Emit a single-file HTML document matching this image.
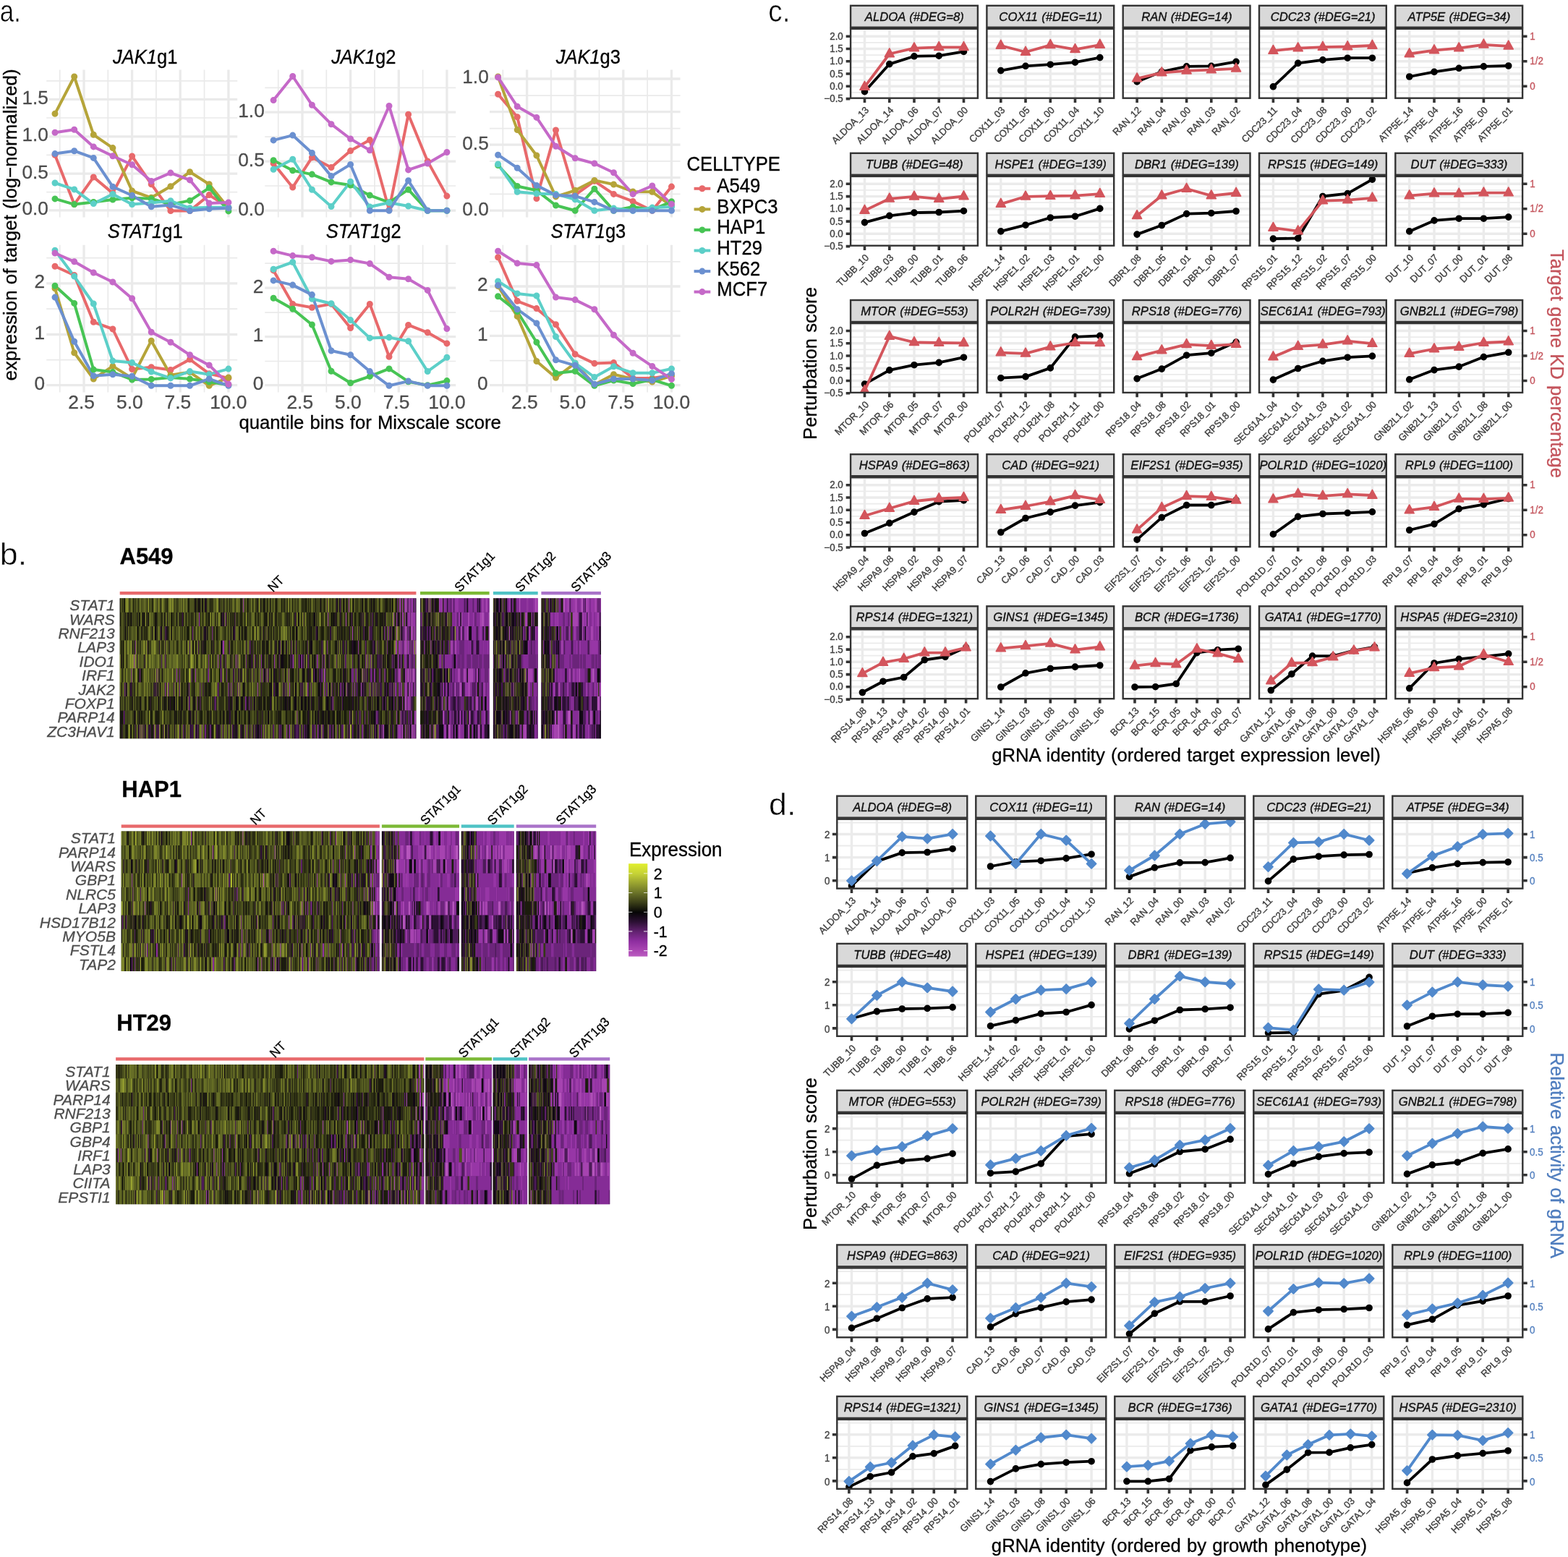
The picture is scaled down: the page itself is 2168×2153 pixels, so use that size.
<!DOCTYPE html>
<html lang="en"><head><meta charset="utf-8"><title>Figure</title>
<style>html,body{margin:0;padding:0;background:#fff}svg{display:block}text{font-family:'Liberation Sans', 'DejaVu Sans', sans-serif;stroke-width:0.3px}.al{fill:none;stroke-width:4;stroke-linejoin:round;stroke-linecap:round}.ap{fill:none;stroke-width:9;stroke-linecap:round}.cl{fill:none;stroke-width:3.8;stroke-linejoin:round;stroke-linecap:round}.cp{fill:none;stroke-width:9.6;stroke-linecap:round}.bd{fill:none;stroke:#333;stroke-width:2.4}.st{fill:#D9D9D9;stroke:#333;stroke-width:2.4}.stt{font-style:italic;stroke-width:0.35px;word-spacing:0.8px}.tk{stroke:#333;stroke-width:3.6;fill:none}.ws{word-spacing:1px}.g{stroke-width:0.35px}</style></head><body>
<svg xmlns="http://www.w3.org/2000/svg" width="2168" height="2153" viewBox="0 0 2168 2153">
<rect width="2168" height="2153" fill="#fff"/>
<g id="panel-a">
<path d="M64.2 111.8H328.2M64.2 163H328.2M64.2 214.3H328.2M64.2 265.6H328.2M82.7 96.6V300.5M149.3 96.6V300.5M215.9 96.6V300.5M282.5 96.6V300.5" stroke="#EAEAEA" stroke-width="1.7" fill="none"/>
<path d="M68 137.3H328.2M68 188.8H328.2M68 240.2H328.2M68 290.9H328.2M116 96.6V300.5M182.6 96.6V300.5M249.2 96.6V300.5M315.9 96.6V300.5" stroke="#EAEAEA" stroke-width="3.3" fill="none"/>
<text transform="translate(66.8,143.7)" font-size="26.2" fill="#4D4D4D" stroke="#4D4D4D" text-anchor="end">1.5</text>
<text transform="translate(66.8,195.2)" font-size="26.2" fill="#4D4D4D" stroke="#4D4D4D" text-anchor="end">1.0</text>
<text transform="translate(66.8,246.6)" font-size="26.2" fill="#4D4D4D" stroke="#4D4D4D" text-anchor="end">0.5</text>
<text transform="translate(66.8,297.3)" font-size="26.2" fill="#4D4D4D" stroke="#4D4D4D" text-anchor="end">0.0</text>
<text transform="translate(200.7,87.6) scale(1.0,1.05)" font-size="25.5" stroke="#000" text-anchor="middle"><tspan font-style="italic">JAK1</tspan>g1</text>
<polyline points="76,214.3 102.7,282.6 129.3,244.9 155.9,267.1 182.6,215.9 209.2,254.7 235.9,291.5 262.5,291.5 289.2,269.6 315.9,286.7" stroke="#E8696B" class="al"/>
<polyline points="76,157.3 102.7,106 129.3,186.3 155.9,204.6 182.6,264 209.2,273.3 235.9,257.8 262.5,237.7 289.2,254.7 315.9,287.8" stroke="#B5A439" class="al"/>
<polyline points="76,274.9 102.7,282.6 129.3,279.5 155.9,276 182.6,273.7 209.2,274.7 235.9,282.6 262.5,277.4 289.2,259.8 315.9,291.9" stroke="#47C454" class="al"/>
<polyline points="76,253 102.7,261.9 129.3,281.6 155.9,268.5 182.6,282.6 209.2,280.5 235.9,277.8 262.5,287.8 289.2,286.7 315.9,286.7" stroke="#5CCFC8" class="al"/>
<polyline points="76,212.6 102.7,208.7 129.3,218.4 155.9,258.2 182.6,270.2 209.2,285.7 235.9,283.6 262.5,291.5 289.2,288.8 315.9,287.8" stroke="#6B90D0" class="al"/>
<polyline points="76,183.2 102.7,179.3 129.3,202.9 155.9,215.7 182.6,227.7 209.2,250.5 235.9,239.1 262.5,248.9 289.2,281 315.9,279.9" stroke="#C569C8" class="al"/>
<path d="M76 214.3h0M102.7 282.6h0M129.3 244.9h0M155.9 267.1h0M182.6 215.9h0M209.2 254.7h0M235.9 291.5h0M262.5 291.5h0M289.2 269.6h0M315.9 286.7h0" stroke="#E8696B" class="ap"/>
<path d="M76 157.3h0M102.7 106h0M129.3 186.3h0M155.9 204.6h0M182.6 264h0M209.2 273.3h0M235.9 257.8h0M262.5 237.7h0M289.2 254.7h0M315.9 287.8h0" stroke="#B5A439" class="ap"/>
<path d="M76 274.9h0M102.7 282.6h0M129.3 279.5h0M155.9 276h0M182.6 273.7h0M209.2 274.7h0M235.9 282.6h0M262.5 277.4h0M289.2 259.8h0M315.9 291.9h0" stroke="#47C454" class="ap"/>
<path d="M76 253h0M102.7 261.9h0M129.3 281.6h0M155.9 268.5h0M182.6 282.6h0M209.2 280.5h0M235.9 277.8h0M262.5 287.8h0M289.2 286.7h0M315.9 286.7h0" stroke="#5CCFC8" class="ap"/>
<path d="M76 212.6h0M102.7 208.7h0M129.3 218.4h0M155.9 258.2h0M182.6 270.2h0M209.2 285.7h0M235.9 283.6h0M262.5 291.5h0M289.2 288.8h0M315.9 287.8h0" stroke="#6B90D0" class="ap"/>
<path d="M76 183.2h0M102.7 179.3h0M129.3 202.9h0M155.9 215.7h0M182.6 227.7h0M209.2 250.5h0M235.9 239.1h0M262.5 248.9h0M289.2 281h0M315.9 279.9h0" stroke="#C569C8" class="ap"/>
<path d="M366.3 121.4H630.2M366.3 189.1H630.2M366.3 257H630.2M384.7 96.6V300.5M451.3 96.6V300.5M518 96.6V300.5M584.6 96.6V300.5" stroke="#EAEAEA" stroke-width="1.7" fill="none"/>
<path d="M366.3 155.2H630.2M366.3 223.1H630.2M366.3 291.2H630.2M418 96.6V300.5M484.6 96.6V300.5M551.3 96.6V300.5M617.9 96.6V300.5" stroke="#EAEAEA" stroke-width="3.3" fill="none"/>
<text transform="translate(365.7,161.6)" font-size="26.2" fill="#4D4D4D" stroke="#4D4D4D" text-anchor="end">1.0</text>
<text transform="translate(365.7,229.5)" font-size="26.2" fill="#4D4D4D" stroke="#4D4D4D" text-anchor="end">0.5</text>
<text transform="translate(365.7,297.6)" font-size="26.2" fill="#4D4D4D" stroke="#4D4D4D" text-anchor="end">0.0</text>
<text transform="translate(502.75,87.6) scale(1.0,1.05)" font-size="25.5" stroke="#000" text-anchor="middle"><tspan font-style="italic">JAK1</tspan>g2</text>
<polyline points="378.1,226 404.7,259.1 431.4,217.7 458,231.6 484.6,208.6 511.3,193.5 538,290.2 564.6,158.3 591.2,222.9 617.9,271.1" stroke="#E8696B" class="al"/>
<polyline points="378.1,221.8 404.7,235.7 431.4,241.1 458,251.9 484.6,256 511.3,270.1 538,279.8 564.6,262.2 591.2,291.2 617.9,291.2" stroke="#47C454" class="al"/>
<polyline points="378.1,234.3 404.7,220.2 431.4,262.2 458,285.6 484.6,251.2 511.3,286 538,280.2 564.6,285 591.2,291.2 617.9,291.2" stroke="#5CCFC8" class="al"/>
<polyline points="378.1,193.9 404.7,187.1 431.4,211.5 458,243.6 484.6,227.4 511.3,291.2 538,291.2 564.6,249.8 591.2,291.2 617.9,291.2" stroke="#6B90D0" class="al"/>
<polyline points="378.1,138.6 404.7,105.5 431.4,145.2 458,171.7 484.6,192 511.3,207.8 538,146.5 564.6,234.9 591.2,226 617.9,210.5" stroke="#C569C8" class="al"/>
<path d="M378.1 226h0M404.7 259.1h0M431.4 217.7h0M458 231.6h0M484.6 208.6h0M511.3 193.5h0M538 290.2h0M564.6 158.3h0M591.2 222.9h0M617.9 271.1h0" stroke="#E8696B" class="ap"/>
<path d="M378.1 221.8h0M404.7 235.7h0M431.4 241.1h0M458 251.9h0M484.6 256h0M511.3 270.1h0M538 279.8h0M564.6 262.2h0M591.2 291.2h0M617.9 291.2h0" stroke="#47C454" class="ap"/>
<path d="M378.1 234.3h0M404.7 220.2h0M431.4 262.2h0M458 285.6h0M484.6 251.2h0M511.3 286h0M538 280.2h0M564.6 285h0M591.2 291.2h0M617.9 291.2h0" stroke="#5CCFC8" class="ap"/>
<path d="M378.1 193.9h0M404.7 187.1h0M431.4 211.5h0M458 243.6h0M484.6 227.4h0M511.3 291.2h0M538 291.2h0M564.6 249.8h0M591.2 291.2h0M617.9 291.2h0" stroke="#6B90D0" class="ap"/>
<path d="M378.1 138.6h0M404.7 105.5h0M431.4 145.2h0M458 171.7h0M484.6 192h0M511.3 207.8h0M538 146.5h0M564.6 234.9h0M591.2 226h0M617.9 210.5h0" stroke="#C569C8" class="ap"/>
<path d="M677 132.2H940.6M677 177.7H940.6M677 222.9H940.6M677 268.4H940.6M695.3 96.6V300.5M761.9 96.6V300.5M828.5 96.6V300.5M895.1 96.6V300.5" stroke="#EAEAEA" stroke-width="1.7" fill="none"/>
<path d="M677 109H940.6M677 154.6H940.6M677 200.1H940.6M677 245.7H940.6M677 291.2H940.6M728.6 96.6V300.5M795.2 96.6V300.5M861.8 96.6V300.5M928.5 96.6V300.5" stroke="#EAEAEA" stroke-width="3.3" fill="none"/>
<text transform="translate(675.7,115.4)" font-size="26.2" fill="#4D4D4D" stroke="#4D4D4D" text-anchor="end">1.0</text>
<text transform="translate(675.7,206.5)" font-size="26.2" fill="#4D4D4D" stroke="#4D4D4D" text-anchor="end">0.5</text>
<text transform="translate(675.7,297.6)" font-size="26.2" fill="#4D4D4D" stroke="#4D4D4D" text-anchor="end">0.0</text>
<text transform="translate(813.3,87.6) scale(1.0,1.05)" font-size="25.5" stroke="#000" text-anchor="middle"><tspan font-style="italic">JAK1</tspan>g3</text>
<polyline points="688.6,130.3 715.2,161.8 741.9,274.6 768.5,180 795.2,269.5 821.9,250.4 848.5,268.4 875.1,278.4 901.8,291.2 928.5,258.1" stroke="#E8696B" class="al"/>
<polyline points="688.6,105.9 715.2,179.6 741.9,215 768.5,271.9 795.2,263.3 821.9,249.4 848.5,255 875.1,264.9 901.8,265.3 928.5,285" stroke="#B5A439" class="al"/>
<polyline points="688.6,228.5 715.2,257.5 741.9,263.3 768.5,284 795.2,291.2 821.9,261.2 848.5,291.2 875.1,286 901.8,290.2 928.5,278.8" stroke="#47C454" class="al"/>
<polyline points="688.6,227 715.2,265.3 741.9,267.8 768.5,268.4 795.2,275.7 821.9,291.2 848.5,288.1 875.1,291.2 901.8,287.1 928.5,286" stroke="#5CCFC8" class="al"/>
<polyline points="688.6,214.2 715.2,232.2 741.9,256.4 768.5,269.9 795.2,271.1 821.9,279.4 848.5,291.2 875.1,291.2 901.8,291.2 928.5,291.2" stroke="#6B90D0" class="al"/>
<polyline points="688.6,106.9 715.2,147.3 741.9,162.4 768.5,202.2 795.2,218.7 821.9,226 848.5,238.8 875.1,268.4 901.8,257 928.5,282.3" stroke="#C569C8" class="al"/>
<path d="M688.6 130.3h0M715.2 161.8h0M741.9 274.6h0M768.5 180h0M795.2 269.5h0M821.9 250.4h0M848.5 268.4h0M875.1 278.4h0M901.8 291.2h0M928.5 258.1h0" stroke="#E8696B" class="ap"/>
<path d="M688.6 105.9h0M715.2 179.6h0M741.9 215h0M768.5 271.9h0M795.2 263.3h0M821.9 249.4h0M848.5 255h0M875.1 264.9h0M901.8 265.3h0M928.5 285h0" stroke="#B5A439" class="ap"/>
<path d="M688.6 228.5h0M715.2 257.5h0M741.9 263.3h0M768.5 284h0M795.2 291.2h0M821.9 261.2h0M848.5 291.2h0M875.1 286h0M901.8 290.2h0M928.5 278.8h0" stroke="#47C454" class="ap"/>
<path d="M688.6 227h0M715.2 265.3h0M741.9 267.8h0M768.5 268.4h0M795.2 275.7h0M821.9 291.2h0M848.5 288.1h0M875.1 291.2h0M901.8 287.1h0M928.5 286h0" stroke="#5CCFC8" class="ap"/>
<path d="M688.6 214.2h0M715.2 232.2h0M741.9 256.4h0M768.5 269.9h0M795.2 271.1h0M821.9 279.4h0M848.5 291.2h0M875.1 291.2h0M901.8 291.2h0M928.5 291.2h0" stroke="#6B90D0" class="ap"/>
<path d="M688.6 106.9h0M715.2 147.3h0M741.9 162.4h0M768.5 202.2h0M795.2 218.7h0M821.9 226h0M848.5 238.8h0M875.1 268.4h0M901.8 257h0M928.5 282.3h0" stroke="#C569C8" class="ap"/>
<path d="M64.2 356.7H328.2M64.2 427.1H328.2M64.2 497.7H328.2M82.7 338.7V542.6M149.3 338.7V542.6M215.9 338.7V542.6M282.5 338.7V542.6" stroke="#EAEAEA" stroke-width="1.7" fill="none"/>
<path d="M64.2 391.9H328.2M64.2 462.5H328.2M64.2 532.7H328.2M116 338.7V542.6M182.6 338.7V542.6M249.2 338.7V542.6M315.9 338.7V542.6" stroke="#EAEAEA" stroke-width="3.3" fill="none"/>
<text transform="translate(62.1,398.3)" font-size="26.2" fill="#4D4D4D" stroke="#4D4D4D" text-anchor="end">2</text>
<text transform="translate(62.1,468.9)" font-size="26.2" fill="#4D4D4D" stroke="#4D4D4D" text-anchor="end">1</text>
<text transform="translate(62.1,539.1)" font-size="26.2" fill="#4D4D4D" stroke="#4D4D4D" text-anchor="end">0</text>
<text transform="translate(112.67,565.4)" font-size="26.4" fill="#4D4D4D" stroke="#4D4D4D" text-anchor="middle">2.5</text>
<text transform="translate(179.3,565.4)" font-size="26.4" fill="#4D4D4D" stroke="#4D4D4D" text-anchor="middle">5.0</text>
<text transform="translate(245.92,565.4)" font-size="26.4" fill="#4D4D4D" stroke="#4D4D4D" text-anchor="middle">7.5</text>
<text transform="translate(315.85,565.4)" font-size="26.4" fill="#4D4D4D" stroke="#4D4D4D" text-anchor="middle">10.0</text>
<text transform="translate(200.7,329) scale(1.0,1.05)" font-size="25.5" stroke="#000" text-anchor="middle"><tspan font-style="italic">STAT1</tspan>g1</text>
<polyline points="76,368.3 102.7,380.5 129.3,445.3 155.9,455 182.6,510.5 209.2,507.8 235.9,511.5 262.5,497 289.2,516.7 315.9,522.9" stroke="#E8696B" class="al"/>
<polyline points="76,398.7 102.7,487.7 129.3,524 155.9,506.4 182.6,522.9 209.2,471.2 235.9,518.8 262.5,514.6 289.2,533.3 315.9,521.9" stroke="#B5A439" class="al"/>
<polyline points="76,395.2 102.7,419.4 129.3,511.1 155.9,514.6 182.6,525 209.2,524.4 235.9,521.9 262.5,524 289.2,528.1 315.9,532.2" stroke="#47C454" class="al"/>
<polyline points="76,346.3 102.7,382.1 129.3,420 155.9,499.1 182.6,501.6 209.2,514 235.9,522.9 262.5,513.6 289.2,517.7 315.9,510.1" stroke="#5CCFC8" class="al"/>
<polyline points="76,411.1 102.7,472.2 129.3,519.8 155.9,517.7 182.6,520.2 209.2,533.3 235.9,533.3 262.5,533.3 289.2,524 315.9,533.3" stroke="#6B90D0" class="al"/>
<polyline points="76,350 102.7,361.8 129.3,377 155.9,390 182.6,412.8 209.2,459.2 235.9,473.2 262.5,490.8 289.2,504.9 315.9,531.2" stroke="#C569C8" class="al"/>
<path d="M76 368.3h0M102.7 380.5h0M129.3 445.3h0M155.9 455h0M182.6 510.5h0M209.2 507.8h0M235.9 511.5h0M262.5 497h0M289.2 516.7h0M315.9 522.9h0" stroke="#E8696B" class="ap"/>
<path d="M76 398.7h0M102.7 487.7h0M129.3 524h0M155.9 506.4h0M182.6 522.9h0M209.2 471.2h0M235.9 518.8h0M262.5 514.6h0M289.2 533.3h0M315.9 521.9h0" stroke="#B5A439" class="ap"/>
<path d="M76 395.2h0M102.7 419.4h0M129.3 511.1h0M155.9 514.6h0M182.6 525h0M209.2 524.4h0M235.9 521.9h0M262.5 524h0M289.2 528.1h0M315.9 532.2h0" stroke="#47C454" class="ap"/>
<path d="M76 346.3h0M102.7 382.1h0M129.3 420h0M155.9 499.1h0M182.6 501.6h0M209.2 514h0M235.9 522.9h0M262.5 513.6h0M289.2 517.7h0M315.9 510.1h0" stroke="#5CCFC8" class="ap"/>
<path d="M76 411.1h0M102.7 472.2h0M129.3 519.8h0M155.9 517.7h0M182.6 520.2h0M209.2 533.3h0M235.9 533.3h0M262.5 533.3h0M289.2 524h0M315.9 533.3h0" stroke="#6B90D0" class="ap"/>
<path d="M76 350h0M102.7 361.8h0M129.3 377h0M155.9 390h0M182.6 412.8h0M209.2 459.2h0M235.9 473.2h0M262.5 490.8h0M289.2 504.9h0M315.9 531.2h0" stroke="#C569C8" class="ap"/>
<path d="M366.3 364.1H630.2M366.3 432.2H630.2M366.3 499.5H630.2M384.7 338.7V542.6M451.3 338.7V542.6M518 338.7V542.6M584.6 338.7V542.6" stroke="#EAEAEA" stroke-width="1.7" fill="none"/>
<path d="M366.3 398.1H630.2M366.3 465.6H630.2M366.3 532.7H630.2M418 338.7V542.6M484.6 338.7V542.6M551.3 338.7V542.6M617.9 338.7V542.6" stroke="#EAEAEA" stroke-width="3.3" fill="none"/>
<text transform="translate(364.3,404.5)" font-size="26.2" fill="#4D4D4D" stroke="#4D4D4D" text-anchor="end">2</text>
<text transform="translate(364.3,472)" font-size="26.2" fill="#4D4D4D" stroke="#4D4D4D" text-anchor="end">1</text>
<text transform="translate(364.3,539.1)" font-size="26.2" fill="#4D4D4D" stroke="#4D4D4D" text-anchor="end">0</text>
<text transform="translate(414.72,565.4)" font-size="26.4" fill="#4D4D4D" stroke="#4D4D4D" text-anchor="middle">2.5</text>
<text transform="translate(481.35,565.4)" font-size="26.4" fill="#4D4D4D" stroke="#4D4D4D" text-anchor="middle">5.0</text>
<text transform="translate(547.98,565.4)" font-size="26.4" fill="#4D4D4D" stroke="#4D4D4D" text-anchor="middle">7.5</text>
<text transform="translate(617.9,565.4)" font-size="26.4" fill="#4D4D4D" stroke="#4D4D4D" text-anchor="middle">10.0</text>
<text transform="translate(502.75,329) scale(1.0,1.05)" font-size="25.5" stroke="#000" text-anchor="middle"><tspan font-style="italic">STAT1</tspan>g2</text>
<polyline points="378.1,373.9 404.7,420.4 431.4,425.2 458,420.4 484.6,453.6 511.3,420.4 538,493.3 564.6,449.4 591.2,459.8 617.9,474.9" stroke="#E8696B" class="al"/>
<polyline points="378.1,412.2 404.7,427.3 431.4,449 458,513.2 484.6,529.5 511.3,520.4 538,509.9 564.6,527.7 591.2,532.7 617.9,526.6" stroke="#47C454" class="al"/>
<polyline points="378.1,372.2 404.7,362.5 431.4,413.2 458,419.8 484.6,442.6 511.3,467.4 538,466.6 564.6,471.8 591.2,513.6 617.9,494.3" stroke="#5CCFC8" class="al"/>
<polyline points="378.1,387.9 404.7,394.1 431.4,407.6 458,485 484.6,490.8 511.3,513.6 538,533.3 564.6,527.1 591.2,533.3 617.9,533.3" stroke="#6B90D0" class="al"/>
<polyline points="378.1,347.3 404.7,353.6 431.4,355.8 458,361.4 484.6,359.4 511.3,364.5 538,383.2 564.6,385.7 591.2,401.4 617.9,454.6" stroke="#C569C8" class="al"/>
<path d="M378.1 373.9h0M404.7 420.4h0M431.4 425.2h0M458 420.4h0M484.6 453.6h0M511.3 420.4h0M538 493.3h0M564.6 449.4h0M591.2 459.8h0M617.9 474.9h0" stroke="#E8696B" class="ap"/>
<path d="M378.1 412.2h0M404.7 427.3h0M431.4 449h0M458 513.2h0M484.6 529.5h0M511.3 520.4h0M538 509.9h0M564.6 527.7h0M591.2 532.7h0M617.9 526.6h0" stroke="#47C454" class="ap"/>
<path d="M378.1 372.2h0M404.7 362.5h0M431.4 413.2h0M458 419.8h0M484.6 442.6h0M511.3 467.4h0M538 466.6h0M564.6 471.8h0M591.2 513.6h0M617.9 494.3h0" stroke="#5CCFC8" class="ap"/>
<path d="M378.1 387.9h0M404.7 394.1h0M431.4 407.6h0M458 485h0M484.6 490.8h0M511.3 513.6h0M538 533.3h0M564.6 527.1h0M591.2 533.3h0M617.9 533.3h0" stroke="#6B90D0" class="ap"/>
<path d="M378.1 347.3h0M404.7 353.6h0M431.4 355.8h0M458 361.4h0M484.6 359.4h0M511.3 364.5h0M538 383.2h0M564.6 385.7h0M591.2 401.4h0M617.9 454.6h0" stroke="#C569C8" class="ap"/>
<path d="M677 361.8H940.6M677 430.4H940.6M677 498.7H940.6M695.3 338.7V542.6M761.9 338.7V542.6M828.5 338.7V542.6M895.1 338.7V542.6" stroke="#EAEAEA" stroke-width="1.7" fill="none"/>
<path d="M677 396H940.6M677 464.3H940.6M677 532.7H940.6M728.6 338.7V542.6M795.2 338.7V542.6M861.8 338.7V542.6M928.5 338.7V542.6" stroke="#EAEAEA" stroke-width="3.3" fill="none"/>
<text transform="translate(674.7,402.4)" font-size="26.2" fill="#4D4D4D" stroke="#4D4D4D" text-anchor="end">2</text>
<text transform="translate(674.7,470.7)" font-size="26.2" fill="#4D4D4D" stroke="#4D4D4D" text-anchor="end">1</text>
<text transform="translate(674.7,539.1)" font-size="26.2" fill="#4D4D4D" stroke="#4D4D4D" text-anchor="end">0</text>
<text transform="translate(725.28,565.4)" font-size="26.4" fill="#4D4D4D" stroke="#4D4D4D" text-anchor="middle">2.5</text>
<text transform="translate(791.9,565.4)" font-size="26.4" fill="#4D4D4D" stroke="#4D4D4D" text-anchor="middle">5.0</text>
<text transform="translate(858.53,565.4)" font-size="26.4" fill="#4D4D4D" stroke="#4D4D4D" text-anchor="middle">7.5</text>
<text transform="translate(928.45,565.4)" font-size="26.4" fill="#4D4D4D" stroke="#4D4D4D" text-anchor="middle">10.0</text>
<text transform="translate(813.3,329) scale(1.0,1.05)" font-size="25.5" stroke="#000" text-anchor="middle"><tspan font-style="italic">STAT1</tspan>g3</text>
<polyline points="688.6,355.8 715.2,416.3 741.9,426.6 768.5,448.8 795.2,489.8 821.9,502.6 848.5,501.6 875.1,522.9 901.8,522.9 928.5,518.8" stroke="#E8696B" class="al"/>
<polyline points="688.6,395.6 715.2,437.4 741.9,499.5 768.5,522.3 795.2,502.2 821.9,531.8 848.5,517.7 875.1,524 901.8,528.1 928.5,519.8" stroke="#B5A439" class="al"/>
<polyline points="688.6,409.7 715.2,430.8 741.9,473.2 768.5,516.1 795.2,513.2 821.9,533.3 848.5,526 875.1,530.6 901.8,525 928.5,533.3" stroke="#47C454" class="al"/>
<polyline points="688.6,389 715.2,405.9 741.9,409 768.5,465.6 795.2,502.2 821.9,521.5 848.5,506.8 875.1,515.7 901.8,515.7 928.5,509.9" stroke="#5CCFC8" class="al"/>
<polyline points="688.6,394.6 715.2,427.7 741.9,446.9 768.5,497.7 795.2,505.3 821.9,531.2 848.5,524 875.1,524 901.8,526 928.5,516.7" stroke="#6B90D0" class="al"/>
<polyline points="688.6,347.3 715.2,364.1 741.9,366.6 768.5,411.1 795.2,414.6 821.9,427.7 848.5,463.3 875.1,488.3 901.8,506.4 928.5,524.4" stroke="#C569C8" class="al"/>
<path d="M688.6 355.8h0M715.2 416.3h0M741.9 426.6h0M768.5 448.8h0M795.2 489.8h0M821.9 502.6h0M848.5 501.6h0M875.1 522.9h0M901.8 522.9h0M928.5 518.8h0" stroke="#E8696B" class="ap"/>
<path d="M688.6 395.6h0M715.2 437.4h0M741.9 499.5h0M768.5 522.3h0M795.2 502.2h0M821.9 531.8h0M848.5 517.7h0M875.1 524h0M901.8 528.1h0M928.5 519.8h0" stroke="#B5A439" class="ap"/>
<path d="M688.6 409.7h0M715.2 430.8h0M741.9 473.2h0M768.5 516.1h0M795.2 513.2h0M821.9 533.3h0M848.5 526h0M875.1 530.6h0M901.8 525h0M928.5 533.3h0" stroke="#47C454" class="ap"/>
<path d="M688.6 389h0M715.2 405.9h0M741.9 409h0M768.5 465.6h0M795.2 502.2h0M821.9 521.5h0M848.5 506.8h0M875.1 515.7h0M901.8 515.7h0M928.5 509.9h0" stroke="#5CCFC8" class="ap"/>
<path d="M688.6 394.6h0M715.2 427.7h0M741.9 446.9h0M768.5 497.7h0M795.2 505.3h0M821.9 531.2h0M848.5 524h0M875.1 524h0M901.8 526h0M928.5 516.7h0" stroke="#6B90D0" class="ap"/>
<path d="M688.6 347.3h0M715.2 364.1h0M741.9 366.6h0M768.5 411.1h0M795.2 414.6h0M821.9 427.7h0M848.5 463.3h0M875.1 488.3h0M901.8 506.4h0M928.5 524.4h0" stroke="#C569C8" class="ap"/>
<text transform="translate(23,311) rotate(-90) scale(1,1.03)" font-size="25.9" stroke="#000" text-anchor="middle" class="ws">expression of target (log−normalized)</text>
<text transform="translate(511.6,592.9) scale(1,1.03)" font-size="25.7" stroke="#000" text-anchor="middle" class="ws">quantile bins for Mixscale score</text>
<text transform="translate(949.5,235.8) scale(1,1.04)" font-size="25.7" stroke="#000">CELLTYPE</text>
<path d="M959.6 260.8H982.3" stroke="#E8696B" stroke-width="4" fill="none"/>
<circle cx="970.9" cy="260.8" r="4.5" fill="#E8696B"/>
<text transform="translate(991.3,266.3) scale(1,1.04)" font-size="25.7" stroke="#000">A549</text>
<path d="M959.6 289.4H982.3" stroke="#B5A439" stroke-width="4" fill="none"/>
<circle cx="970.9" cy="289.4" r="4.5" fill="#B5A439"/>
<text transform="translate(991.3,294.87) scale(1,1.04)" font-size="25.7" stroke="#000">BXPC3</text>
<path d="M959.6 317.9H982.3" stroke="#47C454" stroke-width="4" fill="none"/>
<circle cx="970.9" cy="317.9" r="4.5" fill="#47C454"/>
<text transform="translate(991.3,323.44) scale(1,1.04)" font-size="25.7" stroke="#000">HAP1</text>
<path d="M959.6 346.5H982.3" stroke="#5CCFC8" stroke-width="4" fill="none"/>
<circle cx="970.9" cy="346.5" r="4.5" fill="#5CCFC8"/>
<text transform="translate(991.3,352.01) scale(1,1.04)" font-size="25.7" stroke="#000">HT29</text>
<path d="M959.6 375.1H982.3" stroke="#6B90D0" stroke-width="4" fill="none"/>
<circle cx="970.9" cy="375.1" r="4.5" fill="#6B90D0"/>
<text transform="translate(991.3,380.58) scale(1,1.04)" font-size="25.7" stroke="#000">K562</text>
<path d="M959.6 403.6H982.3" stroke="#C569C8" stroke-width="4" fill="none"/>
<circle cx="970.9" cy="403.6" r="4.5" fill="#C569C8"/>
<text transform="translate(991.3,409.15) scale(1,1.04)" font-size="25.7" stroke="#000">MCF7</text>
</g>
<g id="panel-b">
<g id="hm-a549">
<text transform="translate(165.5,780.3) scale(1,1.03)" font-size="31" stroke="#000" font-weight="bold">A549</text>
<text transform="translate(158.6,844.29)" font-size="21.0" fill="#4D4D4D" stroke="#4D4D4D" text-anchor="end" font-style="italic">STAT1</text>
<text transform="translate(158.6,863.68)" font-size="21.0" fill="#4D4D4D" stroke="#4D4D4D" text-anchor="end" font-style="italic">WARS</text>
<text transform="translate(158.6,883.07)" font-size="21.0" fill="#4D4D4D" stroke="#4D4D4D" text-anchor="end" font-style="italic">RNF213</text>
<text transform="translate(158.6,902.46)" font-size="21.0" fill="#4D4D4D" stroke="#4D4D4D" text-anchor="end" font-style="italic">LAP3</text>
<text transform="translate(158.6,921.85)" font-size="21.0" fill="#4D4D4D" stroke="#4D4D4D" text-anchor="end" font-style="italic">IDO1</text>
<text transform="translate(158.6,941.24)" font-size="21.0" fill="#4D4D4D" stroke="#4D4D4D" text-anchor="end" font-style="italic">IRF1</text>
<text transform="translate(158.6,960.63)" font-size="21.0" fill="#4D4D4D" stroke="#4D4D4D" text-anchor="end" font-style="italic">JAK2</text>
<text transform="translate(158.6,980.02)" font-size="21.0" fill="#4D4D4D" stroke="#4D4D4D" text-anchor="end" font-style="italic">FOXP1</text>
<text transform="translate(158.6,999.41)" font-size="21.0" fill="#4D4D4D" stroke="#4D4D4D" text-anchor="end" font-style="italic">PARP14</text>
<text transform="translate(158.6,1018.8)" font-size="21.0" fill="#4D4D4D" stroke="#4D4D4D" text-anchor="end" font-style="italic">ZC3HAV1</text>
<rect x="165.7" y="818" width="409.7" height="4.4" fill="#E8696B"/>
<text transform="translate(377.55,819.5) rotate(-45) scale(1,1.04)" font-size="17.2" stroke="#000">NT</text>
<rect x="165.7" y="827.3" width="409.7" height="193.9" fill="#3A3A22"/>
<g transform="translate(165.7,827.3) scale(1.3006,19.3900)" fill="none" stroke-width="1.004">
<path d="M304 0.5h1M291 1.5h1m18 0h1M294 2.5h1m9 0h1m4 0h1m1 0h1M305 3.5h1m3 0h1M217 5.5h1m80 0h1m7 0h1m1 0h1m2 0h1h1M256 6.5h1m42 0h1m7 0h1M303 7.5h1M280 9.5h1m19 0h1m9 0h1m1 0h1" stroke="#B555BC"/>
<path d="M131 0.5h1m163 0h1m4 0h1m2 0h1m3 0h1M221 1.5h1m76 0h1m1 0h1m2 0h1M247 2.5h1m55 0h1m6 0h1m2 0h1M294 3.5h1m3 0h1m3 0h1h1h1m2 0h1m4 0h1m1 0h1M15 4.5h1m168 0h1m24 0h1M258 5.5h1m37 0h1h1m7 0h1m3 0h1M48 6.5h1m97 0h1m102 0h1m38 0h1m14 0h1m9 0h1M304 7.5h1m3 0h1M298 8.5h1m14 0h1M207 9.5h1m87 0h1m7 0h1m1 0h1" stroke="#A643B0"/>
<path d="M297 0.5h1h1m6 0h1m2 0h1m1 0h1h1M84 1.5h1m27 0h1m127 0h1m53 0h1m6 0h1m4 0h1h1h1m2 0h1h1h1M265 2.5h1m15 0h1m16 0h1m6 0h1M109 3.5h1h1m182 0h1m3 0h1m1 0h1m11 0h1M164 4.5h1m25 0h1m2 0h1m21 0h1m45 0h1m27 0h1m5 0h1m12 0h1M60 5.5h1m19 0h1m68 0h1m120 0h1m10 0h1m13 0h1m7 0h1h1m8 0h1M5 6.5h1m109 0h1m64 0h1m60 0h1m51 0h1m10 0h1h1m2 0h1m1 0h1M226 7.5h1m73 0h1m5 0h1h1M255 8.5h1m38 0h1m19 0h1M180 9.5h1m45 0h1m31 0h1m19 0h1m17 0h1h1h1m8 0h1m3 0h1" stroke="#9736A6"/>
<path d="M243 0.5h1m58 0h1m6 0h1m3 0h1M309 1.5h1M98 2.5h1m185 0h1m17 0h1m4 0h1m4 0h1M16 3.5h1m121 0h1m114 0h1m7 0h1m34 0h1m9 0h1M104 4.5h1m18 0h1m26 0h1m44 0h1m95 0h1m4 0h1m1 0h1m3 0h1h1h1m2 0h1m1 0h1m2 0h1M12 5.5h1m26 0h1m54 0h1m12 0h1m44 0h1m4 0h1m21 0h1m32 0h1m33 0h1m1 0h1m2 0h1m10 0h1m4 0h1m8 0h1m30 0h1M51 6.5h1m52 0h1m13 0h1m6 0h1m66 0h1m6 0h1m17 0h1m7 0h1m9 0h1m29 0h1m6 0h1m19 0h1m4 0h1m11 0h1m1 0h1M73 7.5h1m27 0h1m31 0h1m157 0h1m13 0h1M4 8.5h1m183 0h1m55 0h1m27 0h1m29 0h1m6 0h1M36 9.5h1m2 0h1m56 0h1m72 0h1m7 0h1m27 0h1m4 0h1m4 0h1m83 0h1m13 0h1" stroke="#852C96"/>
<path d="M268 1.5h1m36 0h1m8 0h1M77 2.5h1m181 0h1m26 0h1m1 0h1m12 0h1m12 0h1M116 3.5h1m65 0h1m37 0h1m63 0h1m15 0h1h1M48 4.5h1m45 0h1m12 0h1m4 0h1m12 0h1m8 0h1m8 0h1m25 0h1m30 0h1m9 0h1m6 0h1m21 0h1m23 0h1m2 0h1m7 0h1m3 0h1m20 0h1m5 0h1m5 0h1m1 0h1M21 5.5h1m41 0h1m12 0h1m36 0h1m41 0h1m50 0h1m7 0h1h1m2 0h1m28 0h1m2 0h1m9 0h1m5 0h1m4 0h1m20 0h1h1m16 0h1M38 6.5h1m24 0h1m9 0h1m11 0h1m89 0h1m43 0h1m14 0h1m2 0h1m9 0h1m20 0h1m17 0h1m3 0h1m5 0h1m1 0h1m3 0h1M82 7.5h1m2 0h1m51 0h1m141 0h1m2 0h1m11 0h1m14 0h1M251 8.5h1m8 0h1m12 0h1m25 0h1m7 0h1m2 0h1M22 9.5h1m18 0h1m25 0h1m14 0h1m4 0h1m2 0h1h1m17 0h1m9 0h1m13 0h1m8 0h1m7 0h1m12 0h1m7 0h1m21 0h1m2 0h1m34 0h1m5 0h1m4 0h1m1 0h1m2 0h1m9 0h1m7 0h1m5 0h1m3 0h1h1m2 0h1m10 0h1m23 0h1" stroke="#6B247A"/>
<path d="M234 0.5h1m71 0h1m5 0h1m1 0h1M66 1.5h1m42 0h1m12 0h1m63 0h1m59 0h1m11 0h1M48 2.5h1m218 0h1m32 0h1m5 0h1M74 3.5h1m8 0h1m86 0h1m16 0h1m11 0h1m15 0h1m21 0h1m2 0h1m28 0h1m3 0h1m34 0h1M44 4.5h1m95 0h1m40 0h1m1 0h1m8 0h1m29 0h1m7 0h1m9 0h1m6 0h1m20 0h1m7 0h1m33 0h1M93 5.5h1m27 0h1m4 0h1m15 0h1m125 0h1m6 0h1m6 0h1m11 0h1m19 0h1M36 6.5h1m20 0h1m30 0h1m38 0h1m36 0h1m8 0h1m3 0h1m16 0h1m5 0h1m2 0h1m9 0h1m6 0h1m7 0h1m22 0h1h1m6 0h1m10 0h1m3 0h1m1 0h1m1 0h1m4 0h1m10 0h1m17 0h1m1 0h1M134 7.5h1m4 0h1m96 0h1m26 0h1m38 0h1m8 0h1M264 8.5h1m9 0h1m26 0h1m2 0h1m1 0h1M16 9.5h1m3 0h1m3 0h1m7 0h1m13 0h1m4 0h1m11 0h1m5 0h1m5 0h1m1 0h1m2 0h1m14 0h1m10 0h1m29 0h1m2 0h1m8 0h1m4 0h1m33 0h1h1h1m8 0h1m12 0h1m1 0h1m2 0h1m5 0h1h1h1m10 0h1h1m15 0h1m1 0h1m13 0h1" stroke="#4C1B58"/>
<path d="M91 0.5h1m128 0h1m9 0h1M195 1.5h1m33 0h1m4 0h1m21 0h1m5 0h1m3 0h1m5 0h1m9 0h1m12 0h1M43 2.5h1m5 0h1m39 0h1m1 0h1m29 0h1h1m29 0h1m2 0h1m52 0h1h1m13 0h1h1m19 0h1m8 0h1m12 0h1m1 0h1M29 3.5h1m12 0h1m5 0h1m39 0h1m10 0h1m34 0h1m6 0h1m23 0h1m11 0h1m36 0h1m17 0h1m14 0h1m20 0h1m1 0h1m4 0h1m6 0h1m27 0h1M18 4.5h1m7 0h1m92 0h1m27 0h1m5 0h1m4 0h1m23 0h1m16 0h1m54 0h1m20 0h1M41 5.5h1m66 0h1m11 0h1m8 0h1m5 0h1m3 0h1m24 0h1m4 0h1m3 0h1m15 0h1m10 0h1m1 0h1m6 0h1m27 0h1m2 0h1m13 0h1m23 0h1m8 0h1m13 0h1M7 6.5h1m3 0h1h1m27 0h1m75 0h1m3 0h1m29 0h1m12 0h1m4 0h1m62 0h1m11 0h1m1 0h1m11 0h1h1m2 0h1m5 0h1m9 0h1m3 0h1m5 0h1M32 7.5h1m20 0h1m20 0h1m25 0h1m1 0h1m12 0h1h1m2 0h1m22 0h1m17 0h1m17 0h1m24 0h1m7 0h1m12 0h1h1m21 0h1m5 0h1m5 0h1m8 0h1m18 0h1m9 0h1m12 0h1M75 8.5h1m5 0h1m34 0h1h1m28 0h1m4 0h1m48 0h1m10 0h1m34 0h1m7 0h1m20 0h1m9 0h1m3 0h1m10 0h1m2 0h1m4 0h1m3 0h1M2 9.5h1m23 0h1h1m2 0h1h1m26 0h1m15 0h1m1 0h1m6 0h1m18 0h1h1h1m9 0h1m5 0h1m1 0h1m1 0h1m3 0h1h1m14 0h1h1m16 0h1m7 0h1m8 0h1m3 0h1m1 0h1h1m3 0h1m4 0h1m8 0h1m15 0h1m27 0h1m12 0h1m10 0h1m12 0h1m1 0h1m6 0h1m6 0h1m6 0h1h1" stroke="#2C1034"/>
<path d="M80 0.5h1m2 0h1m1 0h1m1 0h1m2 0h1m15 0h1m3 0h1m18 0h1m16 0h1m2 0h1m3 0h1m5 0h1m15 0h1m37 0h1m17 0h1m1 0h1m4 0h1m2 0h1m6 0h1m8 0h1m3 0h1m5 0h1m2 0h1m11 0h1m4 0h1m6 0h1M5 1.5h1m2 0h1m3 0h1m5 0h1m5 0h1m1 0h1m1 0h1m1 0h1m7 0h1m8 0h1m2 0h1m9 0h1m2 0h1m3 0h1m12 0h1m20 0h1m6 0h1m1 0h1m45 0h1m2 0h1m1 0h1m3 0h1m12 0h1m10 0h1m16 0h1h1m1 0h1m17 0h1m16 0h1m24 0h1m3 0h1m5 0h1m1 0h1m6 0h1m7 0h1m7 0h1M5 2.5h1m2 0h1m14 0h1m10 0h1m2 0h1h1m5 0h1m5 0h1m3 0h1m35 0h1m2 0h1m24 0h1m1 0h1m8 0h1m2 0h1m1 0h1m10 0h1m3 0h1m7 0h1m5 0h1m17 0h1m5 0h1h1m10 0h1m3 0h1m6 0h1m10 0h1m9 0h1m3 0h1m3 0h1m18 0h1m2 0h1m14 0h1m3 0h1m6 0h1m2 0h1h1m7 0h1m8 0h1M13 3.5h1m38 0h1m18 0h1m5 0h1m2 0h1m5 0h1m3 0h1m6 0h1m9 0h1h1m30 0h1m6 0h1m4 0h1m1 0h1m2 0h1m3 0h1m5 0h1m2 0h1m2 0h1h1m10 0h1m10 0h1m6 0h1h1h1m7 0h1m9 0h1m7 0h1m3 0h1m3 0h1m7 0h1m1 0h1h1h1m4 0h1m15 0h1m15 0h1M1 4.5h1m71 0h1m24 0h1m7 0h1m3 0h1m26 0h1m1 0h1m15 0h1m15 0h1h1h1m5 0h1m11 0h1m2 0h1m2 0h1m6 0h1m2 0h1m27 0h1m1 0h1m15 0h1m15 0h1m3 0h1m6 0h1m1 0h1m1 0h1h1m4 0h1m2 0h1m6 0h1m5 0h1M19 5.5h1m16 0h1m8 0h1m11 0h1m31 0h1m33 0h1m4 0h1m3 0h1m13 0h1m6 0h1m9 0h1m12 0h1m4 0h1m2 0h1m9 0h1h1m3 0h1m5 0h1m1 0h1h1m2 0h1m1 0h1m13 0h1m10 0h1m5 0h1m8 0h1m2 0h1m6 0h1m8 0h1m15 0h1m2 0h1m10 0h1M15 6.5h1m44 0h1m10 0h1m7 0h1m11 0h1m13 0h1m3 0h1m21 0h1h1m23 0h1m3 0h1h1m4 0h1h1m16 0h1m1 0h1h1m23 0h1h1m9 0h1h1m9 0h1m4 0h1h1m2 0h1m12 0h1m26 0h1m1 0h1m4 0h1m16 0h1M5 7.5h1m7 0h1m8 0h1m18 0h1m3 0h1m1 0h1m1 0h1m1 0h1m5 0h1h1m1 0h1m4 0h1h1m4 0h1m6 0h1h1m16 0h1m1 0h1m6 0h1m12 0h1m4 0h1h1h1m3 0h1h1m4 0h1m7 0h1m1 0h1m2 0h1m1 0h1m3 0h1m4 0h1m7 0h1m3 0h1m3 0h1h1m3 0h1m4 0h1h1h1m4 0h1h1m2 0h1h1m2 0h1h1m3 0h1m6 0h1m1 0h1m4 0h1h1h1m10 0h1m1 0h1m2 0h1m5 0h1m1 0h1m2 0h1m2 0h1m14 0h1m4 0h1m1 0h1h1h1m4 0h1h1m4 0h1m2 0h1h1m5 0h1m1 0h1M1 8.5h1m3 0h1m9 0h1h1m3 0h1m17 0h1m19 0h1m3 0h1m2 0h1m2 0h1m5 0h1m3 0h1m13 0h1m3 0h1m5 0h1m7 0h1m2 0h1m8 0h1h1m13 0h1m19 0h1h1m9 0h1m30 0h1m5 0h1m2 0h1m1 0h1m4 0h1h1m1 0h1m2 0h1h1m4 0h1m3 0h1m2 0h1m17 0h1m14 0h1m2 0h1h1m10 0h1m5 0h1M6 9.5h1m4 0h1m7 0h1m20 0h1m7 0h1h1m22 0h1m8 0h1m12 0h1m2 0h1m7 0h1m11 0h1m5 0h1m7 0h1m14 0h1h1m8 0h1m3 0h1m36 0h1m1 0h1h1m5 0h1m5 0h1m15 0h1m24 0h1m6 0h1m1 0h1m7 0h1m2 0h1m3 0h1m3 0h1h1h1h1m4 0h1m3 0h1" stroke="#110914"/>
<path d="M0 0.5h1m1 0h1m1 0h1h1m8 0h1m4 0h1m14 0h1m15 0h1m21 0h1h1m5 0h1m4 0h1m3 0h1m3 0h1m3 0h1m1 0h1m9 0h1m7 0h1m11 0h1m6 0h1h1m4 0h1m10 0h1m4 0h1m7 0h1h1m4 0h1m8 0h1m2 0h1m5 0h1m3 0h1m1 0h1m1 0h1h1m1 0h1m1 0h1m5 0h1m8 0h1m5 0h1m13 0h1m9 0h1m7 0h1m2 0h1m3 0h1m2 0h1m3 0h1m6 0h1m6 0h1h1m4 0h1h1M0 1.5h1m8 0h1m1 0h1m8 0h1h1m3 0h1m11 0h1m1 0h1m4 0h1m9 0h1h1m9 0h1m4 0h1m2 0h1m2 0h1m8 0h1m5 0h1m2 0h1h1m1 0h1m9 0h1m5 0h1m1 0h1m1 0h1m1 0h1m1 0h1m2 0h1m3 0h1h1m2 0h1m2 0h1m2 0h1m5 0h1m2 0h1m5 0h1h1h1m10 0h1m9 0h1m3 0h1m4 0h1m1 0h1m2 0h1m2 0h1m5 0h1m1 0h1h1m2 0h1m5 0h1m2 0h1m4 0h1m4 0h1h1h1m1 0h1m1 0h1m4 0h1m6 0h1m2 0h1m1 0h1m1 0h1h1m3 0h1h1m5 0h1m1 0h1m7 0h1m4 0h1h1h1m13 0h1m6 0h1M6 2.5h1m3 0h1m7 0h1h1m6 0h1m1 0h1m23 0h1m6 0h1m6 0h1m4 0h1h1h1m2 0h1m2 0h1m6 0h1m13 0h1m1 0h1h1m8 0h1m2 0h1m10 0h1h1m2 0h1m2 0h1m4 0h1m2 0h1m11 0h1m7 0h1m5 0h1m2 0h1m7 0h1m4 0h1h1h1m7 0h1m7 0h1h1m3 0h1m7 0h1h1h1m16 0h1m2 0h1m1 0h1m2 0h1m1 0h1m4 0h1m2 0h1m3 0h1h1m3 0h1m1 0h1h1m5 0h1m1 0h1m5 0h1m5 0h1M1 3.5h1m1 0h1m11 0h1m3 0h1m1 0h1m8 0h1m1 0h1m11 0h1m1 0h1m10 0h1m3 0h1m3 0h1m12 0h1m2 0h1m7 0h1m1 0h1m11 0h1m11 0h1m2 0h1h1m2 0h1m7 0h1m12 0h1m4 0h1m3 0h1m2 0h1m1 0h1m10 0h1m7 0h1m2 0h1m1 0h1m6 0h1m1 0h1m6 0h1h1m2 0h1m7 0h1m9 0h1m6 0h1m1 0h1h1m6 0h1m4 0h1m2 0h1h1m5 0h1h1m3 0h1m3 0h1m1 0h1m3 0h1h1m9 0h1m3 0h1m3 0h1h1m2 0h1h1M3 4.5h1m62 0h1m1 0h1m10 0h1m1 0h1h1m13 0h1m20 0h1m3 0h1m7 0h1m1 0h1h1m5 0h1m2 0h1m2 0h1m6 0h1h1m6 0h1h1m2 0h1m3 0h1h1m5 0h1h1h1h1m2 0h1m6 0h1m1 0h1m11 0h1m4 0h1m6 0h1m2 0h1m2 0h1h1h1m4 0h1m22 0h1m7 0h1h1m1 0h1m16 0h1m8 0h1m1 0h1m3 0h1m1 0h1m2 0h1M3 5.5h1m1 0h1m8 0h1m5 0h1m1 0h1h1m44 0h1m1 0h1m1 0h1m4 0h1h1m17 0h1h1m3 0h1m3 0h1h1m4 0h1m3 0h1h1m8 0h1m10 0h1m17 0h1m3 0h1m1 0h1h1m3 0h1h1m4 0h1m3 0h1m6 0h1h1m3 0h1m8 0h1m4 0h1m19 0h1m6 0h1h1m4 0h1h1m3 0h1m2 0h1m2 0h1m9 0h1m9 0h1m3 0h1m7 0h1m5 0h1m1 0h1h1m3 0h1M2 6.5h1m3 0h1m16 0h1m9 0h1m3 0h1m5 0h1m5 0h1m15 0h1h1m5 0h1m3 0h1m1 0h1m13 0h1m1 0h1h1h1m11 0h1m3 0h1m22 0h1m3 0h1m12 0h1m1 0h1m3 0h1h1m5 0h1m8 0h1m16 0h1m1 0h1m7 0h1m8 0h1m3 0h1h1m10 0h1m3 0h1m5 0h1m7 0h1m8 0h1h1m5 0h1m24 0h1M0 7.5h1m9 0h1m1 0h1m2 0h1m2 0h1m2 0h1m4 0h1h1m2 0h1h1m1 0h1m4 0h1m9 0h1m3 0h1m1 0h1h1h1m5 0h1h1m6 0h1m12 0h1h1m1 0h1m5 0h1m14 0h1m1 0h1m3 0h1m3 0h1m10 0h1m7 0h1m10 0h1m1 0h1m2 0h1h1m2 0h1h1h1m2 0h1m2 0h1m8 0h1h1m2 0h1m1 0h1m1 0h1m8 0h1m3 0h1m3 0h1m5 0h1m1 0h1m6 0h1m8 0h1m6 0h1m1 0h1m6 0h1h1h1h1h1m1 0h1m1 0h1m3 0h1m3 0h1m3 0h1m5 0h1h1m12 0h1m4 0h1m4 0h1m3 0h1m6 0h1m1 0h1m10 0h1M0 8.5h1m1 0h1h1m3 0h1m14 0h1h1m2 0h1m3 0h1m1 0h1h1h1m4 0h1h1h1m5 0h1m5 0h1m5 0h1h1m3 0h1m5 0h1m2 0h1m3 0h1m7 0h1h1h1m2 0h1m2 0h1h1m4 0h1m6 0h1h1m1 0h1m4 0h1h1m3 0h1m4 0h1m1 0h1h1m1 0h1m2 0h1h1m2 0h1m1 0h1m6 0h1m3 0h1m5 0h1m4 0h1m5 0h1m2 0h1h1h1m4 0h1h1m3 0h1m1 0h1h1h1m4 0h1h1m2 0h1h1h1h1m3 0h1m5 0h1m5 0h1h1m4 0h1m3 0h1m1 0h1h1m1 0h1m1 0h1m1 0h1h1m2 0h1m1 0h1h1h1m4 0h1m2 0h1m1 0h1m5 0h1m2 0h1m2 0h1m2 0h1m2 0h1h1m7 0h1h1m4 0h1m6 0h1m4 0h1h1m14 0h1M0 9.5h1h1m5 0h1h1m3 0h1m1 0h1m18 0h1h1h1m2 0h1m4 0h1h1m7 0h1m2 0h1m8 0h1m3 0h1m23 0h1m5 0h1h1m21 0h1m8 0h1m6 0h1m3 0h1m7 0h1m1 0h1m16 0h1m3 0h1h1m18 0h1m8 0h1m6 0h1m8 0h1h1h1m5 0h1m1 0h1m4 0h1m1 0h1m5 0h1m2 0h1m2 0h1m2 0h1h1m13 0h1m37 0h1m3 0h1" stroke="#1B1C0D"/>
<path d="M10 0.5h1m5 0h1m6 0h1m5 0h1m1 0h1m3 0h1m4 0h1m1 0h1h1m4 0h1h1m7 0h1m2 0h1h1m4 0h1m14 0h1h1m12 0h1m1 0h1m7 0h1m7 0h1h1m3 0h1m4 0h1m9 0h1m4 0h1m5 0h1h1m4 0h1m3 0h1m1 0h1m3 0h1m1 0h1m4 0h1m4 0h1h1h1m2 0h1h1m7 0h1m7 0h1m1 0h1m8 0h1m1 0h1m2 0h1m1 0h1m1 0h1m1 0h1m1 0h1m6 0h1h1m2 0h1m5 0h1m4 0h1m4 0h1m4 0h1h1h1h1m6 0h1m5 0h1m1 0h1m2 0h1h1m2 0h1m4 0h1h1m3 0h1h1m5 0h1h1m2 0h1m2 0h1m1 0h1M1 1.5h1m1 0h1m2 0h1m3 0h1m3 0h1m1 0h1m6 0h1m5 0h1m6 0h1m6 0h1m1 0h1m2 0h1m3 0h1m3 0h1h1m6 0h1m10 0h1m1 0h1h1m8 0h1h1m3 0h1h1m9 0h1m14 0h1m1 0h1m4 0h1m1 0h1m2 0h1m2 0h1m2 0h1m6 0h1m2 0h1m2 0h1m8 0h1m3 0h1m5 0h1h1h1h1m5 0h1m1 0h1m2 0h1m15 0h1m1 0h1m2 0h1h1m10 0h1h1m1 0h1m3 0h1m10 0h1m2 0h1m1 0h1h1m1 0h1m9 0h1m1 0h1m3 0h1m1 0h1m4 0h1m2 0h1m6 0h1h1m4 0h1m5 0h1m6 0h1m3 0h1M0 2.5h1h1m1 0h1m16 0h1m1 0h1m2 0h1m1 0h1m1 0h1m9 0h1m7 0h1m3 0h1m3 0h1m1 0h1m3 0h1m2 0h1m3 0h1h1m13 0h1m1 0h1m6 0h1m3 0h1h1m1 0h1m4 0h1m5 0h1h1m5 0h1m24 0h1m15 0h1h1h1m4 0h1h1m2 0h1m24 0h1m1 0h1m3 0h1m3 0h1h1m6 0h1h1m5 0h1h1m1 0h1m3 0h1m5 0h1m1 0h1m2 0h1m4 0h1m3 0h1m2 0h1m23 0h1h1h1m3 0h1m2 0h1m6 0h1m2 0h1m3 0h1M2 3.5h1m1 0h1m1 0h1m11 0h1m8 0h1m11 0h1m1 0h1m3 0h1m14 0h1m9 0h1m13 0h1m2 0h1m6 0h1m3 0h1m1 0h1m4 0h1m14 0h1m4 0h1m1 0h1h1m2 0h1m5 0h1m2 0h1m3 0h1m4 0h1m8 0h1m2 0h1m2 0h1m9 0h1m10 0h1m7 0h1h1m13 0h1m1 0h1h1m1 0h1m9 0h1h1m18 0h1m10 0h1m9 0h1h1m10 0h1m1 0h1m9 0h1M2 4.5h1m1 0h1m1 0h1h1m13 0h1m3 0h1m3 0h1m12 0h1m6 0h1m36 0h1h1m11 0h1m1 0h1h1m8 0h1m6 0h1m16 0h1h1m8 0h1h1m10 0h1m3 0h1m8 0h1m14 0h1m19 0h1m2 0h1m3 0h1m1 0h1m9 0h1h1m7 0h1m10 0h1m3 0h1m3 0h1m6 0h1m11 0h1h1m6 0h1m1 0h1m5 0h1M2 5.5h1m12 0h1m16 0h1m1 0h1m7 0h1m1 0h1m9 0h1m7 0h1m2 0h1h1h1m3 0h1m11 0h1m7 0h1m20 0h1m24 0h1h1m28 0h1h1m1 0h1m19 0h1m7 0h1m20 0h1m6 0h1m4 0h1h1m26 0h1m1 0h1m11 0h1h1m5 0h1m8 0h1m9 0h1h1M1 6.5h1m2 0h1m5 0h1m2 0h1m4 0h1h1m5 0h1m1 0h1m2 0h1m4 0h1m3 0h1m2 0h1m2 0h1m1 0h1m20 0h1h1m7 0h1m11 0h1h1m2 0h1m9 0h1m3 0h1m2 0h1m2 0h1m7 0h1h1m1 0h1m5 0h1m5 0h1h1m4 0h1m1 0h1m2 0h1m1 0h1m1 0h1m1 0h1m17 0h1m9 0h1h1h1m6 0h1m5 0h1m11 0h1m18 0h1m1 0h1m18 0h1m1 0h1m22 0h1m1 0h1m24 0h1M2 7.5h1m5 0h1m2 0h1m5 0h1m1 0h1h1m7 0h1m5 0h1h1h1m3 0h1m1 0h1h1m2 0h1m17 0h1m3 0h1m8 0h1m2 0h1m8 0h1h1h1m1 0h1h1m4 0h1m6 0h1m1 0h1m1 0h1m1 0h1m1 0h1m6 0h1m4 0h1m4 0h1h1m5 0h1m1 0h1m5 0h1m21 0h1h1h1m1 0h1m11 0h1m4 0h1m5 0h1m3 0h1m8 0h1h1h1m4 0h1m7 0h1m3 0h1m2 0h1m2 0h1m1 0h1m13 0h1m2 0h1m4 0h1m4 0h1m7 0h1m6 0h1m7 0h1m7 0h1M9 8.5h1m3 0h1h1m3 0h1h1m1 0h1m2 0h1h1m11 0h1m4 0h1m1 0h1m5 0h1m1 0h1m1 0h1h1m1 0h1m5 0h1m3 0h1m1 0h1m2 0h1m11 0h1m10 0h1m1 0h1m2 0h1h1m1 0h1m1 0h1m5 0h1m6 0h1m21 0h1m1 0h1h1m3 0h1h1m1 0h1m1 0h1m1 0h1m6 0h1h1m1 0h1h1m1 0h1m10 0h1h1h1m17 0h1m3 0h1m1 0h1m4 0h1m2 0h1m4 0h1m2 0h1m3 0h1m16 0h1h1h1m5 0h1m8 0h1m2 0h1m4 0h1m9 0h1m3 0h1m3 0h1m6 0h1h1m12 0h1M3 9.5h1m1 0h1m9 0h1m1 0h1m27 0h1m7 0h1m3 0h1m2 0h1m17 0h1m10 0h1m3 0h1m16 0h1m14 0h1m39 0h1m12 0h1m72 0h1m4 0h1m2 0h1m3 0h1m2 0h1m21 0h1m2 0h1h1m11 0h1" stroke="#353816"/>
<path d="M3 0.5h1m5 0h1m1 0h1m1 0h1m1 0h1m1 0h1m2 0h1m4 0h1m1 0h1h1m3 0h1h1m4 0h1m5 0h1m2 0h1m3 0h1m6 0h1h1m2 0h1m1 0h1m4 0h1m4 0h1h1h1h1h1m15 0h1m4 0h1m1 0h1m9 0h1m5 0h1m1 0h1m1 0h1h1m2 0h1m1 0h1m2 0h1m1 0h1m4 0h1m9 0h1m3 0h1m3 0h1m7 0h1m5 0h1m14 0h1h1m1 0h1h1m10 0h1m1 0h1m1 0h1m2 0h1m2 0h1m1 0h1m3 0h1m11 0h1m14 0h1m13 0h1m6 0h1m9 0h1m5 0h1m8 0h1M4 1.5h1m2 0h1m5 0h1m1 0h1m1 0h1m1 0h1m13 0h1m1 0h1m4 0h1h1h1m15 0h1h1m1 0h1m7 0h1m1 0h1h1m1 0h1m6 0h1m1 0h1m5 0h1m14 0h1m18 0h1m2 0h1m10 0h1m1 0h1m5 0h1m2 0h1m3 0h1m7 0h1m3 0h1m2 0h1m4 0h1m1 0h1h1m5 0h1m2 0h1m7 0h1m3 0h1m11 0h1m11 0h1m10 0h1m20 0h1m12 0h1m4 0h1m13 0h1h1m16 0h1M4 2.5h1m2 0h1m3 0h1h1m1 0h1h1h1m7 0h1m7 0h1h1m6 0h1m1 0h1m3 0h1m11 0h1m6 0h1m4 0h1m7 0h1m1 0h1m1 0h1m4 0h1h1m6 0h1m9 0h1h1m1 0h1h1m4 0h1m9 0h1m6 0h1m3 0h1h1m3 0h1m7 0h1m1 0h1m3 0h1m9 0h1m14 0h1h1m10 0h1h1m5 0h1m8 0h1m9 0h1h1m6 0h1m3 0h1h1m9 0h1m4 0h1m4 0h1m3 0h1m2 0h1m6 0h1m5 0h1m26 0h1M0 3.5h1m6 0h1m2 0h1m3 0h1m7 0h1m1 0h1m6 0h1m8 0h1m9 0h1h1m1 0h1m1 0h1m3 0h1m2 0h1m1 0h1m1 0h1m1 0h1m23 0h1h1m2 0h1m5 0h1m1 0h1m6 0h1m2 0h1m2 0h1m8 0h1m8 0h1m6 0h1m4 0h1m6 0h1m36 0h1h1m3 0h1m9 0h1h1m8 0h1m4 0h1m9 0h1m7 0h1m18 0h1m15 0h1m5 0h1m2 0h1m7 0h1m3 0h1M8 4.5h1m14 0h1m6 0h1m2 0h1m3 0h1h1m4 0h1m3 0h1m3 0h1m3 0h1m6 0h1h1h1h1m5 0h1h1m16 0h1m2 0h1h1m1 0h1m12 0h1m4 0h1m8 0h1m1 0h1m3 0h1m1 0h1m18 0h1m6 0h1m5 0h1m2 0h1h1m11 0h1m17 0h1m5 0h1m20 0h1m3 0h1m3 0h1m4 0h1m1 0h1m3 0h1m7 0h1h1m3 0h1m8 0h1m5 0h1m30 0h1m12 0h1M1 5.5h1m6 0h1h1h1m13 0h1h1m1 0h1m1 0h1m1 0h1m15 0h1m1 0h1m2 0h1m6 0h1m1 0h1m2 0h1m10 0h1m3 0h1m1 0h1m2 0h1h1m6 0h1m6 0h1h1m2 0h1m10 0h1m2 0h1h1m8 0h1m6 0h1m6 0h1m1 0h1h1h1m1 0h1m2 0h1m34 0h1h1m6 0h1m9 0h1m6 0h1m5 0h1m5 0h1h1m1 0h1m7 0h1m2 0h1m4 0h1m7 0h1m14 0h1m14 0h1M14 6.5h1m1 0h1m4 0h1m10 0h1m8 0h1m10 0h1m1 0h1h1h1m2 0h1m2 0h1m4 0h1m2 0h1m3 0h1m6 0h1m2 0h1m1 0h1h1m9 0h1m2 0h1m10 0h1m2 0h1m2 0h1m5 0h1m9 0h1m11 0h1m9 0h1m20 0h1m28 0h1h1m2 0h1m8 0h1m27 0h1m15 0h1h1h1m6 0h1m7 0h1h1m10 0h1m3 0h1m5 0h1M1 7.5h1m1 0h1h1m1 0h1h1m8 0h1m7 0h1m42 0h1m1 0h1m17 0h1h1m14 0h1m18 0h1m18 0h1m9 0h1m3 0h1m9 0h1h1m16 0h1m4 0h1m13 0h1m4 0h1m10 0h1m9 0h1m26 0h1h1m4 0h1m5 0h1m1 0h1m2 0h1m3 0h1m18 0h1m17 0h1h1M8 8.5h1m1 0h1h1m15 0h1m1 0h1m13 0h1m2 0h1m1 0h1h1m1 0h1m4 0h1m4 0h1m4 0h1m9 0h1m2 0h1m3 0h1m4 0h1h1m14 0h1m3 0h1m11 0h1h1m6 0h1m1 0h1h1m2 0h1h1m3 0h1m4 0h1m8 0h1m2 0h1m16 0h1h1h1m6 0h1m6 0h1m2 0h1m42 0h1m1 0h1m15 0h1m9 0h1m17 0h1m4 0h1h1m5 0h1m3 0h1M4 9.5h1m20 0h1m24 0h1m14 0h1m4 0h1m13 0h1m22 0h1m4 0h1m25 0h1m4 0h1m20 0h1m9 0h1m9 0h1m9 0h1m7 0h1m6 0h1m20 0h1m8 0h1m1 0h1" stroke="#4D531E"/>
<path d="M1 0.5h1m16 0h1m2 0h1h1m1 0h1m14 0h1m6 0h1m7 0h1m8 0h1m4 0h1m1 0h1h1m14 0h1m2 0h1m3 0h1m6 0h1m1 0h1m1 0h1m2 0h1m1 0h1m2 0h1m2 0h1m18 0h1m4 0h1h1m1 0h1h1m17 0h1m2 0h1m3 0h1m7 0h1m4 0h1h1m7 0h1h1h1m29 0h1m1 0h1m3 0h1m3 0h1m3 0h1m2 0h1m4 0h1m4 0h1m4 0h1m4 0h1m4 0h1m9 0h1m3 0h1M2 1.5h1m28 0h1m2 0h1m11 0h1m4 0h1m10 0h1m5 0h1m10 0h1m2 0h1m3 0h1m12 0h1h1m1 0h1m3 0h1m4 0h1m2 0h1m1 0h1m14 0h1m8 0h1h1m8 0h1h1m58 0h1m2 0h1m9 0h1m8 0h1m4 0h1m10 0h1m34 0h1m3 0h1m1 0h1M2 2.5h1m10 0h1m7 0h1m8 0h1m4 0h1m9 0h1m14 0h1m1 0h1h1m3 0h1m6 0h1h1m18 0h1m6 0h1m11 0h1m2 0h1m2 0h1m8 0h1m8 0h1m6 0h1m2 0h1m3 0h1m10 0h1m5 0h1m3 0h1h1m2 0h1m5 0h1m3 0h1m2 0h1h1m4 0h1m1 0h1m13 0h1m15 0h1h1m43 0h1m5 0h1m6 0h1m7 0h1M20 3.5h1m2 0h1m9 0h1m1 0h1m2 0h1m15 0h1m1 0h1m6 0h1m5 0h1m3 0h1m11 0h1m9 0h1m5 0h1m10 0h1h1m7 0h1m1 0h1h1m4 0h1m3 0h1m11 0h1m4 0h1m11 0h1m4 0h1m7 0h1m2 0h1m4 0h1m2 0h1m2 0h1m10 0h1m4 0h1m21 0h1m7 0h1m6 0h1m14 0h1m1 0h1m3 0h1M10 4.5h1m6 0h1m1 0h1h1m1 0h1m1 0h1m2 0h1m7 0h1h1m2 0h1h1m4 0h1m4 0h1m1 0h1h1h1m1 0h1h1h1h1m10 0h1m3 0h1m2 0h1m5 0h1m1 0h1m4 0h1m9 0h1m2 0h1m1 0h1m3 0h1m5 0h1h1m16 0h1m54 0h1m22 0h1m16 0h1m12 0h1m1 0h1m1 0h1h1m9 0h1m8 0h1m17 0h1M6 5.5h1m4 0h1m4 0h1m1 0h1m14 0h1m4 0h1m4 0h1m2 0h1m3 0h1m2 0h1m4 0h1m23 0h1m4 0h1h1m6 0h1m14 0h1m8 0h1m2 0h1m7 0h1m17 0h1m2 0h1m4 0h1m15 0h1m4 0h1h1m1 0h1m7 0h1m2 0h1h1m4 0h1m22 0h1m3 0h1m5 0h1m21 0h1m31 0h1M0 6.5h1m8 0h1m14 0h1m3 0h1m2 0h1m2 0h1m18 0h1m21 0h1m4 0h1m2 0h1m14 0h1m7 0h1m12 0h1m9 0h1m4 0h1m5 0h1m2 0h1m4 0h1m8 0h1m14 0h1m6 0h1m8 0h1h1m5 0h1m1 0h1m4 0h1m1 0h1m19 0h1m7 0h1m7 0h1m25 0h1m2 0h1M9 7.5h1m4 0h1m8 0h1m1 0h1m11 0h1m1 0h1m10 0h1m8 0h1m12 0h1m3 0h1m4 0h1m22 0h1m6 0h1m8 0h1m23 0h1m18 0h1m27 0h1m24 0h1m43 0h1m23 0h1M6 8.5h1m5 0h1m15 0h1m6 0h1h1m43 0h1m1 0h1m8 0h1m20 0h1m12 0h1m15 0h1m17 0h1m3 0h1m8 0h1m13 0h1h1m18 0h1m50 0h1m21 0h1M21 9.5h1m7 0h1m26 0h1m2 0h1m6 0h1m34 0h1m6 0h1m4 0h1m1 0h1m2 0h1m13 0h1m1 0h1h1m18 0h1m3 0h1m7 0h1h1m7 0h1h1m4 0h1m73 0h1m11 0h1" stroke="#656D26"/>
<path d="M7 0.5h1m4 0h1m13 0h1m9 0h1h1m14 0h1m2 0h1m9 0h1m1 0h1m52 0h1m5 0h1m31 0h1m11 0h1m33 0h1m14 0h1m57 0h1M22 1.5h1m9 0h1m16 0h1m3 0h1m36 0h1m7 0h1m43 0h1m14 0h1m5 0h1m9 0h1m9 0h1m7 0h1m5 0h1m19 0h1m25 0h1m16 0h1m29 0h1M9 2.5h1m7 0h1m13 0h1m4 0h1m4 0h1m14 0h1m24 0h1m2 0h1m22 0h1m15 0h1m1 0h1m13 0h1m16 0h1m14 0h1m2 0h1h1m1 0h1m74 0h1M8 3.5h1h1m1 0h1h1m4 0h1m8 0h1m7 0h1m2 0h1m5 0h1m3 0h1m1 0h1m8 0h1m8 0h1m8 0h1m5 0h1m49 0h1m3 0h1m22 0h1m3 0h1m7 0h1m8 0h1m37 0h1m6 0h1m7 0h1m38 0h1m6 0h1m33 0h1M0 4.5h1m8 0h1m2 0h1m1 0h1m16 0h1h1m1 0h1m6 0h1m4 0h1m13 0h1h1m5 0h1m1 0h1m5 0h1m2 0h1m1 0h1m3 0h1m3 0h1m25 0h1m5 0h1m5 0h1h1m14 0h1m5 0h1m5 0h1m48 0h1m14 0h1m10 0h1m2 0h1m1 0h1m27 0h1m4 0h1M0 5.5h1m6 0h1m5 0h1m14 0h1m1 0h1m4 0h1m1 0h1m2 0h1m7 0h1m2 0h1m3 0h1m17 0h1m12 0h1m11 0h1m3 0h1m1 0h1m19 0h1m8 0h1m6 0h1m18 0h1m2 0h1m11 0h1m68 0h1m13 0h1M3 6.5h1m4 0h1m8 0h1m2 0h1m1 0h1m6 0h1m14 0h1m1 0h1m11 0h1m5 0h1m17 0h1m16 0h1m1 0h1m26 0h1m9 0h1m2 0h1m27 0h1h1m7 0h1m6 0h1m21 0h1m8 0h1m4 0h1M29 7.5h1m14 0h1m30 0h1m19 0h1m1 0h1m29 0h1m54 0h1m34 0h1M17 8.5h1m53 0h1m26 0h1m94 0h1m9 0h1m25 0h1M10 9.5h1m2 0h1m4 0h1m4 0h1m4 0h1m25 0h1m6 0h1m9 0h1m13 0h1h1m1 0h1m22 0h1m4 0h1m9 0h1h1m12 0h1m11 0h1m2 0h1m1 0h1m1 0h1m1 0h1m20 0h1m8 0h1m22 0h1m6 0h1m7 0h1m3 0h1m35 0h1m4 0h1m11 0h1" stroke="#7C852B"/>
<path d="M6 0.5h1m1 0h1m21 0h1m10 0h1m3 0h1m7 0h1m2 0h1m46 0h1m20 0h1m23 0h1m30 0h1m41 0h1m24 0h1m44 0h1M27 1.5h1m68 0h1m8 0h1m28 0h1m53 0h1m5 0h1m17 0h1M53 2.5h1m89 0h1m2 0h1m148 0h1M5 3.5h1m19 0h1m2 0h1m7 0h1m35 0h1m2 0h1m3 0h1m26 0h1m110 0h1m74 0h1M5 4.5h1m5 0h1m1 0h1m2 0h1m11 0h1m62 0h1m5 0h1m88 0h1m11 0h1M4 5.5h1m12 0h1m8 0h1m29 0h1m12 0h1m20 0h1m18 0h1m21 0h1M26 6.5h1m23 0h1m10 0h1m40 0h1m23 0h1m35 0h1m35 0h1M61 7.5h1m100 0h1M31 8.5h1m13 0h1m201 0h1M9 9.5h1m27 0h1m4 0h1m4 0h1m14 0h1m10 0h1m5 0h1m20 0h1m102 0h1m34 0h1" stroke="#98A230"/>
<path d="M76 4.5h1M74 5.5h1m129 0h1" stroke="#BDC835"/>
<path d="M245 9.5h1" stroke="#D6E331"/>
</g>
<rect x="581" y="818" width="95.6" height="4.4" fill="#7CB936"/>
<text transform="translate(635.8,819.5) rotate(-45) scale(1,1.04)" font-size="17.2" stroke="#000">STAT1g1</text>
<rect x="581" y="827.3" width="95.6" height="193.9" fill="#6A2A78"/>
<g transform="translate(581,827.3) scale(1.2919,19.3900)" fill="none" stroke-width="1.004">
<path d="M44 1.5h1m21 0h2m5 0h1M50 2.5h1M37 6.5h1m4 0h2M23 7.5h1m3 0h1M30 9.5h2m30 0h2" stroke="#B555BC"/>
<path d="M20 0.5h1m2 0h1m10 0h1m31 0h2m2 0h2M38 1.5h1m12 0h2m11 0h2M39 2.5h1m3 0h2m4 0h1M33 3.5h2m2 0h2M40 5.5h3m3 0h1h2m2 0h3h3m3 0h1h1m11 0h1M51 6.5h3m15 0h1M59 7.5h3M24 8.5h2m13 0h1m12 0h2M32 9.5h1m8 0h2m3 0h1m4 0h2" stroke="#A643B0"/>
<path d="M21 0.5h2m2 0h1m4 0h1m6 0h2h2m11 0h1m5 0h1m10 0h1M1 1.5h1m39 0h1h1m13 0h2m5 0h1m4 0h1M47 2.5h2m2 0h1m11 0h2h1m7 0h1M4 3.5h1m27 0h1m19 0h1m5 0h1m8 0h1m4 0h1M49 5.5h1M22 6.5h1m1 0h1m2 0h1m3 0h1m16 0h3m4 0h1m7 0h1m3 0h2m4 0h1M30 7.5h2m23 0h1m15 0h1M35 8.5h1m6 0h2m15 0h1m8 0h2M0 9.5h1m9 0h1m14 0h3m6 0h1m2 0h1m5 0h1m22 0h2" stroke="#9736A6"/>
<path d="M10 0.5h1m15 0h2m13 0h2h2h2m6 0h1h2m3 0h2m4 0h1m2 0h1m3 0h2M34 1.5h1h3m7 0h2h3h1m2 0h3m4 0h3m6 0h2h2M10 2.5h1m29 0h1m14 0h2h3m2 0h1m3 0h1m1 0h2M11 3.5h1m13 0h1m13 0h3m5 0h2h2h1m1 0h2m4 0h1m3 0h1h1h2m1 0h2h2m1 0h1M20 4.5h3m1 0h1m1 0h1h2h3h2m4 0h2m3 0h1m3 0h1h1h1m4 0h2m6 0h1m3 0h2M13 5.5h1m20 0h2m1 0h3m17 0h2m6 0h2h2M25 6.5h1m2 0h1m4 0h1m2 0h1m7 0h1m12 0h1m1 0h2m10 0h2M64 7.5h1m2 0h2m3 0h2M31 8.5h1h1m12 0h2m13 0h1m5 0h2M14 9.5h1m29 0h1h1m9 0h2" stroke="#852C96"/>
<path d="M6 0.5h1m1 0h1m19 0h1m2 0h3m1 0h2m11 0h2m1 0h1m4 0h1h1m4 0h1m1 0h1M39 1.5h2m17 0h2M7 2.5h1m7 0h1m18 0h1m3 0h1M30 3.5h1m4 0h2m5 0h3h2m9 0h2M34 4.5h2m4 0h1h1h1m1 0h3m3 0h2h2m2 0h1h1h2h1h1m1 0h3m2 0h1h3h2M27 5.5h1m4 0h1m3 0h1m6 0h3m17 0h2m4 0h1h1h2M32 6.5h1m1 0h1m3 0h1h3m12 0h1m9 0h2m4 0h1M32 7.5h1m5 0h2m3 0h3h1m9 0h2M33 8.5h1m23 0h2m6 0h1m6 0h2M33 9.5h1m6 0h1m18 0h1m1 0h1m6 0h1" stroke="#6B247A"/>
<path d="M47 0.5h1M1 2.5h1m31 0h1m7 0h2m2 0h2m13 0h2M22 3.5h1M9 5.5h1m49 0h1M4 6.5h1m7 0h1m22 0h1m10 0h2M6 7.5h1m8 0h1m17 0h2m6 0h2m8 0h2h1m8 0h2M26 8.5h3m5 0h1m13 0h2m13 0h1M17 9.5h1h1h1" stroke="#4C1B58"/>
<path d="M15 0.5h1m13 0h1m31 0h1M0 1.5h1m26 0h1h1M3 2.5h1h1m3 0h1m12 0h1m10 0h1m2 0h2m30 0h1M15 3.5h1m2 0h1m1 0h1m8 0h1m30 0h3M25 4.5h1M3 5.5h1h1m18 0h1m9 0h1M0 6.5h1m10 0h1m9 0h1m7 0h2m25 0h1m1 0h1m7 0h1M7 7.5h1m1 0h1h1m7 0h1m2 0h1h1m1 0h1m3 0h1m6 0h3m2 0h1m8 0h1M7 8.5h1m28 0h3m1 0h2m12 0h2h1m4 0h2m7 0h2M4 9.5h1m23 0h2m5 0h2m12 0h2m13 0h2m3 0h3" stroke="#2C1034"/>
<path d="M0 0.5h1m4 0h1m1 0h1m5 0h1m2 0h1m33 0h1m12 0h1M4 1.5h1h1m2 0h1m1 0h1m32 0h1M0 2.5h1m4 0h1m3 0h1m8 0h1m6 0h1m26 0h3M1 3.5h1m4 0h1m6 0h1h1m4 0h1m8 0h1m26 0h1M14 4.5h1m2 0h1h1m17 0h2M0 5.5h1m11 0h1m1 0h1h1m5 0h1h1m2 0h1h1m1 0h1h1m20 0h1m11 0h1M1 6.5h1m8 0h1m7 0h1h1h1m5 0h1m18 0h1M8 7.5h1m8 0h1m2 0h1m33 0h1m14 0h1h1M4 8.5h1m1 0h1m1 0h1m5 0h1m4 0h1m1 0h1m1 0h1m6 0h1m13 0h1m2 0h1m3 0h1M3 9.5h1m2 0h1m5 0h1m7 0h1h1h1h1h1m13 0h2m7 0h2m8 0h2m1 0h1m11 0h2" stroke="#110914"/>
<path d="M3 0.5h1h1m7 0h1m4 0h1h1h1m4 0h1M6 1.5h1m2 0h1m3 0h1m7 0h1m2 0h1m1 0h1M6 2.5h1m4 0h1h1m1 0h1m2 0h1m5 0h1h1m1 0h1m1 0h1h1m40 0h3M2 3.5h1h1m1 0h1m2 0h1h1m6 0h1m6 0h1h1m1 0h1M0 4.5h1h1m3 0h1h1h1h1m1 0h1h1m3 0h1h1M1 5.5h1m6 0h1m2 0h1m4 0h1m1 0h1h1h1M2 6.5h1m2 0h1h1m7 0h1h1h1h1m5 0h1m37 0h2M1 7.5h1m1 0h1h1m6 0h1h1m3 0h1m12 0h1m20 0h1m7 0h1m6 0h2M0 8.5h1h1h1h1m1 0h1m3 0h1h1h1m3 0h1h1m3 0h1m1 0h1M1 9.5h1m5 0h1h1h1m43 0h2" stroke="#1B1C0D"/>
<path d="M14 0.5h1M3 1.5h1m8 0h1m1 0h1h1m4 0h1m1 0h1h1m6 0h1m1 0h1h1M2 2.5h1m17 0h1m6 0h1m2 0h1M0 3.5h1m6 0h1m4 0h1m4 0h1m9 0h1M3 4.5h1h1m4 0h1M2 5.5h1m3 0h1m10 0h1m13 0h1M3 6.5h1m3 0h1M19 7.5h1m6 0h1m20 0h2M12 8.5h1h1m15 0h1m34 0h1M2 9.5h1m2 0h1m5 0h1m1 0h1" stroke="#353816"/>
<path d="M11 0.5h1M2 1.5h1m4 0h1m3 0h1m4 0h1m1 0h1m6 0h1M13 2.5h1m2 0h1m2 0h1m2 0h1m8 0h1M10 3.5h1m10 0h1m9 0h1M12 4.5h1h1m5 0h1m3 0h1M7 5.5h1m2 0h1M9 6.5h1m3 0h1M0 7.5h1m1 0h1m2 0h1m7 0h1h1M17 8.5h1m32 0h1" stroke="#4D531E"/>
<path d="M1 0.5h1h1m6 0h1M17 1.5h1m13 0h1M2 4.5h1M5 5.5h1m18 0h1M25 7.5h1M18 8.5h1" stroke="#656D26"/>
<path d="M19 1.5h1m9 0h1M8 6.5h1M16 9.5h1" stroke="#7C852B"/>
<path d="M37 2.5h1M30 5.5h1M15 9.5h1" stroke="#98A230"/>
</g>
<rect x="681.9" y="818" width="61.8" height="4.4" fill="#4FC3C5"/>
<text transform="translate(719.8,819.5) rotate(-45) scale(1,1.04)" font-size="17.2" stroke="#000">STAT1g2</text>
<rect x="681.9" y="827.3" width="61.8" height="193.9" fill="#6A2A78"/>
<g transform="translate(681.9,827.3) scale(1.2875,19.3900)" fill="none" stroke-width="1.004">
<path d="M28 0.5h1m16 0h1M17 2.5h1M18 8.5h1" stroke="#B555BC"/>
<path d="M36 0.5h1m9 0h2M29 1.5h1m4 0h1h2m4 0h1M45 2.5h1M37 5.5h1h2h2M37 6.5h1M37 7.5h1M24 8.5h1M29 9.5h1m2 0h2h2" stroke="#A643B0"/>
<path d="M17 0.5h1h1m10 0h1m7 0h1m5 0h2M32 2.5h1m5 0h2M7 4.5h1m4 0h1M27 5.5h1m7 0h1m6 0h1m4 0h1M38 6.5h2M45 8.5h1" stroke="#9736A6"/>
<path d="M15 0.5h2m8 0h3m2 0h2h2h1h1m2 0h2h3M43 1.5h1M46 2.5h2M37 3.5h2m3 0h1m2 0h2h1M9 4.5h1m22 0h3h3m8 0h1M12 5.5h1m30 0h1M21 6.5h1m19 0h1m1 0h3h1M36 7.5h1m7 0h2M26 8.5h1m11 0h1m4 0h1m3 0h1M44 9.5h1h2" stroke="#852C96"/>
<path d="M6 0.5h1m3 0h1m9 0h2M34 2.5h1M39 3.5h2m2 0h2M30 4.5h2m6 0h2h2h2h2m1 0h1M11 5.5h1M9 6.5h1m9 0h1m20 0h1m6 0h1M41 7.5h3m2 0h2M33 8.5h1h2M11 9.5h1m2 0h1m15 0h1m16 0h1" stroke="#6B247A"/>
<path d="M24 0.5h1M10 1.5h1h1M33 2.5h1m6 0h1M18 3.5h1m22 0h1M0 4.5h1M16 5.5h1m8 0h1M1 7.5h1m37 0h2M25 8.5h1M10 9.5h1m17 0h1" stroke="#4C1B58"/>
<path d="M13 0.5h1M2 1.5h1m6 0h1m13 0h1m2 0h1M14 2.5h1m5 0h1m21 0h1h2M21 3.5h1m7 0h1m2 0h1M4 4.5h1m11 0h1m2 0h1m6 0h3M14 5.5h1M3 6.5h1m1 0h1m17 0h1M31 7.5h1M0 8.5h1m7 0h1m4 0h1m2 0h1h1m18 0h2m4 0h1m3 0h1M1 9.5h1m6 0h1m3 0h1h1m11 0h1m10 0h3m2 0h1h1" stroke="#2C1034"/>
<path d="M1 0.5h1m1 0h1h1h1m1 0h1h1m5 0h1m4 0h1M0 1.5h1m4 0h1h1m6 0h1h1h1m4 0h1h1h1m1 0h1m3 0h1m3 0h1m9 0h1m2 0h1M3 2.5h1h1m2 0h1m4 0h1h1m1 0h1m2 0h1m2 0h1m6 0h1m2 0h1m4 0h2M0 3.5h1m7 0h1m1 0h1h1m2 0h1m1 0h1m6 0h1m3 0h1m5 0h2h2M10 4.5h1h1m9 0h1M1 5.5h1m2 0h1m1 0h1h1h1m6 0h1m2 0h1h1m3 0h1m4 0h1h1m1 0h1m4 0h1m8 0h2M0 6.5h1m1 0h1m5 0h1m1 0h1m1 0h1m7 0h1m10 0h1h1m2 0h1M2 7.5h1m7 0h1m1 0h1m1 0h1m1 0h1m1 0h1m3 0h1m1 0h1m2 0h1m2 0h1m1 0h1h1M1 8.5h1m1 0h1h1h1h1h1m3 0h1h1m1 0h1m4 0h1m3 0h1m16 0h1h1M0 9.5h1m2 0h1m2 0h1m9 0h1m1 0h1h1h1m3 0h1m2 0h1m11 0h2m2 0h1" stroke="#110914"/>
<path d="M22 0.5h2M1 1.5h1m1 0h1m3 0h1m9 0h1m1 0h1m10 0h1h1m5 0h3h1m5 0h2M1 2.5h1h1m2 0h1h1m3 0h1h1m7 0h1m3 0h1m2 0h1m14 0h1M2 3.5h1m2 0h1m1 0h1m9 0h1m8 0h1M1 4.5h1h1m10 0h1m6 0h1m2 0h1m5 0h1M0 5.5h1m4 0h1m3 0h1m16 0h1m5 0h1m11 0h1M6 6.5h1h1m9 0h1m7 0h1m3 0h1h1m3 0h1M0 7.5h1m3 0h1h1h1h1h1m2 0h1m1 0h1m1 0h1m7 0h1m2 0h1m2 0h1m5 0h1M10 8.5h1m4 0h1m12 0h1h1h1h1h1m11 0h1M17 9.5h1m3 0h1m1 0h1m2 0h1m4 0h1" stroke="#1B1C0D"/>
<path d="M2 0.5h1m8 0h1h1M4 1.5h1m7 0h1m5 0h1m6 0h1m1 0h1m16 0h1M0 2.5h1m15 0h1m5 0h1m1 0h1h1m4 0h1M4 3.5h1m1 0h1m5 0h1m2 0h1m3 0h1m5 0h1m4 0h1h1M8 4.5h1m5 0h1m9 0h1M2 5.5h1h1m9 0h1m6 0h1m1 0h1m1 0h1m5 0h1M1 6.5h1m2 0h1m6 0h1m2 0h1m11 0h1h1h1m4 0h1m2 0h1m5 0h1M9 7.5h1m7 0h1m2 0h1h1m3 0h1m8 0h1m3 0h1M20 8.5h1h1m17 0h1M2 9.5h1m6 0h1m5 0h1" stroke="#353816"/>
<path d="M0 0.5h1m8 0h1M8 1.5h1m7 0h1m16 0h1M27 2.5h1m1 0h1m5 0h1M1 3.5h1m7 0h1m12 0h1M3 4.5h1m18 0h1m2 0h1M10 5.5h1m6 0h1m3 0h1m11 0h1M16 6.5h1m1 0h1m3 0h1M19 7.5h1m8 0h1M22 8.5h1M5 9.5h1m1 0h1m14 0h1" stroke="#4D531E"/>
<path d="M9 2.5h1M20 3.5h1M5 4.5h1h1m8 0h1m1 0h1M13 6.5h1m1 0h1m8 0h1M3 7.5h1M2 8.5h1m6 0h1m17 0h1M4 9.5h1" stroke="#656D26"/>
<path d="M8 2.5h1M3 3.5h1m20 0h1M18 4.5h1M34 5.5h1" stroke="#7C852B"/>
<path d="M13 3.5h1m14 0h1" stroke="#98A230"/>
</g>
<rect x="748.4" y="818" width="82.5" height="4.4" fill="#A973C9"/>
<text transform="translate(796.65,819.5) rotate(-45) scale(1,1.04)" font-size="17.2" stroke="#000">STAT1g3</text>
<rect x="748.4" y="827.3" width="82.5" height="193.9" fill="#6A2A78"/>
<g transform="translate(748.4,827.3) scale(1.3095,19.3900)" fill="none" stroke-width="1.004">
<path d="M23 0.5h2m3 0h1m13 0h2M49 1.5h1M29 2.5h1m13 0h1M40 5.5h1m13 0h2M12 7.5h1m39 0h1m6 0h3M28 8.5h3m8 0h1m11 0h1M17 9.5h2" stroke="#B555BC"/>
<path d="M32 0.5h1m2 0h3m9 0h3m6 0h1h2M17 1.5h1m12 0h1m2 0h3h1h2m4 0h2m14 0h2M22 2.5h1m25 0h1m3 0h3m5 0h1M21 3.5h2m28 0h1M29 5.5h2m2 0h1M18 6.5h2m31 0h1m4 0h1m2 0h1m2 0h1M14 8.5h2m1 0h3m32 0h2M13 9.5h2h2m2 0h1m4 0h1m8 0h3" stroke="#A643B0"/>
<path d="M25 0.5h1h1h1m1 0h1m3 0h2m6 0h1m8 0h1m1 0h1h3M10 1.5h2m2 0h1h2m8 0h1m19 0h3m2 0h1m2 0h3m1 0h2M18 2.5h1m15 0h3m12 0h1m5 0h1m1 0h1M9 3.5h1m27 0h1m2 0h1h1m10 0h3h2h3M9 4.5h1M20 5.5h1m13 0h2m1 0h2h1m12 0h2M12 6.5h3m12 0h2m18 0h2m12 0h1M21 7.5h1m11 0h1M20 8.5h1h2M11 9.5h2m7 0h1m28 0h2m6 0h1" stroke="#9736A6"/>
<path d="M8 0.5h1m10 0h1m11 0h1m6 0h3m4 0h1m5 0h1m10 0h1M12 1.5h2m4 0h1h2h2m3 0h2m11 0h1m11 0h1h1m3 0h1M21 2.5h1m2 0h2m4 0h1m14 0h1m1 0h1m2 0h2m4 0h1m1 0h2M2 3.5h1m20 0h1m1 0h2h1h1h2m3 0h3m1 0h1m3 0h1h2h2h2M24 4.5h3h1h2m1 0h2m7 0h1m2 0h1m3 0h1h1h3h1m3 0h1m2 0h1M14 5.5h2m1 0h3m1 0h2h2m2 0h2m7 0h1m4 0h2h2h1m10 0h3M9 6.5h1m28 0h1m13 0h2m3 0h1h1M31 7.5h2M26 8.5h2m5 0h3h1h2m8 0h3m10 0h2M21 9.5h2m4 0h2h2m5 0h1m1 0h1h1m6 0h3" stroke="#852C96"/>
<path d="M16 0.5h1m1 0h1m25 0h1m14 0h1h2M9 1.5h1m13 0h2m3 0h2m31 0h1M15 2.5h1m7 0h1m9 0h1m3 0h2h1m4 0h1M12 3.5h1m1 0h1m4 0h2m10 0h1m1 0h1m5 0h1m20 0h2M15 4.5h1h1h1m1 0h2h3m6 0h1m2 0h3h1h1h2m1 0h1h1m1 0h3m6 0h1h2m1 0h2m1 0h2h1M16 5.5h1m14 0h2m13 0h3m13 0h1M20 6.5h3m1 0h3m2 0h3m3 0h1m8 0h1h2m2 0h2m3 0h2M29 7.5h2m3 0h1m15 0h2M54 8.5h1m2 0h3M9 9.5h1m33 0h1m7 0h2" stroke="#6B247A"/>
<path d="M4 0.5h1m15 0h1m9 0h1m15 0h1M48 1.5h1m13 0h1M8 2.5h1m17 0h2h1M24 3.5h1m24 0h2M10 4.5h1M16 6.5h2M8 7.5h1m1 0h1m15 0h2m8 0h1h2m6 0h3m14 0h1M44 8.5h3M2 9.5h1m20 0h1m29 0h1h2" stroke="#4C1B58"/>
<path d="M10 0.5h1M40 1.5h3M3 2.5h1m5 0h1h1m8 0h1m20 0h3m18 0h2M8 3.5h1m6 0h3m14 0h1M25 5.5h2M0 6.5h1m9 0h2m3 0h1m7 0h1m8 0h3m7 0h2M13 7.5h1m3 0h1m4 0h3h1m9 0h1m8 0h1m3 0h2m3 0h2h3h1M1 8.5h1m1 0h1m9 0h1m9 0h3M6 9.5h1m3 0h1m20 0h2m7 0h3m1 0h2m10 0h1m2 0h2" stroke="#2C1034"/>
<path d="M3 0.5h1m5 0h1m3 0h1M1 1.5h1m2 0h1m1 0h1M1 2.5h1m4 0h1m9 0h1h1m28 0h1M3 3.5h1h1m1 0h1h1m5 0h1m4 0h1m43 0h1M2 4.5h1m3 0h1m1 0h1M3 5.5h1m9 0h1m45 0h3M3 6.5h1m2 0h1m1 0h1m27 0h2M0 7.5h1m6 0h1m3 0h1m2 0h3m11 0h1m10 0h3M2 8.5h1m2 0h1m5 0h1h1m27 0h3h1m6 0h1m4 0h2m5 0h1M0 9.5h1h1m6 0h1m28 0h1m20 0h1m2 0h2" stroke="#110914"/>
<path d="M1 0.5h1m5 0h1m6 0h1m6 0h2M0 1.5h1m4 0h1m2 0h1M0 2.5h1m3 0h1h1m1 0h1m4 0h1M0 3.5h1m4 0h1M0 4.5h1m4 0h1m1 0h1m5 0h1m4 0h1M6 5.5h1m1 0h1h1h1m1 0h1m36 0h3M39 6.5h3M1 7.5h1h1m1 0h1m1 0h1m2 0h1m8 0h3M0 8.5h1m3 0h1m1 0h1m1 0h1h1m6 0h1m14 0h1h1M5 9.5h1m19 0h2" stroke="#1B1C0D"/>
<path d="M0 0.5h1m1 0h1m8 0h1h1M31 1.5h2M11 2.5h1m1 0h1m17 0h2M1 3.5h1m9 0h1M1 4.5h1m2 0h1m6 0h1M1 5.5h1m2 0h1M1 6.5h1h1m57 0h1M3 7.5h1m1 0h1m36 0h1h1M7 8.5h1m2 0h1" stroke="#353816"/>
<path d="M5 0.5h1h1m10 0h1M3 1.5h1m3 0h1M2 2.5h1m11 0h1m5 0h1M10 3.5h1M0 5.5h1m1 0h1M4 6.5h1m2 0h1M3 9.5h1m3 0h1" stroke="#4D531E"/>
<path d="M15 0.5h1M2 1.5h1M3 4.5h1m10 0h1M5 5.5h1m1 0h1m3 0h1M5 6.5h1" stroke="#656D26"/>
<path d="M12 4.5h1" stroke="#7C852B"/>
<path d="M4 9.5h1" stroke="#98A230"/>
</g>
</g>
<g id="hm-hap1">
<text transform="translate(168.3,1102.3) scale(1,1.03)" font-size="31" stroke="#000" font-weight="bold">HAP1</text>
<text transform="translate(159.9,1166.47)" font-size="21.0" fill="#4D4D4D" stroke="#4D4D4D" text-anchor="end" font-style="italic">STAT1</text>
<text transform="translate(159.9,1185.81)" font-size="21.0" fill="#4D4D4D" stroke="#4D4D4D" text-anchor="end" font-style="italic">PARP14</text>
<text transform="translate(159.9,1205.15)" font-size="21.0" fill="#4D4D4D" stroke="#4D4D4D" text-anchor="end" font-style="italic">WARS</text>
<text transform="translate(159.9,1224.49)" font-size="21.0" fill="#4D4D4D" stroke="#4D4D4D" text-anchor="end" font-style="italic">GBP1</text>
<text transform="translate(159.9,1243.83)" font-size="21.0" fill="#4D4D4D" stroke="#4D4D4D" text-anchor="end" font-style="italic">NLRC5</text>
<text transform="translate(159.9,1263.17)" font-size="21.0" fill="#4D4D4D" stroke="#4D4D4D" text-anchor="end" font-style="italic">LAP3</text>
<text transform="translate(159.9,1282.51)" font-size="21.0" fill="#4D4D4D" stroke="#4D4D4D" text-anchor="end" font-style="italic">HSD17B12</text>
<text transform="translate(159.9,1301.85)" font-size="21.0" fill="#4D4D4D" stroke="#4D4D4D" text-anchor="end" font-style="italic">MYO5B</text>
<text transform="translate(159.9,1321.19)" font-size="21.0" fill="#4D4D4D" stroke="#4D4D4D" text-anchor="end" font-style="italic">FSTL4</text>
<text transform="translate(159.9,1340.53)" font-size="21.0" fill="#4D4D4D" stroke="#4D4D4D" text-anchor="end" font-style="italic">TAP2</text>
<rect x="167.7" y="1140.3" width="357.2" height="4.4" fill="#E8696B"/>
<text transform="translate(353.3,1141.8) rotate(-45) scale(1,1.04)" font-size="17.2" stroke="#000">NT</text>
<rect x="167.7" y="1149.5" width="357.2" height="193.4" fill="#3A3A22"/>
<g transform="translate(167.7,1149.5) scale(1.2989,19.3400)" fill="none" stroke-width="1.004">
<path d="M273 0.5h1M249 3.5h1M274 4.5h1M266 5.5h1m1 0h1h1M271 6.5h1M27 8.5h1m141 0h1" stroke="#B555BC"/>
<path d="M264 0.5h1M163 1.5h1m102 0h1m7 0h1M270 2.5h1m1 0h1h1h1M151 3.5h1m27 0h1m85 0h1m4 0h1M272 4.5h1h1M25 5.5h1m245 0h1M271 7.5h1m2 0h1" stroke="#A643B0"/>
<path d="M74 0.5h1m54 0h1m136 0h1m3 0h1m1 0h1m1 0h1M265 1.5h1m6 0h1M232 2.5h1m36 0h1M266 3.5h1m1 0h1m5 0h1M263 4.5h1m2 0h1M170 5.5h1m25 0h1m5 0h1m71 0h1M109 6.5h1m162 0h1M93 7.5h1m34 0h1m28 0h1m1 0h1m113 0h1M37 8.5h1m177 0h1m19 0h1m38 0h1M145 9.5h1m16 0h1m36 0h1m70 0h1" stroke="#9736A6"/>
<path d="M228 0.5h1m42 0h1M97 1.5h1m150 0h1m22 0h1m1 0h1M64 3.5h1m143 0h1m29 0h1M71 4.5h1m51 0h1m144 0h1m1 0h1h1M71 5.5h1m100 0h1m19 0h1m5 0h1m47 0h1m23 0h1m1 0h1h1M178 6.5h1m87 0h1M209 7.5h1m23 0h1m14 0h1m18 0h1m1 0h1h1M38 8.5h1m153 0h1m21 0h1m53 0h1m1 0h1h1h1M97 9.5h1h1m10 0h1m10 0h1m28 0h1m99 0h1m14 0h1m3 0h1" stroke="#852C96"/>
<path d="M213 0.5h1m8 0h1M238 1.5h1M191 2.5h1m33 0h1m38 0h1m2 0h1M11 3.5h1m154 0h1m66 0h1m11 0h1m23 0h1m1 0h1h1h1M12 4.5h1m87 0h1m157 0h1M83 5.5h1m124 0h1m15 0h1m10 0h1M1 6.5h1m3 0h1m104 0h1m16 0h1m16 0h1m16 0h1m20 0h1m41 0h1m13 0h1m25 0h1M187 7.5h1m80 0h1m3 0h1M125 8.5h1m2 0h1m7 0h1m23 0h1m40 0h1m18 0h1m11 0h1m13 0h1m7 0h1m10 0h1m7 0h1M11 9.5h1m2 0h1m38 0h1m105 0h1m7 0h1m24 0h1h1m13 0h1m18 0h1m13 0h1m25 0h1h1m4 0h1h1h1" stroke="#6B247A"/>
<path d="M183 0.5h1m57 0h1m1 0h1m17 0h1M120 1.5h1m134 0h1M28 2.5h1m139 0h1m23 0h1m68 0h1M114 3.5h1h1m48 0h1m56 0h1m30 0h1m10 0h1M20 4.5h1m99 0h1m1 0h1m6 0h1m59 0h1m4 0h1m28 0h1m4 0h1m1 0h1m8 0h1m13 0h1m6 0h1M12 5.5h1m80 0h1m2 0h1m22 0h1m40 0h1m14 0h1m25 0h1m8 0h1M186 6.5h1m3 0h1m1 0h1m1 0h1m9 0h1m69 0h1M14 7.5h1m17 0h1m1 0h1m98 0h1m15 0h1m48 0h1m47 0h1M12 8.5h1m12 0h1m34 0h1m5 0h1m5 0h1m60 0h1m48 0h1m27 0h1m30 0h1m16 0h1M57 9.5h1m107 0h1m14 0h1m28 0h1m22 0h1m2 0h1m9 0h1m12 0h1m2 0h1" stroke="#4C1B58"/>
<path d="M42 0.5h1m46 0h1m43 0h1m30 0h1M148 1.5h1h1m4 0h1M2 2.5h1m13 0h1m27 0h1m13 0h1m10 0h1m46 0h1m29 0h1m63 0h1m25 0h1m13 0h1m4 0h1M76 3.5h1m122 0h1m17 0h1m9 0h1m18 0h1m1 0h1m4 0h1m1 0h1m2 0h1M68 4.5h1m20 0h1m12 0h1m59 0h1m6 0h1m28 0h1m52 0h1M9 5.5h1m21 0h1m23 0h1m11 0h1m12 0h1m61 0h1m109 0h1m7 0h1M12 6.5h1m9 0h1m75 0h1m2 0h1m4 0h1h1m58 0h1m16 0h1m31 0h1m29 0h1m5 0h1m18 0h1M21 7.5h1m1 0h1m27 0h1m17 0h1m14 0h1m25 0h1m43 0h1m14 0h1m4 0h1m4 0h1m12 0h1m26 0h1m2 0h1m1 0h1h1m19 0h1m16 0h1m3 0h1M20 8.5h1m46 0h1m13 0h1m8 0h1m88 0h1m9 0h1m15 0h1m39 0h1m1 0h1m4 0h1M19 9.5h1m27 0h1m21 0h1m49 0h1m57 0h1m20 0h1m21 0h1m29 0h1m12 0h1m5 0h1" stroke="#2C1034"/>
<path d="M6 0.5h1m16 0h1m16 0h1m2 0h1m19 0h1m48 0h1m11 0h1m2 0h1m8 0h1m29 0h1m9 0h1h1h1m7 0h1m16 0h1m10 0h1m21 0h1h1m7 0h1m4 0h1m1 0h1m2 0h1m2 0h1M58 1.5h1m77 0h1m16 0h1m11 0h1m1 0h1m4 0h1m5 0h1m20 0h1m7 0h1m18 0h1m6 0h1m7 0h1m3 0h1m7 0h1m2 0h1m7 0h1M10 2.5h1h1m14 0h1m12 0h1m9 0h1m7 0h1m23 0h1m2 0h1m1 0h1m10 0h1m1 0h1m5 0h1m2 0h1m41 0h1m2 0h1m1 0h1m8 0h1m1 0h1m5 0h1m16 0h1m10 0h1m2 0h1m39 0h1m7 0h1m10 0h1m2 0h1M24 3.5h1m20 0h1m24 0h1m24 0h1m22 0h1m4 0h1m25 0h1m9 0h1m17 0h1m2 0h1m4 0h1m2 0h1m31 0h1m4 0h1h1m1 0h1h1m11 0h1m1 0h1m6 0h1m6 0h1m1 0h1m2 0h1M45 4.5h1m42 0h1m58 0h1m11 0h1m3 0h1m56 0h1m1 0h1m4 0h1m36 0h1M27 5.5h1m21 0h1m7 0h1m31 0h1m8 0h1h1m1 0h1m8 0h1m12 0h1m6 0h1m24 0h1m7 0h1m9 0h1m3 0h1m25 0h1m11 0h1m11 0h1m4 0h1m11 0h1m9 0h1m3 0h1h1m2 0h1m1 0h1M4 6.5h1m5 0h1m3 0h1h1m3 0h1m3 0h1m21 0h1m3 0h1m7 0h1m4 0h1h1m5 0h1m13 0h1h1h1m11 0h1m22 0h1m1 0h1h1m6 0h1m7 0h1m1 0h1m5 0h1m20 0h1m16 0h1m3 0h1m14 0h1m8 0h1h1m2 0h1m12 0h1m3 0h1h1m2 0h1m6 0h1m2 0h1m4 0h1m20 0h1M31 7.5h1m1 0h1m4 0h1m29 0h1m1 0h1m3 0h1m19 0h1m17 0h1h1h1m3 0h1m1 0h1m1 0h1m1 0h1m14 0h1m1 0h1m13 0h1m6 0h1m2 0h1m5 0h1m19 0h1m3 0h1m6 0h1m9 0h1m1 0h1m6 0h1m30 0h1m4 0h1M2 8.5h1m13 0h1m11 0h1m1 0h1m5 0h1m8 0h1m12 0h1m10 0h1m5 0h1m10 0h1m1 0h1m11 0h1m2 0h1m6 0h1m9 0h1m1 0h1m16 0h1m2 0h1m5 0h1m15 0h1m12 0h1m3 0h1m5 0h1m2 0h1m6 0h1m5 0h1m2 0h1m22 0h1m6 0h1m13 0h1m6 0h1m1 0h1m6 0h1h1M9 9.5h1h1m22 0h1m39 0h1m15 0h1h1m52 0h1m16 0h1m5 0h1m3 0h1m3 0h1m14 0h1m23 0h1m4 0h1m2 0h1m6 0h1m8 0h1m13 0h1m3 0h1" stroke="#110914"/>
<path d="M7 0.5h1m14 0h1m3 0h1m4 0h1m5 0h1m7 0h1m1 0h1h1m2 0h1m23 0h1m6 0h1m3 0h1m5 0h1m6 0h1m2 0h1m6 0h1m11 0h1m10 0h1m7 0h1m1 0h1m30 0h1m5 0h1m8 0h1m13 0h1m4 0h1m11 0h1m3 0h1M8 1.5h1h1m16 0h1m6 0h1m8 0h1m3 0h1m8 0h1m5 0h1m8 0h1m2 0h1m10 0h1m7 0h1h1m9 0h1m19 0h1m2 0h1m15 0h1m8 0h1m18 0h1m3 0h1h1m1 0h1m3 0h1m11 0h1m1 0h1m6 0h1m8 0h1m1 0h1m6 0h1m4 0h1m9 0h1m7 0h1m6 0h1m3 0h1m2 0h1m10 0h1h1M5 2.5h1m13 0h1m5 0h1m10 0h1m11 0h1m7 0h1m2 0h1m3 0h1m7 0h1m1 0h1m6 0h1m11 0h1m7 0h1m8 0h1m17 0h1m4 0h1m2 0h1h1m7 0h1m4 0h1m6 0h1m1 0h1m2 0h1m14 0h1m3 0h1m4 0h1m9 0h1m3 0h1m4 0h1m12 0h1h1m3 0h1m6 0h1m1 0h1m2 0h1m3 0h1m3 0h1m5 0h1h1m3 0h1m9 0h1m2 0h1m1 0h1m2 0h1M3 3.5h1m13 0h1m1 0h1m1 0h1m6 0h1m1 0h1m2 0h1m3 0h1m13 0h1m2 0h1m13 0h1m3 0h1m23 0h1m5 0h1m4 0h1m12 0h1m7 0h1m3 0h1m7 0h1m6 0h1m13 0h1h1m7 0h1m5 0h1m1 0h1m7 0h1m4 0h1m11 0h1m1 0h1m6 0h1m38 0h1m4 0h1M5 4.5h1m3 0h1m4 0h1m12 0h1h1m12 0h1m13 0h1m21 0h1h1m3 0h1m1 0h1h1h1m10 0h1m6 0h1m6 0h1m2 0h1m3 0h1m9 0h1m13 0h1h1m4 0h1m5 0h1m11 0h1m1 0h1m5 0h1m4 0h1m17 0h1m2 0h1m6 0h1m5 0h1m17 0h1h1m1 0h1m7 0h1h1m4 0h1m1 0h1m5 0h1m10 0h1m1 0h1M2 5.5h1m4 0h1h1m10 0h1m3 0h1m5 0h1h1m1 0h1m8 0h1h1m16 0h1h1m5 0h1m14 0h1m10 0h1m18 0h1m2 0h1h1m5 0h1m10 0h1h1m1 0h1m4 0h1m4 0h1m3 0h1m3 0h1h1m3 0h1h1m18 0h1m5 0h1m2 0h1m6 0h1m2 0h1m8 0h1m2 0h1m6 0h1m1 0h1h1m10 0h1m3 0h1m2 0h1h1m2 0h1m6 0h1m8 0h1m3 0h1M0 6.5h1m17 0h1m6 0h1m2 0h1m6 0h1m4 0h1m7 0h1m2 0h1m6 0h1m5 0h1m8 0h1m1 0h1h1m5 0h1m10 0h1m2 0h1m7 0h1m6 0h1h1h1m29 0h1m3 0h1m2 0h1m2 0h1m1 0h1m7 0h1h1m3 0h1m24 0h1m1 0h1m6 0h1m5 0h1m9 0h1h1m3 0h1m1 0h1m1 0h1m8 0h1m3 0h1m20 0h1h1m5 0h1h1M0 7.5h1m5 0h1m5 0h1m2 0h1h1m25 0h1m2 0h1h1m1 0h1m1 0h1m9 0h1m2 0h1m11 0h1h1m2 0h1m1 0h1m10 0h1m2 0h1m2 0h1m1 0h1m2 0h1m1 0h1m17 0h1m7 0h1m3 0h1h1m19 0h1m15 0h1m7 0h1m3 0h1m14 0h1m3 0h1m1 0h1m1 0h1m7 0h1m7 0h1m10 0h1m1 0h1m7 0h1m4 0h1m5 0h1h1m6 0h1M18 8.5h1m21 0h1m6 0h1m4 0h1m1 0h1m15 0h1m6 0h1m1 0h1m2 0h1m2 0h1m6 0h1m4 0h1h1m6 0h1m5 0h1m2 0h1m6 0h1m12 0h1m9 0h1m4 0h1m6 0h1m1 0h1m35 0h1m1 0h1m29 0h1m4 0h1m21 0h1m2 0h1m4 0h1M4 9.5h1m7 0h1m3 0h1m4 0h1h1h1m16 0h1m1 0h1m9 0h1m2 0h1m26 0h1m11 0h1m15 0h1m4 0h1m2 0h1m9 0h1m2 0h1h1m11 0h1m9 0h1h1m12 0h1m2 0h1h1h1m9 0h1m1 0h1m16 0h1m1 0h1h1m9 0h1m7 0h1h1m27 0h1h1m3 0h1m4 0h1" stroke="#1B1C0D"/>
<path d="M13 0.5h1m7 0h1m2 0h1m53 0h1h1m18 0h1m8 0h1m14 0h1h1m7 0h1m2 0h1h1m1 0h1m1 0h1m1 0h1m2 0h1h1m1 0h1m1 0h1m6 0h1m3 0h1h1m3 0h1m2 0h1m3 0h1m2 0h1m4 0h1h1m5 0h1m4 0h1m5 0h1m2 0h1m7 0h1m7 0h1m6 0h1m2 0h1m10 0h1m3 0h1m1 0h1m2 0h1m3 0h1m5 0h1m2 0h1m1 0h1m2 0h1M3 1.5h1m6 0h1m9 0h1m1 0h1m4 0h1m1 0h1m11 0h1m10 0h1m7 0h1m1 0h1h1m2 0h1m9 0h1m2 0h1m15 0h1m2 0h1m14 0h1m15 0h1m4 0h1m2 0h1h1m7 0h1h1m2 0h1m4 0h1h1m2 0h1m13 0h1m2 0h1m2 0h1h1m4 0h1m8 0h1m2 0h1m2 0h1m11 0h1m2 0h1m12 0h1m5 0h1m1 0h1h1m14 0h1M6 2.5h1m5 0h1m1 0h1h1m2 0h1m3 0h1m1 0h1m2 0h1m1 0h1m3 0h1h1m2 0h1m5 0h1m2 0h1h1m2 0h1m13 0h1m3 0h1m1 0h1m25 0h1m5 0h1h1m8 0h1m5 0h1h1h1m3 0h1m1 0h1m4 0h1m9 0h1m3 0h1m2 0h1m2 0h1m10 0h1h1m5 0h1h1m8 0h1m2 0h1m1 0h1m8 0h1h1m1 0h1h1m3 0h1m5 0h1h1h1m10 0h1m20 0h1m3 0h1m1 0h1m6 0h1m2 0h1m2 0h1M1 3.5h1m7 0h1m3 0h1h1m3 0h1m6 0h1m14 0h1m14 0h1h1m5 0h1m8 0h1m2 0h1m2 0h1m7 0h1m2 0h1m2 0h1m5 0h1m1 0h1m3 0h1m23 0h1m1 0h1m6 0h1m9 0h1m6 0h1m4 0h1m6 0h1m2 0h1h1m4 0h1m7 0h1m1 0h1m8 0h1h1m2 0h1m3 0h1m4 0h1m6 0h1m2 0h1m2 0h1m14 0h1m7 0h1m1 0h1m19 0h1M0 4.5h1m5 0h1h1m27 0h1m7 0h1m5 0h1m7 0h1m1 0h1m6 0h1m2 0h1h1m1 0h1m3 0h1m3 0h1h1m1 0h1m6 0h1h1h1m5 0h1m16 0h1m1 0h1m3 0h1m3 0h1m10 0h1h1m8 0h1m11 0h1m5 0h1m7 0h1m2 0h1m1 0h1m2 0h1h1m1 0h1m4 0h1m2 0h1m3 0h1m7 0h1h1m1 0h1m4 0h1m17 0h1m10 0h1h1m7 0h1m15 0h1M4 5.5h1h1m4 0h1m5 0h1m11 0h1m4 0h1h1m4 0h1m6 0h1h1m20 0h1h1m20 0h1m13 0h1m11 0h1m3 0h1m4 0h1m1 0h1m1 0h1m6 0h1m4 0h1m15 0h1m4 0h1m2 0h1m1 0h1m3 0h1m4 0h1m5 0h1m2 0h1m2 0h1h1m5 0h1m9 0h1m6 0h1m4 0h1m3 0h1h1h1m18 0h1m8 0h1m3 0h1m7 0h1M2 6.5h1m4 0h1h1h1m3 0h1m2 0h1m3 0h1m3 0h1m1 0h1m2 0h1m6 0h1m4 0h1m5 0h1m2 0h1m3 0h1m5 0h1h1m3 0h1m2 0h1m21 0h1m1 0h1m1 0h1h1m6 0h1m2 0h1m9 0h1m1 0h1m6 0h1h1m7 0h1m7 0h1h1m5 0h1m3 0h1m9 0h1m7 0h1h1m2 0h1h1h1m12 0h1m1 0h1m4 0h1m1 0h1m1 0h1m4 0h1m4 0h1m3 0h1m2 0h1m2 0h1m9 0h1m1 0h1m8 0h1h1m6 0h1h1m3 0h1h1m9 0h1M7 7.5h1h1h1m3 0h1m3 0h1m6 0h1m11 0h1m4 0h1m11 0h1h1h1m2 0h1h1m6 0h1m6 0h1m4 0h1m1 0h1m1 0h1h1m5 0h1h1m5 0h1h1m4 0h1m13 0h1h1m3 0h1m4 0h1m11 0h1m3 0h1h1m20 0h1m1 0h1m1 0h1m1 0h1m2 0h1m1 0h1h1m1 0h1m3 0h1h1m1 0h1h1m1 0h1m1 0h1m2 0h1m12 0h1m4 0h1m4 0h1m1 0h1m8 0h1m1 0h1m1 0h1m3 0h1m1 0h1h1m2 0h1m11 0h1m4 0h1h1h1M5 8.5h1m1 0h1m15 0h1m9 0h1h1m4 0h1m8 0h1m7 0h1m6 0h1m4 0h1m9 0h1m4 0h1h1m6 0h1m1 0h1m2 0h1m2 0h1m1 0h1h1m9 0h1m2 0h1h1m2 0h1m15 0h1m9 0h1m4 0h1m23 0h1m5 0h1m3 0h1m13 0h1m10 0h1m1 0h1m11 0h1m4 0h1m1 0h1m6 0h1m1 0h1h1m1 0h1m26 0h1M3 9.5h1m3 0h1m5 0h1m3 0h1h1m5 0h1m4 0h1m11 0h1m9 0h1m11 0h1m1 0h1m4 0h1m14 0h1h1m8 0h1m12 0h1m5 0h1m2 0h1m3 0h1m3 0h1m8 0h1m4 0h1m7 0h1m2 0h1h1h1m5 0h1m2 0h1m13 0h1h1m9 0h1h1m7 0h1m10 0h1m4 0h1m2 0h1m4 0h1m5 0h1m1 0h1m1 0h1m4 0h1m6 0h1h1h1m3 0h1m17 0h1" stroke="#353816"/>
<path d="M1 0.5h1m3 0h1m2 0h1h1h1m3 0h1m1 0h1h1m7 0h1m3 0h1m4 0h1m9 0h1m4 0h1h1m2 0h1h1m4 0h1m2 0h1m1 0h1m6 0h1h1m7 0h1m3 0h1h1m1 0h1m2 0h1m12 0h1m2 0h1m6 0h1m1 0h1h1m8 0h1h1m11 0h1m7 0h1m1 0h1m1 0h1m1 0h1h1m3 0h1h1m4 0h1m5 0h1m15 0h1m3 0h1m4 0h1m1 0h1h1m1 0h1m11 0h1m3 0h1h1m1 0h1m6 0h1m8 0h1m5 0h1m8 0h1m3 0h1h1m8 0h1m4 0h1h1M0 1.5h1h1m2 0h1m9 0h1m2 0h1h1h1m8 0h1m1 0h1h1m8 0h1m2 0h1m12 0h1m7 0h1m6 0h1m2 0h1m2 0h1h1m1 0h1m8 0h1m17 0h1m4 0h1m2 0h1m2 0h1m5 0h1m3 0h1m2 0h1m7 0h1h1h1m1 0h1h1m13 0h1m1 0h1h1h1m8 0h1m10 0h1h1h1m4 0h1m6 0h1m8 0h1h1m9 0h1h1m1 0h1m2 0h1m7 0h1m13 0h1m6 0h1m6 0h1m1 0h1m1 0h1m4 0h1M1 2.5h1m1 0h1h1m3 0h1m12 0h1m9 0h1h1m8 0h1h1m10 0h1h1m6 0h1m5 0h1m6 0h1h1m6 0h1m2 0h1m7 0h1h1m12 0h1m3 0h1m2 0h1m2 0h1m3 0h1m3 0h1m2 0h1m1 0h1m7 0h1h1h1m1 0h1m4 0h1m4 0h1m1 0h1m12 0h1m3 0h1m2 0h1h1m5 0h1m1 0h1m6 0h1m7 0h1m13 0h1h1h1m1 0h1m2 0h1m3 0h1m2 0h1h1m2 0h1m2 0h1m1 0h1m3 0h1h1m15 0h1m1 0h1M27 3.5h1m4 0h1m15 0h1m1 0h1m1 0h1h1m7 0h1m1 0h1m5 0h1m5 0h1m8 0h1m9 0h1m5 0h1m4 0h1m3 0h1m1 0h1m14 0h1m3 0h1m4 0h1m1 0h1m5 0h1m13 0h1m2 0h1m6 0h1m3 0h1m1 0h1m1 0h1m13 0h1h1m1 0h1m2 0h1h1m1 0h1m1 0h1m6 0h1m2 0h1m3 0h1m9 0h1m5 0h1h1m3 0h1h1m3 0h1m13 0h1m5 0h1M2 4.5h1m8 0h1m4 0h1m1 0h1m6 0h1m5 0h1h1m3 0h1h1h1h1h1m3 0h1m3 0h1m2 0h1m1 0h1h1m1 0h1m1 0h1m1 0h1h1m2 0h1m2 0h1m5 0h1m13 0h1m5 0h1m13 0h1m1 0h1m3 0h1m2 0h1m2 0h1m4 0h1m5 0h1m1 0h1m18 0h1m1 0h1m2 0h1m4 0h1m5 0h1m3 0h1m4 0h1m1 0h1m6 0h1h1m3 0h1m8 0h1m10 0h1m7 0h1m2 0h1m3 0h1m12 0h1m6 0h1h1h1m4 0h1m1 0h1h1m1 0h1M11 5.5h1m2 0h1m11 0h1m16 0h1m4 0h1m2 0h1h1m5 0h1m2 0h1m1 0h1h1m5 0h1m1 0h1m1 0h1m1 0h1m1 0h1m3 0h1m8 0h1m5 0h1m2 0h1m8 0h1m3 0h1m4 0h1m5 0h1m1 0h1m4 0h1m2 0h1m2 0h1h1h1m10 0h1h1m4 0h1m11 0h1m14 0h1m15 0h1h1m3 0h1m2 0h1m3 0h1m1 0h1m6 0h1m5 0h1m6 0h1m2 0h1m2 0h1m3 0h1m1 0h1m1 0h1m1 0h1h1m2 0h1m2 0h1M6 6.5h1m4 0h1m5 0h1m12 0h1m2 0h1m4 0h1m16 0h1m3 0h1m6 0h1m5 0h1m6 0h1m1 0h1m17 0h1m3 0h1m4 0h1m7 0h1m1 0h1m10 0h1m5 0h1m3 0h1m9 0h1m1 0h1m2 0h1m5 0h1m4 0h1m11 0h1m19 0h1m3 0h1m4 0h1h1m3 0h1m19 0h1m21 0h1m3 0h1m5 0h1m3 0h1M3 7.5h1m7 0h1m6 0h1h1m8 0h1m1 0h1m4 0h1m7 0h1h1m11 0h1m10 0h1m4 0h1m4 0h1m13 0h1m7 0h1m4 0h1m2 0h1h1m2 0h1m7 0h1m7 0h1m1 0h1m7 0h1m2 0h1m5 0h1m3 0h1h1h1h1m4 0h1m1 0h1h1m5 0h1m13 0h1m7 0h1m4 0h1m6 0h1m6 0h1m8 0h1m2 0h1m5 0h1m3 0h1m8 0h1h1m2 0h1m3 0h1m2 0h1h1m9 0h1m2 0h1M4 8.5h1m1 0h1m6 0h1m21 0h1m6 0h1m14 0h1m6 0h1m24 0h1m4 0h1m12 0h1m1 0h1m14 0h1m1 0h1m2 0h1m7 0h1m2 0h1m5 0h1m8 0h1m1 0h1m1 0h1m16 0h1m1 0h1m6 0h1h1m12 0h1m4 0h1m7 0h1m3 0h1m1 0h1m5 0h1m8 0h1m26 0h1m2 0h1h1M15 9.5h1m15 0h1m4 0h1m8 0h1h1m11 0h1m1 0h1h1h1m12 0h1h1m3 0h1m2 0h1m3 0h1m5 0h1m7 0h1m1 0h1h1h1m7 0h1m13 0h1m7 0h1m1 0h1m3 0h1h1m3 0h1m9 0h1m12 0h1m11 0h1m2 0h1m5 0h1m6 0h1m3 0h1m6 0h1m8 0h1m20 0h1m5 0h1m11 0h1m3 0h1m10 0h1" stroke="#4D531E"/>
<path d="M2 0.5h1h1m14 0h1h1m15 0h1h1m2 0h1m1 0h1m4 0h1m9 0h1m1 0h1m2 0h1m7 0h1m11 0h1m1 0h1m4 0h1m5 0h1h1h1m4 0h1m2 0h1m3 0h1m2 0h1m2 0h1m3 0h1m1 0h1m7 0h1m22 0h1m10 0h1m4 0h1m14 0h1m1 0h1m5 0h1h1m1 0h1m1 0h1m4 0h1m3 0h1h1h1m3 0h1m1 0h1m7 0h1h1m4 0h1m3 0h1h1h1h1m5 0h1m8 0h1m10 0h1m7 0h1M2 1.5h1m3 0h1m8 0h1h1m6 0h1m8 0h1m1 0h1m3 0h1m5 0h1m4 0h1h1h1m1 0h1m5 0h1m7 0h1h1m6 0h1m9 0h1m2 0h1m1 0h1h1m10 0h1m1 0h1h1m5 0h1m2 0h1m4 0h1m1 0h1h1m4 0h1m2 0h1m1 0h1h1m23 0h1m6 0h1m1 0h1m1 0h1h1m16 0h1m3 0h1h1m6 0h1m2 0h1m6 0h1h1m11 0h1m1 0h1h1m4 0h1m1 0h1m8 0h1m1 0h1m3 0h1m2 0h1m9 0h1M0 2.5h1m6 0h1m1 0h1m7 0h1m2 0h1m9 0h1m4 0h1m19 0h1m9 0h1m6 0h1m10 0h1m4 0h1h1m1 0h1m3 0h1m2 0h1m2 0h1m4 0h1m3 0h1m2 0h1m23 0h1m21 0h1h1m4 0h1m7 0h1m4 0h1m8 0h1h1m17 0h1m4 0h1m12 0h1m3 0h1m8 0h1m6 0h1m1 0h1m5 0h1m6 0h1M0 3.5h1m3 0h1h1h1h1h1m1 0h1m1 0h1m2 0h1m10 0h1m11 0h1h1m2 0h1h1h1m2 0h1m9 0h1h1m7 0h1m11 0h1h1h1h1h1m4 0h1m1 0h1h1m1 0h1h1m12 0h1m5 0h1m9 0h1m1 0h1h1m5 0h1m1 0h1m4 0h1h1m1 0h1m2 0h1h1m17 0h1m19 0h1m3 0h1m14 0h1m6 0h1m5 0h1m2 0h1m48 0h1M1 4.5h1m1 0h1m4 0h1m1 0h1m2 0h1m1 0h1m3 0h1m1 0h1h1m29 0h1m9 0h1m11 0h1m19 0h1h1h1m9 0h1m3 0h1m1 0h1m14 0h1m12 0h1m3 0h1h1m3 0h1m5 0h1m4 0h1m4 0h1m21 0h1m4 0h1h1m7 0h1m3 0h1m3 0h1m4 0h1h1m1 0h1m1 0h1m4 0h1m1 0h1m6 0h1m2 0h1m7 0h1m14 0h1m1 0h1M20 5.5h1h1h1m1 0h1m12 0h1m2 0h1m3 0h1h1m7 0h1h1m18 0h1m3 0h1m6 0h1h1m2 0h1m5 0h1h1m9 0h1h1h1m4 0h1m4 0h1m4 0h1m5 0h1m14 0h1h1m1 0h1m1 0h1m3 0h1m13 0h1m12 0h1m6 0h1m3 0h1m23 0h1m10 0h1m2 0h1h1m1 0h1m8 0h1m26 0h1M3 6.5h1m17 0h1m5 0h1m3 0h1h1m1 0h1m7 0h1h1m2 0h1m30 0h1h1m7 0h1h1m12 0h1m18 0h1m8 0h1m2 0h1h1m3 0h1h1m18 0h1m1 0h1m10 0h1m2 0h1h1m5 0h1m5 0h1m1 0h1m34 0h1m3 0h1m8 0h1m7 0h1m15 0h1h1M1 7.5h1h1m1 0h1h1m14 0h1m1 0h1m2 0h1m1 0h1m11 0h1h1m6 0h1m4 0h1m8 0h1h1m8 0h1m13 0h1m1 0h1h1m12 0h1m4 0h1m2 0h1m5 0h1m9 0h1m4 0h1m1 0h1m1 0h1m10 0h1m17 0h1m13 0h1m19 0h1m6 0h1m5 0h1m17 0h1m36 0h1M1 8.5h1m6 0h1m1 0h1m4 0h1m3 0h1m2 0h1m8 0h1m18 0h1h1m1 0h1m1 0h1m5 0h1h1m11 0h1m5 0h1m6 0h1m7 0h1m22 0h1m13 0h1m18 0h1m10 0h1m2 0h1m1 0h1h1m1 0h1m20 0h1m1 0h1m6 0h1m6 0h1m5 0h1m5 0h1m1 0h1h1m2 0h1m1 0h1m15 0h1m4 0h1M28 9.5h1m3 0h1m1 0h1h1m1 0h1m1 0h1m3 0h1h1m9 0h1m4 0h1m4 0h1m6 0h1m2 0h1m6 0h1m6 0h1m2 0h1m10 0h1m3 0h1m4 0h1m12 0h1m1 0h1m2 0h1m8 0h1m1 0h1m12 0h1m9 0h1m14 0h1m3 0h1m20 0h1m6 0h1m1 0h1m9 0h1m8 0h1m1 0h1m20 0h1m4 0h1" stroke="#656D26"/>
<path d="M0 0.5h1m3 0h1m6 0h1h1m7 0h1m6 0h1h1m3 0h1h1m4 0h1m13 0h1m2 0h1m1 0h1m2 0h1m4 0h1h1h1h1m7 0h1h1m13 0h1m1 0h1m3 0h1m7 0h1m11 0h1m1 0h1m10 0h1m23 0h1h1m3 0h1m10 0h1m3 0h1m33 0h1m47 0h1M5 1.5h1m1 0h1m3 0h1h1h1m7 0h1m2 0h1m10 0h1h1h1m1 0h1m5 0h1m1 0h1m6 0h1m2 0h1m11 0h1m2 0h1m8 0h1h1h1m2 0h1m9 0h1m2 0h1m6 0h1m1 0h1h1h1m6 0h1m17 0h1m9 0h1m6 0h1m34 0h1h1m3 0h1m10 0h1h1m5 0h1m3 0h1m3 0h1m8 0h1m4 0h1m6 0h1m21 0h1m1 0h1m6 0h1M13 2.5h1m26 0h1m4 0h1m5 0h1h1m9 0h1m3 0h1m9 0h1h1m9 0h1m2 0h1m13 0h1m10 0h1m6 0h1m6 0h1m3 0h1h1m8 0h1m13 0h1m19 0h1m8 0h1m15 0h1m2 0h1m9 0h1M16 3.5h1m3 0h1m1 0h1h1m5 0h1m1 0h1m2 0h1h1h1m22 0h1h1m6 0h1m5 0h1m9 0h1m2 0h1m11 0h1m2 0h1m2 0h1m5 0h1m5 0h1m2 0h1m1 0h1m12 0h1m7 0h1m9 0h1m1 0h1h1h1m15 0h1m8 0h1m22 0h1m6 0h1m10 0h1h1m8 0h1m4 0h1m1 0h1m7 0h1M4 4.5h1m18 0h1h1m1 0h1m3 0h1m2 0h1h1m7 0h1m4 0h1m15 0h1m1 0h1m9 0h1m3 0h1m25 0h1m20 0h1m4 0h1m1 0h1h1m3 0h1h1m1 0h1m8 0h1m1 0h1m4 0h1m15 0h1m8 0h1m1 0h1m23 0h1m3 0h1m22 0h1m1 0h1m24 0h1M1 5.5h1m1 0h1m2 0h1m8 0h1m1 0h1h1m16 0h1h1m1 0h1m17 0h1m5 0h1m12 0h1m10 0h1h1m14 0h1h1m43 0h1m13 0h1m2 0h1m4 0h1m4 0h1m5 0h1h1m11 0h1m71 0h1M37 6.5h1m1 0h1m4 0h1m7 0h1h1m2 0h1m10 0h1m20 0h1h1m1 0h1m22 0h1m6 0h1m12 0h1m22 0h1m1 0h1m20 0h1h1m27 0h1m11 0h1m6 0h1m10 0h1m6 0h1m1 0h1m7 0h1m1 0h1M10 7.5h1m15 0h1m30 0h1m6 0h1h1m20 0h1m57 0h1m2 0h1h1m47 0h1m3 0h1m12 0h1m18 0h1m9 0h1m11 0h1M0 8.5h1m2 0h1m7 0h1m5 0h1m6 0h1m1 0h1m5 0h1m8 0h1m1 0h1h1m1 0h1m2 0h1m9 0h1m5 0h1m5 0h1m36 0h1m18 0h1m2 0h1h1m6 0h1m2 0h1m1 0h1m10 0h1m6 0h1m4 0h1m4 0h1m1 0h1m9 0h1m4 0h1m28 0h1m16 0h1m3 0h1m5 0h1m6 0h1m3 0h1M0 9.5h1h1m3 0h1h1m18 0h1h1h1m2 0h1m7 0h1m10 0h1h1m5 0h1m9 0h1h1h1m8 0h1h1h1m12 0h1m6 0h1m7 0h1m4 0h1m3 0h1m5 0h1m7 0h1m2 0h1m2 0h1m11 0h1m8 0h1m6 0h1m23 0h1m5 0h1m21 0h1m13 0h1m5 0h1m2 0h1m6 0h1m1 0h1" stroke="#7C852B"/>
<path d="M30 0.5h1m39 0h1m2 0h1m36 0h1m32 0h1m27 0h1m57 0h1m5 0h1m10 0h1M25 1.5h1m22 0h1m16 0h1m21 0h1m6 0h1m5 0h1h1m14 0h1m8 0h1m121 0h1M23 2.5h1m14 0h1m21 0h1m17 0h1h1m43 0h1m97 0h1M2 3.5h1m38 0h1m4 0h1m2 0h1m15 0h1m42 0h1m4 0h1m34 0h1m1 0h1m110 0h1M17 4.5h1m11 0h1m16 0h1m3 0h1m48 0h1m1 0h1m1 0h1m4 0h1m26 0h1m34 0h1m25 0h1m5 0h1m13 0h1M0 5.5h1m49 0h1m14 0h1m13 0h1m28 0h1m82 0h1M70 6.5h1h1m2 0h1m5 0h1m45 0h1m18 0h1m53 0h1M29 7.5h1m7 0h1m11 0h1M9 8.5h1m4 0h1m6 0h1m7 0h1m43 0h1m2 0h1m27 0h1m1 0h1m6 0h1m3 0h1m5 0h1m23 0h1m4 0h1h1m9 0h1m8 0h1m2 0h1m19 0h1m6 0h1m5 0h1m40 0h1m12 0h1M2 9.5h1m5 0h1m11 0h1m27 0h1m23 0h1m11 0h1m11 0h1m3 0h1m22 0h1m55 0h1m11 0h1m4 0h1m3 0h1" stroke="#98A230"/>
<path d="M15 0.5h1m84 0h1M13 5.5h1" stroke="#BDC835"/>
<path d="M117 3.5h1" stroke="#D6E331"/>
</g>
<rect x="527.9" y="1140.3" width="107.1" height="4.4" fill="#7CB936"/>
<text transform="translate(588.45,1141.8) rotate(-45) scale(1,1.04)" font-size="17.2" stroke="#000">STAT1g1</text>
<rect x="527.9" y="1149.5" width="107.1" height="193.4" fill="#6A2A78"/>
<g transform="translate(527.9,1149.5) scale(1.3061,19.3400)" fill="none" stroke-width="1.004">
<path d="M26 1.5h1h2h1m20 0h2m5 0h1m20 0h1h2M15 2.5h3m6 0h1M13 5.5h2m13 0h2m17 0h2m18 0h3m5 0h2M22 6.5h3m25 0h2M35 7.5h1" stroke="#B555BC"/>
<path d="M20 1.5h3m20 0h2m2 0h3m6 0h1m4 0h2h1h1h2m2 0h1m3 0h1m2 0h2M32 2.5h2m5 0h2m13 0h3h1m4 0h1m1 0h1m2 0h2m10 0h2h1M25 3.5h1M8 4.5h1M22 5.5h2m9 0h1m15 0h2m3 0h1m5 0h2m12 0h1M30 7.5h2h2" stroke="#A643B0"/>
<path d="M14 0.5h1m19 0h1h3h2m5 0h1m9 0h1h2m4 0h2h2m3 0h1h3m1 0h3h1m3 0h1M16 1.5h1m2 0h1m10 0h1m7 0h2h3m9 0h3m3 0h2h1m6 0h1m2 0h2m2 0h2M18 2.5h2h2h2m2 0h3m12 0h1m1 0h2h3m15 0h1M16 3.5h1h1m4 0h3m1 0h2h1m4 0h1m5 0h2m4 0h3m9 0h1m2 0h2m7 0h1h2m8 0h1M15 4.5h1m22 0h1h2m10 0h1m2 0h1m22 0h1h3h1M20 5.5h2m13 0h1m23 0h1M32 6.5h2m6 0h3m31 0h2M25 7.5h2m7 0h1m2 0h3h1m8 0h1M17 9.5h1m7 0h3m25 0h2m13 0h1" stroke="#9736A6"/>
<path d="M18 0.5h3h1h1h2m3 0h2m2 0h2m7 0h2h2m1 0h1h1h3m3 0h1m3 0h2m6 0h2h1m4 0h1M23 1.5h3m7 0h1h1h3m17 0h1m12 0h1M36 2.5h3m9 0h1m2 0h2m16 0h2h3m2 0h2M19 3.5h1m9 0h1h1h1h1m8 0h1m9 0h1h3h2m1 0h2m4 0h1h1h3m3 0h1m3 0h1m2 0h1m1 0h1M10 4.5h1m6 0h3h1m2 0h3h1h3m1 0h2m2 0h3m3 0h2m1 0h2m3 0h2m1 0h2m1 0h1h2h1m2 0h3h1h2h2h2h2h1h2h1M24 5.5h1h3m2 0h1h1m12 0h3m4 0h2h1m1 0h3m8 0h1m5 0h1h1m3 0h2M9 6.5h1m20 0h2m14 0h1m23 0h1m10 0h1M36 7.5h1m27 0h1m6 0h1M16 8.5h3m1 0h1h1m12 0h2m3 0h1m2 0h3m6 0h2h3m5 0h2h3m3 0h2h3m4 0h2m1 0h1M23 9.5h1m7 0h1h1m1 0h2m2 0h3m6 0h3m12 0h1m10 0h3h2" stroke="#852C96"/>
<path d="M12 0.5h1m2 0h2m8 0h3m12 0h1m37 0h3M72 1.5h1m8 0h1M2 2.5h1m10 0h1m11 0h1m23 0h2m2 0h1m24 0h1M6 3.5h1m13 0h2m12 0h2h3m4 0h2m3 0h3m11 0h1h1m9 0h3m2 0h1M16 4.5h1m4 0h2m7 0h1m12 0h1m2 0h3M17 5.5h3m21 0h3m14 0h1m3 0h2h1h1M19 6.5h2m6 0h1m9 0h2h1m4 0h2m30 0h1m2 0h1h1M15 7.5h1m8 0h1m2 0h2m14 0h1h2h1m3 0h1h3m6 0h2m4 0h1M22 8.5h2h1h1h2h1h2h1h2m2 0h2m2 0h2m3 0h3h3m5 0h1h1h3m5 0h3m5 0h2h2m2 0h1M20 9.5h3m1 0h1m19 0h2h1m3 0h1h2m2 0h2h2m2 0h1m5 0h1m1 0h2m7 0h2" stroke="#6B247A"/>
<path d="M3 1.5h1m27 0h2m12 0h1M42 2.5h1m15 0h2h2M1 3.5h1m40 0h1M33 4.5h2M0 5.5h1m10 0h1m20 0h1m37 0h2M14 6.5h1m2 0h1m7 0h1m3 0h1m6 0h1m15 0h1m7 0h2m4 0h2h2m7 0h2M0 7.5h1m28 0h1m11 0h2m11 0h1m14 0h2m4 0h3h3M14 8.5h1m23 0h1M36 9.5h1m34 0h2" stroke="#4C1B58"/>
<path d="M2 0.5h1m27 0h2m19 0h3M2 1.5h1m7 0h1h1m34 0h1M4 2.5h1M2 3.5h1m74 0h1M0 4.5h1m1 0h1h1m55 0h2M36 5.5h3M5 6.5h1m5 0h1m23 0h1m11 0h3m4 0h3h1h2m5 0h1m5 0h3M12 7.5h1m3 0h3m2 0h2m32 0h3h2m2 0h2m1 0h1M5 8.5h1M28 9.5h2m7 0h1m3 0h3m15 0h2m2 0h3h1" stroke="#2C1034"/>
<path d="M0 0.5h1h1m3 0h1m1 0h1m2 0h1m49 0h2M8 1.5h1m4 0h1M3 2.5h1m7 0h1m2 0h1m14 0h3m2 0h2m29 0h2M8 3.5h1h1h1h1h1M6 4.5h1m5 0h1h1h1M1 5.5h1m6 0h1h1h1m5 0h1m17 0h1m44 0h3M1 6.5h1h1h1m3 0h1h1m4 0h1m2 0h1m1 0h1m2 0h1m4 0h1m1 0h1m5 0h1m18 0h1m8 0h1h2M1 7.5h1m3 0h1m4 0h1m3 0h1m4 0h2m26 0h2m19 0h1m3 0h3M0 8.5h1m18 0h1M5 9.5h1m3 0h1m3 0h1h1m4 0h1m10 0h1m2 0h1m46 0h2" stroke="#110914"/>
<path d="M8 0.5h1m2 0h1M1 1.5h1m12 0h1m2 0h1M6 2.5h1m2 0h1m64 0h2M4 3.5h1m2 0h1m6 0h1h1m2 0h1M5 4.5h1m3 0h1M2 5.5h1m3 0h1m5 0h1m26 0h2M0 6.5h1m3 0h1m1 0h1m3 0h1m32 0h1M3 7.5h1h1m1 0h1h1m5 0h1m9 0h1m43 0h1m13 0h1M1 8.5h1m5 0h1m2 0h1m1 0h1m2 0h1M1 9.5h1m2 0h1m1 0h1h1m4 0h1m5 0h1" stroke="#1B1C0D"/>
<path d="M13 0.5h1M4 1.5h1m1 0h1h1m7 0h1M0 2.5h1m4 0h1M1 4.5h1M7 5.5h1M12 6.5h1m2 0h1M9 7.5h1M2 8.5h1m8 0h1m1 0h1M0 9.5h1m9 0h1" stroke="#353816"/>
<path d="M3 0.5h1h1m1 0h1m2 0h1m7 0h1M5 1.5h1m3 0h1m2 0h1M7 2.5h1h1M5 3.5h1M4 4.5h1m2 0h1m3 0h1M3 5.5h1h1M11 7.5h1M3 8.5h1M8 9.5h1m2 0h1" stroke="#4D531E"/>
<path d="M0 1.5h1m17 0h1M10 2.5h1m1 0h1M3 3.5h1m9 0h1M5 5.5h1m9 0h1M2 7.5h1m5 0h1M4 8.5h1m1 0h1m1 0h1M2 9.5h1m12 0h1h1" stroke="#656D26"/>
<path d="M1 2.5h1M9 8.5h1M3 9.5h1" stroke="#7C852B"/>
<path d="M0 3.5h1" stroke="#98A230"/>
</g>
<rect x="637.8" y="1140.3" width="72.9" height="4.4" fill="#4FC3C5"/>
<text transform="translate(681.25,1141.8) rotate(-45) scale(1,1.04)" font-size="17.2" stroke="#000">STAT1g2</text>
<rect x="637.8" y="1149.5" width="72.9" height="193.4" fill="#6A2A78"/>
<g transform="translate(637.8,1149.5) scale(1.3018,19.3400)" fill="none" stroke-width="1.004">
<path d="M15 1.5h1m11 0h1h1m13 0h2M27 2.5h1M23 5.5h1m15 0h3m13 0h1M48 6.5h1M54 7.5h1" stroke="#B555BC"/>
<path d="M20 1.5h1h1m4 0h1m9 0h2m1 0h2m5 0h3h3h1h2M37 2.5h1m7 0h1h3m1 0h1M19 5.5h1h1m4 0h1h2M32 6.5h2M25 7.5h3m17 0h2m1 0h2" stroke="#A643B0"/>
<path d="M23 0.5h1h1m2 0h1h2h1m9 0h2h3h3m3 0h1m2 0h1M17 1.5h1m11 0h3m1 0h2h1m5 0h1m13 0h1M14 2.5h1m4 0h1m13 0h1h1m3 0h2m3 0h2m4 0h1M15 3.5h2m17 0h1h1h1m7 0h2m6 0h1m1 0h2M20 4.5h1m4 0h3h2m7 0h1m10 0h1m1 0h1m4 0h1M17 5.5h1m4 0h1m1 0h1m20 0h1m5 0h2M18 7.5h3h2m10 0h3h1M32 9.5h3m2 0h1" stroke="#9736A6"/>
<path d="M16 0.5h2h3h1h1m2 0h2m4 0h3m2 0h1h2h1m8 0h3m1 0h1h1m1 0h1M8 1.5h1m5 0h1m7 0h2h1m13 0h1m5 0h2M16 2.5h3m1 0h2h1m3 0h1m24 0h2h1M18 3.5h1h1h1h3h1h3h3h3m3 0h1h2m3 0h1m4 0h1h3m1 0h1M16 4.5h1h1h1h1m1 0h1h1h2m5 0h1h3h3m1 0h3h1h3h2h1m1 0h1m1 0h1M4 5.5h1m29 0h3h2m10 0h1M29 6.5h2h1m11 0h1m10 0h1M24 7.5h1M15 8.5h1m5 0h2m5 0h2m11 0h3m7 0h1M18 9.5h1m2 0h1h1m1 0h1m13 0h1m2 0h3m1 0h3m3 0h2h2" stroke="#852C96"/>
<path d="M9 0.5h1m24 0h2M18 1.5h2m5 0h1M31 2.5h1M7 3.5h1m38 0h2M3 4.5h1m4 0h1m43 0h3M21 5.5h1m6 0h2h3m9 0h3m5 0h1m2 0h2M18 6.5h1m33 0h1m2 0h1M4 7.5h1m24 0h1m7 0h1M16 8.5h2h1h2m2 0h1h1h1h1h1m2 0h1h2h2h1m1 0h2h2m3 0h1h1h2h3m3 0h2M23 9.5h1m2 0h3h3m3 0h2m2 0h1h1m3 0h1m3 0h2m5 0h1" stroke="#6B247A"/>
<path d="M6 2.5h1m8 0h1m7 0h3m6 0h1m2 0h2m3 0h3M9 4.5h1m2 0h1M33 5.5h1m12 0h3M22 6.5h3m9 0h3m1 0h1m5 0h3M16 7.5h1m6 0h1m4 0h1m9 0h1M36 8.5h1M3 9.5h1m21 0h1" stroke="#4C1B58"/>
<path d="M1 0.5h1m10 0h1M4 1.5h1M1 2.5h1m6 0h1h1h1m1 0h1m15 0h3m23 0h2M1 3.5h1m38 0h3M6 4.5h1m3 0h1M2 5.5h1m11 0h1M0 6.5h1m6 0h1m11 0h3m6 0h1m8 0h1m1 0h1h1m1 0h1m6 0h3M0 7.5h1m8 0h1m3 0h1m16 0h3m17 0h2m3 0h1M1 8.5h1h1h1m1 0h1m6 0h1" stroke="#2C1034"/>
<path d="M6 0.5h1h1h1m1 0h1h1m3 0h1M2 1.5h1m3 0h1h1m1 0h1m2 0h1M0 2.5h1m1 0h1m2 0h1m5 0h1M5 3.5h1m8 0h1M1 4.5h1h1M0 5.5h1h1m1 0h1m1 0h1m5 0h1h1h1M1 6.5h1h1m2 0h1h1m2 0h1h1h1m1 0h1m3 0h1m7 0h3m13 0h1m11 0h1M1 7.5h1m1 0h1m2 0h1m1 0h1m1 0h1h1m2 0h1h1m23 0h3h3m2 0h1M9 8.5h1m1 0h1m40 0h2M8 9.5h1m7 0h1h1m32 0h1" stroke="#110914"/>
<path d="M0 0.5h1m4 0h1m7 0h1M32 1.5h1M4 2.5h1m2 0h1M2 3.5h1m3 0h1m4 0h1m5 0h1M0 4.5h1m6 0h1m6 0h1M7 5.5h1m7 0h1h1m1 0h1M3 6.5h1m8 0h1M2 7.5h1m2 0h1m6 0h1m4 0h1m34 0h2M0 8.5h1m6 0h1m5 0h1h1M2 9.5h1m2 0h1m1 0h1m4 0h1h1m1 0h1" stroke="#1B1C0D"/>
<path d="M5 1.5h1M3 2.5h1m9 0h1M0 3.5h1m2 0h1m6 0h1M13 4.5h1M8 5.5h1h1M4 6.5h1m9 0h1h1h1m30 0h1M6 8.5h1m3 0h1M0 9.5h1h1m12 0h1m4 0h2" stroke="#353816"/>
<path d="M2 0.5h1m1 0h1M0 1.5h1m2 0h1m7 0h1m4 0h1M4 3.5h1m3 0h1m3 0h1h1M4 4.5h1m6 0h1m3 0h1M7 7.5h1M4 8.5h1" stroke="#4D531E"/>
<path d="M3 0.5h1m10 0h1M1 1.5h1m11 0h1M9 3.5h1M6 5.5h1m3 0h1M8 6.5h1M4 9.5h1m6 0h1" stroke="#656D26"/>
<path d="M10 1.5h1M5 4.5h1M6 9.5h1m2 0h1" stroke="#7C852B"/>
<path d="M8 8.5h1M10 9.5h1" stroke="#98A230"/>
</g>
<rect x="713.8" y="1140.3" width="110.4" height="4.4" fill="#A973C9"/>
<text transform="translate(776,1141.8) rotate(-45) scale(1,1.04)" font-size="17.2" stroke="#000">STAT1g3</text>
<rect x="713.8" y="1149.5" width="110.4" height="193.4" fill="#6A2A78"/>
<g transform="translate(713.8,1149.5) scale(1.2988,19.3400)" fill="none" stroke-width="1.004">
<path d="M17 0.5h1M20 1.5h1m15 0h2m4 0h1m9 0h1M39 2.5h2m10 0h1m14 0h1m1 0h1M30 5.5h2m2 0h1m13 0h1m20 0h2M58 7.5h2" stroke="#B555BC"/>
<path d="M13 0.5h1M18 1.5h2m1 0h2m4 0h3m10 0h2m4 0h3m5 0h1h3m10 0h3m13 0h1M32 2.5h1m21 0h2m3 0h1M74 3.5h3M5 5.5h1m16 0h1m20 0h1m12 0h2m13 0h2M81 7.5h3M62 9.5h1" stroke="#A643B0"/>
<path d="M21 0.5h1m1 0h1m9 0h2h1m6 0h1m4 0h3h3m2 0h2m14 0h2m3 0h2m6 0h1M25 1.5h2m4 0h1m11 0h3m12 0h3h2m8 0h1m2 0h1m3 0h2m1 0h2M26 2.5h2h2m3 0h2h3m14 0h2m3 0h2m1 0h2m20 0h3M15 3.5h1m10 0h1m3 0h1m2 0h1m16 0h2h1m1 0h2m16 0h1m4 0h2m1 0h1m3 0h1M28 4.5h1h2m6 0h1m4 0h2m5 0h3h2h1m20 0h1M24 5.5h2m7 0h1m2 0h1h1m27 0h2m12 0h3M24 6.5h1m23 0h1m9 0h1M39 7.5h2m32 0h3M17 8.5h1M75 9.5h1" stroke="#9736A6"/>
<path d="M25 0.5h1h1h1h3h2m3 0h2h2h2m1 0h1h2h1m10 0h1h3m1 0h3h1h1h3h1m2 0h3m3 0h3M32 1.5h2h2m13 0h3m1 0h1m18 0h2m1 0h2m3 0h1M22 2.5h1m21 0h1m3 0h1m7 0h1m10 0h1m8 0h2h1h3M19 3.5h1m1 0h1h2m7 0h2m12 0h2m6 0h1m3 0h1h1h1m5 0h1h2m2 0h1m2 0h1m5 0h1m1 0h3M19 4.5h1m5 0h1m7 0h1h2h1m7 0h1m3 0h1m6 0h2h1m3 0h2h1h1h3h3m2 0h1m4 0h2h3h2M35 5.5h1m2 0h2m4 0h3m4 0h1h3h1m7 0h2m2 0h2m4 0h1M23 6.5h1m2 0h1m12 0h2m13 0h3h1m16 0h2M29 7.5h2m3 0h2m5 0h2m9 0h2M15 8.5h1m10 0h1h2m8 0h3m10 0h1m1 0h1h1m5 0h3m17 0h1M24 9.5h2m3 0h1m1 0h1m12 0h1m4 0h2h1m2 0h3m4 0h1m5 0h2m7 0h1h2m3 0h2" stroke="#852C96"/>
<path d="M1 0.5h1m51 0h2m6 0h1m20 0h2M38 1.5h2M24 2.5h2m37 0h3m6 0h2m1 0h1M6 3.5h1m20 0h3m7 0h1h1h3h3m2 0h2h1m10 0h2m6 0h2m1 0h1M20 4.5h2h3m2 0h1m3 0h2m8 0h1m3 0h2h1m10 0h2h1m10 0h2m1 0h1M26 5.5h2m4 0h1m16 0h2m23 0h2M17 6.5h3m7 0h1m4 0h1h2m1 0h3m24 0h1m12 0h3M0 7.5h1m9 0h1m9 0h1h1m14 0h2m6 0h2m1 0h3h2m11 0h2M19 8.5h1m2 0h2m7 0h2h1h3m3 0h3h2h1h1h1h2m1 0h1m2 0h2h3m3 0h2h2h3h1h3h2h2h1h1m1 0h2h2h1M12 9.5h1m8 0h3m10 0h2h2h3m1 0h2m3 0h1h1m8 0h2h2m2 0h1m8 0h1m6 0h3m2 0h1" stroke="#6B247A"/>
<path d="M0 0.5h1m10 0h1M23 1.5h2M45 2.5h3M0 3.5h1m23 0h1M4 5.5h1m23 0h2m31 0h1h1M15 6.5h1m33 0h3m8 0h2h1m2 0h2m16 0h2M2 7.5h1m15 0h1m3 0h2h2h1h2m17 0h1m7 0h2m9 0h3M25 8.5h1M26 9.5h3m1 0h1m1 0h1h1m7 0h1m22 0h3m2 0h3m1 0h2" stroke="#4C1B58"/>
<path d="M2 0.5h1m15 0h3m57 0h1M2 1.5h1m12 0h1m47 0h3m11 0h1m5 0h1M23 2.5h1m14 0h1m2 0h3m18 0h1m6 0h3M56 3.5h1m5 0h3M26 4.5h1m11 0h3M16 5.5h1m1 0h1m39 0h2m16 0h2h1m3 0h3M1 6.5h1m7 0h1m18 0h1m16 0h3m11 0h1m21 0h1M1 7.5h1m54 0h2m10 0h1h1h3m6 0h2M8 9.5h1m11 0h1m24 0h2" stroke="#2C1034"/>
<path d="M3 0.5h1m5 0h1h1m3 0h1h1M6 1.5h1m4 0h1m1 0h1m16 0h1M0 2.5h1m1 0h1m6 0h1m39 0h2m23 0h1M4 3.5h1m5 0h1m2 0h1h1m10 0h1m8 0h3M3 4.5h1m1 0h1h1m1 0h1m67 0h2M1 5.5h1m1 0h1m2 0h1m1 0h1m14 0h1m23 0h1M2 6.5h1m2 0h1m1 0h1m3 0h1m1 0h1m6 0h1h1h1m2 0h1m3 0h3m3 0h1m5 0h3m8 0h2m10 0h1m2 0h1m2 0h1h3m5 0h2m1 0h1M6 7.5h1h1m7 0h1m1 0h1m14 0h2m4 0h1m22 0h2m13 0h3M3 8.5h1m1 0h1h1m1 0h1m2 0h1m9 0h1M3 9.5h1m1 0h1m3 0h1m6 0h1" stroke="#110914"/>
<path d="M6 0.5h1h1m4 0h1m3 0h1m5 0h1m1 0h1M0 1.5h1h1m6 0h1h1m2 0h1m1 0h1m2 0h1m48 0h2M4 2.5h1m7 0h1m6 0h3m8 0h2M1 3.5h1m3 0h1m5 0h1M4 4.5h1m2 0h1m2 0h1h1m1 0h1m3 0h1M0 5.5h1m1 0h1m4 0h1m1 0h1h1h1h1h1h1h1m3 0h1h1h1m18 0h3m17 0h1M0 6.5h1m3 0h1m1 0h1m5 0h1m3 0h1m27 0h1m23 0h2M4 7.5h1h1m5 0h1m2 0h1m4 0h1m11 0h1m11 0h1m16 0h1m23 0h1M0 8.5h1h1h1m7 0h1m1 0h1m5 0h1M2 9.5h1m12 0h1m1 0h1h1h1m32 0h2" stroke="#1B1C0D"/>
<path d="M5 0.5h1m2 0h1M3 1.5h1m3 0h1M1 2.5h1m1 0h1m2 0h1h1h1m1 0h1m5 0h1h1h1M2 3.5h1m17 0h1M0 4.5h1m1 0h1m11 0h1m1 0h1M8 6.5h1m1 0h1m3 0h1M3 7.5h1m4 0h1m4 0h1M13 8.5h1m15 0h2M1 9.5h1m2 0h1m1 0h1m4 0h1" stroke="#353816"/>
<path d="M4 0.5h1M4 1.5h1m11 0h1M11 2.5h1m3 0h1M3 3.5h1m5 0h1m2 0h1m4 0h1h1M9 4.5h1m2 0h1M9 7.5h1m2 0h1M4 8.5h1m2 0h1m1 0h1M7 9.5h1m5 0h1h1" stroke="#4D531E"/>
<path d="M5 1.5h1m4 0h1M5 2.5h1m7 0h1h1M7 3.5h1h1M15 4.5h1m2 0h1M17 5.5h1M3 6.5h1M14 8.5h1m1 0h1m3 0h1m3 0h1M0 9.5h1" stroke="#656D26"/>
<path d="M16 3.5h1M1 4.5h1M16 7.5h1" stroke="#7C852B"/>
<path d="M10 9.5h1" stroke="#98A230"/>
</g>
</g>
<g id="hm-ht29">
<text transform="translate(161.3,1424.5) scale(1,1.03)" font-size="31" stroke="#000" font-weight="bold">HT29</text>
<text transform="translate(152.6,1488.95)" font-size="21.0" fill="#4D4D4D" stroke="#4D4D4D" text-anchor="end" font-style="italic">STAT1</text>
<text transform="translate(152.6,1508.26)" font-size="21.0" fill="#4D4D4D" stroke="#4D4D4D" text-anchor="end" font-style="italic">WARS</text>
<text transform="translate(152.6,1527.58)" font-size="21.0" fill="#4D4D4D" stroke="#4D4D4D" text-anchor="end" font-style="italic">PARP14</text>
<text transform="translate(152.6,1546.88)" font-size="21.0" fill="#4D4D4D" stroke="#4D4D4D" text-anchor="end" font-style="italic">RNF213</text>
<text transform="translate(152.6,1566.19)" font-size="21.0" fill="#4D4D4D" stroke="#4D4D4D" text-anchor="end" font-style="italic">GBP1</text>
<text transform="translate(152.6,1585.5)" font-size="21.0" fill="#4D4D4D" stroke="#4D4D4D" text-anchor="end" font-style="italic">GBP4</text>
<text transform="translate(152.6,1604.81)" font-size="21.0" fill="#4D4D4D" stroke="#4D4D4D" text-anchor="end" font-style="italic">IRF1</text>
<text transform="translate(152.6,1624.12)" font-size="21.0" fill="#4D4D4D" stroke="#4D4D4D" text-anchor="end" font-style="italic">LAP3</text>
<text transform="translate(152.6,1643.43)" font-size="21.0" fill="#4D4D4D" stroke="#4D4D4D" text-anchor="end" font-style="italic">CIITA</text>
<text transform="translate(152.6,1662.74)" font-size="21.0" fill="#4D4D4D" stroke="#4D4D4D" text-anchor="end" font-style="italic">EPSTI1</text>
<rect x="160.1" y="1462.2" width="426.2" height="4.4" fill="#E8696B"/>
<text transform="translate(380.2,1463.7) rotate(-45) scale(1,1.04)" font-size="17.2" stroke="#000">NT</text>
<rect x="160.1" y="1472" width="426.2" height="193.1" fill="#3A3A22"/>
<g transform="translate(160.1,1472) scale(1.2994,19.3100)" fill="none" stroke-width="1.004">
<path d="M323 0.5h1M309 2.5h1m16 0h1h1M319 3.5h1M246 4.5h1m32 0h1m41 0h1M269 5.5h1M324 6.5h1M316 7.5h1m9 0h1M231 9.5h1" stroke="#B555BC"/>
<path d="M327 0.5h1M320 1.5h1M323 2.5h1h1M70 4.5h1M181 5.5h1M44 6.5h1m33 0h1m164 0h1m71 0h1M220 7.5h1m14 0h1m19 0h1M296 8.5h1m18 0h1m9 0h1M51 9.5h1m44 0h1m101 0h1m69 0h1m31 0h1m3 0h1" stroke="#A643B0"/>
<path d="M323 1.5h1M284 3.5h1m38 0h1M261 4.5h1m60 0h1m4 0h1M34 5.5h1m150 0h1m9 0h1m49 0h1m8 0h1m69 0h1M104 6.5h1m8 0h1m209 0h1M174 7.5h1m52 0h1m30 0h1m63 0h1M60 8.5h1m215 0h1m26 0h1m7 0h1m14 0h1M307 9.5h1m16 0h1" stroke="#9736A6"/>
<path d="M322 0.5h1M80 1.5h1M242 2.5h1M167 3.5h1M28 4.5h1m29 0h1m42 0h1m59 0h1m5 0h1m52 0h1m35 0h1m35 0h1M121 5.5h1m5 0h1m63 0h1m19 0h1m17 0h1m3 0h1m17 0h1m66 0h1m3 0h1M2 6.5h1m2 0h1m145 0h1m52 0h1m111 0h1m8 0h1M86 7.5h1m20 0h1m7 0h1m98 0h1m54 0h1m13 0h1h1m3 0h1m6 0h1m4 0h1M45 8.5h1m7 0h1m122 0h1m20 0h1m1 0h1m10 0h1m70 0h1m25 0h1m13 0h1m5 0h1M98 9.5h1m72 0h1m25 0h1m44 0h1m13 0h1m16 0h1m1 0h1m2 0h1m11 0h1m1 0h1m19 0h1m3 0h1m8 0h1h1h1" stroke="#852C96"/>
<path d="M193 0.5h1m41 0h1M228 1.5h1m92 0h1m2 0h1M307 2.5h1M29 3.5h1m206 0h1m4 0h1m85 0h1M65 4.5h1m130 0h1m48 0h1m18 0h1m20 0h1m32 0h1M52 5.5h1m11 0h1m25 0h1m108 0h1m2 0h1m41 0h1m52 0h1m16 0h1M31 6.5h1m34 0h1m142 0h1m5 0h1m3 0h1m47 0h1m18 0h1m27 0h1m11 0h1M113 7.5h1m13 0h1m4 0h1m134 0h1h1m33 0h1m9 0h1M37 8.5h1m3 0h1m154 0h1m43 0h1m2 0h1m30 0h1m10 0h1m6 0h1M151 9.5h1m42 0h1h1m10 0h1m11 0h1m3 0h1m16 0h1m3 0h1m1 0h1m24 0h1m5 0h1m7 0h1m13 0h1" stroke="#6B247A"/>
<path d="M275 0.5h1M270 1.5h1M256 2.5h1m5 0h1m5 0h1M62 3.5h1m194 0h1m24 0h1M6 4.5h1m42 0h1m45 0h1m31 0h1m12 0h1m42 0h1m100 0h1m11 0h1M115 5.5h1m27 0h1m22 0h1m34 0h1m30 0h1m22 0h1m57 0h1m3 0h1M35 6.5h1m19 0h1m12 0h1m169 0h1m7 0h1m46 0h1m2 0h1m8 0h1M198 7.5h1m11 0h1m46 0h1m1 0h1m34 0h1m18 0h1m7 0h1m5 0h1M34 8.5h1m27 0h1m28 0h1h1h1m9 0h1m6 0h1m31 0h1m15 0h1m2 0h1m19 0h1h1m23 0h1h1m15 0h1m8 0h1h1m19 0h1m10 0h1h1m5 0h1m12 0h1m23 0h1m7 0h1m2 0h1m2 0h1M43 9.5h1m60 0h1m38 0h1m64 0h1m18 0h1m4 0h1m2 0h1m1 0h1m51 0h1m18 0h1m12 0h1" stroke="#4C1B58"/>
<path d="M214 0.5h1m71 0h1M316 1.5h1M17 2.5h1m185 0h1M195 3.5h1m26 0h1m28 0h1m41 0h1m5 0h1m14 0h1M295 4.5h1M19 5.5h1m31 0h1m90 0h1m12 0h1m11 0h1m14 0h1m6 0h1m15 0h1m24 0h1m18 0h1m51 0h1m4 0h1m14 0h1M63 6.5h1m8 0h1m6 0h1m79 0h1m10 0h1m10 0h1m24 0h1m9 0h1m3 0h1m18 0h1m35 0h1m5 0h1m3 0h1m18 0h1M50 7.5h1m44 0h1m6 0h1m62 0h1m9 0h1m6 0h1m6 0h1m22 0h1m19 0h1m31 0h1m14 0h1m45 0h1M26 8.5h1m8 0h1m16 0h1m61 0h1m25 0h1m14 0h1m14 0h1m1 0h1m1 0h1m41 0h1m5 0h1m27 0h1m12 0h1m3 0h1m2 0h1m9 0h1m19 0h1m1 0h1m1 0h1h1M20 9.5h1m38 0h1m81 0h1m20 0h1m11 0h1h1m14 0h1m24 0h1m22 0h1m1 0h1m6 0h1m5 0h1m1 0h1m9 0h1h1m27 0h1m1 0h1m21 0h1" stroke="#2C1034"/>
<path d="M115 0.5h1m100 0h1m19 0h1m7 0h1m15 0h1m24 0h1m1 0h1m6 0h1m21 0h1M34 1.5h1m18 0h1m94 0h1m32 0h1m3 0h1m34 0h1m13 0h1m13 0h1m22 0h1m5 0h1m6 0h1m28 0h1M51 2.5h1m33 0h1m4 0h1m2 0h1m2 0h1m7 0h1m53 0h1m4 0h1m8 0h1m12 0h1m26 0h1m3 0h1m1 0h1m2 0h1m12 0h1m1 0h1h1m15 0h1m3 0h1m1 0h1m1 0h1m4 0h1m11 0h1h1m5 0h1m2 0h1m5 0h1h1m2 0h1m5 0h1m11 0h1h1h1m1 0h1M10 3.5h1m23 0h1m17 0h1m12 0h1m11 0h1m12 0h1m16 0h1m11 0h1m10 0h1m10 0h1m6 0h1m3 0h1m12 0h1m2 0h1m5 0h1m1 0h1m2 0h1m2 0h1m17 0h1m6 0h1m15 0h1m2 0h1m4 0h1m5 0h1m2 0h1m5 0h1m8 0h1h1m7 0h1m2 0h1m11 0h1m9 0h1m1 0h1m9 0h1h1m2 0h1m11 0h1m4 0h1m2 0h1h1M54 4.5h1m13 0h1m4 0h1m13 0h1m55 0h1m4 0h1m7 0h1m12 0h1m14 0h1m2 0h1m6 0h1m20 0h1m6 0h1m4 0h1m5 0h1m20 0h1h1m11 0h1m1 0h1m5 0h1h1h1m8 0h1m6 0h1m7 0h1m21 0h1h1m1 0h1M15 5.5h1m8 0h1m1 0h1m17 0h1m25 0h1m43 0h1m23 0h1m32 0h1m16 0h1m24 0h1m11 0h1m2 0h1m2 0h1m2 0h1m1 0h1h1m3 0h1m5 0h1m11 0h1m11 0h1m3 0h1m6 0h1m5 0h1m4 0h1m6 0h1m14 0h1m3 0h1h1m2 0h1m2 0h1M36 6.5h1m13 0h1m9 0h1m27 0h1m4 0h1m26 0h1m5 0h1m3 0h1m1 0h1m19 0h1m21 0h1m1 0h1m3 0h1m10 0h1m6 0h1m1 0h1m10 0h1m5 0h1m6 0h1m1 0h1m9 0h1m5 0h1m1 0h1m3 0h1h1m3 0h1m1 0h1m8 0h1m17 0h1m7 0h1m3 0h1m12 0h1m9 0h1h1h1m1 0h1M26 7.5h1m11 0h1m6 0h1m10 0h1h1m26 0h1m2 0h1m12 0h1m2 0h1m7 0h1m2 0h1m4 0h1m23 0h1m7 0h1m8 0h1h1m6 0h1h1h1m9 0h1m4 0h1m4 0h1m10 0h1m3 0h1m12 0h1m2 0h1m2 0h1m8 0h1m11 0h1m3 0h1h1m3 0h1m7 0h1m8 0h1m1 0h1m2 0h1m9 0h1m3 0h1m7 0h1h1m5 0h1m2 0h1m8 0h1m2 0h1M72 8.5h1m26 0h1m7 0h1m8 0h1m14 0h1m15 0h1h1m2 0h1m14 0h1m2 0h1m3 0h1m3 0h1m11 0h1m11 0h1m2 0h1m13 0h1h1m1 0h1m17 0h1m5 0h1h1m8 0h1m4 0h1h1m4 0h1m16 0h1m14 0h1m15 0h1m5 0h1M57 9.5h1m16 0h1m1 0h1m9 0h1m10 0h1m18 0h1m1 0h1m8 0h1m9 0h1m1 0h1m5 0h1m3 0h1m18 0h1m3 0h1m14 0h1m3 0h1m10 0h1m2 0h1m5 0h1m7 0h1m5 0h1h1m23 0h1m16 0h1m3 0h1m5 0h1m5 0h1m11 0h1m5 0h1m7 0h1m1 0h1" stroke="#110914"/>
<path d="M3 0.5h1m19 0h1m19 0h1h1m3 0h1m1 0h1m2 0h1m8 0h1m6 0h1m10 0h1m14 0h1m17 0h1m4 0h1m15 0h1h1m20 0h1m13 0h1m1 0h1m1 0h1h1h1h1m3 0h1m8 0h1m6 0h1m1 0h1m28 0h1m3 0h1m7 0h1m2 0h1m1 0h1m5 0h1h1h1m1 0h1h1m8 0h1h1m5 0h1m5 0h1h1m8 0h1m8 0h1m1 0h1m3 0h1m1 0h1m11 0h1h1m2 0h1M3 1.5h1m15 0h1m9 0h1m17 0h1h1m6 0h1m7 0h1h1m13 0h1m2 0h1m2 0h1m37 0h1m3 0h1m2 0h1m9 0h1m14 0h1m6 0h1m6 0h1m2 0h1m18 0h1m1 0h1m2 0h1m1 0h1m1 0h1m26 0h1m4 0h1h1m5 0h1m1 0h1m1 0h1m31 0h1h1m3 0h1h1h1h1h1m8 0h1m5 0h1m8 0h1m4 0h1m1 0h1m3 0h1M7 2.5h1m6 0h1m1 0h1m6 0h1m3 0h1m4 0h1m2 0h1h1h1m2 0h1h1m4 0h1m8 0h1h1m1 0h1m3 0h1m1 0h1m3 0h1m25 0h1h1m3 0h1m3 0h1m8 0h1m4 0h1m2 0h1m2 0h1h1m7 0h1m1 0h1m3 0h1h1m1 0h1m1 0h1m2 0h1m1 0h1m12 0h1m7 0h1h1m6 0h1m2 0h1m2 0h1m6 0h1m1 0h1m9 0h1m1 0h1m5 0h1m2 0h1m10 0h1h1m3 0h1h1m1 0h1h1m1 0h1m2 0h1m1 0h1m3 0h1m5 0h1m1 0h1m2 0h1m2 0h1m5 0h1h1m1 0h1m4 0h1m1 0h1h1m4 0h1m3 0h1m11 0h1m2 0h1m2 0h1m3 0h1m1 0h1m1 0h1h1h1h1h1h1m6 0h1m2 0h1M1 3.5h1m6 0h1m13 0h1h1m17 0h1h1m3 0h1h1m13 0h1m6 0h1m9 0h1h1m3 0h1m2 0h1m5 0h1m3 0h1m1 0h1m7 0h1m1 0h1m11 0h1m2 0h1m3 0h1h1h1m2 0h1m5 0h1m1 0h1m1 0h1m4 0h1m2 0h1m11 0h1h1m11 0h1m8 0h1m1 0h1h1h1m2 0h1m1 0h1m2 0h1h1m1 0h1m1 0h1m1 0h1m8 0h1m1 0h1h1h1m1 0h1m1 0h1h1m3 0h1m2 0h1h1h1m3 0h1m7 0h1h1m3 0h1m2 0h1m1 0h1h1h1m5 0h1h1m1 0h1m1 0h1m3 0h1m1 0h1m1 0h1m3 0h1m3 0h1m3 0h1h1h1h1m1 0h1m1 0h1m3 0h1h1m2 0h1m2 0h1m5 0h1m5 0h1m5 0h1M5 4.5h1m9 0h1h1m5 0h1m8 0h1m3 0h1m1 0h1m9 0h1h1m7 0h1h1m9 0h1m3 0h1m5 0h1m1 0h1h1m7 0h1m2 0h1m8 0h1m32 0h1m13 0h1m4 0h1m2 0h1m1 0h1m4 0h1h1h1h1m2 0h1m2 0h1m1 0h1m5 0h1h1m11 0h1m2 0h1m2 0h1m1 0h1h1h1m4 0h1m2 0h1m3 0h1m3 0h1m13 0h1m2 0h1m4 0h1m1 0h1m4 0h1m9 0h1m4 0h1m2 0h1m2 0h1m3 0h1m5 0h1m2 0h1h1m5 0h1h1m8 0h1m3 0h1m6 0h1m4 0h1h1M5 5.5h1m2 0h1m4 0h1m4 0h1m2 0h1m14 0h1m5 0h1m7 0h1m3 0h1m1 0h1h1m18 0h1m5 0h1m12 0h1m5 0h1m4 0h1h1h1m7 0h1m2 0h1m2 0h1m1 0h1m5 0h1h1m2 0h1m1 0h1m2 0h1m1 0h1m2 0h1m9 0h1m9 0h1m3 0h1h1m3 0h1m9 0h1m12 0h1m1 0h1m1 0h1m5 0h1m7 0h1h1m2 0h1m3 0h1m1 0h1m2 0h1m11 0h1h1m11 0h1m3 0h1m4 0h1h1h1h1m2 0h1m2 0h1m3 0h1m16 0h1m2 0h1h1m2 0h1m4 0h1m6 0h1m5 0h1m10 0h1M1 6.5h1m9 0h1m4 0h1m17 0h1m2 0h1h1m6 0h1m2 0h1m3 0h1m1 0h1m7 0h1m1 0h1m16 0h1m1 0h1m6 0h1m6 0h1m4 0h1m8 0h1m2 0h1h1m5 0h1h1m2 0h1m8 0h1h1m12 0h1h1m10 0h1m3 0h1m2 0h1h1m16 0h1m7 0h1h1m6 0h1m6 0h1m13 0h1m2 0h1m9 0h1m5 0h1m5 0h1m17 0h1m11 0h1m1 0h1m4 0h1m2 0h1h1m2 0h1h1m10 0h1m5 0h1m1 0h1h1h1m6 0h1M3 7.5h1m3 0h1h1m4 0h1h1m4 0h1m8 0h1m4 0h1h1m5 0h1m3 0h1m9 0h1m6 0h1m1 0h1m3 0h1m14 0h1m2 0h1m2 0h1m3 0h1m1 0h1m3 0h1m22 0h1m4 0h1m1 0h1m1 0h1m2 0h1h1m5 0h1h1m3 0h1m2 0h1m3 0h1m1 0h1m3 0h1h1m11 0h1m12 0h1m3 0h1m8 0h1m1 0h1h1m16 0h1m4 0h1m2 0h1m15 0h1h1m1 0h1m7 0h1m3 0h1m3 0h1m5 0h1m8 0h1m4 0h1m1 0h1m2 0h1m15 0h1m4 0h1h1m1 0h1m1 0h1m7 0h1m3 0h1h1M6 8.5h1h1m14 0h1m5 0h1h1m8 0h1m9 0h1m5 0h1m9 0h1m17 0h1m5 0h1m26 0h1m2 0h1m4 0h1m3 0h1m4 0h1m8 0h1m1 0h1m2 0h1m20 0h1m11 0h1m3 0h1m7 0h1h1m2 0h1m6 0h1h1m1 0h1m5 0h1h1m17 0h1m4 0h1m16 0h1m38 0h1m2 0h1m11 0h1m5 0h1M2 9.5h1m13 0h1m1 0h1m16 0h1m1 0h1m8 0h1m18 0h1h1m13 0h1h1h1h1m27 0h1m2 0h1m2 0h1m1 0h1m1 0h1m1 0h1m2 0h1m2 0h1m5 0h1m2 0h1m19 0h1m1 0h1h1m15 0h1m8 0h1m1 0h1h1m10 0h1m8 0h1m3 0h1m2 0h1m4 0h1m6 0h1h1m18 0h1m10 0h1h1m2 0h1m18 0h1m2 0h1h1h1h1m2 0h1m7 0h1m2 0h1m2 0h1m17 0h1" stroke="#1B1C0D"/>
<path d="M0 0.5h1h1h1m1 0h1h1h1m3 0h1h1m1 0h1m14 0h1m5 0h1m2 0h1m2 0h1m8 0h1m4 0h1h1m16 0h1h1h1m3 0h1m5 0h1m1 0h1m5 0h1m11 0h1m3 0h1m2 0h1m4 0h1m3 0h1m3 0h1m2 0h1m4 0h1m3 0h1m3 0h1m1 0h1m3 0h1h1h1m2 0h1h1m1 0h1h1m1 0h1m1 0h1h1h1m2 0h1h1m3 0h1m1 0h1m1 0h1m5 0h1m2 0h1m8 0h1h1m7 0h1h1m5 0h1m2 0h1m2 0h1m3 0h1m1 0h1m1 0h1h1m1 0h1m4 0h1h1m2 0h1m14 0h1m12 0h1m9 0h1m24 0h1m5 0h1m6 0h1m10 0h1m4 0h1M11 1.5h1m10 0h1m2 0h1m6 0h1m4 0h1m2 0h1h1m4 0h1m7 0h1m5 0h1m7 0h1m4 0h1h1m2 0h1m7 0h1m5 0h1h1m12 0h1m1 0h1h1m3 0h1m3 0h1m8 0h1m2 0h1m7 0h1h1m5 0h1m3 0h1m7 0h1m8 0h1m1 0h1m3 0h1m1 0h1h1h1m2 0h1m2 0h1m3 0h1m2 0h1h1m11 0h1m4 0h1m2 0h1h1m3 0h1m1 0h1m5 0h1m1 0h1m1 0h1m1 0h1m1 0h1m6 0h1h1m1 0h1m4 0h1m11 0h1h1h1h1m3 0h1m5 0h1m2 0h1m5 0h1m8 0h1h1m2 0h1m1 0h1m1 0h1h1m2 0h1m1 0h1m2 0h1m1 0h1m1 0h1m6 0h1m11 0h1M0 2.5h1m1 0h1m1 0h1m1 0h1m2 0h1h1h1m7 0h1m8 0h1m1 0h1m11 0h1m1 0h1m4 0h1h1m1 0h1m1 0h1m5 0h1h1m5 0h1m1 0h1m4 0h1m2 0h1m1 0h1m9 0h1m1 0h1h1m8 0h1h1m2 0h1h1m4 0h1m1 0h1h1h1m2 0h1h1m1 0h1h1m5 0h1m4 0h1m2 0h1h1m4 0h1m8 0h1m1 0h1h1m1 0h1m2 0h1h1m3 0h1m8 0h1m1 0h1m2 0h1m2 0h1m4 0h1h1h1h1m1 0h1m1 0h1m1 0h1h1m2 0h1h1h1m3 0h1m1 0h1m1 0h1m4 0h1m4 0h1h1m1 0h1m3 0h1h1m3 0h1m7 0h1m1 0h1m1 0h1m3 0h1h1m2 0h1m8 0h1m8 0h1h1h1m1 0h1m2 0h1m5 0h1h1m2 0h1m2 0h1m7 0h1m2 0h1h1m17 0h1M0 3.5h1m15 0h1m2 0h1m11 0h1m1 0h1m1 0h1h1m2 0h1h1m3 0h1m6 0h1m4 0h1h1h1m4 0h1m3 0h1m1 0h1m3 0h1m6 0h1h1m6 0h1h1m4 0h1h1m1 0h1m1 0h1h1m2 0h1m1 0h1m5 0h1m19 0h1m4 0h1m7 0h1h1m3 0h1m1 0h1m4 0h1m1 0h1m5 0h1m1 0h1m3 0h1m14 0h1m8 0h1m7 0h1m2 0h1m2 0h1h1h1h1m1 0h1m5 0h1m4 0h1m7 0h1h1m5 0h1m4 0h1h1m2 0h1h1m8 0h1h1m2 0h1m3 0h1m3 0h1m1 0h1m1 0h1m1 0h1m3 0h1m2 0h1m10 0h1m3 0h1m5 0h1m2 0h1m3 0h1m1 0h1m2 0h1m1 0h1m5 0h1M14 4.5h1m3 0h1h1m6 0h1m5 0h1m1 0h1m1 0h1m3 0h1m10 0h1m1 0h1m6 0h1m2 0h1m8 0h1m5 0h1m10 0h1m3 0h1m10 0h1h1h1m1 0h1m1 0h1m9 0h1m17 0h1m2 0h1m11 0h1h1m17 0h1m3 0h1h1h1m7 0h1m2 0h1m7 0h1m1 0h1m4 0h1m7 0h1m3 0h1h1m10 0h1m7 0h1h1m1 0h1m4 0h1m5 0h1h1m7 0h1m11 0h1m1 0h1h1m5 0h1m6 0h1m3 0h1m14 0h1m5 0h1h1m5 0h1h1M12 5.5h1m3 0h1m11 0h1m6 0h1m4 0h1m6 0h1m1 0h1m12 0h1m2 0h1m1 0h1m13 0h1m2 0h1h1m5 0h1m2 0h1m3 0h1m19 0h1m4 0h1m1 0h1m6 0h1m4 0h1m9 0h1h1m2 0h1m1 0h1m3 0h1m14 0h1m4 0h1m12 0h1m2 0h1m14 0h1m1 0h1m6 0h1m3 0h1m4 0h1m19 0h1m1 0h1m1 0h1m14 0h1m2 0h1m3 0h1m5 0h1m2 0h1m3 0h1m10 0h1m12 0h1M7 6.5h1m9 0h1m4 0h1m5 0h1m1 0h1m11 0h1m3 0h1m6 0h1m2 0h1m1 0h1m2 0h1m11 0h1m2 0h1h1m4 0h1m1 0h1h1m3 0h1m2 0h1m5 0h1m8 0h1m1 0h1m2 0h1m3 0h1m6 0h1h1m14 0h1h1h1h1h1m2 0h1h1m7 0h1m5 0h1h1m2 0h1h1m10 0h1h1m3 0h1m1 0h1m3 0h1m1 0h1m12 0h1m1 0h1m6 0h1m1 0h1m12 0h1m1 0h1m10 0h1m13 0h1m2 0h1h1h1h1m5 0h1m1 0h1h1m8 0h1m1 0h1m8 0h1m5 0h1m2 0h1h1m10 0h1m11 0h1M4 7.5h1m5 0h1m5 0h1m1 0h1m8 0h1m3 0h1m4 0h1m5 0h1m5 0h1m2 0h1m1 0h1m5 0h1h1m18 0h1m10 0h1m18 0h1m2 0h1m4 0h1m13 0h1m3 0h1m11 0h1m5 0h1m1 0h1h1m5 0h1m15 0h1m4 0h1m2 0h1m7 0h1h1h1m5 0h1h1h1m2 0h1h1h1m1 0h1m7 0h1m3 0h1m6 0h1h1m5 0h1m5 0h1m3 0h1m15 0h1m1 0h1m12 0h1m2 0h1m5 0h1m1 0h1m2 0h1m4 0h1M2 8.5h1m6 0h1m10 0h1m4 0h1m1 0h1m2 0h1h1m8 0h1m3 0h1m1 0h1m8 0h1m12 0h1h1m4 0h1h1m2 0h1m2 0h1m1 0h1m10 0h1m2 0h1m6 0h1m6 0h1h1h1m11 0h1m7 0h1m5 0h1m4 0h1h1m4 0h1m3 0h1m5 0h1m4 0h1m2 0h1m6 0h1m11 0h1m2 0h1m9 0h1m25 0h1m2 0h1m1 0h1m2 0h1m1 0h1h1m3 0h1h1m1 0h1m4 0h1m1 0h1m10 0h1m5 0h1m3 0h1m4 0h1h1m3 0h1m4 0h1m2 0h1m19 0h1m6 0h1m5 0h1M6 9.5h1h1m2 0h1h1m2 0h1m6 0h1m2 0h1m3 0h1m4 0h1m4 0h1h1m4 0h1m13 0h1m4 0h1m3 0h1h1h1m8 0h1h1m12 0h1m8 0h1m3 0h1m4 0h1m1 0h1m2 0h1m4 0h1m1 0h1m7 0h1h1m2 0h1m5 0h1m1 0h1m1 0h1m8 0h1m5 0h1m3 0h1h1m11 0h1m3 0h1m1 0h1h1m9 0h1m2 0h1m6 0h1m16 0h1m12 0h1h1m1 0h1m4 0h1m2 0h1m4 0h1m4 0h1m2 0h1m3 0h1m10 0h1m6 0h1m1 0h1m11 0h1m28 0h1" stroke="#353816"/>
<path d="M7 0.5h1h1m10 0h1m2 0h1m6 0h1h1m1 0h1h1m1 0h1h1m2 0h1m12 0h1m3 0h1m4 0h1m2 0h1h1h1m1 0h1m1 0h1h1m7 0h1m9 0h1m4 0h1m1 0h1h1m2 0h1m1 0h1m2 0h1m4 0h1m8 0h1m1 0h1h1m3 0h1m1 0h1m1 0h1h1m1 0h1m4 0h1h1m1 0h1m1 0h1h1h1m3 0h1h1m11 0h1m4 0h1m10 0h1m5 0h1m1 0h1h1h1m6 0h1m6 0h1h1h1m1 0h1m1 0h1m3 0h1m12 0h1h1m4 0h1m2 0h1m3 0h1h1m6 0h1h1m6 0h1m2 0h1m1 0h1m2 0h1h1h1m4 0h1m6 0h1h1m3 0h1h1h1h1m7 0h1h1m4 0h1m2 0h1m2 0h1m1 0h1h1h1m1 0h1m2 0h1m1 0h1m8 0h1M1 1.5h1m10 0h1m5 0h1m1 0h1h1m1 0h1m2 0h1h1m2 0h1m5 0h1m1 0h1m3 0h1h1m5 0h1m1 0h1m7 0h1m5 0h1m1 0h1m1 0h1m1 0h1h1m2 0h1m11 0h1h1h1m3 0h1m3 0h1m1 0h1m1 0h1m1 0h1m6 0h1m2 0h1m13 0h1m3 0h1m1 0h1m6 0h1m8 0h1h1h1h1m3 0h1m2 0h1h1m6 0h1m1 0h1m5 0h1m3 0h1m3 0h1m7 0h1m9 0h1h1m4 0h1m6 0h1m2 0h1m1 0h1m4 0h1m5 0h1m4 0h1m5 0h1m3 0h1m3 0h1m1 0h1m1 0h1m6 0h1h1m3 0h1h1h1m18 0h1m2 0h1h1m6 0h1m2 0h1m1 0h1h1m6 0h1h1m5 0h1m7 0h1M1 2.5h1m3 0h1m2 0h1m3 0h1h1m1 0h1m2 0h1m1 0h1h1h1m1 0h1m1 0h1m4 0h1m1 0h1m4 0h1m4 0h1m1 0h1m1 0h1m11 0h1m5 0h1h1m5 0h1h1m2 0h1m4 0h1h1h1h1m1 0h1m1 0h1m27 0h1m8 0h1h1h1m1 0h1h1m4 0h1m4 0h1m4 0h1m6 0h1m2 0h1m1 0h1m4 0h1m2 0h1h1m4 0h1m2 0h1m1 0h1m5 0h1m11 0h1m2 0h1h1m9 0h1m2 0h1m11 0h1m4 0h1m17 0h1m2 0h1m4 0h1m8 0h1m13 0h1m3 0h1m5 0h1m2 0h1h1h1m10 0h1m1 0h1M2 3.5h1m2 0h1m1 0h1m4 0h1h1m1 0h1m2 0h1m5 0h1m1 0h1m16 0h1m4 0h1m1 0h1m2 0h1h1m4 0h1m10 0h1m1 0h1m1 0h1h1h1m5 0h1m1 0h1m2 0h1m5 0h1m7 0h1h1m1 0h1m4 0h1h1m1 0h1h1h1m1 0h1m4 0h1h1m2 0h1h1m6 0h1h1h1m1 0h1m1 0h1m3 0h1m9 0h1m1 0h1m1 0h1m3 0h1m10 0h1h1m4 0h1m1 0h1h1m7 0h1h1m1 0h1m24 0h1m17 0h1m39 0h1m2 0h1m16 0h1m10 0h1m13 0h1M0 4.5h1m3 0h1m5 0h1h1m1 0h1m7 0h1m2 0h1m2 0h1m5 0h1m4 0h1h1m2 0h1m9 0h1m2 0h1m6 0h1m3 0h1m7 0h1h1m7 0h1h1h1m6 0h1m1 0h1m1 0h1h1m1 0h1m13 0h1m3 0h1h1m4 0h1h1m4 0h1m5 0h1h1m2 0h1m5 0h1h1m2 0h1h1m7 0h1m11 0h1m4 0h1m5 0h1h1m2 0h1m19 0h1h1m2 0h1m3 0h1m5 0h1m1 0h1m1 0h1m1 0h1m3 0h1h1m7 0h1m2 0h1m7 0h1m2 0h1h1m4 0h1m7 0h1m3 0h1m12 0h1m6 0h1m3 0h1m2 0h1m7 0h1m1 0h1h1m2 0h1m5 0h1M3 5.5h1m6 0h1h1m5 0h1m5 0h1m3 0h1m2 0h1m6 0h1h1m4 0h1m1 0h1h1m11 0h1m1 0h1m2 0h1m5 0h1m2 0h1h1h1m4 0h1h1m5 0h1m1 0h1h1m7 0h1m1 0h1h1m2 0h1h1h1m7 0h1m6 0h1m5 0h1m2 0h1m3 0h1m27 0h1h1m2 0h1m4 0h1m3 0h1h1h1m1 0h1m1 0h1m23 0h1m4 0h1m2 0h1m3 0h1m3 0h1m2 0h1m14 0h1m4 0h1m16 0h1m16 0h1m1 0h1h1m3 0h1m4 0h1m2 0h1m6 0h1m4 0h1m3 0h1m2 0h1m13 0h1M0 6.5h1m5 0h1m2 0h1h1m9 0h1m2 0h1m3 0h1m21 0h1m9 0h1m7 0h1m3 0h1m3 0h1m4 0h1m5 0h1m7 0h1h1h1m3 0h1h1m1 0h1m2 0h1m10 0h1m11 0h1m1 0h1m1 0h1m2 0h1h1m6 0h1m5 0h1m5 0h1h1h1m4 0h1m5 0h1m1 0h1h1h1m15 0h1m2 0h1m6 0h1m7 0h1m2 0h1m2 0h1m14 0h1m8 0h1m7 0h1m4 0h1h1h1m3 0h1m4 0h1m1 0h1m6 0h1h1m1 0h1h1m1 0h1m6 0h1m13 0h1m3 0h1m4 0h1m1 0h1m18 0h1M0 7.5h1h1m3 0h1h1m13 0h1m2 0h1m1 0h1m3 0h1m5 0h1m1 0h1m1 0h1m1 0h1m4 0h1m18 0h1h1m1 0h1m3 0h1m7 0h1m2 0h1m9 0h1m7 0h1m3 0h1m10 0h1m5 0h1h1m1 0h1m10 0h1h1m1 0h1m4 0h1m5 0h1m15 0h1h1m5 0h1m2 0h1m4 0h1m9 0h1m14 0h1m9 0h1m9 0h1m1 0h1m5 0h1m1 0h1m2 0h1m6 0h1m6 0h1m7 0h1m10 0h1m20 0h1m2 0h1m17 0h1m3 0h1M8 8.5h1m15 0h1m7 0h1m6 0h1m9 0h1h1h1m7 0h1m10 0h1h1m5 0h1m6 0h1m4 0h1m12 0h1m2 0h1h1m10 0h1m2 0h1m3 0h1m4 0h1m7 0h1h1m10 0h1m2 0h1m27 0h1m3 0h1h1m22 0h1h1m14 0h1h1m28 0h1m1 0h1m1 0h1m10 0h1m3 0h1m1 0h1m19 0h1m1 0h1m1 0h1m9 0h1M0 9.5h1m2 0h1h1m8 0h1m26 0h1m1 0h1m2 0h1m4 0h1m2 0h1m1 0h1h1m7 0h1m5 0h1m18 0h1h1m2 0h1m1 0h1m4 0h1m7 0h1h1m3 0h1m14 0h1m27 0h1m8 0h1h1m6 0h1m5 0h1m4 0h1h1m13 0h1m4 0h1m9 0h1m15 0h1m15 0h1m4 0h1m6 0h1m5 0h1m9 0h1m22 0h1m8 0h1m6 0h1h1h1" stroke="#4D531E"/>
<path d="M9 0.5h1m4 0h1m1 0h1h1m2 0h1h1m2 0h1h1h1h1m3 0h1m6 0h1m2 0h1m4 0h1m4 0h1m6 0h1m8 0h1m7 0h1h1h1m3 0h1h1h1m3 0h1h1m9 0h1m7 0h1h1m1 0h1m7 0h1m5 0h1m13 0h1m15 0h1m12 0h1m1 0h1m25 0h1m1 0h1m1 0h1m10 0h1m1 0h1m3 0h1m2 0h1m1 0h1m2 0h1m3 0h1m9 0h1m4 0h1m7 0h1m7 0h1m8 0h1h1m1 0h1m2 0h1m15 0h1h1m4 0h1m4 0h1M0 1.5h1m1 0h1m1 0h1m4 0h1m3 0h1h1h1m1 0h1m17 0h1m9 0h1m4 0h1m10 0h1h1m3 0h1m9 0h1m2 0h1m2 0h1h1m2 0h1m3 0h1m4 0h1h1m3 0h1m5 0h1m2 0h1m4 0h1m2 0h1h1h1m1 0h1m8 0h1m1 0h1m2 0h1m6 0h1m1 0h1h1h1m6 0h1m8 0h1h1m1 0h1m20 0h1m2 0h1m3 0h1h1m1 0h1m6 0h1h1m5 0h1h1m4 0h1m1 0h1m14 0h1m9 0h1m2 0h1h1m4 0h1m1 0h1m7 0h1m1 0h1m3 0h1m7 0h1m8 0h1m19 0h1m3 0h1m12 0h1m3 0h1M34 2.5h1m4 0h1m8 0h1m4 0h1m3 0h1m5 0h1m6 0h1h1m3 0h1m2 0h1m8 0h1m9 0h1h1m1 0h1m6 0h1h1h1h1m20 0h1m12 0h1m2 0h1m1 0h1h1m17 0h1m15 0h1m21 0h1m8 0h1m1 0h1m27 0h1m47 0h1m27 0h1M3 3.5h1h1m4 0h1m1 0h1m5 0h1m2 0h1h1m6 0h1m1 0h1m7 0h1m10 0h1m10 0h1m3 0h1m1 0h1m18 0h1m5 0h1m23 0h1m1 0h1h1m27 0h1m12 0h1m9 0h1m1 0h1m5 0h1m5 0h1m14 0h1m5 0h1m1 0h1m20 0h1m10 0h1m29 0h1m39 0h1m1 0h1m1 0h1M1 4.5h1m1 0h1m4 0h1m8 0h1m5 0h1m1 0h1m3 0h1m11 0h1m19 0h1m7 0h1m20 0h1m11 0h1m4 0h1m1 0h1m1 0h1h1m1 0h1h1m3 0h1m1 0h1h1m3 0h1m1 0h1m2 0h1m2 0h1m2 0h1m4 0h1m1 0h1m14 0h1h1m13 0h1m13 0h1m1 0h1h1m1 0h1m9 0h1m4 0h1m2 0h1m12 0h1m6 0h1m11 0h1m55 0h1m3 0h1h1m5 0h1m5 0h1M1 5.5h1h1m1 0h1m1 0h1m13 0h1m1 0h1m6 0h1m1 0h1m1 0h1m5 0h1m8 0h1m6 0h1m5 0h1m4 0h1m1 0h1m2 0h1m5 0h1h1m4 0h1m3 0h1m4 0h1m3 0h1m14 0h1h1m4 0h1m31 0h1m29 0h1m6 0h1m5 0h1m4 0h1m5 0h1m3 0h1m11 0h1m22 0h1m15 0h1m14 0h1m2 0h1m6 0h1m3 0h1m2 0h1m11 0h1m4 0h1m4 0h1M3 6.5h1h1m10 0h1m3 0h1m1 0h1m3 0h1h1m2 0h1m10 0h1h1m23 0h1m8 0h1m16 0h1m7 0h1m5 0h1m12 0h1h1m7 0h1m10 0h1m6 0h1m7 0h1h1m20 0h1m3 0h1m6 0h1h1m7 0h1h1h1m4 0h1m15 0h1m2 0h1m1 0h1m6 0h1m2 0h1h1m27 0h1m37 0h1M2 7.5h1m8 0h1m3 0h1m5 0h1h1m20 0h1m5 0h1m8 0h1m10 0h1m4 0h1h1h1m12 0h1m7 0h1m8 0h1m1 0h1m9 0h1m1 0h1m3 0h1m4 0h1m12 0h1m14 0h1m5 0h1m8 0h1m4 0h1m9 0h1m25 0h1m1 0h1m13 0h1m8 0h1m1 0h1m7 0h1m21 0h1m3 0h1m2 0h1m25 0h1h1m5 0h1m4 0h1M0 8.5h1h1m2 0h1m6 0h1m1 0h1h1m3 0h1m23 0h1h1m12 0h1h1m3 0h1m1 0h1m2 0h1m12 0h1h1m9 0h1m7 0h1m1 0h1m18 0h1m2 0h1m3 0h1m1 0h1m6 0h1h1m20 0h1m4 0h1m8 0h1m6 0h1m7 0h1m1 0h1m5 0h1m3 0h1m16 0h1m4 0h1m6 0h1m29 0h1m21 0h1m6 0h1m1 0h1m4 0h1m30 0h1M1 9.5h1m7 0h1m2 0h1m14 0h1m1 0h1h1h1m2 0h1m13 0h1m3 0h1m7 0h1m1 0h1m8 0h1m19 0h1m2 0h1m4 0h1m6 0h1h1m17 0h1m6 0h1m3 0h1m10 0h1h1m3 0h1m2 0h1m11 0h1m13 0h1m19 0h1m8 0h1m69 0h1m22 0h1m13 0h1" stroke="#656D26"/>
<path d="M12 0.5h1m2 0h1m2 0h1m26 0h1m1 0h1m9 0h1m1 0h1h1m2 0h1m21 0h1m5 0h1m1 0h1m7 0h1m1 0h1m8 0h1m12 0h1m3 0h1m28 0h1m4 0h1m16 0h1m2 0h1m1 0h1m3 0h1m84 0h1m5 0h1m10 0h1m19 0h1h1m1 0h1m4 0h1m6 0h1M5 1.5h1h1m3 0h1m13 0h1m6 0h1m1 0h1m5 0h1m12 0h1m3 0h1h1h1m11 0h1m23 0h1m3 0h1m3 0h1m1 0h1m6 0h1m3 0h1m4 0h1m3 0h1m33 0h1m17 0h1m1 0h1m3 0h1m15 0h1m7 0h1m5 0h1m9 0h1m32 0h1m17 0h1m20 0h1m24 0h1M3 2.5h1m21 0h1m3 0h1m50 0h1m86 0h1m11 0h1M6 3.5h1m7 0h1m10 0h1m1 0h1m4 0h1m12 0h1m9 0h1m15 0h1m52 0h1m29 0h1m5 0h1M2 4.5h1m6 0h1m2 0h1m7 0h1m9 0h1m12 0h1m1 0h1h1m3 0h1m13 0h1m16 0h1h1m15 0h1m26 0h1m4 0h1m20 0h1m14 0h1m59 0h1m33 0h1m2 0h1m36 0h1m24 0h1M0 5.5h1m6 0h1m6 0h1m10 0h1m6 0h1m20 0h1m21 0h1m17 0h1m15 0h1h1m24 0h1m4 0h1m4 0h1h1m3 0h1m1 0h1m3 0h1m1 0h1h1m3 0h1m20 0h1m9 0h1m40 0h1m17 0h1m3 0h1m8 0h1m19 0h1M8 6.5h1m3 0h1m1 0h1m3 0h1m5 0h1m7 0h1h1m9 0h1m3 0h1m3 0h1m5 0h1m11 0h1h1m16 0h1m20 0h1m1 0h1m17 0h1m54 0h1m47 0h1h1m39 0h1m29 0h1M9 7.5h1m2 0h1m4 0h1m12 0h1m1 0h1m14 0h1m4 0h1m2 0h1m6 0h1m8 0h1m1 0h1m3 0h1h1m2 0h1m9 0h1m4 0h1m2 0h1m4 0h1m5 0h1m27 0h1m10 0h1m14 0h1m14 0h1m13 0h1m57 0h1m39 0h1M5 8.5h1m4 0h1m1 0h1m2 0h1m3 0h1m1 0h1m14 0h1m10 0h1m10 0h1m8 0h1m5 0h1m2 0h1m8 0h1h1h1m7 0h1h1m4 0h1m6 0h1h1m11 0h1m12 0h1m18 0h1m2 0h1m2 0h1m3 0h1m29 0h1m19 0h1h1m2 0h1m20 0h1m8 0h1h1m10 0h1m29 0h1M5 9.5h1m2 0h1m6 0h1m1 0h1m1 0h1m3 0h1m2 0h1m5 0h1m3 0h1m4 0h1m12 0h1m17 0h1h1m3 0h1m6 0h1h1m1 0h1h1m13 0h1h1m20 0h1m21 0h1m7 0h1m14 0h1m8 0h1m13 0h1m14 0h1m9 0h1m5 0h1m28 0h1m9 0h1m56 0h1h1" stroke="#7C852B"/>
<path d="M42 0.5h1m47 0h1m8 0h1m14 0h1m90 0h1m35 0h1m7 0h1M7 1.5h1h1m7 0h1m11 0h1m15 0h1m78 0h1m10 0h1m3 0h1m2 0h1m15 0h1m92 0h1M37 3.5h1M7 4.5h1m36 0h1m14 0h1m16 0h1m9 0h1m16 0h1m12 0h1m15 0h1m101 0h1m13 0h1M9 5.5h1m49 0h1m42 0h1m25 0h1m31 0h1m26 0h1m117 0h1M13 6.5h1m25 0h1M24 7.5h1m39 0h1m5 0h1m75 0h1m45 0h1M3 8.5h1m12 0h1h1m5 0h1m9 0h1m31 0h1m64 0h1m33 0h1m63 0h1m72 0h1m11 0h1m4 0h1M22 9.5h1m2 0h1m21 0h1m13 0h1m13 0h1m57 0h1m16 0h1m6 0h1m12 0h1m41 0h1m11 0h1m44 0h1m40 0h1" stroke="#98A230"/>
<path d="M41 5.5h1M49 9.5h1" stroke="#BDC835"/>
</g>
<rect x="588.3" y="1462.2" width="91.7" height="4.4" fill="#7CB936"/>
<text transform="translate(641.15,1463.7) rotate(-45) scale(1,1.04)" font-size="17.2" stroke="#000">STAT1g1</text>
<rect x="588.3" y="1472" width="91.7" height="193.1" fill="#6A2A78"/>
<g transform="translate(588.3,1472) scale(1.2915,19.3100)" fill="none" stroke-width="1.004">
<path d="M36 0.5h2M52 1.5h1m14 0h2M23 2.5h1m3 0h2m20 0h1M28 3.5h2m13 0h1m15 0h2m5 0h3h1M21 7.5h3m35 0h1" stroke="#B555BC"/>
<path d="M32 0.5h2m9 0h1m8 0h3m3 0h3m8 0h1M15 1.5h1m6 0h2m5 0h2m2 0h1m6 0h1m8 0h2h1m2 0h1h3h2m3 0h3h1M18 2.5h1m3 0h1m9 0h2m1 0h2m4 0h1m1 0h1m2 0h2m8 0h3m3 0h2m2 0h1h2m1 0h1M1 3.5h1m28 0h1m23 0h1m2 0h1M45 4.5h1m3 0h2m13 0h2M22 6.5h2m15 0h1m3 0h2m8 0h2m9 0h1M24 7.5h1m10 0h1m6 0h2m4 0h2" stroke="#A643B0"/>
<path d="M22 0.5h3m1 0h1h1h1m5 0h2m2 0h1h1m2 0h1m20 0h1h2h1h2M19 1.5h1m1 0h1m3 0h2h1h1m2 0h1m4 0h1h2m5 0h1m17 0h1M24 2.5h1m4 0h2m3 0h1m2 0h1h2h1m3 0h1m9 0h1m6 0h1M20 3.5h2m12 0h1m9 0h3h2h1m13 0h2M18 4.5h1m10 0h1m2 0h1m1 0h1m1 0h2h1h2M19 5.5h1h2h1h3m8 0h1m12 0h3m4 0h3m5 0h2M18 6.5h1m2 0h1m6 0h1m3 0h1m7 0h2m3 0h3m1 0h3m3 0h1h3h3m3 0h1h2h2M28 7.5h3m5 0h2m12 0h3h1h2h2m5 0h1h1M26 8.5h2m13 0h2M26 9.5h2m28 0h2" stroke="#9736A6"/>
<path d="M19 0.5h2m8 0h1m10 0h1h1m13 0h2h1m4 0h1m7 0h1M20 1.5h1m11 0h1m1 0h2m5 0h3m1 0h1h3m4 0h1m15 0h1h1M1 2.5h1m40 0h1m2 0h1m5 0h2h1m1 0h1m3 0h2m8 0h1M14 3.5h1m24 0h1m1 0h2m7 0h1m4 0h2M24 4.5h2h1h1h1m1 0h2m3 0h1m15 0h2h3h2h2m6 0h2h2h1M26 5.5h1h1h1h1h1h2h1m1 0h1m2 0h2h1h3h3m3 0h1h2h1m3 0h1h1h1m8 0h3M10 6.5h1m13 0h1h3m5 0h3m12 0h1m14 0h1m6 0h1M8 7.5h1m23 0h3m3 0h1m5 0h1h3m10 0h1m1 0h3m2 0h3h1M1 8.5h1m17 0h2h2h2h1m2 0h3h1m3 0h3m2 0h1m2 0h2m2 0h1h1h1h3h1m2 0h2h1h2h3h1h1h2h2M18 9.5h3m3 0h2m2 0h1m1 0h1m2 0h1h2m1 0h3h1m2 0h1m1 0h1h2h1m2 0h1h1m5 0h1m3 0h1m4 0h1h1h1h1" stroke="#852C96"/>
<path d="M25 0.5h1m18 0h3m14 0h1M31 2.5h1m16 0h1m15 0h2M15 3.5h1m9 0h1h1h1m3 0h1m8 0h1m10 0h3m4 0h1m6 0h1M10 4.5h1m5 0h1m16 0h1m7 0h3h1m15 0h1h3M36 5.5h2m26 0h2h2M29 6.5h3m10 0h1m9 0h1M20 7.5h1m10 0h1m9 0h1M32 8.5h3m19 0h1h1M10 9.5h1m12 0h1m5 0h1m1 0h2m3 0h1m4 0h1h1m1 0h1m8 0h2m4 0h2h1m4 0h1" stroke="#6B247A"/>
<path d="M21 0.5h1m25 0h2h3M0 3.5h1m16 0h1m4 0h3m10 0h2M4 4.5h1M60 5.5h2M62 6.5h1M39 7.5h1h1M11 9.5h1" stroke="#4C1B58"/>
<path d="M30 0.5h2M8 1.5h1m30 0h1M15 2.5h1h1m33 0h1M9 3.5h1M1 4.5h1M4 5.5h1m1 0h1m5 0h1M4 6.5h1m1 0h1m8 0h1h1m2 0h1M4 7.5h1m5 0h1m2 0h1m55 0h2M10 8.5h1m6 0h1m20 0h2m30 0h1M3 9.5h1" stroke="#2C1034"/>
<path d="M0 0.5h1h1m2 0h1h1h1m9 0h1M0 1.5h1m4 0h1m11 0h1m42 0h2M3 2.5h1m1 0h1m13 0h1h1h1m3 0h2M10 3.5h1m2 0h1m4 0h1m13 0h2m3 0h2m22 0h2M0 4.5h1m1 0h1m18 0h3m22 0h3M1 5.5h1m7 0h1m1 0h1m1 0h1m1 0h1m2 0h1M0 6.5h1m8 0h1m2 0h1h1h1m5 0h1M1 7.5h1m5 0h1m7 0h1m3 0h1m5 0h3M5 8.5h1m6 0h1M1 9.5h1m13 0h1m1 0h1m4 0h1m32 0h1m7 0h3" stroke="#110914"/>
<path d="M2 0.5h1m9 0h1m5 0h1M1 1.5h1h1h1h1m1 0h1m2 0h1h1m2 0h1m2 0h1M0 2.5h1m5 0h1h1m1 0h1h1h1m1 0h1h1M2 3.5h1h1h1m2 0h1h1m10 0h1m50 0h1M6 4.5h1m4 0h1m1 0h1m1 0h1m4 0h1M2 5.5h1h1m1 0h1m2 0h1m1 0h1M1 6.5h1h1m4 0h1m3 0h1m5 0h1M0 7.5h1m1 0h1h1m7 0h1h1m3 0h1h1M7 8.5h1m1 0h1m1 0h1m2 0h1m1 0h1m1 0h1M4 9.5h1h1m7 0h1m2 0h1m4 0h1m27 0h2" stroke="#1B1C0D"/>
<path d="M3 0.5h1m4 0h1h1h1h1m2 0h1h1m1 0h1M7 1.5h1M2 2.5h1m1 0h1m3 0h1m3 0h1m4 0h1M5 3.5h1m5 0h1h1m3 0h1M3 4.5h1m1 0h1m2 0h1h1m2 0h1M0 5.5h1m15 0h1h1M3 6.5h1m1 0h1M5 7.5h1m3 0h1m4 0h1M0 8.5h1m2 0h1h1m1 0h1m6 0h1m31 0h2M2 9.5h1m3 0h1m1 0h1m5 0h1" stroke="#353816"/>
<path d="M13 0.5h1M14 1.5h1M6 3.5h1M7 4.5h1m9 0h1m1 0h1M8 6.5h1m27 0h3M6 7.5h1m11 0h1M0 9.5h1m6 0h1m1 0h1m2 0h1" stroke="#4D531E"/>
<path d="M7 0.5h1M18 1.5h1m5 0h1M14 4.5h1M7 5.5h1M2 8.5h1m5 0h1" stroke="#656D26"/>
<path d="M11 1.5h1h1M14 5.5h1M15 8.5h1" stroke="#7C852B"/>
</g>
<rect x="681.6" y="1462.2" width="47.5" height="4.4" fill="#4FC3C5"/>
<text transform="translate(712.35,1463.7) rotate(-45) scale(1,1.04)" font-size="17.2" stroke="#000">STAT1g2</text>
<rect x="681.6" y="1472" width="47.5" height="193.1" fill="#6A2A78"/>
<g transform="translate(681.6,1472) scale(1.2838,19.3100)" fill="none" stroke-width="1.004">
<path d="M29 0.5h1M20 1.5h1m13 0h2M29 7.5h1" stroke="#B555BC"/>
<path d="M30 0.5h1M24 1.5h2h1h2h1h1M27 2.5h1m6 0h1h1M22 4.5h1h1M0 6.5h1m21 0h1h2h1" stroke="#A643B0"/>
<path d="M24 0.5h1m6 0h2M22 1.5h2M12 2.5h1m10 0h3m3 0h1h2h2m2 0h1M2 3.5h1M19 4.5h1m4 0h1m3 0h1m5 0h1h2M26 5.5h2m8 0h1M20 6.5h2m11 0h2h1M27 7.5h2m1 0h3h1m1 0h2M30 8.5h2M18 9.5h1m12 0h2" stroke="#9736A6"/>
<path d="M23 0.5h1m11 0h1h1M31 1.5h3m2 0h1M24 3.5h2h2h2m4 0h2h1M21 4.5h1m7 0h1h1h1h2M18 5.5h1m5 0h2m2 0h1m5 0h2M30 6.5h3M23 7.5h3h1m7 0h1M18 8.5h1m1 0h1m2 0h2m2 0h2h1m2 0h1h1h1h1h1M21 9.5h1h2m1 0h1h1m2 0h1m3 0h3h1" stroke="#852C96"/>
<path d="M25 0.5h3h1m4 0h2M3 1.5h1M16 3.5h1m6 0h1M21 5.5h3M36 6.5h1M17 7.5h1M21 8.5h2m2 0h2M30 9.5h1" stroke="#6B247A"/>
<path d="M12 1.5h1M28 2.5h1M0 4.5h1m6 0h1m1 0h1M12 6.5h1M4 8.5h1" stroke="#4C1B58"/>
<path d="M0 0.5h1m1 0h1M18 1.5h1M13 2.5h1m6 0h1m5 0h1M1 3.5h1m8 0h1h1h1m5 0h1m2 0h1m8 0h3M30 5.5h2M27 6.5h2h1M3 7.5h1m1 0h1m2 0h1m5 0h1m7 0h1M3 8.5h1m2 0h1m1 0h1m2 0h1h1M19 9.5h1m7 0h2" stroke="#2C1034"/>
<path d="M1 0.5h1m2 0h1h1m1 0h1h1m1 0h1h1h1M6 1.5h1h1m2 0h1M0 2.5h1m4 0h1h1m1 0h1h1m6 0h1m4 0h1M3 3.5h1m10 0h1h1m17 0h1M1 4.5h1h1h1h1h1h1m1 0h1m1 0h1m9 0h1M2 5.5h1m1 0h1m2 0h1m2 0h1m3 0h1m1 0h1m2 0h1m9 0h1M3 6.5h1m2 0h1m1 0h1m2 0h1m2 0h1M4 7.5h1m1 0h1h1m4 0h1m3 0h1M2 8.5h1m11 0h1M1 9.5h1h1m6 0h1m2 0h1m1 0h1h1h1" stroke="#110914"/>
<path d="M6 0.5h1m2 0h1m3 0h1m1 0h1m1 0h1h1m2 0h1M1 1.5h1h1m2 0h1m8 0h1h1m3 0h1M1 2.5h1h1m8 0h1m5 0h1h1h1M0 3.5h1m6 0h1h1m8 0h1m1 0h1M12 4.5h1h1h1m2 0h1h1m7 0h2M0 5.5h1m2 0h1m1 0h1m2 0h1m3 0h1h1m18 0h2M1 6.5h1h1m10 0h1m1 0h1m2 0h1h1m6 0h1M0 7.5h1h1m9 0h1M0 8.5h1h1m11 0h1m2 0h1h1M0 9.5h1m2 0h1m1 0h1h1m6 0h1m10 0h1" stroke="#1B1C0D"/>
<path d="M3 0.5h1m16 0h1M8 1.5h1h1m3 0h1m3 0h1m3 0h1M4 2.5h1m9 0h1h1m6 0h1M4 3.5h1h1m14 0h1m1 0h1M15 4.5h1M9 5.5h1m1 0h1m3 0h1m1 0h1M4 6.5h1m2 0h1m2 0h1M2 7.5h1m7 0h1m2 0h1m1 0h1m2 0h1h1h1h1M9 8.5h1m9 0h1M17 9.5h1" stroke="#353816"/>
<path d="M14 0.5h1m4 0h1m2 0h1M0 1.5h1m3 0h1m6 0h1m4 0h1M3 2.5h1m3 0h1m2 0h1M6 3.5h1m2 0h1M16 4.5h1m8 0h1M1 5.5h1m18 0h1M9 6.5h1m7 0h1M10 8.5h1M4 9.5h1m3 0h1m1 0h1h1" stroke="#4D531E"/>
<path d="M16 0.5h1M13 3.5h1M5 6.5h1M9 7.5h1M7 9.5h1" stroke="#656D26"/>
<path d="M11 4.5h1M6 5.5h1M16 6.5h1M5 8.5h1m1 0h1M20 9.5h1" stroke="#7C852B"/>
<path d="M15 8.5h1" stroke="#98A230"/>
</g>
<rect x="731.1" y="1462.2" width="112.1" height="4.4" fill="#A973C9"/>
<text transform="translate(794.15,1463.7) rotate(-45) scale(1,1.04)" font-size="17.2" stroke="#000">STAT1g3</text>
<rect x="731.1" y="1472" width="112.1" height="193.1" fill="#6A2A78"/>
<g transform="translate(731.1,1472) scale(1.3035,19.3100)" fill="none" stroke-width="1.004">
<path d="M65 0.5h1M24 2.5h1m7 0h3m31 0h2M33 3.5h1m27 0h1m13 0h2M70 6.5h2M52 7.5h1m4 0h1m9 0h3m6 0h2" stroke="#B555BC"/>
<path d="M28 0.5h1m3 0h3m17 0h1m3 0h1m22 0h1M26 1.5h2m2 0h3h2h1m3 0h1m2 0h1m2 0h2m3 0h2m2 0h2m8 0h1m4 0h1m5 0h1m1 0h1h3h2M53 2.5h3m3 0h1m4 0h2m3 0h2m8 0h1m2 0h3M74 4.5h1M62 5.5h1M30 6.5h1m1 0h1m3 0h2m3 0h2m16 0h2m4 0h1h1M30 7.5h1m4 0h1m4 0h1m8 0h2m7 0h3h3m7 0h1m6 0h1m4 0h2" stroke="#A643B0"/>
<path d="M19 0.5h1m5 0h1m4 0h2m3 0h2m10 0h3m3 0h1m3 0h1m1 0h1m1 0h3m9 0h2h2M37 1.5h2m8 0h1m1 0h1m2 0h2m4 0h1m8 0h1h1m1 0h3h2M23 2.5h1m2 0h2m1 0h1m5 0h3m2 0h1m4 0h1h1m3 0h1m5 0h3m1 0h2h2m4 0h1m2 0h1m1 0h2m10 0h1M34 3.5h3h1m46 0h1h1M26 4.5h2m7 0h1h2m2 0h3m3 0h2m17 0h2h1m11 0h2M3 5.5h1m25 0h3h2m3 0h3h1m3 0h2m3 0h2m7 0h1m11 0h2M26 6.5h1h1m3 0h1m1 0h3m7 0h3h3h1m1 0h2m3 0h3m2 0h1m10 0h1M27 7.5h1h2m7 0h3m8 0h1m2 0h1m1 0h2m17 0h1m6 0h2m4 0h1M38 8.5h1m2 0h2m42 0h1M2 9.5h1" stroke="#9736A6"/>
<path d="M23 0.5h1m2 0h2m9 0h3h1h3m6 0h2m8 0h1m3 0h1m1 0h1m1 0h1m3 0h1m4 0h1h1m5 0h1h1M36 1.5h1m3 0h1h1m6 0h1m7 0h2m1 0h1m3 0h1m12 0h1m8 0h1M31 2.5h1m6 0h2m1 0h3m3 0h2h1m2 0h1m25 0h1M17 3.5h1m22 0h2m2 0h1m1 0h1m9 0h1m9 0h1m2 0h1m1 0h1m5 0h2h1m3 0h1M29 4.5h2m1 0h3m8 0h1h2m5 0h1h2m3 0h3m3 0h2m3 0h2h1m1 0h1h1m1 0h2m6 0h1h1h1M24 5.5h2h1m14 0h3m2 0h1h2m6 0h1h1h1m2 0h2m1 0h1m3 0h1h2m2 0h1h2h2m1 0h1h1h1h1m1 0h2h1M22 6.5h1m27 0h1m11 0h3m2 0h1m7 0h1m6 0h3h1M25 7.5h1m5 0h2h2m10 0h3m22 0h1m10 0h2M24 8.5h3h1h1m4 0h3h1h1m1 0h2m2 0h1h1h1h1h2h1h1h2h2h2m1 0h3h1h2h1h2h3m2 0h2h2h2h1h1h1h2h2M24 9.5h2h1h3h2m2 0h1m2 0h3h1h1h1h1h1h1h1m1 0h2h1m1 0h1h1m1 0h3h2h3h1h1h2h3m2 0h1m2 0h2h1h1h2h1h3" stroke="#852C96"/>
<path d="M8 0.5h1m2 0h1m32 0h3m7 0h2m2 0h1m8 0h1m1 0h1M5 2.5h1m1 0h1m36 0h1m27 0h1m2 0h3M29 3.5h1m18 0h1h1h2h3h1m1 0h2m4 0h2h1m4 0h1m1 0h3m5 0h3M5 4.5h1m32 0h2m14 0h3m3 0h3m18 0h2M34 5.5h3m14 0h3h1m4 0h1m17 0h1M53 6.5h1h2m12 0h2m6 0h3h1M4 7.5h1m31 0h1m4 0h1h3m28 0h1h2M30 8.5h3m24 0h1m12 0h2M32 9.5h2m1 0h1h1m10 0h1m6 0h1m18 0h2m10 0h1" stroke="#6B247A"/>
<path d="M2 0.5h1m67 0h2m8 0h2M11 1.5h1m31 0h2M3 2.5h1m47 0h1M42 3.5h2m15 0h2m6 0h2M24 4.5h1m6 0h1m45 0h2M9 5.5h1m54 0h3M18 6.5h1m19 0h3m39 0h2M12 7.5h1m42 0h2m7 0h3M6 8.5h1h1" stroke="#4C1B58"/>
<path d="M65 1.5h2M15 2.5h1M2 3.5h1h1m9 0h1m4 0h1m19 0h2m7 0h1m14 0h1M3 4.5h1h1m8 0h1m7 0h1M2 5.5h1m1 0h1m22 0h2M2 6.5h1m8 0h1M17 7.5h1m3 0h1M5 8.5h1m12 0h1M7 9.5h1m4 0h1m7 0h1m30 0h1m18 0h2" stroke="#2C1034"/>
<path d="M4 0.5h1m5 0h1m5 0h1m1 0h1m5 0h1m57 0h2M0 1.5h1m2 0h1m3 0h1m7 0h1h1h1h1m4 0h1h1M0 2.5h1h1h1m15 0h1m1 0h1h1m6 0h1m1 0h1m49 0h2M0 3.5h1m5 0h1h1m6 0h1m1 0h1m8 0h3m2 0h2h1m12 0h1M6 4.5h1h1m8 0h1m31 0h3M1 5.5h1m5 0h1m2 0h1h1m4 0h1m5 0h1m59 0h1M3 6.5h1m1 0h1m1 0h1h1m5 0h1h1m57 0h2M5 7.5h1m1 0h1m2 0h1m2 0h1m4 0h1m5 0h1M8 8.5h1m2 0h1h1m10 0h1M17 9.5h1" stroke="#110914"/>
<path d="M0 0.5h1h1m7 0h1m2 0h1m1 0h1h1m4 0h1m1 0h1M2 1.5h1m1 0h1m3 0h1m1 0h1m1 0h1m8 0h1m3 0h1m2 0h1h1m30 0h3M6 2.5h1m4 0h1m1 0h1m2 0h1h1m7 0h1M1 3.5h1m2 0h1h1m2 0h1h1m1 0h1h1m2 0h1m3 0h1m1 0h1h1M0 4.5h1h1m8 0h1h1m3 0h1m1 0h1h1m1 0h1m2 0h1m4 0h1M5 5.5h1m6 0h1m1 0h1h1m5 0h1m1 0h1M4 6.5h1m4 0h1h1m2 0h1m2 0h1m6 0h1m4 0h1h1M0 7.5h1m5 0h1m1 0h1m2 0h1m3 0h1m7 0h1m2 0h1M0 8.5h1m1 0h1m1 0h1m8 0h1h1m2 0h1m2 0h1m1 0h1m6 0h1M0 9.5h1m4 0h1h1m2 0h1h1h1m3 0h1h1m1 0h1m4 0h1" stroke="#1B1C0D"/>
<path d="M3 0.5h1m2 0h1m10 0h1m3 0h1m7 0h1M5 1.5h1h1m7 0h1m4 0h1h1m1 0h1m60 0h2M4 2.5h1m14 0h1m2 0h1M10 3.5h1m12 0h1m4 0h1M9 4.5h1m2 0h1m58 0h1M0 5.5h1m5 0h1m1 0h1m10 0h1h1M0 6.5h1m5 0h1m10 0h1m3 0h1m3 0h1M3 7.5h1m5 0h1m4 0h1m5 0h1M3 8.5h1m5 0h1h1m4 0h1h1M4 9.5h1m8 0h1m8 0h1" stroke="#353816"/>
<path d="M5 0.5h1m7 0h1M1 1.5h1m7 0h1m3 0h1M8 2.5h1h1h1m1 0h1m1 0h1M20 3.5h1m3 0h1M2 4.5h1m5 0h1m13 0h1M18 5.5h1M1 6.5h1m17 0h1m4 0h1M2 7.5h1m19 0h1M19 8.5h1M1 9.5h1m1 0h1m15 0h1m1 0h1" stroke="#4D531E"/>
<path d="M7 0.5h1M14 4.5h1m10 0h1M12 6.5h1M1 7.5h1m17 0h1M1 8.5h1m19 0h1M8 9.5h1m5 0h1" stroke="#656D26"/>
<path d="M19 4.5h1M13 5.5h1m3 0h1M20 6.5h1M16 7.5h1" stroke="#7C852B"/>
</g>
</g>
<defs><linearGradient id="eg" x1="0" y1="0" x2="0" y2="1">
<stop offset="0.0042" stop-color="#E0EE2E"/>
<stop offset="0.1081" stop-color="#C6D236"/>
<stop offset="0.2121" stop-color="#98A230"/>
<stop offset="0.3160" stop-color="#6A7228"/>
<stop offset="0.4200" stop-color="#3A3E18"/>
<stop offset="0.5239" stop-color="#060606"/>
<stop offset="0.6279" stop-color="#2C1034"/>
<stop offset="0.7318" stop-color="#622270"/>
<stop offset="0.8358" stop-color="#8E2EA0"/>
<stop offset="0.9397" stop-color="#AC48B4"/>
<stop offset="1.0000" stop-color="#BA5CC0"/>
</linearGradient></defs>
<text transform="translate(870,1183.6) scale(1,1.04)" font-size="26" stroke="#000">Expression</text>
<rect x="869.1" y="1194.2" width="26.2" height="128.4" fill="url(#eg)"/>
<path d="M869.1 1207.8h5.2M895.3 1207.8h-5.2" stroke="#fff" stroke-opacity="0.75" stroke-width="1.1"/>
<text transform="translate(903.7,1215.5) scale(1,1.04)" font-size="21.4" stroke="#000">2</text>
<path d="M869.1 1234.5h5.2M895.3 1234.5h-5.2" stroke="#fff" stroke-opacity="0.75" stroke-width="1.1"/>
<text transform="translate(903.7,1242.2) scale(1,1.04)" font-size="21.4" stroke="#000">1</text>
<path d="M869.1 1261.2h5.2M895.3 1261.2h-5.2" stroke="#fff" stroke-opacity="0.75" stroke-width="1.1"/>
<text transform="translate(903.7,1268.9) scale(1,1.04)" font-size="21.4" stroke="#000">0</text>
<path d="M869.1 1287.9h5.2M895.3 1287.9h-5.2" stroke="#fff" stroke-opacity="0.75" stroke-width="1.1"/>
<text transform="translate(903.7,1295.6) scale(1,1.04)" font-size="21.4" stroke="#000">-1</text>
<path d="M869.1 1314.6h5.2M895.3 1314.6h-5.2" stroke="#fff" stroke-opacity="0.75" stroke-width="1.1"/>
<text transform="translate(903.7,1322.3) scale(1,1.04)" font-size="21.4" stroke="#000">-2</text>
</g>
<g id="panel-c">
<svg x="1176.1" y="39.8" width="175.8" height="95.9" viewBox="1176.1 39.8 175.8 95.9">
<path d="M1176.1 127.9H1351.9M1176.1 110.7H1351.9M1176.1 93.4H1351.9M1176.1 76.2H1351.9M1176.1 58.9H1351.9M1176.1 41.7H1351.9" stroke="#EBEBEB" stroke-width="1.8" fill="none"/>
<path d="M1176.1 136.6H1351.9M1176.1 119.3H1351.9M1176.1 102H1351.9M1176.1 84.8H1351.9M1176.1 67.5H1351.9M1176.1 50.3H1351.9M1195.5 39.8V135.7M1229.8 39.8V135.7M1264 39.8V135.7M1298.2 39.8V135.7M1332.5 39.8V135.7" stroke="#EBEBEB" stroke-width="3.4" fill="none"/>
<polyline points="1195.5,126.7 1229.8,88.6 1264,77.8 1298.2,77.2 1332.5,71.4" stroke="#000" class="cl"/>
<path d="M1195.5 126.7h0M1229.8 88.6h0M1264 77.8h0M1298.2 77.2h0M1332.5 71.4h0" stroke="#000" class="cp"/>
<polyline points="1195.5,120.1 1229.8,74.5 1264,66.6 1298.2,65.4 1332.5,65.4" stroke="#D3555C" class="cl"/>
<path d="M1195.5 112.4l6.5 11.8h-13zM1229.8 66.8l6.5 11.8h-13zM1264 58.9l6.5 11.8h-13zM1298.2 57.7l6.5 11.8h-13zM1332.5 57.7l6.5 11.8h-13z" fill="#D3555C" stroke="#D3555C" stroke-width="1.6" stroke-linejoin="round"/>
</svg>
<rect x="1176.1" y="39.8" width="175.8" height="95.9" class="bd"/>
<rect x="1176.1" y="7.8" width="175.8" height="30" class="st"/>
<text transform="translate(1264.3,28.7) scale(1,1.04)" font-size="16.7" fill="#111" stroke="#111" text-anchor="middle" class="stt">ALDOA (#DEG=8)</text>
<path d="M1195.5 136.5v5.6M1229.8 136.5v5.6M1264 136.5v5.6M1298.2 136.5v5.6M1332.5 136.5v5.6" class="tk"/>
<text transform="translate(1202,153.2) rotate(-45) scale(1,1.04)" font-size="13.0" fill="#404040" stroke="#404040" text-anchor="end" class="g">ALDOA_13</text>
<text transform="translate(1236.25,153.2) rotate(-45) scale(1,1.04)" font-size="13.0" fill="#404040" stroke="#404040" text-anchor="end" class="g">ALDOA_14</text>
<text transform="translate(1270.5,153.2) rotate(-45) scale(1,1.04)" font-size="13.0" fill="#404040" stroke="#404040" text-anchor="end" class="g">ALDOA_06</text>
<text transform="translate(1304.75,153.2) rotate(-45) scale(1,1.04)" font-size="13.0" fill="#404040" stroke="#404040" text-anchor="end" class="g">ALDOA_07</text>
<text transform="translate(1339,153.2) rotate(-45) scale(1,1.04)" font-size="13.0" fill="#404040" stroke="#404040" text-anchor="end" class="g">ALDOA_00</text>
<path d="M1175.3 50.3h-5.6M1175.3 67.5h-5.6M1175.3 84.8h-5.6M1175.3 102h-5.6M1175.3 119.3h-5.6M1175.3 136.6h-5.6" class="tk"/>
<text transform="translate(1165.8,54.9) scale(1,1.04)" font-size="13.4" fill="#404040" stroke="#404040" text-anchor="end" class="g">2.0</text>
<text transform="translate(1165.8,72.15) scale(1,1.04)" font-size="13.4" fill="#404040" stroke="#404040" text-anchor="end" class="g">1.5</text>
<text transform="translate(1165.8,89.4) scale(1,1.04)" font-size="13.4" fill="#404040" stroke="#404040" text-anchor="end" class="g">1.0</text>
<text transform="translate(1165.8,106.65) scale(1,1.04)" font-size="13.4" fill="#404040" stroke="#404040" text-anchor="end" class="g">0.5</text>
<text transform="translate(1165.8,123.9) scale(1,1.04)" font-size="13.4" fill="#404040" stroke="#404040" text-anchor="end" class="g">0.0</text>
<text transform="translate(1165.8,141.15) scale(1,1.04)" font-size="13.4" fill="#404040" stroke="#404040" text-anchor="end" class="g">−0.5</text>
<svg x="1364.4" y="39.8" width="175.8" height="95.9" viewBox="1364.4 39.8 175.8 95.9">
<path d="M1364.4 127.9H1540.2M1364.4 110.7H1540.2M1364.4 93.4H1540.2M1364.4 76.2H1540.2M1364.4 58.9H1540.2M1364.4 41.7H1540.2" stroke="#EBEBEB" stroke-width="1.8" fill="none"/>
<path d="M1364.4 136.6H1540.2M1364.4 119.3H1540.2M1364.4 102H1540.2M1364.4 84.8H1540.2M1364.4 67.5H1540.2M1364.4 50.3H1540.2M1383.8 39.8V135.7M1418 39.8V135.7M1452.3 39.8V135.7M1486.5 39.8V135.7M1520.8 39.8V135.7" stroke="#EBEBEB" stroke-width="3.4" fill="none"/>
<polyline points="1383.8,97.6 1418,91.3 1452.3,89.2 1486.5,86.2 1520.8,79.6" stroke="#000" class="cl"/>
<path d="M1383.8 97.6h0M1418 91.3h0M1452.3 89.2h0M1486.5 86.2h0M1520.8 79.6h0" stroke="#000" class="cp"/>
<polyline points="1383.8,63 1418,72 1452.3,62.4 1486.5,68.4 1520.8,62.1" stroke="#D3555C" class="cl"/>
<path d="M1383.8 55.3l6.5 11.8h-13zM1418 64.3l6.5 11.8h-13zM1452.3 54.7l6.5 11.8h-13zM1486.5 60.7l6.5 11.8h-13zM1520.8 54.4l6.5 11.8h-13z" fill="#D3555C" stroke="#D3555C" stroke-width="1.6" stroke-linejoin="round"/>
</svg>
<rect x="1364.4" y="39.8" width="175.8" height="95.9" class="bd"/>
<rect x="1364.4" y="7.8" width="175.8" height="30" class="st"/>
<text transform="translate(1452.6,28.7) scale(1,1.04)" font-size="16.7" fill="#111" stroke="#111" text-anchor="middle" class="stt">COX11 (#DEG=11)</text>
<path d="M1383.8 136.5v5.6M1418 136.5v5.6M1452.3 136.5v5.6M1486.5 136.5v5.6M1520.8 136.5v5.6" class="tk"/>
<text transform="translate(1390.3,153.2) rotate(-45) scale(1,1.04)" font-size="13.0" fill="#404040" stroke="#404040" text-anchor="end" class="g">COX11_03</text>
<text transform="translate(1424.55,153.2) rotate(-45) scale(1,1.04)" font-size="13.0" fill="#404040" stroke="#404040" text-anchor="end" class="g">COX11_05</text>
<text transform="translate(1458.8,153.2) rotate(-45) scale(1,1.04)" font-size="13.0" fill="#404040" stroke="#404040" text-anchor="end" class="g">COX11_00</text>
<text transform="translate(1493.05,153.2) rotate(-45) scale(1,1.04)" font-size="13.0" fill="#404040" stroke="#404040" text-anchor="end" class="g">COX11_04</text>
<text transform="translate(1527.3,153.2) rotate(-45) scale(1,1.04)" font-size="13.0" fill="#404040" stroke="#404040" text-anchor="end" class="g">COX11_10</text>
<svg x="1552.7" y="39.8" width="175.8" height="95.9" viewBox="1552.7 39.8 175.8 95.9">
<path d="M1552.7 127.9H1728.5M1552.7 110.7H1728.5M1552.7 93.4H1728.5M1552.7 76.2H1728.5M1552.7 58.9H1728.5M1552.7 41.7H1728.5" stroke="#EBEBEB" stroke-width="1.8" fill="none"/>
<path d="M1552.7 136.6H1728.5M1552.7 119.3H1728.5M1552.7 102H1728.5M1552.7 84.8H1728.5M1552.7 67.5H1728.5M1552.7 50.3H1728.5M1572.1 39.8V135.7M1606.3 39.8V135.7M1640.6 39.8V135.7M1674.8 39.8V135.7M1709.1 39.8V135.7" stroke="#EBEBEB" stroke-width="3.4" fill="none"/>
<polyline points="1572.1,112.9 1606.3,99.1 1640.6,91.9 1674.8,91.3 1709.1,85.3" stroke="#000" class="cl"/>
<path d="M1572.1 112.9h0M1606.3 99.1h0M1640.6 91.9h0M1674.8 91.3h0M1709.1 85.3h0" stroke="#000" class="cp"/>
<polyline points="1572.1,108.7 1606.3,100.6 1640.6,97.9 1674.8,96.7 1709.1,94.9" stroke="#D3555C" class="cl"/>
<path d="M1572.1 101l6.5 11.8h-13zM1606.3 92.9l6.5 11.8h-13zM1640.6 90.2l6.5 11.8h-13zM1674.8 89l6.5 11.8h-13zM1709.1 87.2l6.5 11.8h-13z" fill="#D3555C" stroke="#D3555C" stroke-width="1.6" stroke-linejoin="round"/>
</svg>
<rect x="1552.7" y="39.8" width="175.8" height="95.9" class="bd"/>
<rect x="1552.7" y="7.8" width="175.8" height="30" class="st"/>
<text transform="translate(1640.9,28.7) scale(1,1.04)" font-size="16.7" fill="#111" stroke="#111" text-anchor="middle" class="stt">RAN (#DEG=14)</text>
<path d="M1572.1 136.5v5.6M1606.3 136.5v5.6M1640.6 136.5v5.6M1674.8 136.5v5.6M1709.1 136.5v5.6" class="tk"/>
<text transform="translate(1578.6,153.2) rotate(-45) scale(1,1.04)" font-size="13.0" fill="#404040" stroke="#404040" text-anchor="end" class="g">RAN_12</text>
<text transform="translate(1612.85,153.2) rotate(-45) scale(1,1.04)" font-size="13.0" fill="#404040" stroke="#404040" text-anchor="end" class="g">RAN_04</text>
<text transform="translate(1647.1,153.2) rotate(-45) scale(1,1.04)" font-size="13.0" fill="#404040" stroke="#404040" text-anchor="end" class="g">RAN_00</text>
<text transform="translate(1681.35,153.2) rotate(-45) scale(1,1.04)" font-size="13.0" fill="#404040" stroke="#404040" text-anchor="end" class="g">RAN_03</text>
<text transform="translate(1715.6,153.2) rotate(-45) scale(1,1.04)" font-size="13.0" fill="#404040" stroke="#404040" text-anchor="end" class="g">RAN_02</text>
<svg x="1741" y="39.8" width="175.8" height="95.9" viewBox="1741 39.8 175.8 95.9">
<path d="M1741 127.9H1916.8M1741 110.7H1916.8M1741 93.4H1916.8M1741 76.2H1916.8M1741 58.9H1916.8M1741 41.7H1916.8" stroke="#EBEBEB" stroke-width="1.8" fill="none"/>
<path d="M1741 136.6H1916.8M1741 119.3H1916.8M1741 102H1916.8M1741 84.8H1916.8M1741 67.5H1916.8M1741 50.3H1916.8M1760.4 39.8V135.7M1794.7 39.8V135.7M1828.9 39.8V135.7M1863.2 39.8V135.7M1897.4 39.8V135.7" stroke="#EBEBEB" stroke-width="3.4" fill="none"/>
<polyline points="1760.4,119.8 1794.7,87.4 1828.9,82.9 1863.2,80.2 1897.4,80.2" stroke="#000" class="cl"/>
<path d="M1760.4 119.8h0M1794.7 87.4h0M1828.9 82.9h0M1863.2 80.2h0M1897.4 80.2h0" stroke="#000" class="cp"/>
<polyline points="1760.4,70.2 1794.7,66.6 1828.9,65.1 1863.2,64.5 1897.4,63" stroke="#D3555C" class="cl"/>
<path d="M1760.4 62.5l6.5 11.8h-13zM1794.7 58.9l6.5 11.8h-13zM1828.9 57.4l6.5 11.8h-13zM1863.2 56.8l6.5 11.8h-13zM1897.4 55.3l6.5 11.8h-13z" fill="#D3555C" stroke="#D3555C" stroke-width="1.6" stroke-linejoin="round"/>
</svg>
<rect x="1741" y="39.8" width="175.8" height="95.9" class="bd"/>
<rect x="1741" y="7.8" width="175.8" height="30" class="st"/>
<text transform="translate(1829.2,28.7) scale(1,1.04)" font-size="16.7" fill="#111" stroke="#111" text-anchor="middle" class="stt">CDC23 (#DEG=21)</text>
<path d="M1760.4 136.5v5.6M1794.7 136.5v5.6M1828.9 136.5v5.6M1863.2 136.5v5.6M1897.4 136.5v5.6" class="tk"/>
<text transform="translate(1766.9,153.2) rotate(-45) scale(1,1.04)" font-size="13.0" fill="#404040" stroke="#404040" text-anchor="end" class="g">CDC23_11</text>
<text transform="translate(1801.15,153.2) rotate(-45) scale(1,1.04)" font-size="13.0" fill="#404040" stroke="#404040" text-anchor="end" class="g">CDC23_04</text>
<text transform="translate(1835.4,153.2) rotate(-45) scale(1,1.04)" font-size="13.0" fill="#404040" stroke="#404040" text-anchor="end" class="g">CDC23_08</text>
<text transform="translate(1869.65,153.2) rotate(-45) scale(1,1.04)" font-size="13.0" fill="#404040" stroke="#404040" text-anchor="end" class="g">CDC23_00</text>
<text transform="translate(1903.9,153.2) rotate(-45) scale(1,1.04)" font-size="13.0" fill="#404040" stroke="#404040" text-anchor="end" class="g">CDC23_02</text>
<svg x="1929.3" y="39.8" width="175.8" height="95.9" viewBox="1929.3 39.8 175.8 95.9">
<path d="M1929.3 127.9H2105.1M1929.3 110.7H2105.1M1929.3 93.4H2105.1M1929.3 76.2H2105.1M1929.3 58.9H2105.1M1929.3 41.7H2105.1" stroke="#EBEBEB" stroke-width="1.8" fill="none"/>
<path d="M1929.3 136.6H2105.1M1929.3 119.3H2105.1M1929.3 102H2105.1M1929.3 84.8H2105.1M1929.3 67.5H2105.1M1929.3 50.3H2105.1M1948.7 39.8V135.7M1983 39.8V135.7M2017.2 39.8V135.7M2051.4 39.8V135.7M2085.7 39.8V135.7" stroke="#EBEBEB" stroke-width="3.4" fill="none"/>
<polyline points="1948.7,106 1983,99.4 2017.2,94.3 2051.4,91.9 2085.7,91" stroke="#000" class="cl"/>
<path d="M1948.7 106h0M1983 99.4h0M2017.2 94.3h0M2051.4 91.9h0M2085.7 91h0" stroke="#000" class="cp"/>
<polyline points="1948.7,74.5 1983,69.6 2017.2,66.6 2051.4,61.8 2085.7,63.9" stroke="#D3555C" class="cl"/>
<path d="M1948.7 66.8l6.5 11.8h-13zM1983 61.9l6.5 11.8h-13zM2017.2 58.9l6.5 11.8h-13zM2051.4 54.1l6.5 11.8h-13zM2085.7 56.2l6.5 11.8h-13z" fill="#D3555C" stroke="#D3555C" stroke-width="1.6" stroke-linejoin="round"/>
</svg>
<rect x="1929.3" y="39.8" width="175.8" height="95.9" class="bd"/>
<rect x="1929.3" y="7.8" width="175.8" height="30" class="st"/>
<text transform="translate(2017.5,28.7) scale(1,1.04)" font-size="16.7" fill="#111" stroke="#111" text-anchor="middle" class="stt">ATP5E (#DEG=34)</text>
<path d="M1948.7 136.5v5.6M1983 136.5v5.6M2017.2 136.5v5.6M2051.4 136.5v5.6M2085.7 136.5v5.6" class="tk"/>
<text transform="translate(1955.2,153.2) rotate(-45) scale(1,1.04)" font-size="13.0" fill="#404040" stroke="#404040" text-anchor="end" class="g">ATP5E_14</text>
<text transform="translate(1989.45,153.2) rotate(-45) scale(1,1.04)" font-size="13.0" fill="#404040" stroke="#404040" text-anchor="end" class="g">ATP5E_04</text>
<text transform="translate(2023.7,153.2) rotate(-45) scale(1,1.04)" font-size="13.0" fill="#404040" stroke="#404040" text-anchor="end" class="g">ATP5E_16</text>
<text transform="translate(2057.95,153.2) rotate(-45) scale(1,1.04)" font-size="13.0" fill="#404040" stroke="#404040" text-anchor="end" class="g">ATP5E_00</text>
<text transform="translate(2092.2,153.2) rotate(-45) scale(1,1.04)" font-size="13.0" fill="#404040" stroke="#404040" text-anchor="end" class="g">ATP5E_01</text>
<path d="M2105.9 50.3h5.6M2105.9 84.8h5.6M2105.9 119.3h5.6" class="tk"/>
<text transform="translate(2115.3,54.9) scale(1,1.04)" font-size="13.4" fill="#C4545C" stroke="#C4545C">1</text>
<text transform="translate(2115.3,89.4) scale(1,1.04)" font-size="13.4" fill="#C4545C" stroke="#C4545C">1/2</text>
<text transform="translate(2115.3,123.9) scale(1,1.04)" font-size="13.4" fill="#C4545C" stroke="#C4545C">0</text>
<svg x="1176.1" y="243.8" width="175.8" height="95.9" viewBox="1176.1 243.8 175.8 95.9">
<path d="M1176.1 331.9H1351.9M1176.1 314.7H1351.9M1176.1 297.4H1351.9M1176.1 280.2H1351.9M1176.1 262.9H1351.9M1176.1 245.7H1351.9" stroke="#EBEBEB" stroke-width="1.8" fill="none"/>
<path d="M1176.1 340.6H1351.9M1176.1 323.3H1351.9M1176.1 306.1H1351.9M1176.1 288.8H1351.9M1176.1 271.6H1351.9M1176.1 254.3H1351.9M1195.5 243.8V339.7M1229.8 243.8V339.7M1264 243.8V339.7M1298.2 243.8V339.7M1332.5 243.8V339.7" stroke="#EBEBEB" stroke-width="3.4" fill="none"/>
<polyline points="1195.5,307.6 1229.8,298.3 1264,294.1 1298.2,293.5 1332.5,291.7" stroke="#000" class="cl"/>
<path d="M1195.5 307.6h0M1229.8 298.3h0M1264 294.1h0M1298.2 293.5h0M1332.5 291.7h0" stroke="#000" class="cp"/>
<polyline points="1195.5,291.1 1229.8,274.8 1264,271.8 1298.2,275.1 1332.5,271.5" stroke="#D3555C" class="cl"/>
<path d="M1195.5 283.4l6.5 11.8h-13zM1229.8 267.1l6.5 11.8h-13zM1264 264.1l6.5 11.8h-13zM1298.2 267.4l6.5 11.8h-13zM1332.5 263.8l6.5 11.8h-13z" fill="#D3555C" stroke="#D3555C" stroke-width="1.6" stroke-linejoin="round"/>
</svg>
<rect x="1176.1" y="243.8" width="175.8" height="95.9" class="bd"/>
<rect x="1176.1" y="211.8" width="175.8" height="30" class="st"/>
<text transform="translate(1264.3,232.7) scale(1,1.04)" font-size="16.7" fill="#111" stroke="#111" text-anchor="middle" class="stt">TUBB (#DEG=48)</text>
<path d="M1195.5 340.5v5.6M1229.8 340.5v5.6M1264 340.5v5.6M1298.2 340.5v5.6M1332.5 340.5v5.6" class="tk"/>
<text transform="translate(1202,357.2) rotate(-45) scale(1,1.04)" font-size="13.0" fill="#404040" stroke="#404040" text-anchor="end" class="g">TUBB_10</text>
<text transform="translate(1236.25,357.2) rotate(-45) scale(1,1.04)" font-size="13.0" fill="#404040" stroke="#404040" text-anchor="end" class="g">TUBB_03</text>
<text transform="translate(1270.5,357.2) rotate(-45) scale(1,1.04)" font-size="13.0" fill="#404040" stroke="#404040" text-anchor="end" class="g">TUBB_00</text>
<text transform="translate(1304.75,357.2) rotate(-45) scale(1,1.04)" font-size="13.0" fill="#404040" stroke="#404040" text-anchor="end" class="g">TUBB_01</text>
<text transform="translate(1339,357.2) rotate(-45) scale(1,1.04)" font-size="13.0" fill="#404040" stroke="#404040" text-anchor="end" class="g">TUBB_06</text>
<path d="M1175.3 254.3h-5.6M1175.3 271.6h-5.6M1175.3 288.8h-5.6M1175.3 306.1h-5.6M1175.3 323.3h-5.6M1175.3 340.6h-5.6" class="tk"/>
<text transform="translate(1165.8,258.9) scale(1,1.04)" font-size="13.4" fill="#404040" stroke="#404040" text-anchor="end" class="g">2.0</text>
<text transform="translate(1165.8,276.15) scale(1,1.04)" font-size="13.4" fill="#404040" stroke="#404040" text-anchor="end" class="g">1.5</text>
<text transform="translate(1165.8,293.4) scale(1,1.04)" font-size="13.4" fill="#404040" stroke="#404040" text-anchor="end" class="g">1.0</text>
<text transform="translate(1165.8,310.65) scale(1,1.04)" font-size="13.4" fill="#404040" stroke="#404040" text-anchor="end" class="g">0.5</text>
<text transform="translate(1165.8,327.9) scale(1,1.04)" font-size="13.4" fill="#404040" stroke="#404040" text-anchor="end" class="g">0.0</text>
<text transform="translate(1165.8,345.15) scale(1,1.04)" font-size="13.4" fill="#404040" stroke="#404040" text-anchor="end" class="g">−0.5</text>
<svg x="1364.4" y="243.8" width="175.8" height="95.9" viewBox="1364.4 243.8 175.8 95.9">
<path d="M1364.4 331.9H1540.2M1364.4 314.7H1540.2M1364.4 297.4H1540.2M1364.4 280.2H1540.2M1364.4 262.9H1540.2M1364.4 245.7H1540.2" stroke="#EBEBEB" stroke-width="1.8" fill="none"/>
<path d="M1364.4 340.6H1540.2M1364.4 323.3H1540.2M1364.4 306.1H1540.2M1364.4 288.8H1540.2M1364.4 271.6H1540.2M1364.4 254.3H1540.2M1383.8 243.8V339.7M1418 243.8V339.7M1452.3 243.8V339.7M1486.5 243.8V339.7M1520.8 243.8V339.7" stroke="#EBEBEB" stroke-width="3.4" fill="none"/>
<polyline points="1383.8,319.9 1418,311.2 1452.3,301 1486.5,299.2 1520.8,288.4" stroke="#000" class="cl"/>
<path d="M1383.8 319.9h0M1418 311.2h0M1452.3 301h0M1486.5 299.2h0M1520.8 288.4h0" stroke="#000" class="cp"/>
<polyline points="1383.8,282.1 1418,271.8 1452.3,271.2 1486.5,270.6 1520.8,268.2" stroke="#D3555C" class="cl"/>
<path d="M1383.8 274.4l6.5 11.8h-13zM1418 264.1l6.5 11.8h-13zM1452.3 263.5l6.5 11.8h-13zM1486.5 262.9l6.5 11.8h-13zM1520.8 260.5l6.5 11.8h-13z" fill="#D3555C" stroke="#D3555C" stroke-width="1.6" stroke-linejoin="round"/>
</svg>
<rect x="1364.4" y="243.8" width="175.8" height="95.9" class="bd"/>
<rect x="1364.4" y="211.8" width="175.8" height="30" class="st"/>
<text transform="translate(1452.6,232.7) scale(1,1.04)" font-size="16.7" fill="#111" stroke="#111" text-anchor="middle" class="stt">HSPE1 (#DEG=139)</text>
<path d="M1383.8 340.5v5.6M1418 340.5v5.6M1452.3 340.5v5.6M1486.5 340.5v5.6M1520.8 340.5v5.6" class="tk"/>
<text transform="translate(1390.3,357.2) rotate(-45) scale(1,1.04)" font-size="13.0" fill="#404040" stroke="#404040" text-anchor="end" class="g">HSPE1_14</text>
<text transform="translate(1424.55,357.2) rotate(-45) scale(1,1.04)" font-size="13.0" fill="#404040" stroke="#404040" text-anchor="end" class="g">HSPE1_02</text>
<text transform="translate(1458.8,357.2) rotate(-45) scale(1,1.04)" font-size="13.0" fill="#404040" stroke="#404040" text-anchor="end" class="g">HSPE1_03</text>
<text transform="translate(1493.05,357.2) rotate(-45) scale(1,1.04)" font-size="13.0" fill="#404040" stroke="#404040" text-anchor="end" class="g">HSPE1_01</text>
<text transform="translate(1527.3,357.2) rotate(-45) scale(1,1.04)" font-size="13.0" fill="#404040" stroke="#404040" text-anchor="end" class="g">HSPE1_00</text>
<svg x="1552.7" y="243.8" width="175.8" height="95.9" viewBox="1552.7 243.8 175.8 95.9">
<path d="M1552.7 331.9H1728.5M1552.7 314.7H1728.5M1552.7 297.4H1728.5M1552.7 280.2H1728.5M1552.7 262.9H1728.5M1552.7 245.7H1728.5" stroke="#EBEBEB" stroke-width="1.8" fill="none"/>
<path d="M1552.7 340.6H1728.5M1552.7 323.3H1728.5M1552.7 306.1H1728.5M1552.7 288.8H1728.5M1552.7 271.6H1728.5M1552.7 254.3H1728.5M1572.1 243.8V339.7M1606.3 243.8V339.7M1640.6 243.8V339.7M1674.8 243.8V339.7M1709.1 243.8V339.7" stroke="#EBEBEB" stroke-width="3.4" fill="none"/>
<polyline points="1572.1,324.1 1606.3,311.5 1640.6,295.6 1674.8,294.7 1709.1,292" stroke="#000" class="cl"/>
<path d="M1572.1 324.1h0M1606.3 311.5h0M1640.6 295.6h0M1674.8 294.7h0M1709.1 292h0" stroke="#000" class="cp"/>
<polyline points="1572.1,298.3 1606.3,270.6 1640.6,261 1674.8,270.6 1709.1,267" stroke="#D3555C" class="cl"/>
<path d="M1572.1 290.6l6.5 11.8h-13zM1606.3 262.9l6.5 11.8h-13zM1640.6 253.3l6.5 11.8h-13zM1674.8 262.9l6.5 11.8h-13zM1709.1 259.3l6.5 11.8h-13z" fill="#D3555C" stroke="#D3555C" stroke-width="1.6" stroke-linejoin="round"/>
</svg>
<rect x="1552.7" y="243.8" width="175.8" height="95.9" class="bd"/>
<rect x="1552.7" y="211.8" width="175.8" height="30" class="st"/>
<text transform="translate(1640.9,232.7) scale(1,1.04)" font-size="16.7" fill="#111" stroke="#111" text-anchor="middle" class="stt">DBR1 (#DEG=139)</text>
<path d="M1572.1 340.5v5.6M1606.3 340.5v5.6M1640.6 340.5v5.6M1674.8 340.5v5.6M1709.1 340.5v5.6" class="tk"/>
<text transform="translate(1578.6,357.2) rotate(-45) scale(1,1.04)" font-size="13.0" fill="#404040" stroke="#404040" text-anchor="end" class="g">DBR1_08</text>
<text transform="translate(1612.85,357.2) rotate(-45) scale(1,1.04)" font-size="13.0" fill="#404040" stroke="#404040" text-anchor="end" class="g">DBR1_05</text>
<text transform="translate(1647.1,357.2) rotate(-45) scale(1,1.04)" font-size="13.0" fill="#404040" stroke="#404040" text-anchor="end" class="g">DBR1_01</text>
<text transform="translate(1681.35,357.2) rotate(-45) scale(1,1.04)" font-size="13.0" fill="#404040" stroke="#404040" text-anchor="end" class="g">DBR1_00</text>
<text transform="translate(1715.6,357.2) rotate(-45) scale(1,1.04)" font-size="13.0" fill="#404040" stroke="#404040" text-anchor="end" class="g">DBR1_07</text>
<svg x="1741" y="243.8" width="175.8" height="95.9" viewBox="1741 243.8 175.8 95.9">
<path d="M1741 331.9H1916.8M1741 314.7H1916.8M1741 297.4H1916.8M1741 280.2H1916.8M1741 262.9H1916.8M1741 245.7H1916.8" stroke="#EBEBEB" stroke-width="1.8" fill="none"/>
<path d="M1741 340.6H1916.8M1741 323.3H1916.8M1741 306.1H1916.8M1741 288.8H1916.8M1741 271.6H1916.8M1741 254.3H1916.8M1760.4 243.8V339.7M1794.7 243.8V339.7M1828.9 243.8V339.7M1863.2 243.8V339.7M1897.4 243.8V339.7" stroke="#EBEBEB" stroke-width="3.4" fill="none"/>
<polyline points="1760.4,330.1 1794.7,329.5 1828.9,271.5 1863.2,267.6 1897.4,248.1" stroke="#000" class="cl"/>
<path d="M1760.4 330.1h0M1794.7 329.5h0M1828.9 271.5h0M1863.2 267.6h0M1897.4 248.1h0" stroke="#000" class="cp"/>
<polyline points="1760.4,315.1 1794.7,319.6 1828.9,277.6 1863.2,276.7 1897.4,273.9" stroke="#D3555C" class="cl"/>
<path d="M1760.4 307.4l6.5 11.8h-13zM1794.7 311.9l6.5 11.8h-13zM1828.9 269.9l6.5 11.8h-13zM1863.2 269l6.5 11.8h-13zM1897.4 266.2l6.5 11.8h-13z" fill="#D3555C" stroke="#D3555C" stroke-width="1.6" stroke-linejoin="round"/>
</svg>
<rect x="1741" y="243.8" width="175.8" height="95.9" class="bd"/>
<rect x="1741" y="211.8" width="175.8" height="30" class="st"/>
<text transform="translate(1829.2,232.7) scale(1,1.04)" font-size="16.7" fill="#111" stroke="#111" text-anchor="middle" class="stt">RPS15 (#DEG=149)</text>
<path d="M1760.4 340.5v5.6M1794.7 340.5v5.6M1828.9 340.5v5.6M1863.2 340.5v5.6M1897.4 340.5v5.6" class="tk"/>
<text transform="translate(1766.9,357.2) rotate(-45) scale(1,1.04)" font-size="13.0" fill="#404040" stroke="#404040" text-anchor="end" class="g">RPS15_01</text>
<text transform="translate(1801.15,357.2) rotate(-45) scale(1,1.04)" font-size="13.0" fill="#404040" stroke="#404040" text-anchor="end" class="g">RPS15_12</text>
<text transform="translate(1835.4,357.2) rotate(-45) scale(1,1.04)" font-size="13.0" fill="#404040" stroke="#404040" text-anchor="end" class="g">RPS15_02</text>
<text transform="translate(1869.65,357.2) rotate(-45) scale(1,1.04)" font-size="13.0" fill="#404040" stroke="#404040" text-anchor="end" class="g">RPS15_07</text>
<text transform="translate(1903.9,357.2) rotate(-45) scale(1,1.04)" font-size="13.0" fill="#404040" stroke="#404040" text-anchor="end" class="g">RPS15_00</text>
<svg x="1929.3" y="243.8" width="175.8" height="95.9" viewBox="1929.3 243.8 175.8 95.9">
<path d="M1929.3 331.9H2105.1M1929.3 314.7H2105.1M1929.3 297.4H2105.1M1929.3 280.2H2105.1M1929.3 262.9H2105.1M1929.3 245.7H2105.1" stroke="#EBEBEB" stroke-width="1.8" fill="none"/>
<path d="M1929.3 340.6H2105.1M1929.3 323.3H2105.1M1929.3 306.1H2105.1M1929.3 288.8H2105.1M1929.3 271.6H2105.1M1929.3 254.3H2105.1M1948.7 243.8V339.7M1983 243.8V339.7M2017.2 243.8V339.7M2051.4 243.8V339.7M2085.7 243.8V339.7" stroke="#EBEBEB" stroke-width="3.4" fill="none"/>
<polyline points="1948.7,319.9 1983,304.9 2017.2,302.2 2051.4,302.2 2085.7,300.1" stroke="#000" class="cl"/>
<path d="M1948.7 319.9h0M1983 304.9h0M2017.2 302.2h0M2051.4 302.2h0M2085.7 300.1h0" stroke="#000" class="cp"/>
<polyline points="1948.7,270.6 1983,267.6 2017.2,267.9 2051.4,266.7 2085.7,266.7" stroke="#D3555C" class="cl"/>
<path d="M1948.7 262.9l6.5 11.8h-13zM1983 259.9l6.5 11.8h-13zM2017.2 260.2l6.5 11.8h-13zM2051.4 259l6.5 11.8h-13zM2085.7 259l6.5 11.8h-13z" fill="#D3555C" stroke="#D3555C" stroke-width="1.6" stroke-linejoin="round"/>
</svg>
<rect x="1929.3" y="243.8" width="175.8" height="95.9" class="bd"/>
<rect x="1929.3" y="211.8" width="175.8" height="30" class="st"/>
<text transform="translate(2017.5,232.7) scale(1,1.04)" font-size="16.7" fill="#111" stroke="#111" text-anchor="middle" class="stt">DUT (#DEG=333)</text>
<path d="M1948.7 340.5v5.6M1983 340.5v5.6M2017.2 340.5v5.6M2051.4 340.5v5.6M2085.7 340.5v5.6" class="tk"/>
<text transform="translate(1955.2,357.2) rotate(-45) scale(1,1.04)" font-size="13.0" fill="#404040" stroke="#404040" text-anchor="end" class="g">DUT_10</text>
<text transform="translate(1989.45,357.2) rotate(-45) scale(1,1.04)" font-size="13.0" fill="#404040" stroke="#404040" text-anchor="end" class="g">DUT_07</text>
<text transform="translate(2023.7,357.2) rotate(-45) scale(1,1.04)" font-size="13.0" fill="#404040" stroke="#404040" text-anchor="end" class="g">DUT_00</text>
<text transform="translate(2057.95,357.2) rotate(-45) scale(1,1.04)" font-size="13.0" fill="#404040" stroke="#404040" text-anchor="end" class="g">DUT_01</text>
<text transform="translate(2092.2,357.2) rotate(-45) scale(1,1.04)" font-size="13.0" fill="#404040" stroke="#404040" text-anchor="end" class="g">DUT_08</text>
<path d="M2105.9 254.3h5.6M2105.9 288.8h5.6M2105.9 323.3h5.6" class="tk"/>
<text transform="translate(2115.3,258.9) scale(1,1.04)" font-size="13.4" fill="#C4545C" stroke="#C4545C">1</text>
<text transform="translate(2115.3,293.4) scale(1,1.04)" font-size="13.4" fill="#C4545C" stroke="#C4545C">1/2</text>
<text transform="translate(2115.3,327.9) scale(1,1.04)" font-size="13.4" fill="#C4545C" stroke="#C4545C">0</text>
<svg x="1176.1" y="447" width="175.8" height="95.9" viewBox="1176.1 447 175.8 95.9">
<path d="M1176.1 535.1H1351.9M1176.1 517.9H1351.9M1176.1 500.6H1351.9M1176.1 483.4H1351.9M1176.1 466.1H1351.9M1176.1 448.9H1351.9" stroke="#EBEBEB" stroke-width="1.8" fill="none"/>
<path d="M1176.1 543.8H1351.9M1176.1 526.5H1351.9M1176.1 509.2H1351.9M1176.1 492H1351.9M1176.1 474.8H1351.9M1176.1 457.5H1351.9M1195.5 447V542.9M1229.8 447V542.9M1264 447V542.9M1298.2 447V542.9M1332.5 447V542.9" stroke="#EBEBEB" stroke-width="3.4" fill="none"/>
<polyline points="1195.5,531.1 1229.8,511.9 1264,504.7 1298.2,501.4 1332.5,494.2" stroke="#000" class="cl"/>
<path d="M1195.5 531.1h0M1229.8 511.9h0M1264 504.7h0M1298.2 501.4h0M1332.5 494.2h0" stroke="#000" class="cp"/>
<polyline points="1195.5,540.1 1229.8,465 1264,473.4 1298.2,474 1332.5,474.3" stroke="#D3555C" class="cl"/>
<path d="M1195.5 532.4l6.5 11.8h-13zM1229.8 457.3l6.5 11.8h-13zM1264 465.7l6.5 11.8h-13zM1298.2 466.3l6.5 11.8h-13zM1332.5 466.6l6.5 11.8h-13z" fill="#D3555C" stroke="#D3555C" stroke-width="1.6" stroke-linejoin="round"/>
</svg>
<rect x="1176.1" y="447" width="175.8" height="95.9" class="bd"/>
<rect x="1176.1" y="415" width="175.8" height="30" class="st"/>
<text transform="translate(1264.3,435.9) scale(1,1.04)" font-size="16.7" fill="#111" stroke="#111" text-anchor="middle" class="stt">MTOR (#DEG=553)</text>
<path d="M1195.5 543.7v5.6M1229.8 543.7v5.6M1264 543.7v5.6M1298.2 543.7v5.6M1332.5 543.7v5.6" class="tk"/>
<text transform="translate(1202,560.4) rotate(-45) scale(1,1.04)" font-size="13.0" fill="#404040" stroke="#404040" text-anchor="end" class="g">MTOR_10</text>
<text transform="translate(1236.25,560.4) rotate(-45) scale(1,1.04)" font-size="13.0" fill="#404040" stroke="#404040" text-anchor="end" class="g">MTOR_06</text>
<text transform="translate(1270.5,560.4) rotate(-45) scale(1,1.04)" font-size="13.0" fill="#404040" stroke="#404040" text-anchor="end" class="g">MTOR_05</text>
<text transform="translate(1304.75,560.4) rotate(-45) scale(1,1.04)" font-size="13.0" fill="#404040" stroke="#404040" text-anchor="end" class="g">MTOR_07</text>
<text transform="translate(1339,560.4) rotate(-45) scale(1,1.04)" font-size="13.0" fill="#404040" stroke="#404040" text-anchor="end" class="g">MTOR_00</text>
<path d="M1175.3 457.5h-5.6M1175.3 474.8h-5.6M1175.3 492h-5.6M1175.3 509.2h-5.6M1175.3 526.5h-5.6M1175.3 543.8h-5.6" class="tk"/>
<text transform="translate(1165.8,462.1) scale(1,1.04)" font-size="13.4" fill="#404040" stroke="#404040" text-anchor="end" class="g">2.0</text>
<text transform="translate(1165.8,479.35) scale(1,1.04)" font-size="13.4" fill="#404040" stroke="#404040" text-anchor="end" class="g">1.5</text>
<text transform="translate(1165.8,496.6) scale(1,1.04)" font-size="13.4" fill="#404040" stroke="#404040" text-anchor="end" class="g">1.0</text>
<text transform="translate(1165.8,513.85) scale(1,1.04)" font-size="13.4" fill="#404040" stroke="#404040" text-anchor="end" class="g">0.5</text>
<text transform="translate(1165.8,531.1) scale(1,1.04)" font-size="13.4" fill="#404040" stroke="#404040" text-anchor="end" class="g">0.0</text>
<text transform="translate(1165.8,548.35) scale(1,1.04)" font-size="13.4" fill="#404040" stroke="#404040" text-anchor="end" class="g">−0.5</text>
<svg x="1364.4" y="447" width="175.8" height="95.9" viewBox="1364.4 447 175.8 95.9">
<path d="M1364.4 535.1H1540.2M1364.4 517.9H1540.2M1364.4 500.6H1540.2M1364.4 483.4H1540.2M1364.4 466.1H1540.2M1364.4 448.9H1540.2" stroke="#EBEBEB" stroke-width="1.8" fill="none"/>
<path d="M1364.4 543.8H1540.2M1364.4 526.5H1540.2M1364.4 509.2H1540.2M1364.4 492H1540.2M1364.4 474.8H1540.2M1364.4 457.5H1540.2M1383.8 447V542.9M1418 447V542.9M1452.3 447V542.9M1486.5 447V542.9M1520.8 447V542.9" stroke="#EBEBEB" stroke-width="3.4" fill="none"/>
<polyline points="1383.8,522.7 1418,520.9 1452.3,508.9 1486.5,465.9 1520.8,464.4" stroke="#000" class="cl"/>
<path d="M1383.8 522.7h0M1418 520.9h0M1452.3 508.9h0M1486.5 465.9h0M1520.8 464.4h0" stroke="#000" class="cp"/>
<polyline points="1383.8,487.6 1418,488.8 1452.3,479.7 1486.5,474 1520.8,474.3" stroke="#D3555C" class="cl"/>
<path d="M1383.8 479.9l6.5 11.8h-13zM1418 481.1l6.5 11.8h-13zM1452.3 472l6.5 11.8h-13zM1486.5 466.3l6.5 11.8h-13zM1520.8 466.6l6.5 11.8h-13z" fill="#D3555C" stroke="#D3555C" stroke-width="1.6" stroke-linejoin="round"/>
</svg>
<rect x="1364.4" y="447" width="175.8" height="95.9" class="bd"/>
<rect x="1364.4" y="415" width="175.8" height="30" class="st"/>
<text transform="translate(1452.6,435.9) scale(1,1.04)" font-size="16.7" fill="#111" stroke="#111" text-anchor="middle" class="stt">POLR2H (#DEG=739)</text>
<path d="M1383.8 543.7v5.6M1418 543.7v5.6M1452.3 543.7v5.6M1486.5 543.7v5.6M1520.8 543.7v5.6" class="tk"/>
<text transform="translate(1390.3,560.4) rotate(-45) scale(1,1.04)" font-size="13.0" fill="#404040" stroke="#404040" text-anchor="end" class="g">POLR2H_07</text>
<text transform="translate(1424.55,560.4) rotate(-45) scale(1,1.04)" font-size="13.0" fill="#404040" stroke="#404040" text-anchor="end" class="g">POLR2H_12</text>
<text transform="translate(1458.8,560.4) rotate(-45) scale(1,1.04)" font-size="13.0" fill="#404040" stroke="#404040" text-anchor="end" class="g">POLR2H_08</text>
<text transform="translate(1493.05,560.4) rotate(-45) scale(1,1.04)" font-size="13.0" fill="#404040" stroke="#404040" text-anchor="end" class="g">POLR2H_11</text>
<text transform="translate(1527.3,560.4) rotate(-45) scale(1,1.04)" font-size="13.0" fill="#404040" stroke="#404040" text-anchor="end" class="g">POLR2H_00</text>
<svg x="1552.7" y="447" width="175.8" height="95.9" viewBox="1552.7 447 175.8 95.9">
<path d="M1552.7 535.1H1728.5M1552.7 517.9H1728.5M1552.7 500.6H1728.5M1552.7 483.4H1728.5M1552.7 466.1H1728.5M1552.7 448.9H1728.5" stroke="#EBEBEB" stroke-width="1.8" fill="none"/>
<path d="M1552.7 543.8H1728.5M1552.7 526.5H1728.5M1552.7 509.2H1728.5M1552.7 492H1728.5M1552.7 474.8H1728.5M1552.7 457.5H1728.5M1572.1 447V542.9M1606.3 447V542.9M1640.6 447V542.9M1674.8 447V542.9M1709.1 447V542.9" stroke="#EBEBEB" stroke-width="3.4" fill="none"/>
<polyline points="1572.1,523.6 1606.3,510.1 1640.6,491.2 1674.8,488.2 1709.1,473.1" stroke="#000" class="cl"/>
<path d="M1572.1 523.6h0M1606.3 510.1h0M1640.6 491.2h0M1674.8 488.2h0M1709.1 473.1h0" stroke="#000" class="cp"/>
<polyline points="1572.1,493.3 1606.3,484.6 1640.6,476.4 1674.8,478.2 1709.1,476.1" stroke="#D3555C" class="cl"/>
<path d="M1572.1 485.6l6.5 11.8h-13zM1606.3 476.9l6.5 11.8h-13zM1640.6 468.7l6.5 11.8h-13zM1674.8 470.5l6.5 11.8h-13zM1709.1 468.4l6.5 11.8h-13z" fill="#D3555C" stroke="#D3555C" stroke-width="1.6" stroke-linejoin="round"/>
</svg>
<rect x="1552.7" y="447" width="175.8" height="95.9" class="bd"/>
<rect x="1552.7" y="415" width="175.8" height="30" class="st"/>
<text transform="translate(1640.9,435.9) scale(1,1.04)" font-size="16.7" fill="#111" stroke="#111" text-anchor="middle" class="stt">RPS18 (#DEG=776)</text>
<path d="M1572.1 543.7v5.6M1606.3 543.7v5.6M1640.6 543.7v5.6M1674.8 543.7v5.6M1709.1 543.7v5.6" class="tk"/>
<text transform="translate(1578.6,560.4) rotate(-45) scale(1,1.04)" font-size="13.0" fill="#404040" stroke="#404040" text-anchor="end" class="g">RPS18_04</text>
<text transform="translate(1612.85,560.4) rotate(-45) scale(1,1.04)" font-size="13.0" fill="#404040" stroke="#404040" text-anchor="end" class="g">RPS18_08</text>
<text transform="translate(1647.1,560.4) rotate(-45) scale(1,1.04)" font-size="13.0" fill="#404040" stroke="#404040" text-anchor="end" class="g">RPS18_02</text>
<text transform="translate(1681.35,560.4) rotate(-45) scale(1,1.04)" font-size="13.0" fill="#404040" stroke="#404040" text-anchor="end" class="g">RPS18_01</text>
<text transform="translate(1715.6,560.4) rotate(-45) scale(1,1.04)" font-size="13.0" fill="#404040" stroke="#404040" text-anchor="end" class="g">RPS18_00</text>
<svg x="1741" y="447" width="175.8" height="95.9" viewBox="1741 447 175.8 95.9">
<path d="M1741 535.1H1916.8M1741 517.9H1916.8M1741 500.6H1916.8M1741 483.4H1916.8M1741 466.1H1916.8M1741 448.9H1916.8" stroke="#EBEBEB" stroke-width="1.8" fill="none"/>
<path d="M1741 543.8H1916.8M1741 526.5H1916.8M1741 509.2H1916.8M1741 492H1916.8M1741 474.8H1916.8M1741 457.5H1916.8M1760.4 447V542.9M1794.7 447V542.9M1828.9 447V542.9M1863.2 447V542.9M1897.4 447V542.9" stroke="#EBEBEB" stroke-width="3.4" fill="none"/>
<polyline points="1760.4,525.1 1794.7,509.5 1828.9,499.3 1863.2,494.2 1897.4,492.4" stroke="#000" class="cl"/>
<path d="M1760.4 525.1h0M1794.7 509.5h0M1828.9 499.3h0M1863.2 494.2h0M1897.4 492.4h0" stroke="#000" class="cp"/>
<polyline points="1760.4,493.6 1794.7,479.1 1828.9,476.7 1863.2,471.6 1897.4,475.2" stroke="#D3555C" class="cl"/>
<path d="M1760.4 485.9l6.5 11.8h-13zM1794.7 471.4l6.5 11.8h-13zM1828.9 469l6.5 11.8h-13zM1863.2 463.9l6.5 11.8h-13zM1897.4 467.5l6.5 11.8h-13z" fill="#D3555C" stroke="#D3555C" stroke-width="1.6" stroke-linejoin="round"/>
</svg>
<rect x="1741" y="447" width="175.8" height="95.9" class="bd"/>
<rect x="1741" y="415" width="175.8" height="30" class="st"/>
<text transform="translate(1829.2,435.9) scale(1,1.04)" font-size="16.7" fill="#111" stroke="#111" text-anchor="middle" class="stt">SEC61A1 (#DEG=793)</text>
<path d="M1760.4 543.7v5.6M1794.7 543.7v5.6M1828.9 543.7v5.6M1863.2 543.7v5.6M1897.4 543.7v5.6" class="tk"/>
<text transform="translate(1766.9,560.4) rotate(-45) scale(1,1.04)" font-size="13.0" fill="#404040" stroke="#404040" text-anchor="end" class="g">SEC61A1_04</text>
<text transform="translate(1801.15,560.4) rotate(-45) scale(1,1.04)" font-size="13.0" fill="#404040" stroke="#404040" text-anchor="end" class="g">SEC61A1_01</text>
<text transform="translate(1835.4,560.4) rotate(-45) scale(1,1.04)" font-size="13.0" fill="#404040" stroke="#404040" text-anchor="end" class="g">SEC61A1_03</text>
<text transform="translate(1869.65,560.4) rotate(-45) scale(1,1.04)" font-size="13.0" fill="#404040" stroke="#404040" text-anchor="end" class="g">SEC61A1_02</text>
<text transform="translate(1903.9,560.4) rotate(-45) scale(1,1.04)" font-size="13.0" fill="#404040" stroke="#404040" text-anchor="end" class="g">SEC61A1_00</text>
<svg x="1929.3" y="447" width="175.8" height="95.9" viewBox="1929.3 447 175.8 95.9">
<path d="M1929.3 535.1H2105.1M1929.3 517.9H2105.1M1929.3 500.6H2105.1M1929.3 483.4H2105.1M1929.3 466.1H2105.1M1929.3 448.9H2105.1" stroke="#EBEBEB" stroke-width="1.8" fill="none"/>
<path d="M1929.3 543.8H2105.1M1929.3 526.5H2105.1M1929.3 509.2H2105.1M1929.3 492H2105.1M1929.3 474.8H2105.1M1929.3 457.5H2105.1M1948.7 447V542.9M1983 447V542.9M2017.2 447V542.9M2051.4 447V542.9M2085.7 447V542.9" stroke="#EBEBEB" stroke-width="3.4" fill="none"/>
<polyline points="1948.7,524.8 1983,511.6 2017.2,507.1 2051.4,493.6 2085.7,487.3" stroke="#000" class="cl"/>
<path d="M1948.7 524.8h0M1983 511.6h0M2017.2 507.1h0M2051.4 493.6h0M2085.7 487.3h0" stroke="#000" class="cp"/>
<polyline points="1948.7,489.1 1983,482.5 2017.2,480 2051.4,474 2085.7,472.5" stroke="#D3555C" class="cl"/>
<path d="M1948.7 481.4l6.5 11.8h-13zM1983 474.8l6.5 11.8h-13zM2017.2 472.3l6.5 11.8h-13zM2051.4 466.3l6.5 11.8h-13zM2085.7 464.8l6.5 11.8h-13z" fill="#D3555C" stroke="#D3555C" stroke-width="1.6" stroke-linejoin="round"/>
</svg>
<rect x="1929.3" y="447" width="175.8" height="95.9" class="bd"/>
<rect x="1929.3" y="415" width="175.8" height="30" class="st"/>
<text transform="translate(2017.5,435.9) scale(1,1.04)" font-size="16.7" fill="#111" stroke="#111" text-anchor="middle" class="stt">GNB2L1 (#DEG=798)</text>
<path d="M1948.7 543.7v5.6M1983 543.7v5.6M2017.2 543.7v5.6M2051.4 543.7v5.6M2085.7 543.7v5.6" class="tk"/>
<text transform="translate(1955.2,560.4) rotate(-45) scale(1,1.04)" font-size="13.0" fill="#404040" stroke="#404040" text-anchor="end" class="g">GNB2L1_02</text>
<text transform="translate(1989.45,560.4) rotate(-45) scale(1,1.04)" font-size="13.0" fill="#404040" stroke="#404040" text-anchor="end" class="g">GNB2L1_13</text>
<text transform="translate(2023.7,560.4) rotate(-45) scale(1,1.04)" font-size="13.0" fill="#404040" stroke="#404040" text-anchor="end" class="g">GNB2L1_07</text>
<text transform="translate(2057.95,560.4) rotate(-45) scale(1,1.04)" font-size="13.0" fill="#404040" stroke="#404040" text-anchor="end" class="g">GNB2L1_08</text>
<text transform="translate(2092.2,560.4) rotate(-45) scale(1,1.04)" font-size="13.0" fill="#404040" stroke="#404040" text-anchor="end" class="g">GNB2L1_00</text>
<path d="M2105.9 457.5h5.6M2105.9 492h5.6M2105.9 526.5h5.6" class="tk"/>
<text transform="translate(2115.3,462.1) scale(1,1.04)" font-size="13.4" fill="#C4545C" stroke="#C4545C">1</text>
<text transform="translate(2115.3,496.6) scale(1,1.04)" font-size="13.4" fill="#C4545C" stroke="#C4545C">1/2</text>
<text transform="translate(2115.3,531.1) scale(1,1.04)" font-size="13.4" fill="#C4545C" stroke="#C4545C">0</text>
<svg x="1176.1" y="660.2" width="175.8" height="95.9" viewBox="1176.1 660.2 175.8 95.9">
<path d="M1176.1 748.3H1351.9M1176.1 731.1H1351.9M1176.1 713.8H1351.9M1176.1 696.6H1351.9M1176.1 679.3H1351.9M1176.1 662.1H1351.9" stroke="#EBEBEB" stroke-width="1.8" fill="none"/>
<path d="M1176.1 757H1351.9M1176.1 739.7H1351.9M1176.1 722.5H1351.9M1176.1 705.2H1351.9M1176.1 688H1351.9M1176.1 670.7H1351.9M1195.5 660.2V756.1M1229.8 660.2V756.1M1264 660.2V756.1M1298.2 660.2V756.1M1332.5 660.2V756.1" stroke="#EBEBEB" stroke-width="3.4" fill="none"/>
<polyline points="1195.5,737.5 1229.8,723.4 1264,708.1 1298.2,693.7 1332.5,691.9" stroke="#000" class="cl"/>
<path d="M1195.5 737.5h0M1229.8 723.4h0M1264 708.1h0M1298.2 693.7h0M1332.5 691.9h0" stroke="#000" class="cp"/>
<polyline points="1195.5,713.2 1229.8,703 1264,693.1 1298.2,689.5 1332.5,688" stroke="#D3555C" class="cl"/>
<path d="M1195.5 705.5l6.5 11.8h-13zM1229.8 695.3l6.5 11.8h-13zM1264 685.4l6.5 11.8h-13zM1298.2 681.8l6.5 11.8h-13zM1332.5 680.3l6.5 11.8h-13z" fill="#D3555C" stroke="#D3555C" stroke-width="1.6" stroke-linejoin="round"/>
</svg>
<rect x="1176.1" y="660.2" width="175.8" height="95.9" class="bd"/>
<rect x="1176.1" y="628.2" width="175.8" height="30" class="st"/>
<text transform="translate(1264.3,649.1) scale(1,1.04)" font-size="16.7" fill="#111" stroke="#111" text-anchor="middle" class="stt">HSPA9 (#DEG=863)</text>
<path d="M1195.5 756.9v5.6M1229.8 756.9v5.6M1264 756.9v5.6M1298.2 756.9v5.6M1332.5 756.9v5.6" class="tk"/>
<text transform="translate(1202,773.6) rotate(-45) scale(1,1.04)" font-size="13.0" fill="#404040" stroke="#404040" text-anchor="end" class="g">HSPA9_04</text>
<text transform="translate(1236.25,773.6) rotate(-45) scale(1,1.04)" font-size="13.0" fill="#404040" stroke="#404040" text-anchor="end" class="g">HSPA9_08</text>
<text transform="translate(1270.5,773.6) rotate(-45) scale(1,1.04)" font-size="13.0" fill="#404040" stroke="#404040" text-anchor="end" class="g">HSPA9_02</text>
<text transform="translate(1304.75,773.6) rotate(-45) scale(1,1.04)" font-size="13.0" fill="#404040" stroke="#404040" text-anchor="end" class="g">HSPA9_00</text>
<text transform="translate(1339,773.6) rotate(-45) scale(1,1.04)" font-size="13.0" fill="#404040" stroke="#404040" text-anchor="end" class="g">HSPA9_07</text>
<path d="M1175.3 670.7h-5.6M1175.3 688h-5.6M1175.3 705.2h-5.6M1175.3 722.5h-5.6M1175.3 739.7h-5.6M1175.3 757h-5.6" class="tk"/>
<text transform="translate(1165.8,675.3) scale(1,1.04)" font-size="13.4" fill="#404040" stroke="#404040" text-anchor="end" class="g">2.0</text>
<text transform="translate(1165.8,692.55) scale(1,1.04)" font-size="13.4" fill="#404040" stroke="#404040" text-anchor="end" class="g">1.5</text>
<text transform="translate(1165.8,709.8) scale(1,1.04)" font-size="13.4" fill="#404040" stroke="#404040" text-anchor="end" class="g">1.0</text>
<text transform="translate(1165.8,727.05) scale(1,1.04)" font-size="13.4" fill="#404040" stroke="#404040" text-anchor="end" class="g">0.5</text>
<text transform="translate(1165.8,744.3) scale(1,1.04)" font-size="13.4" fill="#404040" stroke="#404040" text-anchor="end" class="g">0.0</text>
<text transform="translate(1165.8,761.55) scale(1,1.04)" font-size="13.4" fill="#404040" stroke="#404040" text-anchor="end" class="g">−0.5</text>
<svg x="1364.4" y="660.2" width="175.8" height="95.9" viewBox="1364.4 660.2 175.8 95.9">
<path d="M1364.4 748.3H1540.2M1364.4 731.1H1540.2M1364.4 713.8H1540.2M1364.4 696.6H1540.2M1364.4 679.3H1540.2M1364.4 662.1H1540.2" stroke="#EBEBEB" stroke-width="1.8" fill="none"/>
<path d="M1364.4 757H1540.2M1364.4 739.7H1540.2M1364.4 722.5H1540.2M1364.4 705.2H1540.2M1364.4 688H1540.2M1364.4 670.7H1540.2M1383.8 660.2V756.1M1418 660.2V756.1M1452.3 660.2V756.1M1486.5 660.2V756.1M1520.8 660.2V756.1" stroke="#EBEBEB" stroke-width="3.4" fill="none"/>
<polyline points="1383.8,736 1418,716.5 1452.3,708.1 1486.5,699.1 1520.8,694.6" stroke="#000" class="cl"/>
<path d="M1383.8 736h0M1418 716.5h0M1452.3 708.1h0M1486.5 699.1h0M1520.8 694.6h0" stroke="#000" class="cp"/>
<polyline points="1383.8,705.1 1418,700 1452.3,693.7 1486.5,685.3 1520.8,691" stroke="#D3555C" class="cl"/>
<path d="M1383.8 697.4l6.5 11.8h-13zM1418 692.3l6.5 11.8h-13zM1452.3 686l6.5 11.8h-13zM1486.5 677.6l6.5 11.8h-13zM1520.8 683.3l6.5 11.8h-13z" fill="#D3555C" stroke="#D3555C" stroke-width="1.6" stroke-linejoin="round"/>
</svg>
<rect x="1364.4" y="660.2" width="175.8" height="95.9" class="bd"/>
<rect x="1364.4" y="628.2" width="175.8" height="30" class="st"/>
<text transform="translate(1452.6,649.1) scale(1,1.04)" font-size="16.7" fill="#111" stroke="#111" text-anchor="middle" class="stt">CAD (#DEG=921)</text>
<path d="M1383.8 756.9v5.6M1418 756.9v5.6M1452.3 756.9v5.6M1486.5 756.9v5.6M1520.8 756.9v5.6" class="tk"/>
<text transform="translate(1390.3,773.6) rotate(-45) scale(1,1.04)" font-size="13.0" fill="#404040" stroke="#404040" text-anchor="end" class="g">CAD_13</text>
<text transform="translate(1424.55,773.6) rotate(-45) scale(1,1.04)" font-size="13.0" fill="#404040" stroke="#404040" text-anchor="end" class="g">CAD_06</text>
<text transform="translate(1458.8,773.6) rotate(-45) scale(1,1.04)" font-size="13.0" fill="#404040" stroke="#404040" text-anchor="end" class="g">CAD_07</text>
<text transform="translate(1493.05,773.6) rotate(-45) scale(1,1.04)" font-size="13.0" fill="#404040" stroke="#404040" text-anchor="end" class="g">CAD_00</text>
<text transform="translate(1527.3,773.6) rotate(-45) scale(1,1.04)" font-size="13.0" fill="#404040" stroke="#404040" text-anchor="end" class="g">CAD_03</text>
<svg x="1552.7" y="660.2" width="175.8" height="95.9" viewBox="1552.7 660.2 175.8 95.9">
<path d="M1552.7 748.3H1728.5M1552.7 731.1H1728.5M1552.7 713.8H1728.5M1552.7 696.6H1728.5M1552.7 679.3H1728.5M1552.7 662.1H1728.5" stroke="#EBEBEB" stroke-width="1.8" fill="none"/>
<path d="M1552.7 757H1728.5M1552.7 739.7H1728.5M1552.7 722.5H1728.5M1552.7 705.2H1728.5M1552.7 688H1728.5M1552.7 670.7H1728.5M1572.1 660.2V756.1M1606.3 660.2V756.1M1640.6 660.2V756.1M1674.8 660.2V756.1M1709.1 660.2V756.1" stroke="#EBEBEB" stroke-width="3.4" fill="none"/>
<polyline points="1572.1,746.2 1606.3,715.6 1640.6,698.5 1674.8,698.5 1709.1,691.3" stroke="#000" class="cl"/>
<path d="M1572.1 746.2h0M1606.3 715.6h0M1640.6 698.5h0M1674.8 698.5h0M1709.1 691.3h0" stroke="#000" class="cp"/>
<polyline points="1572.1,732.7 1606.3,702.1 1640.6,686.2 1674.8,687.1 1709.1,691.9" stroke="#D3555C" class="cl"/>
<path d="M1572.1 725l6.5 11.8h-13zM1606.3 694.4l6.5 11.8h-13zM1640.6 678.5l6.5 11.8h-13zM1674.8 679.4l6.5 11.8h-13zM1709.1 684.2l6.5 11.8h-13z" fill="#D3555C" stroke="#D3555C" stroke-width="1.6" stroke-linejoin="round"/>
</svg>
<rect x="1552.7" y="660.2" width="175.8" height="95.9" class="bd"/>
<rect x="1552.7" y="628.2" width="175.8" height="30" class="st"/>
<text transform="translate(1640.9,649.1) scale(1,1.04)" font-size="16.7" fill="#111" stroke="#111" text-anchor="middle" class="stt">EIF2S1 (#DEG=935)</text>
<path d="M1572.1 756.9v5.6M1606.3 756.9v5.6M1640.6 756.9v5.6M1674.8 756.9v5.6M1709.1 756.9v5.6" class="tk"/>
<text transform="translate(1578.6,773.6) rotate(-45) scale(1,1.04)" font-size="13.0" fill="#404040" stroke="#404040" text-anchor="end" class="g">EIF2S1_07</text>
<text transform="translate(1612.85,773.6) rotate(-45) scale(1,1.04)" font-size="13.0" fill="#404040" stroke="#404040" text-anchor="end" class="g">EIF2S1_01</text>
<text transform="translate(1647.1,773.6) rotate(-45) scale(1,1.04)" font-size="13.0" fill="#404040" stroke="#404040" text-anchor="end" class="g">EIF2S1_06</text>
<text transform="translate(1681.35,773.6) rotate(-45) scale(1,1.04)" font-size="13.0" fill="#404040" stroke="#404040" text-anchor="end" class="g">EIF2S1_02</text>
<text transform="translate(1715.6,773.6) rotate(-45) scale(1,1.04)" font-size="13.0" fill="#404040" stroke="#404040" text-anchor="end" class="g">EIF2S1_00</text>
<svg x="1741" y="660.2" width="175.8" height="95.9" viewBox="1741 660.2 175.8 95.9">
<path d="M1741 748.3H1916.8M1741 731.1H1916.8M1741 713.8H1916.8M1741 696.6H1916.8M1741 679.3H1916.8M1741 662.1H1916.8" stroke="#EBEBEB" stroke-width="1.8" fill="none"/>
<path d="M1741 757H1916.8M1741 739.7H1916.8M1741 722.5H1916.8M1741 705.2H1916.8M1741 688H1916.8M1741 670.7H1916.8M1760.4 660.2V756.1M1794.7 660.2V756.1M1828.9 660.2V756.1M1863.2 660.2V756.1M1897.4 660.2V756.1" stroke="#EBEBEB" stroke-width="3.4" fill="none"/>
<polyline points="1760.4,738.7 1794.7,714.4 1828.9,710.5 1863.2,709.3 1897.4,707.8" stroke="#000" class="cl"/>
<path d="M1760.4 738.7h0M1794.7 714.4h0M1828.9 710.5h0M1863.2 709.3h0M1897.4 707.8h0" stroke="#000" class="cp"/>
<polyline points="1760.4,690.7 1794.7,683.1 1828.9,685.9 1863.2,683.4 1897.4,685" stroke="#D3555C" class="cl"/>
<path d="M1760.4 683l6.5 11.8h-13zM1794.7 675.4l6.5 11.8h-13zM1828.9 678.2l6.5 11.8h-13zM1863.2 675.7l6.5 11.8h-13zM1897.4 677.3l6.5 11.8h-13z" fill="#D3555C" stroke="#D3555C" stroke-width="1.6" stroke-linejoin="round"/>
</svg>
<rect x="1741" y="660.2" width="175.8" height="95.9" class="bd"/>
<rect x="1741" y="628.2" width="175.8" height="30" class="st"/>
<text transform="translate(1829.2,649.1) scale(1,1.04)" font-size="16.7" fill="#111" stroke="#111" text-anchor="middle" class="stt">POLR1D (#DEG=1020)</text>
<path d="M1760.4 756.9v5.6M1794.7 756.9v5.6M1828.9 756.9v5.6M1863.2 756.9v5.6M1897.4 756.9v5.6" class="tk"/>
<text transform="translate(1766.9,773.6) rotate(-45) scale(1,1.04)" font-size="13.0" fill="#404040" stroke="#404040" text-anchor="end" class="g">POLR1D_07</text>
<text transform="translate(1801.15,773.6) rotate(-45) scale(1,1.04)" font-size="13.0" fill="#404040" stroke="#404040" text-anchor="end" class="g">POLR1D_01</text>
<text transform="translate(1835.4,773.6) rotate(-45) scale(1,1.04)" font-size="13.0" fill="#404040" stroke="#404040" text-anchor="end" class="g">POLR1D_08</text>
<text transform="translate(1869.65,773.6) rotate(-45) scale(1,1.04)" font-size="13.0" fill="#404040" stroke="#404040" text-anchor="end" class="g">POLR1D_00</text>
<text transform="translate(1903.9,773.6) rotate(-45) scale(1,1.04)" font-size="13.0" fill="#404040" stroke="#404040" text-anchor="end" class="g">POLR1D_03</text>
<svg x="1929.3" y="660.2" width="175.8" height="95.9" viewBox="1929.3 660.2 175.8 95.9">
<path d="M1929.3 748.3H2105.1M1929.3 731.1H2105.1M1929.3 713.8H2105.1M1929.3 696.6H2105.1M1929.3 679.3H2105.1M1929.3 662.1H2105.1" stroke="#EBEBEB" stroke-width="1.8" fill="none"/>
<path d="M1929.3 757H2105.1M1929.3 739.7H2105.1M1929.3 722.5H2105.1M1929.3 705.2H2105.1M1929.3 688H2105.1M1929.3 670.7H2105.1M1948.7 660.2V756.1M1983 660.2V756.1M2017.2 660.2V756.1M2051.4 660.2V756.1M2085.7 660.2V756.1" stroke="#EBEBEB" stroke-width="3.4" fill="none"/>
<polyline points="1948.7,733 1983,724.6 2017.2,703.6 2051.4,697.6 2085.7,689.5" stroke="#000" class="cl"/>
<path d="M1948.7 733h0M1983 724.6h0M2017.2 703.6h0M2051.4 697.6h0M2085.7 689.5h0" stroke="#000" class="cp"/>
<polyline points="1948.7,705.7 1983,701.2 2017.2,689.8 2051.4,690.1 2085.7,688.9" stroke="#D3555C" class="cl"/>
<path d="M1948.7 698l6.5 11.8h-13zM1983 693.5l6.5 11.8h-13zM2017.2 682.1l6.5 11.8h-13zM2051.4 682.4l6.5 11.8h-13zM2085.7 681.2l6.5 11.8h-13z" fill="#D3555C" stroke="#D3555C" stroke-width="1.6" stroke-linejoin="round"/>
</svg>
<rect x="1929.3" y="660.2" width="175.8" height="95.9" class="bd"/>
<rect x="1929.3" y="628.2" width="175.8" height="30" class="st"/>
<text transform="translate(2017.5,649.1) scale(1,1.04)" font-size="16.7" fill="#111" stroke="#111" text-anchor="middle" class="stt">RPL9 (#DEG=1100)</text>
<path d="M1948.7 756.9v5.6M1983 756.9v5.6M2017.2 756.9v5.6M2051.4 756.9v5.6M2085.7 756.9v5.6" class="tk"/>
<text transform="translate(1955.2,773.6) rotate(-45) scale(1,1.04)" font-size="13.0" fill="#404040" stroke="#404040" text-anchor="end" class="g">RPL9_07</text>
<text transform="translate(1989.45,773.6) rotate(-45) scale(1,1.04)" font-size="13.0" fill="#404040" stroke="#404040" text-anchor="end" class="g">RPL9_04</text>
<text transform="translate(2023.7,773.6) rotate(-45) scale(1,1.04)" font-size="13.0" fill="#404040" stroke="#404040" text-anchor="end" class="g">RPL9_05</text>
<text transform="translate(2057.95,773.6) rotate(-45) scale(1,1.04)" font-size="13.0" fill="#404040" stroke="#404040" text-anchor="end" class="g">RPL9_01</text>
<text transform="translate(2092.2,773.6) rotate(-45) scale(1,1.04)" font-size="13.0" fill="#404040" stroke="#404040" text-anchor="end" class="g">RPL9_00</text>
<path d="M2105.9 670.7h5.6M2105.9 705.2h5.6M2105.9 739.7h5.6" class="tk"/>
<text transform="translate(2115.3,675.3) scale(1,1.04)" font-size="13.4" fill="#C4545C" stroke="#C4545C">1</text>
<text transform="translate(2115.3,709.8) scale(1,1.04)" font-size="13.4" fill="#C4545C" stroke="#C4545C">1/2</text>
<text transform="translate(2115.3,744.3) scale(1,1.04)" font-size="13.4" fill="#C4545C" stroke="#C4545C">0</text>
<svg x="1176.1" y="870.3" width="175.8" height="95.9" viewBox="1176.1 870.3 175.8 95.9">
<path d="M1176.1 958.4H1351.9M1176.1 941.2H1351.9M1176.1 923.9H1351.9M1176.1 906.7H1351.9M1176.1 889.4H1351.9M1176.1 872.2H1351.9" stroke="#EBEBEB" stroke-width="1.8" fill="none"/>
<path d="M1176.1 967.1H1351.9M1176.1 949.8H1351.9M1176.1 932.6H1351.9M1176.1 915.3H1351.9M1176.1 898.1H1351.9M1176.1 880.8H1351.9M1192.4 870.3V966.2M1221 870.3V966.2M1249.7 870.3V966.2M1278.3 870.3V966.2M1307 870.3V966.2M1335.6 870.3V966.2" stroke="#EBEBEB" stroke-width="3.4" fill="none"/>
<polyline points="1192.4,957.5 1221,942.2 1249.7,936.5 1278.3,912.5 1307,908.3 1335.6,895.1" stroke="#000" class="cl"/>
<path d="M1192.4 957.5h0M1221 942.2h0M1249.7 936.5h0M1278.3 912.5h0M1307 908.3h0M1335.6 895.1h0" stroke="#000" class="cp"/>
<polyline points="1192.4,931.4 1221,916.1 1249.7,911 1278.3,902.6 1307,902.6 1335.6,895.7" stroke="#D3555C" class="cl"/>
<path d="M1192.4 923.7l6.5 11.8h-13zM1221 908.4l6.5 11.8h-13zM1249.7 903.3l6.5 11.8h-13zM1278.3 894.9l6.5 11.8h-13zM1307 894.9l6.5 11.8h-13zM1335.6 888l6.5 11.8h-13z" fill="#D3555C" stroke="#D3555C" stroke-width="1.6" stroke-linejoin="round"/>
</svg>
<rect x="1176.1" y="870.3" width="175.8" height="95.9" class="bd"/>
<rect x="1176.1" y="838.3" width="175.8" height="30" class="st"/>
<text transform="translate(1264.3,859.2) scale(1,1.04)" font-size="16.7" fill="#111" stroke="#111" text-anchor="middle" class="stt">RPS14 (#DEG=1321)</text>
<path d="M1192.4 967v5.6M1221 967v5.6M1249.7 967v5.6M1278.3 967v5.6M1307 967v5.6M1335.6 967v5.6" class="tk"/>
<text transform="translate(1198.9,983.7) rotate(-45) scale(1,1.04)" font-size="13.0" fill="#404040" stroke="#404040" text-anchor="end" class="g">RPS14_08</text>
<text transform="translate(1227.54,983.7) rotate(-45) scale(1,1.04)" font-size="13.0" fill="#404040" stroke="#404040" text-anchor="end" class="g">RPS14_13</text>
<text transform="translate(1256.18,983.7) rotate(-45) scale(1,1.04)" font-size="13.0" fill="#404040" stroke="#404040" text-anchor="end" class="g">RPS14_04</text>
<text transform="translate(1284.82,983.7) rotate(-45) scale(1,1.04)" font-size="13.0" fill="#404040" stroke="#404040" text-anchor="end" class="g">RPS14_02</text>
<text transform="translate(1313.46,983.7) rotate(-45) scale(1,1.04)" font-size="13.0" fill="#404040" stroke="#404040" text-anchor="end" class="g">RPS14_00</text>
<text transform="translate(1342.1,983.7) rotate(-45) scale(1,1.04)" font-size="13.0" fill="#404040" stroke="#404040" text-anchor="end" class="g">RPS14_01</text>
<path d="M1175.3 880.8h-5.6M1175.3 898.1h-5.6M1175.3 915.3h-5.6M1175.3 932.6h-5.6M1175.3 949.8h-5.6M1175.3 967.1h-5.6" class="tk"/>
<text transform="translate(1165.8,885.4) scale(1,1.04)" font-size="13.4" fill="#404040" stroke="#404040" text-anchor="end" class="g">2.0</text>
<text transform="translate(1165.8,902.65) scale(1,1.04)" font-size="13.4" fill="#404040" stroke="#404040" text-anchor="end" class="g">1.5</text>
<text transform="translate(1165.8,919.9) scale(1,1.04)" font-size="13.4" fill="#404040" stroke="#404040" text-anchor="end" class="g">1.0</text>
<text transform="translate(1165.8,937.15) scale(1,1.04)" font-size="13.4" fill="#404040" stroke="#404040" text-anchor="end" class="g">0.5</text>
<text transform="translate(1165.8,954.4) scale(1,1.04)" font-size="13.4" fill="#404040" stroke="#404040" text-anchor="end" class="g">0.0</text>
<text transform="translate(1165.8,971.65) scale(1,1.04)" font-size="13.4" fill="#404040" stroke="#404040" text-anchor="end" class="g">−0.5</text>
<svg x="1364.4" y="870.3" width="175.8" height="95.9" viewBox="1364.4 870.3 175.8 95.9">
<path d="M1364.4 958.4H1540.2M1364.4 941.2H1540.2M1364.4 923.9H1540.2M1364.4 906.7H1540.2M1364.4 889.4H1540.2M1364.4 872.2H1540.2" stroke="#EBEBEB" stroke-width="1.8" fill="none"/>
<path d="M1364.4 967.1H1540.2M1364.4 949.8H1540.2M1364.4 932.6H1540.2M1364.4 915.3H1540.2M1364.4 898.1H1540.2M1364.4 880.8H1540.2M1383.8 870.3V966.2M1418 870.3V966.2M1452.3 870.3V966.2M1486.5 870.3V966.2M1520.8 870.3V966.2" stroke="#EBEBEB" stroke-width="3.4" fill="none"/>
<polyline points="1383.8,950 1418,930.8 1452.3,924.5 1486.5,922.1 1520.8,920" stroke="#000" class="cl"/>
<path d="M1383.8 950h0M1418 930.8h0M1452.3 924.5h0M1486.5 922.1h0M1520.8 920h0" stroke="#000" class="cp"/>
<polyline points="1383.8,896.6 1418,893.3 1452.3,889.9 1486.5,898.7 1520.8,894.5" stroke="#D3555C" class="cl"/>
<path d="M1383.8 888.9l6.5 11.8h-13zM1418 885.6l6.5 11.8h-13zM1452.3 882.2l6.5 11.8h-13zM1486.5 891l6.5 11.8h-13zM1520.8 886.8l6.5 11.8h-13z" fill="#D3555C" stroke="#D3555C" stroke-width="1.6" stroke-linejoin="round"/>
</svg>
<rect x="1364.4" y="870.3" width="175.8" height="95.9" class="bd"/>
<rect x="1364.4" y="838.3" width="175.8" height="30" class="st"/>
<text transform="translate(1452.6,859.2) scale(1,1.04)" font-size="16.7" fill="#111" stroke="#111" text-anchor="middle" class="stt">GINS1 (#DEG=1345)</text>
<path d="M1383.8 967v5.6M1418 967v5.6M1452.3 967v5.6M1486.5 967v5.6M1520.8 967v5.6" class="tk"/>
<text transform="translate(1390.3,983.7) rotate(-45) scale(1,1.04)" font-size="13.0" fill="#404040" stroke="#404040" text-anchor="end" class="g">GINS1_14</text>
<text transform="translate(1424.55,983.7) rotate(-45) scale(1,1.04)" font-size="13.0" fill="#404040" stroke="#404040" text-anchor="end" class="g">GINS1_03</text>
<text transform="translate(1458.8,983.7) rotate(-45) scale(1,1.04)" font-size="13.0" fill="#404040" stroke="#404040" text-anchor="end" class="g">GINS1_08</text>
<text transform="translate(1493.05,983.7) rotate(-45) scale(1,1.04)" font-size="13.0" fill="#404040" stroke="#404040" text-anchor="end" class="g">GINS1_00</text>
<text transform="translate(1527.3,983.7) rotate(-45) scale(1,1.04)" font-size="13.0" fill="#404040" stroke="#404040" text-anchor="end" class="g">GINS1_06</text>
<svg x="1552.7" y="870.3" width="175.8" height="95.9" viewBox="1552.7 870.3 175.8 95.9">
<path d="M1552.7 958.4H1728.5M1552.7 941.2H1728.5M1552.7 923.9H1728.5M1552.7 906.7H1728.5M1552.7 889.4H1728.5M1552.7 872.2H1728.5" stroke="#EBEBEB" stroke-width="1.8" fill="none"/>
<path d="M1552.7 967.1H1728.5M1552.7 949.8H1728.5M1552.7 932.6H1728.5M1552.7 915.3H1728.5M1552.7 898.1H1728.5M1552.7 880.8H1728.5M1569 870.3V966.2M1597.6 870.3V966.2M1626.3 870.3V966.2M1654.9 870.3V966.2M1683.6 870.3V966.2M1712.2 870.3V966.2" stroke="#EBEBEB" stroke-width="3.4" fill="none"/>
<polyline points="1569,950 1597.6,949.7 1626.3,945.5 1654.9,902.6 1683.6,898.7 1712.2,897.2" stroke="#000" class="cl"/>
<path d="M1569 950h0M1597.6 949.7h0M1626.3 945.5h0M1654.9 902.6h0M1683.6 898.7h0M1712.2 897.2h0" stroke="#000" class="cp"/>
<polyline points="1569,920.6 1597.6,917.3 1626.3,918.5 1654.9,897.5 1683.6,903.5 1712.2,911.3" stroke="#D3555C" class="cl"/>
<path d="M1569 912.9l6.5 11.8h-13zM1597.6 909.6l6.5 11.8h-13zM1626.3 910.8l6.5 11.8h-13zM1654.9 889.8l6.5 11.8h-13zM1683.6 895.8l6.5 11.8h-13zM1712.2 903.6l6.5 11.8h-13z" fill="#D3555C" stroke="#D3555C" stroke-width="1.6" stroke-linejoin="round"/>
</svg>
<rect x="1552.7" y="870.3" width="175.8" height="95.9" class="bd"/>
<rect x="1552.7" y="838.3" width="175.8" height="30" class="st"/>
<text transform="translate(1640.9,859.2) scale(1,1.04)" font-size="16.7" fill="#111" stroke="#111" text-anchor="middle" class="stt">BCR (#DEG=1736)</text>
<path d="M1569 967v5.6M1597.6 967v5.6M1626.3 967v5.6M1654.9 967v5.6M1683.6 967v5.6M1712.2 967v5.6" class="tk"/>
<text transform="translate(1575.5,983.7) rotate(-45) scale(1,1.04)" font-size="13.0" fill="#404040" stroke="#404040" text-anchor="end" class="g">BCR_13</text>
<text transform="translate(1604.14,983.7) rotate(-45) scale(1,1.04)" font-size="13.0" fill="#404040" stroke="#404040" text-anchor="end" class="g">BCR_15</text>
<text transform="translate(1632.78,983.7) rotate(-45) scale(1,1.04)" font-size="13.0" fill="#404040" stroke="#404040" text-anchor="end" class="g">BCR_05</text>
<text transform="translate(1661.42,983.7) rotate(-45) scale(1,1.04)" font-size="13.0" fill="#404040" stroke="#404040" text-anchor="end" class="g">BCR_04</text>
<text transform="translate(1690.06,983.7) rotate(-45) scale(1,1.04)" font-size="13.0" fill="#404040" stroke="#404040" text-anchor="end" class="g">BCR_00</text>
<text transform="translate(1718.7,983.7) rotate(-45) scale(1,1.04)" font-size="13.0" fill="#404040" stroke="#404040" text-anchor="end" class="g">BCR_07</text>
<svg x="1741" y="870.3" width="175.8" height="95.9" viewBox="1741 870.3 175.8 95.9">
<path d="M1741 958.4H1916.8M1741 941.2H1916.8M1741 923.9H1916.8M1741 906.7H1916.8M1741 889.4H1916.8M1741 872.2H1916.8" stroke="#EBEBEB" stroke-width="1.8" fill="none"/>
<path d="M1741 967.1H1916.8M1741 949.8H1916.8M1741 932.6H1916.8M1741 915.3H1916.8M1741 898.1H1916.8M1741 880.8H1916.8M1757.3 870.3V966.2M1785.9 870.3V966.2M1814.6 870.3V966.2M1843.2 870.3V966.2M1871.9 870.3V966.2M1900.5 870.3V966.2" stroke="#EBEBEB" stroke-width="3.4" fill="none"/>
<polyline points="1757.3,954.5 1785.9,932 1814.6,907.1 1843.2,907.1 1871.9,899.6 1900.5,894.5" stroke="#000" class="cl"/>
<path d="M1757.3 954.5h0M1785.9 932h0M1814.6 907.1h0M1843.2 907.1h0M1871.9 899.6h0M1900.5 894.5h0" stroke="#000" class="cp"/>
<polyline points="1757.3,941.6 1785.9,917 1814.6,916.4 1843.2,908.6 1871.9,899.9 1900.5,895.7" stroke="#D3555C" class="cl"/>
<path d="M1757.3 933.9l6.5 11.8h-13zM1785.9 909.3l6.5 11.8h-13zM1814.6 908.7l6.5 11.8h-13zM1843.2 900.9l6.5 11.8h-13zM1871.9 892.2l6.5 11.8h-13zM1900.5 888l6.5 11.8h-13z" fill="#D3555C" stroke="#D3555C" stroke-width="1.6" stroke-linejoin="round"/>
</svg>
<rect x="1741" y="870.3" width="175.8" height="95.9" class="bd"/>
<rect x="1741" y="838.3" width="175.8" height="30" class="st"/>
<text transform="translate(1829.2,859.2) scale(1,1.04)" font-size="16.7" fill="#111" stroke="#111" text-anchor="middle" class="stt">GATA1 (#DEG=1770)</text>
<path d="M1757.3 967v5.6M1785.9 967v5.6M1814.6 967v5.6M1843.2 967v5.6M1871.9 967v5.6M1900.5 967v5.6" class="tk"/>
<text transform="translate(1763.8,983.7) rotate(-45) scale(1,1.04)" font-size="13.0" fill="#404040" stroke="#404040" text-anchor="end" class="g">GATA1_12</text>
<text transform="translate(1792.44,983.7) rotate(-45) scale(1,1.04)" font-size="13.0" fill="#404040" stroke="#404040" text-anchor="end" class="g">GATA1_06</text>
<text transform="translate(1821.08,983.7) rotate(-45) scale(1,1.04)" font-size="13.0" fill="#404040" stroke="#404040" text-anchor="end" class="g">GATA1_08</text>
<text transform="translate(1849.72,983.7) rotate(-45) scale(1,1.04)" font-size="13.0" fill="#404040" stroke="#404040" text-anchor="end" class="g">GATA1_00</text>
<text transform="translate(1878.36,983.7) rotate(-45) scale(1,1.04)" font-size="13.0" fill="#404040" stroke="#404040" text-anchor="end" class="g">GATA1_03</text>
<text transform="translate(1907,983.7) rotate(-45) scale(1,1.04)" font-size="13.0" fill="#404040" stroke="#404040" text-anchor="end" class="g">GATA1_04</text>
<svg x="1929.3" y="870.3" width="175.8" height="95.9" viewBox="1929.3 870.3 175.8 95.9">
<path d="M1929.3 958.4H2105.1M1929.3 941.2H2105.1M1929.3 923.9H2105.1M1929.3 906.7H2105.1M1929.3 889.4H2105.1M1929.3 872.2H2105.1" stroke="#EBEBEB" stroke-width="1.8" fill="none"/>
<path d="M1929.3 967.1H2105.1M1929.3 949.8H2105.1M1929.3 932.6H2105.1M1929.3 915.3H2105.1M1929.3 898.1H2105.1M1929.3 880.8H2105.1M1948.7 870.3V966.2M1983 870.3V966.2M2017.2 870.3V966.2M2051.4 870.3V966.2M2085.7 870.3V966.2" stroke="#EBEBEB" stroke-width="3.4" fill="none"/>
<polyline points="1948.7,951.8 1983,917 2017.2,911.3 2051.4,908 2085.7,904.1" stroke="#000" class="cl"/>
<path d="M1948.7 951.8h0M1983 917h0M2017.2 911.3h0M2051.4 908h0M2085.7 904.1h0" stroke="#000" class="cp"/>
<polyline points="1948.7,931.1 1983,923.3 2017.2,921.5 2051.4,905 2085.7,915.2" stroke="#D3555C" class="cl"/>
<path d="M1948.7 923.4l6.5 11.8h-13zM1983 915.6l6.5 11.8h-13zM2017.2 913.8l6.5 11.8h-13zM2051.4 897.3l6.5 11.8h-13zM2085.7 907.5l6.5 11.8h-13z" fill="#D3555C" stroke="#D3555C" stroke-width="1.6" stroke-linejoin="round"/>
</svg>
<rect x="1929.3" y="870.3" width="175.8" height="95.9" class="bd"/>
<rect x="1929.3" y="838.3" width="175.8" height="30" class="st"/>
<text transform="translate(2017.5,859.2) scale(1,1.04)" font-size="16.7" fill="#111" stroke="#111" text-anchor="middle" class="stt">HSPA5 (#DEG=2310)</text>
<path d="M1948.7 967v5.6M1983 967v5.6M2017.2 967v5.6M2051.4 967v5.6M2085.7 967v5.6" class="tk"/>
<text transform="translate(1955.2,983.7) rotate(-45) scale(1,1.04)" font-size="13.0" fill="#404040" stroke="#404040" text-anchor="end" class="g">HSPA5_06</text>
<text transform="translate(1989.45,983.7) rotate(-45) scale(1,1.04)" font-size="13.0" fill="#404040" stroke="#404040" text-anchor="end" class="g">HSPA5_00</text>
<text transform="translate(2023.7,983.7) rotate(-45) scale(1,1.04)" font-size="13.0" fill="#404040" stroke="#404040" text-anchor="end" class="g">HSPA5_04</text>
<text transform="translate(2057.95,983.7) rotate(-45) scale(1,1.04)" font-size="13.0" fill="#404040" stroke="#404040" text-anchor="end" class="g">HSPA5_01</text>
<text transform="translate(2092.2,983.7) rotate(-45) scale(1,1.04)" font-size="13.0" fill="#404040" stroke="#404040" text-anchor="end" class="g">HSPA5_08</text>
<path d="M2105.9 880.8h5.6M2105.9 915.3h5.6M2105.9 949.8h5.6" class="tk"/>
<text transform="translate(2115.3,885.4) scale(1,1.04)" font-size="13.4" fill="#C4545C" stroke="#C4545C">1</text>
<text transform="translate(2115.3,919.9) scale(1,1.04)" font-size="13.4" fill="#C4545C" stroke="#C4545C">1/2</text>
<text transform="translate(2115.3,954.4) scale(1,1.04)" font-size="13.4" fill="#C4545C" stroke="#C4545C">0</text>
<text transform="translate(1128.7,502.5) rotate(-90) scale(1,1.03)" font-size="25.7" stroke="#000" text-anchor="middle" class="ws">Perturbation score</text>
<text transform="translate(2143.5,503) rotate(90) scale(1,1.03)" font-size="25.6" fill="#C4545C" stroke="#C4545C" text-anchor="middle" class="ws">Target gene KD percentage</text>
<text transform="translate(1640,1053.3) scale(1,1.03)" font-size="25.7" stroke="#000" text-anchor="middle" class="ws">gRNA identity (ordered target expression level)</text>
</g>
<g id="panel-d">
<svg x="1157.3" y="1132.7" width="180" height="95.9" viewBox="1157.3 1132.7 180 95.9">
<path d="M1157.3 1233.8H1337.3M1157.3 1201.7H1337.3M1157.3 1169.5H1337.3M1157.3 1137.5H1337.3" stroke="#EBEBEB" stroke-width="1.8" fill="none"/>
<path d="M1157.3 1217.7H1337.3M1157.3 1185.6H1337.3M1157.3 1153.5H1337.3M1177.5 1132.7V1228.6M1212.4 1132.7V1228.6M1247.3 1132.7V1228.6M1282.2 1132.7V1228.6M1317.1 1132.7V1228.6" stroke="#EBEBEB" stroke-width="3.4" fill="none"/>
<polyline points="1177.5,1225 1212.4,1191.1 1247.3,1179.1 1282.2,1178.5 1317.1,1173.7" stroke="#000" class="cl"/>
<path d="M1177.5 1225h0M1212.4 1191.1h0M1247.3 1179.1h0M1282.2 1178.5h0M1317.1 1173.7h0" stroke="#000" class="cp"/>
<polyline points="1177.5,1217.8 1212.4,1190.5 1247.3,1156.9 1282.2,1159.6 1317.1,1153.3" stroke="#5189CC" class="cl"/>
<path d="M1177.5 1211.3l6.5 6.5l-6.5 6.5l-6.5 -6.5zM1212.4 1184l6.5 6.5l-6.5 6.5l-6.5 -6.5zM1247.3 1150.4l6.5 6.5l-6.5 6.5l-6.5 -6.5zM1282.2 1153.1l6.5 6.5l-6.5 6.5l-6.5 -6.5zM1317.1 1146.8l6.5 6.5l-6.5 6.5l-6.5 -6.5z" fill="#5189CC" stroke="#5189CC" stroke-width="1.8" stroke-linejoin="round"/>
</svg>
<rect x="1157.3" y="1132.7" width="180" height="95.9" class="bd"/>
<rect x="1157.3" y="1100.7" width="180" height="30" class="st"/>
<text transform="translate(1247.6,1121.6) scale(1,1.04)" font-size="16.7" fill="#111" stroke="#111" text-anchor="middle" class="stt">ALDOA (#DEG=8)</text>
<path d="M1177.5 1229.4v5.6M1212.4 1229.4v5.6M1247.3 1229.4v5.6M1282.2 1229.4v5.6M1317.1 1229.4v5.6" class="tk"/>
<text transform="translate(1184,1246.1) rotate(-45) scale(1,1.04)" font-size="13.0" fill="#404040" stroke="#404040" text-anchor="end" class="g">ALDOA_13</text>
<text transform="translate(1218.9,1246.1) rotate(-45) scale(1,1.04)" font-size="13.0" fill="#404040" stroke="#404040" text-anchor="end" class="g">ALDOA_14</text>
<text transform="translate(1253.8,1246.1) rotate(-45) scale(1,1.04)" font-size="13.0" fill="#404040" stroke="#404040" text-anchor="end" class="g">ALDOA_06</text>
<text transform="translate(1288.7,1246.1) rotate(-45) scale(1,1.04)" font-size="13.0" fill="#404040" stroke="#404040" text-anchor="end" class="g">ALDOA_07</text>
<text transform="translate(1323.6,1246.1) rotate(-45) scale(1,1.04)" font-size="13.0" fill="#404040" stroke="#404040" text-anchor="end" class="g">ALDOA_00</text>
<path d="M1156.5 1153.5h-5.6M1156.5 1185.6h-5.6M1156.5 1217.7h-5.6" class="tk"/>
<text transform="translate(1147.4,1159.1) scale(1,1.04)" font-size="13.4" fill="#404040" stroke="#404040" text-anchor="end" class="g">2</text>
<text transform="translate(1147.4,1191.2) scale(1,1.04)" font-size="13.4" fill="#404040" stroke="#404040" text-anchor="end" class="g">1</text>
<text transform="translate(1147.4,1223.3) scale(1,1.04)" font-size="13.4" fill="#404040" stroke="#404040" text-anchor="end" class="g">0</text>
<svg x="1349.3" y="1132.7" width="180" height="95.9" viewBox="1349.3 1132.7 180 95.9">
<path d="M1349.3 1233.8H1529.3M1349.3 1201.7H1529.3M1349.3 1169.5H1529.3M1349.3 1137.5H1529.3" stroke="#EBEBEB" stroke-width="1.8" fill="none"/>
<path d="M1349.3 1217.7H1529.3M1349.3 1185.6H1529.3M1349.3 1153.5H1529.3M1369.5 1132.7V1228.6M1404.4 1132.7V1228.6M1439.3 1132.7V1228.6M1474.2 1132.7V1228.6M1509.1 1132.7V1228.6" stroke="#EBEBEB" stroke-width="3.4" fill="none"/>
<polyline points="1369.5,1198 1404.4,1191.7 1439.3,1190.2 1474.2,1186.9 1509.1,1181.2" stroke="#000" class="cl"/>
<path d="M1369.5 1198h0M1404.4 1191.7h0M1439.3 1190.2h0M1474.2 1186.9h0M1509.1 1181.2h0" stroke="#000" class="cp"/>
<polyline points="1369.5,1156 1404.4,1194.4 1439.3,1153.3 1474.2,1162 1509.1,1194.4" stroke="#5189CC" class="cl"/>
<path d="M1369.5 1149.5l6.5 6.5l-6.5 6.5l-6.5 -6.5zM1404.4 1187.9l6.5 6.5l-6.5 6.5l-6.5 -6.5zM1439.3 1146.8l6.5 6.5l-6.5 6.5l-6.5 -6.5zM1474.2 1155.5l6.5 6.5l-6.5 6.5l-6.5 -6.5zM1509.1 1187.9l6.5 6.5l-6.5 6.5l-6.5 -6.5z" fill="#5189CC" stroke="#5189CC" stroke-width="1.8" stroke-linejoin="round"/>
</svg>
<rect x="1349.3" y="1132.7" width="180" height="95.9" class="bd"/>
<rect x="1349.3" y="1100.7" width="180" height="30" class="st"/>
<text transform="translate(1439.6,1121.6) scale(1,1.04)" font-size="16.7" fill="#111" stroke="#111" text-anchor="middle" class="stt">COX11 (#DEG=11)</text>
<path d="M1369.5 1229.4v5.6M1404.4 1229.4v5.6M1439.3 1229.4v5.6M1474.2 1229.4v5.6M1509.1 1229.4v5.6" class="tk"/>
<text transform="translate(1376,1246.1) rotate(-45) scale(1,1.04)" font-size="13.0" fill="#404040" stroke="#404040" text-anchor="end" class="g">COX11_03</text>
<text transform="translate(1410.9,1246.1) rotate(-45) scale(1,1.04)" font-size="13.0" fill="#404040" stroke="#404040" text-anchor="end" class="g">COX11_05</text>
<text transform="translate(1445.8,1246.1) rotate(-45) scale(1,1.04)" font-size="13.0" fill="#404040" stroke="#404040" text-anchor="end" class="g">COX11_00</text>
<text transform="translate(1480.7,1246.1) rotate(-45) scale(1,1.04)" font-size="13.0" fill="#404040" stroke="#404040" text-anchor="end" class="g">COX11_04</text>
<text transform="translate(1515.6,1246.1) rotate(-45) scale(1,1.04)" font-size="13.0" fill="#404040" stroke="#404040" text-anchor="end" class="g">COX11_10</text>
<svg x="1541.3" y="1132.7" width="180" height="95.9" viewBox="1541.3 1132.7 180 95.9">
<path d="M1541.3 1233.8H1721.3M1541.3 1201.7H1721.3M1541.3 1169.5H1721.3M1541.3 1137.5H1721.3" stroke="#EBEBEB" stroke-width="1.8" fill="none"/>
<path d="M1541.3 1217.7H1721.3M1541.3 1185.6H1721.3M1541.3 1153.5H1721.3M1561.5 1132.7V1228.6M1596.4 1132.7V1228.6M1631.3 1132.7V1228.6M1666.2 1132.7V1228.6M1701.1 1132.7V1228.6" stroke="#EBEBEB" stroke-width="3.4" fill="none"/>
<polyline points="1561.5,1212.4 1596.4,1199.8 1631.3,1192.9 1666.2,1192.6 1701.1,1186.3" stroke="#000" class="cl"/>
<path d="M1561.5 1212.4h0M1596.4 1199.8h0M1631.3 1192.9h0M1666.2 1192.6h0M1701.1 1186.3h0" stroke="#000" class="cp"/>
<polyline points="1561.5,1203.7 1596.4,1183 1631.3,1153.3 1666.2,1139.4 1701.1,1136.4" stroke="#5189CC" class="cl"/>
<path d="M1561.5 1197.2l6.5 6.5l-6.5 6.5l-6.5 -6.5zM1596.4 1176.5l6.5 6.5l-6.5 6.5l-6.5 -6.5zM1631.3 1146.8l6.5 6.5l-6.5 6.5l-6.5 -6.5zM1666.2 1132.9l6.5 6.5l-6.5 6.5l-6.5 -6.5zM1701.1 1129.9l6.5 6.5l-6.5 6.5l-6.5 -6.5z" fill="#5189CC" stroke="#5189CC" stroke-width="1.8" stroke-linejoin="round"/>
</svg>
<rect x="1541.3" y="1132.7" width="180" height="95.9" class="bd"/>
<rect x="1541.3" y="1100.7" width="180" height="30" class="st"/>
<text transform="translate(1631.6,1121.6) scale(1,1.04)" font-size="16.7" fill="#111" stroke="#111" text-anchor="middle" class="stt">RAN (#DEG=14)</text>
<path d="M1561.5 1229.4v5.6M1596.4 1229.4v5.6M1631.3 1229.4v5.6M1666.2 1229.4v5.6M1701.1 1229.4v5.6" class="tk"/>
<text transform="translate(1568,1246.1) rotate(-45) scale(1,1.04)" font-size="13.0" fill="#404040" stroke="#404040" text-anchor="end" class="g">RAN_12</text>
<text transform="translate(1602.9,1246.1) rotate(-45) scale(1,1.04)" font-size="13.0" fill="#404040" stroke="#404040" text-anchor="end" class="g">RAN_04</text>
<text transform="translate(1637.8,1246.1) rotate(-45) scale(1,1.04)" font-size="13.0" fill="#404040" stroke="#404040" text-anchor="end" class="g">RAN_00</text>
<text transform="translate(1672.7,1246.1) rotate(-45) scale(1,1.04)" font-size="13.0" fill="#404040" stroke="#404040" text-anchor="end" class="g">RAN_03</text>
<text transform="translate(1707.6,1246.1) rotate(-45) scale(1,1.04)" font-size="13.0" fill="#404040" stroke="#404040" text-anchor="end" class="g">RAN_02</text>
<svg x="1733.3" y="1132.7" width="180" height="95.9" viewBox="1733.3 1132.7 180 95.9">
<path d="M1733.3 1233.8H1913.3M1733.3 1201.7H1913.3M1733.3 1169.5H1913.3M1733.3 1137.5H1913.3" stroke="#EBEBEB" stroke-width="1.8" fill="none"/>
<path d="M1733.3 1217.7H1913.3M1733.3 1185.6H1913.3M1733.3 1153.5H1913.3M1753.5 1132.7V1228.6M1788.4 1132.7V1228.6M1823.3 1132.7V1228.6M1858.2 1132.7V1228.6M1893.1 1132.7V1228.6" stroke="#EBEBEB" stroke-width="3.4" fill="none"/>
<polyline points="1753.5,1218.4 1788.4,1188.1 1823.3,1184.2 1858.2,1182.1 1893.1,1181.5" stroke="#000" class="cl"/>
<path d="M1753.5 1218.4h0M1788.4 1188.1h0M1823.3 1184.2h0M1858.2 1182.1h0M1893.1 1181.5h0" stroke="#000" class="cp"/>
<polyline points="1753.5,1198.6 1788.4,1165.3 1823.3,1164.4 1858.2,1153.3 1893.1,1162" stroke="#5189CC" class="cl"/>
<path d="M1753.5 1192.1l6.5 6.5l-6.5 6.5l-6.5 -6.5zM1788.4 1158.8l6.5 6.5l-6.5 6.5l-6.5 -6.5zM1823.3 1157.9l6.5 6.5l-6.5 6.5l-6.5 -6.5zM1858.2 1146.8l6.5 6.5l-6.5 6.5l-6.5 -6.5zM1893.1 1155.5l6.5 6.5l-6.5 6.5l-6.5 -6.5z" fill="#5189CC" stroke="#5189CC" stroke-width="1.8" stroke-linejoin="round"/>
</svg>
<rect x="1733.3" y="1132.7" width="180" height="95.9" class="bd"/>
<rect x="1733.3" y="1100.7" width="180" height="30" class="st"/>
<text transform="translate(1823.6,1121.6) scale(1,1.04)" font-size="16.7" fill="#111" stroke="#111" text-anchor="middle" class="stt">CDC23 (#DEG=21)</text>
<path d="M1753.5 1229.4v5.6M1788.4 1229.4v5.6M1823.3 1229.4v5.6M1858.2 1229.4v5.6M1893.1 1229.4v5.6" class="tk"/>
<text transform="translate(1760,1246.1) rotate(-45) scale(1,1.04)" font-size="13.0" fill="#404040" stroke="#404040" text-anchor="end" class="g">CDC23_11</text>
<text transform="translate(1794.9,1246.1) rotate(-45) scale(1,1.04)" font-size="13.0" fill="#404040" stroke="#404040" text-anchor="end" class="g">CDC23_04</text>
<text transform="translate(1829.8,1246.1) rotate(-45) scale(1,1.04)" font-size="13.0" fill="#404040" stroke="#404040" text-anchor="end" class="g">CDC23_08</text>
<text transform="translate(1864.7,1246.1) rotate(-45) scale(1,1.04)" font-size="13.0" fill="#404040" stroke="#404040" text-anchor="end" class="g">CDC23_00</text>
<text transform="translate(1899.6,1246.1) rotate(-45) scale(1,1.04)" font-size="13.0" fill="#404040" stroke="#404040" text-anchor="end" class="g">CDC23_02</text>
<svg x="1925.3" y="1132.7" width="180" height="95.9" viewBox="1925.3 1132.7 180 95.9">
<path d="M1925.3 1233.8H2105.3M1925.3 1201.7H2105.3M1925.3 1169.5H2105.3M1925.3 1137.5H2105.3" stroke="#EBEBEB" stroke-width="1.8" fill="none"/>
<path d="M1925.3 1217.7H2105.3M1925.3 1185.6H2105.3M1925.3 1153.5H2105.3M1945.5 1132.7V1228.6M1980.4 1132.7V1228.6M2015.3 1132.7V1228.6M2050.2 1132.7V1228.6M2085.1 1132.7V1228.6" stroke="#EBEBEB" stroke-width="3.4" fill="none"/>
<polyline points="1945.5,1207.3 1980.4,1199.8 2015.3,1194.4 2050.2,1192.6 2085.1,1192" stroke="#000" class="cl"/>
<path d="M1945.5 1207.3h0M1980.4 1199.8h0M2015.3 1194.4h0M2050.2 1192.6h0M2085.1 1192h0" stroke="#000" class="cp"/>
<polyline points="1945.5,1208.2 1980.4,1183.6 2015.3,1170.7 2050.2,1153.6 2085.1,1152.3" stroke="#5189CC" class="cl"/>
<path d="M1945.5 1201.7l6.5 6.5l-6.5 6.5l-6.5 -6.5zM1980.4 1177.1l6.5 6.5l-6.5 6.5l-6.5 -6.5zM2015.3 1164.2l6.5 6.5l-6.5 6.5l-6.5 -6.5zM2050.2 1147.1l6.5 6.5l-6.5 6.5l-6.5 -6.5zM2085.1 1145.8l6.5 6.5l-6.5 6.5l-6.5 -6.5z" fill="#5189CC" stroke="#5189CC" stroke-width="1.8" stroke-linejoin="round"/>
</svg>
<rect x="1925.3" y="1132.7" width="180" height="95.9" class="bd"/>
<rect x="1925.3" y="1100.7" width="180" height="30" class="st"/>
<text transform="translate(2015.6,1121.6) scale(1,1.04)" font-size="16.7" fill="#111" stroke="#111" text-anchor="middle" class="stt">ATP5E (#DEG=34)</text>
<path d="M1945.5 1229.4v5.6M1980.4 1229.4v5.6M2015.3 1229.4v5.6M2050.2 1229.4v5.6M2085.1 1229.4v5.6" class="tk"/>
<text transform="translate(1952,1246.1) rotate(-45) scale(1,1.04)" font-size="13.0" fill="#404040" stroke="#404040" text-anchor="end" class="g">ATP5E_14</text>
<text transform="translate(1986.9,1246.1) rotate(-45) scale(1,1.04)" font-size="13.0" fill="#404040" stroke="#404040" text-anchor="end" class="g">ATP5E_04</text>
<text transform="translate(2021.8,1246.1) rotate(-45) scale(1,1.04)" font-size="13.0" fill="#404040" stroke="#404040" text-anchor="end" class="g">ATP5E_16</text>
<text transform="translate(2056.7,1246.1) rotate(-45) scale(1,1.04)" font-size="13.0" fill="#404040" stroke="#404040" text-anchor="end" class="g">ATP5E_00</text>
<text transform="translate(2091.6,1246.1) rotate(-45) scale(1,1.04)" font-size="13.0" fill="#404040" stroke="#404040" text-anchor="end" class="g">ATP5E_01</text>
<path d="M2106.1 1153.5h5.6M2106.1 1185.6h5.6M2106.1 1217.7h5.6" class="tk"/>
<text transform="translate(2115.1,1159.1) scale(1,1.04)" font-size="13.4" fill="#4F7DBE" stroke="#4F7DBE">1</text>
<text transform="translate(2115.1,1191.2) scale(1,1.04)" font-size="13.4" fill="#4F7DBE" stroke="#4F7DBE">0.5</text>
<text transform="translate(2115.1,1223.3) scale(1,1.04)" font-size="13.4" fill="#4F7DBE" stroke="#4F7DBE">0</text>
<svg x="1157.3" y="1336.9" width="180" height="95.9" viewBox="1157.3 1336.9 180 95.9">
<path d="M1157.3 1438H1337.3M1157.3 1405.9H1337.3M1157.3 1373.8H1337.3M1157.3 1341.7H1337.3" stroke="#EBEBEB" stroke-width="1.8" fill="none"/>
<path d="M1157.3 1421.9H1337.3M1157.3 1389.8H1337.3M1157.3 1357.7H1337.3M1177.5 1336.9V1432.8M1212.4 1336.9V1432.8M1247.3 1336.9V1432.8M1282.2 1336.9V1432.8M1317.1 1336.9V1432.8" stroke="#EBEBEB" stroke-width="3.4" fill="none"/>
<polyline points="1177.5,1408.5 1212.4,1398.6 1247.3,1395 1282.2,1394.4 1317.1,1392.9" stroke="#000" class="cl"/>
<path d="M1177.5 1408.5h0M1212.4 1398.6h0M1247.3 1395h0M1282.2 1394.4h0M1317.1 1392.9h0" stroke="#000" class="cp"/>
<polyline points="1177.5,1408.8 1212.4,1376.4 1247.3,1357.8 1282.2,1365.9 1317.1,1371" stroke="#5189CC" class="cl"/>
<path d="M1177.5 1402.3l6.5 6.5l-6.5 6.5l-6.5 -6.5zM1212.4 1369.9l6.5 6.5l-6.5 6.5l-6.5 -6.5zM1247.3 1351.3l6.5 6.5l-6.5 6.5l-6.5 -6.5zM1282.2 1359.4l6.5 6.5l-6.5 6.5l-6.5 -6.5zM1317.1 1364.5l6.5 6.5l-6.5 6.5l-6.5 -6.5z" fill="#5189CC" stroke="#5189CC" stroke-width="1.8" stroke-linejoin="round"/>
</svg>
<rect x="1157.3" y="1336.9" width="180" height="95.9" class="bd"/>
<rect x="1157.3" y="1304.9" width="180" height="30" class="st"/>
<text transform="translate(1247.6,1325.8) scale(1,1.04)" font-size="16.7" fill="#111" stroke="#111" text-anchor="middle" class="stt">TUBB (#DEG=48)</text>
<path d="M1177.5 1433.6v5.6M1212.4 1433.6v5.6M1247.3 1433.6v5.6M1282.2 1433.6v5.6M1317.1 1433.6v5.6" class="tk"/>
<text transform="translate(1184,1450.3) rotate(-45) scale(1,1.04)" font-size="13.0" fill="#404040" stroke="#404040" text-anchor="end" class="g">TUBB_10</text>
<text transform="translate(1218.9,1450.3) rotate(-45) scale(1,1.04)" font-size="13.0" fill="#404040" stroke="#404040" text-anchor="end" class="g">TUBB_03</text>
<text transform="translate(1253.8,1450.3) rotate(-45) scale(1,1.04)" font-size="13.0" fill="#404040" stroke="#404040" text-anchor="end" class="g">TUBB_00</text>
<text transform="translate(1288.7,1450.3) rotate(-45) scale(1,1.04)" font-size="13.0" fill="#404040" stroke="#404040" text-anchor="end" class="g">TUBB_01</text>
<text transform="translate(1323.6,1450.3) rotate(-45) scale(1,1.04)" font-size="13.0" fill="#404040" stroke="#404040" text-anchor="end" class="g">TUBB_06</text>
<path d="M1156.5 1357.7h-5.6M1156.5 1389.8h-5.6M1156.5 1421.9h-5.6" class="tk"/>
<text transform="translate(1147.4,1363.3) scale(1,1.04)" font-size="13.4" fill="#404040" stroke="#404040" text-anchor="end" class="g">2</text>
<text transform="translate(1147.4,1395.4) scale(1,1.04)" font-size="13.4" fill="#404040" stroke="#404040" text-anchor="end" class="g">1</text>
<text transform="translate(1147.4,1427.5) scale(1,1.04)" font-size="13.4" fill="#404040" stroke="#404040" text-anchor="end" class="g">0</text>
<svg x="1349.3" y="1336.9" width="180" height="95.9" viewBox="1349.3 1336.9 180 95.9">
<path d="M1349.3 1438H1529.3M1349.3 1405.9H1529.3M1349.3 1373.8H1529.3M1349.3 1341.7H1529.3" stroke="#EBEBEB" stroke-width="1.8" fill="none"/>
<path d="M1349.3 1421.9H1529.3M1349.3 1389.8H1529.3M1349.3 1357.7H1529.3M1369.5 1336.9V1432.8M1404.4 1336.9V1432.8M1439.3 1336.9V1432.8M1474.2 1336.9V1432.8M1509.1 1336.9V1432.8" stroke="#EBEBEB" stroke-width="3.4" fill="none"/>
<polyline points="1369.5,1418.7 1404.4,1410.9 1439.3,1401.6 1474.2,1399.5 1509.1,1389.6" stroke="#000" class="cl"/>
<path d="M1369.5 1418.7h0M1404.4 1410.9h0M1439.3 1401.6h0M1474.2 1399.5h0M1509.1 1389.6h0" stroke="#000" class="cp"/>
<polyline points="1369.5,1399.5 1404.4,1381.5 1439.3,1369.2 1474.2,1367.7 1509.1,1357.8" stroke="#5189CC" class="cl"/>
<path d="M1369.5 1393l6.5 6.5l-6.5 6.5l-6.5 -6.5zM1404.4 1375l6.5 6.5l-6.5 6.5l-6.5 -6.5zM1439.3 1362.7l6.5 6.5l-6.5 6.5l-6.5 -6.5zM1474.2 1361.2l6.5 6.5l-6.5 6.5l-6.5 -6.5zM1509.1 1351.3l6.5 6.5l-6.5 6.5l-6.5 -6.5z" fill="#5189CC" stroke="#5189CC" stroke-width="1.8" stroke-linejoin="round"/>
</svg>
<rect x="1349.3" y="1336.9" width="180" height="95.9" class="bd"/>
<rect x="1349.3" y="1304.9" width="180" height="30" class="st"/>
<text transform="translate(1439.6,1325.8) scale(1,1.04)" font-size="16.7" fill="#111" stroke="#111" text-anchor="middle" class="stt">HSPE1 (#DEG=139)</text>
<path d="M1369.5 1433.6v5.6M1404.4 1433.6v5.6M1439.3 1433.6v5.6M1474.2 1433.6v5.6M1509.1 1433.6v5.6" class="tk"/>
<text transform="translate(1376,1450.3) rotate(-45) scale(1,1.04)" font-size="13.0" fill="#404040" stroke="#404040" text-anchor="end" class="g">HSPE1_14</text>
<text transform="translate(1410.9,1450.3) rotate(-45) scale(1,1.04)" font-size="13.0" fill="#404040" stroke="#404040" text-anchor="end" class="g">HSPE1_02</text>
<text transform="translate(1445.8,1450.3) rotate(-45) scale(1,1.04)" font-size="13.0" fill="#404040" stroke="#404040" text-anchor="end" class="g">HSPE1_03</text>
<text transform="translate(1480.7,1450.3) rotate(-45) scale(1,1.04)" font-size="13.0" fill="#404040" stroke="#404040" text-anchor="end" class="g">HSPE1_01</text>
<text transform="translate(1515.6,1450.3) rotate(-45) scale(1,1.04)" font-size="13.0" fill="#404040" stroke="#404040" text-anchor="end" class="g">HSPE1_00</text>
<svg x="1541.3" y="1336.9" width="180" height="95.9" viewBox="1541.3 1336.9 180 95.9">
<path d="M1541.3 1438H1721.3M1541.3 1405.9H1721.3M1541.3 1373.8H1721.3M1541.3 1341.7H1721.3" stroke="#EBEBEB" stroke-width="1.8" fill="none"/>
<path d="M1541.3 1421.9H1721.3M1541.3 1389.8H1721.3M1541.3 1357.7H1721.3M1561.5 1336.9V1432.8M1596.4 1336.9V1432.8M1631.3 1336.9V1432.8M1666.2 1336.9V1432.8M1701.1 1336.9V1432.8" stroke="#EBEBEB" stroke-width="3.4" fill="none"/>
<polyline points="1561.5,1422.9 1596.4,1411.2 1631.3,1396.5 1666.2,1395.3 1701.1,1393.2" stroke="#000" class="cl"/>
<path d="M1561.5 1422.9h0M1596.4 1411.2h0M1631.3 1396.5h0M1666.2 1395.3h0M1701.1 1393.2h0" stroke="#000" class="cp"/>
<polyline points="1561.5,1415.1 1596.4,1381.5 1631.3,1349.9 1666.2,1357.8 1701.1,1360.5" stroke="#5189CC" class="cl"/>
<path d="M1561.5 1408.6l6.5 6.5l-6.5 6.5l-6.5 -6.5zM1596.4 1375l6.5 6.5l-6.5 6.5l-6.5 -6.5zM1631.3 1343.4l6.5 6.5l-6.5 6.5l-6.5 -6.5zM1666.2 1351.3l6.5 6.5l-6.5 6.5l-6.5 -6.5zM1701.1 1354l6.5 6.5l-6.5 6.5l-6.5 -6.5z" fill="#5189CC" stroke="#5189CC" stroke-width="1.8" stroke-linejoin="round"/>
</svg>
<rect x="1541.3" y="1336.9" width="180" height="95.9" class="bd"/>
<rect x="1541.3" y="1304.9" width="180" height="30" class="st"/>
<text transform="translate(1631.6,1325.8) scale(1,1.04)" font-size="16.7" fill="#111" stroke="#111" text-anchor="middle" class="stt">DBR1 (#DEG=139)</text>
<path d="M1561.5 1433.6v5.6M1596.4 1433.6v5.6M1631.3 1433.6v5.6M1666.2 1433.6v5.6M1701.1 1433.6v5.6" class="tk"/>
<text transform="translate(1568,1450.3) rotate(-45) scale(1,1.04)" font-size="13.0" fill="#404040" stroke="#404040" text-anchor="end" class="g">DBR1_08</text>
<text transform="translate(1602.9,1450.3) rotate(-45) scale(1,1.04)" font-size="13.0" fill="#404040" stroke="#404040" text-anchor="end" class="g">DBR1_05</text>
<text transform="translate(1637.8,1450.3) rotate(-45) scale(1,1.04)" font-size="13.0" fill="#404040" stroke="#404040" text-anchor="end" class="g">DBR1_01</text>
<text transform="translate(1672.7,1450.3) rotate(-45) scale(1,1.04)" font-size="13.0" fill="#404040" stroke="#404040" text-anchor="end" class="g">DBR1_00</text>
<text transform="translate(1707.6,1450.3) rotate(-45) scale(1,1.04)" font-size="13.0" fill="#404040" stroke="#404040" text-anchor="end" class="g">DBR1_07</text>
<svg x="1733.3" y="1336.9" width="180" height="95.9" viewBox="1733.3 1336.9 180 95.9">
<path d="M1733.3 1438H1913.3M1733.3 1405.9H1913.3M1733.3 1373.8H1913.3M1733.3 1341.7H1913.3" stroke="#EBEBEB" stroke-width="1.8" fill="none"/>
<path d="M1733.3 1421.9H1913.3M1733.3 1389.8H1913.3M1733.3 1357.7H1913.3M1753.5 1336.9V1432.8M1788.4 1336.9V1432.8M1823.3 1336.9V1432.8M1858.2 1336.9V1432.8M1893.1 1336.9V1432.8" stroke="#EBEBEB" stroke-width="3.4" fill="none"/>
<polyline points="1753.5,1428.3 1788.4,1427.7 1823.3,1374.6 1858.2,1369.5 1893.1,1351.4" stroke="#000" class="cl"/>
<path d="M1753.5 1428.3h0M1788.4 1427.7h0M1823.3 1374.6h0M1858.2 1369.5h0M1893.1 1351.4h0" stroke="#000" class="cp"/>
<polyline points="1753.5,1421.1 1788.4,1424.4 1823.3,1368 1858.2,1369.2 1893.1,1358.1" stroke="#5189CC" class="cl"/>
<path d="M1753.5 1414.6l6.5 6.5l-6.5 6.5l-6.5 -6.5zM1788.4 1417.9l6.5 6.5l-6.5 6.5l-6.5 -6.5zM1823.3 1361.5l6.5 6.5l-6.5 6.5l-6.5 -6.5zM1858.2 1362.7l6.5 6.5l-6.5 6.5l-6.5 -6.5zM1893.1 1351.6l6.5 6.5l-6.5 6.5l-6.5 -6.5z" fill="#5189CC" stroke="#5189CC" stroke-width="1.8" stroke-linejoin="round"/>
</svg>
<rect x="1733.3" y="1336.9" width="180" height="95.9" class="bd"/>
<rect x="1733.3" y="1304.9" width="180" height="30" class="st"/>
<text transform="translate(1823.6,1325.8) scale(1,1.04)" font-size="16.7" fill="#111" stroke="#111" text-anchor="middle" class="stt">RPS15 (#DEG=149)</text>
<path d="M1753.5 1433.6v5.6M1788.4 1433.6v5.6M1823.3 1433.6v5.6M1858.2 1433.6v5.6M1893.1 1433.6v5.6" class="tk"/>
<text transform="translate(1760,1450.3) rotate(-45) scale(1,1.04)" font-size="13.0" fill="#404040" stroke="#404040" text-anchor="end" class="g">RPS15_01</text>
<text transform="translate(1794.9,1450.3) rotate(-45) scale(1,1.04)" font-size="13.0" fill="#404040" stroke="#404040" text-anchor="end" class="g">RPS15_12</text>
<text transform="translate(1829.8,1450.3) rotate(-45) scale(1,1.04)" font-size="13.0" fill="#404040" stroke="#404040" text-anchor="end" class="g">RPS15_02</text>
<text transform="translate(1864.7,1450.3) rotate(-45) scale(1,1.04)" font-size="13.0" fill="#404040" stroke="#404040" text-anchor="end" class="g">RPS15_07</text>
<text transform="translate(1899.6,1450.3) rotate(-45) scale(1,1.04)" font-size="13.0" fill="#404040" stroke="#404040" text-anchor="end" class="g">RPS15_00</text>
<svg x="1925.3" y="1336.9" width="180" height="95.9" viewBox="1925.3 1336.9 180 95.9">
<path d="M1925.3 1438H2105.3M1925.3 1405.9H2105.3M1925.3 1373.8H2105.3M1925.3 1341.7H2105.3" stroke="#EBEBEB" stroke-width="1.8" fill="none"/>
<path d="M1925.3 1421.9H2105.3M1925.3 1389.8H2105.3M1925.3 1357.7H2105.3M1945.5 1336.9V1432.8M1980.4 1336.9V1432.8M2015.3 1336.9V1432.8M2050.2 1336.9V1432.8M2085.1 1336.9V1432.8" stroke="#EBEBEB" stroke-width="3.4" fill="none"/>
<polyline points="1945.5,1419 1980.4,1405.2 2015.3,1402.2 2050.2,1402.2 2085.1,1400.4" stroke="#000" class="cl"/>
<path d="M1945.5 1419h0M1980.4 1405.2h0M2015.3 1402.2h0M2050.2 1402.2h0M2085.1 1400.4h0" stroke="#000" class="cp"/>
<polyline points="1945.5,1389.9 1980.4,1371.9 2015.3,1357.8 2050.2,1362 2085.1,1363.8" stroke="#5189CC" class="cl"/>
<path d="M1945.5 1383.4l6.5 6.5l-6.5 6.5l-6.5 -6.5zM1980.4 1365.4l6.5 6.5l-6.5 6.5l-6.5 -6.5zM2015.3 1351.3l6.5 6.5l-6.5 6.5l-6.5 -6.5zM2050.2 1355.5l6.5 6.5l-6.5 6.5l-6.5 -6.5zM2085.1 1357.3l6.5 6.5l-6.5 6.5l-6.5 -6.5z" fill="#5189CC" stroke="#5189CC" stroke-width="1.8" stroke-linejoin="round"/>
</svg>
<rect x="1925.3" y="1336.9" width="180" height="95.9" class="bd"/>
<rect x="1925.3" y="1304.9" width="180" height="30" class="st"/>
<text transform="translate(2015.6,1325.8) scale(1,1.04)" font-size="16.7" fill="#111" stroke="#111" text-anchor="middle" class="stt">DUT (#DEG=333)</text>
<path d="M1945.5 1433.6v5.6M1980.4 1433.6v5.6M2015.3 1433.6v5.6M2050.2 1433.6v5.6M2085.1 1433.6v5.6" class="tk"/>
<text transform="translate(1952,1450.3) rotate(-45) scale(1,1.04)" font-size="13.0" fill="#404040" stroke="#404040" text-anchor="end" class="g">DUT_10</text>
<text transform="translate(1986.9,1450.3) rotate(-45) scale(1,1.04)" font-size="13.0" fill="#404040" stroke="#404040" text-anchor="end" class="g">DUT_07</text>
<text transform="translate(2021.8,1450.3) rotate(-45) scale(1,1.04)" font-size="13.0" fill="#404040" stroke="#404040" text-anchor="end" class="g">DUT_00</text>
<text transform="translate(2056.7,1450.3) rotate(-45) scale(1,1.04)" font-size="13.0" fill="#404040" stroke="#404040" text-anchor="end" class="g">DUT_01</text>
<text transform="translate(2091.6,1450.3) rotate(-45) scale(1,1.04)" font-size="13.0" fill="#404040" stroke="#404040" text-anchor="end" class="g">DUT_08</text>
<path d="M2106.1 1357.7h5.6M2106.1 1389.8h5.6M2106.1 1421.9h5.6" class="tk"/>
<text transform="translate(2115.1,1363.3) scale(1,1.04)" font-size="13.4" fill="#4F7DBE" stroke="#4F7DBE">1</text>
<text transform="translate(2115.1,1395.4) scale(1,1.04)" font-size="13.4" fill="#4F7DBE" stroke="#4F7DBE">0.5</text>
<text transform="translate(2115.1,1427.5) scale(1,1.04)" font-size="13.4" fill="#4F7DBE" stroke="#4F7DBE">0</text>
<svg x="1157.3" y="1539.8" width="180" height="95.9" viewBox="1157.3 1539.8 180 95.9">
<path d="M1157.3 1640.8H1337.3M1157.3 1608.8H1337.3M1157.3 1576.6H1337.3M1157.3 1544.5H1337.3" stroke="#EBEBEB" stroke-width="1.8" fill="none"/>
<path d="M1157.3 1624.8H1337.3M1157.3 1592.7H1337.3M1157.3 1560.6H1337.3M1177.5 1539.8V1635.7M1212.4 1539.8V1635.7M1247.3 1539.8V1635.7M1282.2 1539.8V1635.7M1317.1 1539.8V1635.7" stroke="#EBEBEB" stroke-width="3.4" fill="none"/>
<polyline points="1177.5,1630.3 1212.4,1611.4 1247.3,1605.1 1282.2,1602.1 1317.1,1595.2" stroke="#000" class="cl"/>
<path d="M1177.5 1630.3h0M1212.4 1611.4h0M1247.3 1605.1h0M1282.2 1602.1h0M1317.1 1595.2h0" stroke="#000" class="cp"/>
<polyline points="1177.5,1598.2 1212.4,1590.7 1247.3,1585.6 1282.2,1570.6 1317.1,1560.7" stroke="#5189CC" class="cl"/>
<path d="M1177.5 1591.7l6.5 6.5l-6.5 6.5l-6.5 -6.5zM1212.4 1584.2l6.5 6.5l-6.5 6.5l-6.5 -6.5zM1247.3 1579.1l6.5 6.5l-6.5 6.5l-6.5 -6.5zM1282.2 1564.1l6.5 6.5l-6.5 6.5l-6.5 -6.5zM1317.1 1554.2l6.5 6.5l-6.5 6.5l-6.5 -6.5z" fill="#5189CC" stroke="#5189CC" stroke-width="1.8" stroke-linejoin="round"/>
</svg>
<rect x="1157.3" y="1539.8" width="180" height="95.9" class="bd"/>
<rect x="1157.3" y="1507.8" width="180" height="30" class="st"/>
<text transform="translate(1247.6,1528.7) scale(1,1.04)" font-size="16.7" fill="#111" stroke="#111" text-anchor="middle" class="stt">MTOR (#DEG=553)</text>
<path d="M1177.5 1636.5v5.6M1212.4 1636.5v5.6M1247.3 1636.5v5.6M1282.2 1636.5v5.6M1317.1 1636.5v5.6" class="tk"/>
<text transform="translate(1184,1653.2) rotate(-45) scale(1,1.04)" font-size="13.0" fill="#404040" stroke="#404040" text-anchor="end" class="g">MTOR_10</text>
<text transform="translate(1218.9,1653.2) rotate(-45) scale(1,1.04)" font-size="13.0" fill="#404040" stroke="#404040" text-anchor="end" class="g">MTOR_06</text>
<text transform="translate(1253.8,1653.2) rotate(-45) scale(1,1.04)" font-size="13.0" fill="#404040" stroke="#404040" text-anchor="end" class="g">MTOR_05</text>
<text transform="translate(1288.7,1653.2) rotate(-45) scale(1,1.04)" font-size="13.0" fill="#404040" stroke="#404040" text-anchor="end" class="g">MTOR_07</text>
<text transform="translate(1323.6,1653.2) rotate(-45) scale(1,1.04)" font-size="13.0" fill="#404040" stroke="#404040" text-anchor="end" class="g">MTOR_00</text>
<path d="M1156.5 1560.6h-5.6M1156.5 1592.7h-5.6M1156.5 1624.8h-5.6" class="tk"/>
<text transform="translate(1147.4,1566.2) scale(1,1.04)" font-size="13.4" fill="#404040" stroke="#404040" text-anchor="end" class="g">2</text>
<text transform="translate(1147.4,1598.3) scale(1,1.04)" font-size="13.4" fill="#404040" stroke="#404040" text-anchor="end" class="g">1</text>
<text transform="translate(1147.4,1630.4) scale(1,1.04)" font-size="13.4" fill="#404040" stroke="#404040" text-anchor="end" class="g">0</text>
<svg x="1349.3" y="1539.8" width="180" height="95.9" viewBox="1349.3 1539.8 180 95.9">
<path d="M1349.3 1640.8H1529.3M1349.3 1608.8H1529.3M1349.3 1576.6H1529.3M1349.3 1544.5H1529.3" stroke="#EBEBEB" stroke-width="1.8" fill="none"/>
<path d="M1349.3 1624.8H1529.3M1349.3 1592.7H1529.3M1349.3 1560.6H1529.3M1369.5 1539.8V1635.7M1404.4 1539.8V1635.7M1439.3 1539.8V1635.7M1474.2 1539.8V1635.7M1509.1 1539.8V1635.7" stroke="#EBEBEB" stroke-width="3.4" fill="none"/>
<polyline points="1369.5,1622.2 1404.4,1620.1 1439.3,1609 1474.2,1571.2 1509.1,1568.2" stroke="#000" class="cl"/>
<path d="M1369.5 1622.2h0M1404.4 1620.1h0M1439.3 1609h0M1474.2 1571.2h0M1509.1 1568.2h0" stroke="#000" class="cp"/>
<polyline points="1369.5,1610.8 1404.4,1601.8 1439.3,1591.3 1474.2,1570.3 1509.1,1560.1" stroke="#5189CC" class="cl"/>
<path d="M1369.5 1604.3l6.5 6.5l-6.5 6.5l-6.5 -6.5zM1404.4 1595.3l6.5 6.5l-6.5 6.5l-6.5 -6.5zM1439.3 1584.8l6.5 6.5l-6.5 6.5l-6.5 -6.5zM1474.2 1563.8l6.5 6.5l-6.5 6.5l-6.5 -6.5zM1509.1 1553.6l6.5 6.5l-6.5 6.5l-6.5 -6.5z" fill="#5189CC" stroke="#5189CC" stroke-width="1.8" stroke-linejoin="round"/>
</svg>
<rect x="1349.3" y="1539.8" width="180" height="95.9" class="bd"/>
<rect x="1349.3" y="1507.8" width="180" height="30" class="st"/>
<text transform="translate(1439.6,1528.7) scale(1,1.04)" font-size="16.7" fill="#111" stroke="#111" text-anchor="middle" class="stt">POLR2H (#DEG=739)</text>
<path d="M1369.5 1636.5v5.6M1404.4 1636.5v5.6M1439.3 1636.5v5.6M1474.2 1636.5v5.6M1509.1 1636.5v5.6" class="tk"/>
<text transform="translate(1376,1653.2) rotate(-45) scale(1,1.04)" font-size="13.0" fill="#404040" stroke="#404040" text-anchor="end" class="g">POLR2H_07</text>
<text transform="translate(1410.9,1653.2) rotate(-45) scale(1,1.04)" font-size="13.0" fill="#404040" stroke="#404040" text-anchor="end" class="g">POLR2H_12</text>
<text transform="translate(1445.8,1653.2) rotate(-45) scale(1,1.04)" font-size="13.0" fill="#404040" stroke="#404040" text-anchor="end" class="g">POLR2H_08</text>
<text transform="translate(1480.7,1653.2) rotate(-45) scale(1,1.04)" font-size="13.0" fill="#404040" stroke="#404040" text-anchor="end" class="g">POLR2H_11</text>
<text transform="translate(1515.6,1653.2) rotate(-45) scale(1,1.04)" font-size="13.0" fill="#404040" stroke="#404040" text-anchor="end" class="g">POLR2H_00</text>
<svg x="1541.3" y="1539.8" width="180" height="95.9" viewBox="1541.3 1539.8 180 95.9">
<path d="M1541.3 1640.8H1721.3M1541.3 1608.8H1721.3M1541.3 1576.6H1721.3M1541.3 1544.5H1721.3" stroke="#EBEBEB" stroke-width="1.8" fill="none"/>
<path d="M1541.3 1624.8H1721.3M1541.3 1592.7H1721.3M1541.3 1560.6H1721.3M1561.5 1539.8V1635.7M1596.4 1539.8V1635.7M1631.3 1539.8V1635.7M1666.2 1539.8V1635.7M1701.1 1539.8V1635.7" stroke="#EBEBEB" stroke-width="3.4" fill="none"/>
<polyline points="1561.5,1622.8 1596.4,1609.6 1631.3,1592.5 1666.2,1589.2 1701.1,1575.4" stroke="#000" class="cl"/>
<path d="M1561.5 1622.8h0M1596.4 1609.6h0M1631.3 1592.5h0M1666.2 1589.2h0M1701.1 1575.4h0" stroke="#000" class="cp"/>
<polyline points="1561.5,1614.7 1596.4,1604.2 1631.3,1583.5 1666.2,1576.3 1701.1,1560.4" stroke="#5189CC" class="cl"/>
<path d="M1561.5 1608.2l6.5 6.5l-6.5 6.5l-6.5 -6.5zM1596.4 1597.7l6.5 6.5l-6.5 6.5l-6.5 -6.5zM1631.3 1577l6.5 6.5l-6.5 6.5l-6.5 -6.5zM1666.2 1569.8l6.5 6.5l-6.5 6.5l-6.5 -6.5zM1701.1 1553.9l6.5 6.5l-6.5 6.5l-6.5 -6.5z" fill="#5189CC" stroke="#5189CC" stroke-width="1.8" stroke-linejoin="round"/>
</svg>
<rect x="1541.3" y="1539.8" width="180" height="95.9" class="bd"/>
<rect x="1541.3" y="1507.8" width="180" height="30" class="st"/>
<text transform="translate(1631.6,1528.7) scale(1,1.04)" font-size="16.7" fill="#111" stroke="#111" text-anchor="middle" class="stt">RPS18 (#DEG=776)</text>
<path d="M1561.5 1636.5v5.6M1596.4 1636.5v5.6M1631.3 1636.5v5.6M1666.2 1636.5v5.6M1701.1 1636.5v5.6" class="tk"/>
<text transform="translate(1568,1653.2) rotate(-45) scale(1,1.04)" font-size="13.0" fill="#404040" stroke="#404040" text-anchor="end" class="g">RPS18_04</text>
<text transform="translate(1602.9,1653.2) rotate(-45) scale(1,1.04)" font-size="13.0" fill="#404040" stroke="#404040" text-anchor="end" class="g">RPS18_08</text>
<text transform="translate(1637.8,1653.2) rotate(-45) scale(1,1.04)" font-size="13.0" fill="#404040" stroke="#404040" text-anchor="end" class="g">RPS18_02</text>
<text transform="translate(1672.7,1653.2) rotate(-45) scale(1,1.04)" font-size="13.0" fill="#404040" stroke="#404040" text-anchor="end" class="g">RPS18_01</text>
<text transform="translate(1707.6,1653.2) rotate(-45) scale(1,1.04)" font-size="13.0" fill="#404040" stroke="#404040" text-anchor="end" class="g">RPS18_00</text>
<svg x="1733.3" y="1539.8" width="180" height="95.9" viewBox="1733.3 1539.8 180 95.9">
<path d="M1733.3 1640.8H1913.3M1733.3 1608.8H1913.3M1733.3 1576.6H1913.3M1733.3 1544.5H1913.3" stroke="#EBEBEB" stroke-width="1.8" fill="none"/>
<path d="M1733.3 1624.8H1913.3M1733.3 1592.7H1913.3M1733.3 1560.6H1913.3M1753.5 1539.8V1635.7M1788.4 1539.8V1635.7M1823.3 1539.8V1635.7M1858.2 1539.8V1635.7M1893.1 1539.8V1635.7" stroke="#EBEBEB" stroke-width="3.4" fill="none"/>
<polyline points="1753.5,1623.7 1788.4,1609 1823.3,1599.4 1858.2,1594.9 1893.1,1593.4" stroke="#000" class="cl"/>
<path d="M1753.5 1623.7h0M1788.4 1609h0M1823.3 1599.4h0M1858.2 1594.9h0M1893.1 1593.4h0" stroke="#000" class="cp"/>
<polyline points="1753.5,1611.4 1788.4,1591.3 1823.3,1585.6 1858.2,1578.7 1893.1,1560.7" stroke="#5189CC" class="cl"/>
<path d="M1753.5 1604.9l6.5 6.5l-6.5 6.5l-6.5 -6.5zM1788.4 1584.8l6.5 6.5l-6.5 6.5l-6.5 -6.5zM1823.3 1579.1l6.5 6.5l-6.5 6.5l-6.5 -6.5zM1858.2 1572.2l6.5 6.5l-6.5 6.5l-6.5 -6.5zM1893.1 1554.2l6.5 6.5l-6.5 6.5l-6.5 -6.5z" fill="#5189CC" stroke="#5189CC" stroke-width="1.8" stroke-linejoin="round"/>
</svg>
<rect x="1733.3" y="1539.8" width="180" height="95.9" class="bd"/>
<rect x="1733.3" y="1507.8" width="180" height="30" class="st"/>
<text transform="translate(1823.6,1528.7) scale(1,1.04)" font-size="16.7" fill="#111" stroke="#111" text-anchor="middle" class="stt">SEC61A1 (#DEG=793)</text>
<path d="M1753.5 1636.5v5.6M1788.4 1636.5v5.6M1823.3 1636.5v5.6M1858.2 1636.5v5.6M1893.1 1636.5v5.6" class="tk"/>
<text transform="translate(1760,1653.2) rotate(-45) scale(1,1.04)" font-size="13.0" fill="#404040" stroke="#404040" text-anchor="end" class="g">SEC61A1_04</text>
<text transform="translate(1794.9,1653.2) rotate(-45) scale(1,1.04)" font-size="13.0" fill="#404040" stroke="#404040" text-anchor="end" class="g">SEC61A1_01</text>
<text transform="translate(1829.8,1653.2) rotate(-45) scale(1,1.04)" font-size="13.0" fill="#404040" stroke="#404040" text-anchor="end" class="g">SEC61A1_03</text>
<text transform="translate(1864.7,1653.2) rotate(-45) scale(1,1.04)" font-size="13.0" fill="#404040" stroke="#404040" text-anchor="end" class="g">SEC61A1_02</text>
<text transform="translate(1899.6,1653.2) rotate(-45) scale(1,1.04)" font-size="13.0" fill="#404040" stroke="#404040" text-anchor="end" class="g">SEC61A1_00</text>
<svg x="1925.3" y="1539.8" width="180" height="95.9" viewBox="1925.3 1539.8 180 95.9">
<path d="M1925.3 1640.8H2105.3M1925.3 1608.8H2105.3M1925.3 1576.6H2105.3M1925.3 1544.5H2105.3" stroke="#EBEBEB" stroke-width="1.8" fill="none"/>
<path d="M1925.3 1624.8H2105.3M1925.3 1592.7H2105.3M1925.3 1560.6H2105.3M1945.5 1539.8V1635.7M1980.4 1539.8V1635.7M2015.3 1539.8V1635.7M2050.2 1539.8V1635.7M2085.1 1539.8V1635.7" stroke="#EBEBEB" stroke-width="3.4" fill="none"/>
<polyline points="1945.5,1623.4 1980.4,1610.8 2015.3,1607.2 2050.2,1594.6 2085.1,1588.9" stroke="#000" class="cl"/>
<path d="M1945.5 1623.4h0M1980.4 1610.8h0M2015.3 1607.2h0M2050.2 1594.6h0M2085.1 1588.9h0" stroke="#000" class="cp"/>
<polyline points="1945.5,1598.2 1980.4,1581.1 2015.3,1567.3 2050.2,1558 2085.1,1560.4" stroke="#5189CC" class="cl"/>
<path d="M1945.5 1591.7l6.5 6.5l-6.5 6.5l-6.5 -6.5zM1980.4 1574.6l6.5 6.5l-6.5 6.5l-6.5 -6.5zM2015.3 1560.8l6.5 6.5l-6.5 6.5l-6.5 -6.5zM2050.2 1551.5l6.5 6.5l-6.5 6.5l-6.5 -6.5zM2085.1 1553.9l6.5 6.5l-6.5 6.5l-6.5 -6.5z" fill="#5189CC" stroke="#5189CC" stroke-width="1.8" stroke-linejoin="round"/>
</svg>
<rect x="1925.3" y="1539.8" width="180" height="95.9" class="bd"/>
<rect x="1925.3" y="1507.8" width="180" height="30" class="st"/>
<text transform="translate(2015.6,1528.7) scale(1,1.04)" font-size="16.7" fill="#111" stroke="#111" text-anchor="middle" class="stt">GNB2L1 (#DEG=798)</text>
<path d="M1945.5 1636.5v5.6M1980.4 1636.5v5.6M2015.3 1636.5v5.6M2050.2 1636.5v5.6M2085.1 1636.5v5.6" class="tk"/>
<text transform="translate(1952,1653.2) rotate(-45) scale(1,1.04)" font-size="13.0" fill="#404040" stroke="#404040" text-anchor="end" class="g">GNB2L1_02</text>
<text transform="translate(1986.9,1653.2) rotate(-45) scale(1,1.04)" font-size="13.0" fill="#404040" stroke="#404040" text-anchor="end" class="g">GNB2L1_13</text>
<text transform="translate(2021.8,1653.2) rotate(-45) scale(1,1.04)" font-size="13.0" fill="#404040" stroke="#404040" text-anchor="end" class="g">GNB2L1_07</text>
<text transform="translate(2056.7,1653.2) rotate(-45) scale(1,1.04)" font-size="13.0" fill="#404040" stroke="#404040" text-anchor="end" class="g">GNB2L1_08</text>
<text transform="translate(2091.6,1653.2) rotate(-45) scale(1,1.04)" font-size="13.0" fill="#404040" stroke="#404040" text-anchor="end" class="g">GNB2L1_00</text>
<path d="M2106.1 1560.6h5.6M2106.1 1592.7h5.6M2106.1 1624.8h5.6" class="tk"/>
<text transform="translate(2115.1,1566.2) scale(1,1.04)" font-size="13.4" fill="#4F7DBE" stroke="#4F7DBE">1</text>
<text transform="translate(2115.1,1598.3) scale(1,1.04)" font-size="13.4" fill="#4F7DBE" stroke="#4F7DBE">0.5</text>
<text transform="translate(2115.1,1630.4) scale(1,1.04)" font-size="13.4" fill="#4F7DBE" stroke="#4F7DBE">0</text>
<svg x="1157.3" y="1753.4" width="180" height="95.9" viewBox="1157.3 1753.4 180 95.9">
<path d="M1157.3 1854.5H1337.3M1157.3 1822.4H1337.3M1157.3 1790.2H1337.3M1157.3 1758.2H1337.3" stroke="#EBEBEB" stroke-width="1.8" fill="none"/>
<path d="M1157.3 1838.4H1337.3M1157.3 1806.3H1337.3M1157.3 1774.2H1337.3M1177.5 1753.4V1849.3M1212.4 1753.4V1849.3M1247.3 1753.4V1849.3M1282.2 1753.4V1849.3M1317.1 1753.4V1849.3" stroke="#EBEBEB" stroke-width="3.4" fill="none"/>
<polyline points="1177.5,1836.4 1212.4,1823.2 1247.3,1808.5 1282.2,1795.9 1317.1,1794.1" stroke="#000" class="cl"/>
<path d="M1177.5 1836.4h0M1212.4 1823.2h0M1247.3 1808.5h0M1282.2 1795.9h0M1317.1 1794.1h0" stroke="#000" class="cp"/>
<polyline points="1177.5,1820.2 1212.4,1807.6 1247.3,1794.1 1282.2,1774.3 1317.1,1783.6" stroke="#5189CC" class="cl"/>
<path d="M1177.5 1813.7l6.5 6.5l-6.5 6.5l-6.5 -6.5zM1212.4 1801.1l6.5 6.5l-6.5 6.5l-6.5 -6.5zM1247.3 1787.6l6.5 6.5l-6.5 6.5l-6.5 -6.5zM1282.2 1767.8l6.5 6.5l-6.5 6.5l-6.5 -6.5zM1317.1 1777.1l6.5 6.5l-6.5 6.5l-6.5 -6.5z" fill="#5189CC" stroke="#5189CC" stroke-width="1.8" stroke-linejoin="round"/>
</svg>
<rect x="1157.3" y="1753.4" width="180" height="95.9" class="bd"/>
<rect x="1157.3" y="1721.4" width="180" height="30" class="st"/>
<text transform="translate(1247.6,1742.3) scale(1,1.04)" font-size="16.7" fill="#111" stroke="#111" text-anchor="middle" class="stt">HSPA9 (#DEG=863)</text>
<path d="M1177.5 1850.1v5.6M1212.4 1850.1v5.6M1247.3 1850.1v5.6M1282.2 1850.1v5.6M1317.1 1850.1v5.6" class="tk"/>
<text transform="translate(1184,1866.8) rotate(-45) scale(1,1.04)" font-size="13.0" fill="#404040" stroke="#404040" text-anchor="end" class="g">HSPA9_04</text>
<text transform="translate(1218.9,1866.8) rotate(-45) scale(1,1.04)" font-size="13.0" fill="#404040" stroke="#404040" text-anchor="end" class="g">HSPA9_08</text>
<text transform="translate(1253.8,1866.8) rotate(-45) scale(1,1.04)" font-size="13.0" fill="#404040" stroke="#404040" text-anchor="end" class="g">HSPA9_02</text>
<text transform="translate(1288.7,1866.8) rotate(-45) scale(1,1.04)" font-size="13.0" fill="#404040" stroke="#404040" text-anchor="end" class="g">HSPA9_00</text>
<text transform="translate(1323.6,1866.8) rotate(-45) scale(1,1.04)" font-size="13.0" fill="#404040" stroke="#404040" text-anchor="end" class="g">HSPA9_07</text>
<path d="M1156.5 1774.2h-5.6M1156.5 1806.3h-5.6M1156.5 1838.4h-5.6" class="tk"/>
<text transform="translate(1147.4,1779.8) scale(1,1.04)" font-size="13.4" fill="#404040" stroke="#404040" text-anchor="end" class="g">2</text>
<text transform="translate(1147.4,1811.9) scale(1,1.04)" font-size="13.4" fill="#404040" stroke="#404040" text-anchor="end" class="g">1</text>
<text transform="translate(1147.4,1844) scale(1,1.04)" font-size="13.4" fill="#404040" stroke="#404040" text-anchor="end" class="g">0</text>
<svg x="1349.3" y="1753.4" width="180" height="95.9" viewBox="1349.3 1753.4 180 95.9">
<path d="M1349.3 1854.5H1529.3M1349.3 1822.4H1529.3M1349.3 1790.2H1529.3M1349.3 1758.2H1529.3" stroke="#EBEBEB" stroke-width="1.8" fill="none"/>
<path d="M1349.3 1838.4H1529.3M1349.3 1806.3H1529.3M1349.3 1774.2H1529.3M1369.5 1753.4V1849.3M1404.4 1753.4V1849.3M1439.3 1753.4V1849.3M1474.2 1753.4V1849.3M1509.1 1753.4V1849.3" stroke="#EBEBEB" stroke-width="3.4" fill="none"/>
<polyline points="1369.5,1834.9 1404.4,1816.6 1439.3,1808.2 1474.2,1800.1 1509.1,1797.1" stroke="#000" class="cl"/>
<path d="M1369.5 1834.9h0M1404.4 1816.6h0M1439.3 1808.2h0M1474.2 1800.1h0M1509.1 1797.1h0" stroke="#000" class="cp"/>
<polyline points="1369.5,1822.9 1404.4,1808.5 1439.3,1794.1 1474.2,1774.3 1509.1,1779.4" stroke="#5189CC" class="cl"/>
<path d="M1369.5 1816.4l6.5 6.5l-6.5 6.5l-6.5 -6.5zM1404.4 1802l6.5 6.5l-6.5 6.5l-6.5 -6.5zM1439.3 1787.6l6.5 6.5l-6.5 6.5l-6.5 -6.5zM1474.2 1767.8l6.5 6.5l-6.5 6.5l-6.5 -6.5zM1509.1 1772.9l6.5 6.5l-6.5 6.5l-6.5 -6.5z" fill="#5189CC" stroke="#5189CC" stroke-width="1.8" stroke-linejoin="round"/>
</svg>
<rect x="1349.3" y="1753.4" width="180" height="95.9" class="bd"/>
<rect x="1349.3" y="1721.4" width="180" height="30" class="st"/>
<text transform="translate(1439.6,1742.3) scale(1,1.04)" font-size="16.7" fill="#111" stroke="#111" text-anchor="middle" class="stt">CAD (#DEG=921)</text>
<path d="M1369.5 1850.1v5.6M1404.4 1850.1v5.6M1439.3 1850.1v5.6M1474.2 1850.1v5.6M1509.1 1850.1v5.6" class="tk"/>
<text transform="translate(1376,1866.8) rotate(-45) scale(1,1.04)" font-size="13.0" fill="#404040" stroke="#404040" text-anchor="end" class="g">CAD_13</text>
<text transform="translate(1410.9,1866.8) rotate(-45) scale(1,1.04)" font-size="13.0" fill="#404040" stroke="#404040" text-anchor="end" class="g">CAD_06</text>
<text transform="translate(1445.8,1866.8) rotate(-45) scale(1,1.04)" font-size="13.0" fill="#404040" stroke="#404040" text-anchor="end" class="g">CAD_07</text>
<text transform="translate(1480.7,1866.8) rotate(-45) scale(1,1.04)" font-size="13.0" fill="#404040" stroke="#404040" text-anchor="end" class="g">CAD_00</text>
<text transform="translate(1515.6,1866.8) rotate(-45) scale(1,1.04)" font-size="13.0" fill="#404040" stroke="#404040" text-anchor="end" class="g">CAD_03</text>
<svg x="1541.3" y="1753.4" width="180" height="95.9" viewBox="1541.3 1753.4 180 95.9">
<path d="M1541.3 1854.5H1721.3M1541.3 1822.4H1721.3M1541.3 1790.2H1721.3M1541.3 1758.2H1721.3" stroke="#EBEBEB" stroke-width="1.8" fill="none"/>
<path d="M1541.3 1838.4H1721.3M1541.3 1806.3H1721.3M1541.3 1774.2H1721.3M1561.5 1753.4V1849.3M1596.4 1753.4V1849.3M1631.3 1753.4V1849.3M1666.2 1753.4V1849.3M1701.1 1753.4V1849.3" stroke="#EBEBEB" stroke-width="3.4" fill="none"/>
<polyline points="1561.5,1844.5 1596.4,1816.3 1631.3,1799.8 1666.2,1799.8 1701.1,1792" stroke="#000" class="cl"/>
<path d="M1561.5 1844.5h0M1596.4 1816.3h0M1631.3 1799.8h0M1666.2 1799.8h0M1701.1 1792h0" stroke="#000" class="cp"/>
<polyline points="1561.5,1833.1 1596.4,1800.7 1631.3,1793.2 1666.2,1781.5 1701.1,1774.3" stroke="#5189CC" class="cl"/>
<path d="M1561.5 1826.6l6.5 6.5l-6.5 6.5l-6.5 -6.5zM1596.4 1794.2l6.5 6.5l-6.5 6.5l-6.5 -6.5zM1631.3 1786.7l6.5 6.5l-6.5 6.5l-6.5 -6.5zM1666.2 1775l6.5 6.5l-6.5 6.5l-6.5 -6.5zM1701.1 1767.8l6.5 6.5l-6.5 6.5l-6.5 -6.5z" fill="#5189CC" stroke="#5189CC" stroke-width="1.8" stroke-linejoin="round"/>
</svg>
<rect x="1541.3" y="1753.4" width="180" height="95.9" class="bd"/>
<rect x="1541.3" y="1721.4" width="180" height="30" class="st"/>
<text transform="translate(1631.6,1742.3) scale(1,1.04)" font-size="16.7" fill="#111" stroke="#111" text-anchor="middle" class="stt">EIF2S1 (#DEG=935)</text>
<path d="M1561.5 1850.1v5.6M1596.4 1850.1v5.6M1631.3 1850.1v5.6M1666.2 1850.1v5.6M1701.1 1850.1v5.6" class="tk"/>
<text transform="translate(1568,1866.8) rotate(-45) scale(1,1.04)" font-size="13.0" fill="#404040" stroke="#404040" text-anchor="end" class="g">EIF2S1_07</text>
<text transform="translate(1602.9,1866.8) rotate(-45) scale(1,1.04)" font-size="13.0" fill="#404040" stroke="#404040" text-anchor="end" class="g">EIF2S1_01</text>
<text transform="translate(1637.8,1866.8) rotate(-45) scale(1,1.04)" font-size="13.0" fill="#404040" stroke="#404040" text-anchor="end" class="g">EIF2S1_06</text>
<text transform="translate(1672.7,1866.8) rotate(-45) scale(1,1.04)" font-size="13.0" fill="#404040" stroke="#404040" text-anchor="end" class="g">EIF2S1_02</text>
<text transform="translate(1707.6,1866.8) rotate(-45) scale(1,1.04)" font-size="13.0" fill="#404040" stroke="#404040" text-anchor="end" class="g">EIF2S1_00</text>
<svg x="1733.3" y="1753.4" width="180" height="95.9" viewBox="1733.3 1753.4 180 95.9">
<path d="M1733.3 1854.5H1913.3M1733.3 1822.4H1913.3M1733.3 1790.2H1913.3M1733.3 1758.2H1913.3" stroke="#EBEBEB" stroke-width="1.8" fill="none"/>
<path d="M1733.3 1838.4H1913.3M1733.3 1806.3H1913.3M1733.3 1774.2H1913.3M1753.5 1753.4V1849.3M1788.4 1753.4V1849.3M1823.3 1753.4V1849.3M1858.2 1753.4V1849.3M1893.1 1753.4V1849.3" stroke="#EBEBEB" stroke-width="3.4" fill="none"/>
<polyline points="1753.5,1837.9 1788.4,1814.8 1823.3,1811.2 1858.2,1810.3 1893.1,1808.5" stroke="#000" class="cl"/>
<path d="M1753.5 1837.9h0M1788.4 1814.8h0M1823.3 1811.2h0M1858.2 1810.3h0M1893.1 1808.5h0" stroke="#000" class="cp"/>
<polyline points="1753.5,1813 1788.4,1782.4 1823.3,1773.7 1858.2,1774.6 1893.1,1768" stroke="#5189CC" class="cl"/>
<path d="M1753.5 1806.5l6.5 6.5l-6.5 6.5l-6.5 -6.5zM1788.4 1775.9l6.5 6.5l-6.5 6.5l-6.5 -6.5zM1823.3 1767.2l6.5 6.5l-6.5 6.5l-6.5 -6.5zM1858.2 1768.1l6.5 6.5l-6.5 6.5l-6.5 -6.5zM1893.1 1761.5l6.5 6.5l-6.5 6.5l-6.5 -6.5z" fill="#5189CC" stroke="#5189CC" stroke-width="1.8" stroke-linejoin="round"/>
</svg>
<rect x="1733.3" y="1753.4" width="180" height="95.9" class="bd"/>
<rect x="1733.3" y="1721.4" width="180" height="30" class="st"/>
<text transform="translate(1823.6,1742.3) scale(1,1.04)" font-size="16.7" fill="#111" stroke="#111" text-anchor="middle" class="stt">POLR1D (#DEG=1020)</text>
<path d="M1753.5 1850.1v5.6M1788.4 1850.1v5.6M1823.3 1850.1v5.6M1858.2 1850.1v5.6M1893.1 1850.1v5.6" class="tk"/>
<text transform="translate(1760,1866.8) rotate(-45) scale(1,1.04)" font-size="13.0" fill="#404040" stroke="#404040" text-anchor="end" class="g">POLR1D_07</text>
<text transform="translate(1794.9,1866.8) rotate(-45) scale(1,1.04)" font-size="13.0" fill="#404040" stroke="#404040" text-anchor="end" class="g">POLR1D_01</text>
<text transform="translate(1829.8,1866.8) rotate(-45) scale(1,1.04)" font-size="13.0" fill="#404040" stroke="#404040" text-anchor="end" class="g">POLR1D_08</text>
<text transform="translate(1864.7,1866.8) rotate(-45) scale(1,1.04)" font-size="13.0" fill="#404040" stroke="#404040" text-anchor="end" class="g">POLR1D_00</text>
<text transform="translate(1899.6,1866.8) rotate(-45) scale(1,1.04)" font-size="13.0" fill="#404040" stroke="#404040" text-anchor="end" class="g">POLR1D_03</text>
<svg x="1925.3" y="1753.4" width="180" height="95.9" viewBox="1925.3 1753.4 180 95.9">
<path d="M1925.3 1854.5H2105.3M1925.3 1822.4H2105.3M1925.3 1790.2H2105.3M1925.3 1758.2H2105.3" stroke="#EBEBEB" stroke-width="1.8" fill="none"/>
<path d="M1925.3 1838.4H2105.3M1925.3 1806.3H2105.3M1925.3 1774.2H2105.3M1945.5 1753.4V1849.3M1980.4 1753.4V1849.3M2015.3 1753.4V1849.3M2050.2 1753.4V1849.3M2085.1 1753.4V1849.3" stroke="#EBEBEB" stroke-width="3.4" fill="none"/>
<polyline points="1945.5,1832.2 1980.4,1824.4 2015.3,1804.9 2050.2,1799.2 2085.1,1792" stroke="#000" class="cl"/>
<path d="M1945.5 1832.2h0M1980.4 1824.4h0M2015.3 1804.9h0M2050.2 1799.2h0M2085.1 1792h0" stroke="#000" class="cp"/>
<polyline points="1945.5,1818.1 1980.4,1810 2015.3,1801.9 2050.2,1791.1 2085.1,1774" stroke="#5189CC" class="cl"/>
<path d="M1945.5 1811.6l6.5 6.5l-6.5 6.5l-6.5 -6.5zM1980.4 1803.5l6.5 6.5l-6.5 6.5l-6.5 -6.5zM2015.3 1795.4l6.5 6.5l-6.5 6.5l-6.5 -6.5zM2050.2 1784.6l6.5 6.5l-6.5 6.5l-6.5 -6.5zM2085.1 1767.5l6.5 6.5l-6.5 6.5l-6.5 -6.5z" fill="#5189CC" stroke="#5189CC" stroke-width="1.8" stroke-linejoin="round"/>
</svg>
<rect x="1925.3" y="1753.4" width="180" height="95.9" class="bd"/>
<rect x="1925.3" y="1721.4" width="180" height="30" class="st"/>
<text transform="translate(2015.6,1742.3) scale(1,1.04)" font-size="16.7" fill="#111" stroke="#111" text-anchor="middle" class="stt">RPL9 (#DEG=1100)</text>
<path d="M1945.5 1850.1v5.6M1980.4 1850.1v5.6M2015.3 1850.1v5.6M2050.2 1850.1v5.6M2085.1 1850.1v5.6" class="tk"/>
<text transform="translate(1952,1866.8) rotate(-45) scale(1,1.04)" font-size="13.0" fill="#404040" stroke="#404040" text-anchor="end" class="g">RPL9_07</text>
<text transform="translate(1986.9,1866.8) rotate(-45) scale(1,1.04)" font-size="13.0" fill="#404040" stroke="#404040" text-anchor="end" class="g">RPL9_04</text>
<text transform="translate(2021.8,1866.8) rotate(-45) scale(1,1.04)" font-size="13.0" fill="#404040" stroke="#404040" text-anchor="end" class="g">RPL9_05</text>
<text transform="translate(2056.7,1866.8) rotate(-45) scale(1,1.04)" font-size="13.0" fill="#404040" stroke="#404040" text-anchor="end" class="g">RPL9_01</text>
<text transform="translate(2091.6,1866.8) rotate(-45) scale(1,1.04)" font-size="13.0" fill="#404040" stroke="#404040" text-anchor="end" class="g">RPL9_00</text>
<path d="M2106.1 1774.2h5.6M2106.1 1806.3h5.6M2106.1 1838.4h5.6" class="tk"/>
<text transform="translate(2115.1,1779.8) scale(1,1.04)" font-size="13.4" fill="#4F7DBE" stroke="#4F7DBE">1</text>
<text transform="translate(2115.1,1811.9) scale(1,1.04)" font-size="13.4" fill="#4F7DBE" stroke="#4F7DBE">0.5</text>
<text transform="translate(2115.1,1844) scale(1,1.04)" font-size="13.4" fill="#4F7DBE" stroke="#4F7DBE">0</text>
<svg x="1157.3" y="1962.9" width="180" height="95.9" viewBox="1157.3 1962.9 180 95.9">
<path d="M1157.3 2064H1337.3M1157.3 2031.9H1337.3M1157.3 1999.8H1337.3M1157.3 1967.7H1337.3" stroke="#EBEBEB" stroke-width="1.8" fill="none"/>
<path d="M1157.3 2047.9H1337.3M1157.3 2015.8H1337.3M1157.3 1983.7H1337.3M1173.9 1962.9V2058.8M1203.3 1962.9V2058.8M1232.6 1962.9V2058.8M1262 1962.9V2058.8M1291.3 1962.9V2058.8M1320.7 1962.9V2058.8" stroke="#EBEBEB" stroke-width="3.4" fill="none"/>
<polyline points="1173.9,2056.1 1203.3,2041.7 1232.6,2036 1262,2013.8 1291.3,2009.9 1320.7,1999.4" stroke="#000" class="cl"/>
<path d="M1173.9 2056.1h0M1203.3 2041.7h0M1232.6 2036h0M1262 2013.8h0M1291.3 2009.9h0M1320.7 1999.4h0" stroke="#000" class="cp"/>
<polyline points="1173.9,2048.3 1203.3,2028.5 1232.6,2022.5 1262,1998.8 1291.3,1984.1 1320.7,1986.8" stroke="#5189CC" class="cl"/>
<path d="M1173.9 2041.8l6.5 6.5l-6.5 6.5l-6.5 -6.5zM1203.3 2022l6.5 6.5l-6.5 6.5l-6.5 -6.5zM1232.6 2016l6.5 6.5l-6.5 6.5l-6.5 -6.5zM1262 1992.3l6.5 6.5l-6.5 6.5l-6.5 -6.5zM1291.3 1977.6l6.5 6.5l-6.5 6.5l-6.5 -6.5zM1320.7 1980.3l6.5 6.5l-6.5 6.5l-6.5 -6.5z" fill="#5189CC" stroke="#5189CC" stroke-width="1.8" stroke-linejoin="round"/>
</svg>
<rect x="1157.3" y="1962.9" width="180" height="95.9" class="bd"/>
<rect x="1157.3" y="1930.9" width="180" height="30" class="st"/>
<text transform="translate(1247.6,1951.8) scale(1,1.04)" font-size="16.7" fill="#111" stroke="#111" text-anchor="middle" class="stt">RPS14 (#DEG=1321)</text>
<path d="M1173.9 2059.6v5.6M1203.3 2059.6v5.6M1232.6 2059.6v5.6M1262 2059.6v5.6M1291.3 2059.6v5.6M1320.7 2059.6v5.6" class="tk"/>
<text transform="translate(1180.4,2076.3) rotate(-45) scale(1,1.04)" font-size="13.0" fill="#404040" stroke="#404040" text-anchor="end" class="g">RPS14_08</text>
<text transform="translate(1209.76,2076.3) rotate(-45) scale(1,1.04)" font-size="13.0" fill="#404040" stroke="#404040" text-anchor="end" class="g">RPS14_13</text>
<text transform="translate(1239.12,2076.3) rotate(-45) scale(1,1.04)" font-size="13.0" fill="#404040" stroke="#404040" text-anchor="end" class="g">RPS14_04</text>
<text transform="translate(1268.48,2076.3) rotate(-45) scale(1,1.04)" font-size="13.0" fill="#404040" stroke="#404040" text-anchor="end" class="g">RPS14_02</text>
<text transform="translate(1297.84,2076.3) rotate(-45) scale(1,1.04)" font-size="13.0" fill="#404040" stroke="#404040" text-anchor="end" class="g">RPS14_00</text>
<text transform="translate(1327.2,2076.3) rotate(-45) scale(1,1.04)" font-size="13.0" fill="#404040" stroke="#404040" text-anchor="end" class="g">RPS14_01</text>
<path d="M1156.5 1983.7h-5.6M1156.5 2015.8h-5.6M1156.5 2047.9h-5.6" class="tk"/>
<text transform="translate(1147.4,1989.3) scale(1,1.04)" font-size="13.4" fill="#404040" stroke="#404040" text-anchor="end" class="g">2</text>
<text transform="translate(1147.4,2021.4) scale(1,1.04)" font-size="13.4" fill="#404040" stroke="#404040" text-anchor="end" class="g">1</text>
<text transform="translate(1147.4,2053.5) scale(1,1.04)" font-size="13.4" fill="#404040" stroke="#404040" text-anchor="end" class="g">0</text>
<svg x="1349.3" y="1962.9" width="180" height="95.9" viewBox="1349.3 1962.9 180 95.9">
<path d="M1349.3 2064H1529.3M1349.3 2031.9H1529.3M1349.3 1999.8H1529.3M1349.3 1967.7H1529.3" stroke="#EBEBEB" stroke-width="1.8" fill="none"/>
<path d="M1349.3 2047.9H1529.3M1349.3 2015.8H1529.3M1349.3 1983.7H1529.3M1369.5 1962.9V2058.8M1404.4 1962.9V2058.8M1439.3 1962.9V2058.8M1474.2 1962.9V2058.8M1509.1 1962.9V2058.8" stroke="#EBEBEB" stroke-width="3.4" fill="none"/>
<polyline points="1369.5,2048.6 1404.4,2030.9 1439.3,2024.6 1474.2,2022.2 1509.1,2020.7" stroke="#000" class="cl"/>
<path d="M1369.5 2048.6h0M1404.4 2030.9h0M1439.3 2024.6h0M1474.2 2022.2h0M1509.1 2020.7h0" stroke="#000" class="cp"/>
<polyline points="1369.5,2024.6 1404.4,2005.1 1439.3,1988 1474.2,1984.1 1509.1,1989.2" stroke="#5189CC" class="cl"/>
<path d="M1369.5 2018.1l6.5 6.5l-6.5 6.5l-6.5 -6.5zM1404.4 1998.6l6.5 6.5l-6.5 6.5l-6.5 -6.5zM1439.3 1981.5l6.5 6.5l-6.5 6.5l-6.5 -6.5zM1474.2 1977.6l6.5 6.5l-6.5 6.5l-6.5 -6.5zM1509.1 1982.7l6.5 6.5l-6.5 6.5l-6.5 -6.5z" fill="#5189CC" stroke="#5189CC" stroke-width="1.8" stroke-linejoin="round"/>
</svg>
<rect x="1349.3" y="1962.9" width="180" height="95.9" class="bd"/>
<rect x="1349.3" y="1930.9" width="180" height="30" class="st"/>
<text transform="translate(1439.6,1951.8) scale(1,1.04)" font-size="16.7" fill="#111" stroke="#111" text-anchor="middle" class="stt">GINS1 (#DEG=1345)</text>
<path d="M1369.5 2059.6v5.6M1404.4 2059.6v5.6M1439.3 2059.6v5.6M1474.2 2059.6v5.6M1509.1 2059.6v5.6" class="tk"/>
<text transform="translate(1376,2076.3) rotate(-45) scale(1,1.04)" font-size="13.0" fill="#404040" stroke="#404040" text-anchor="end" class="g">GINS1_14</text>
<text transform="translate(1410.9,2076.3) rotate(-45) scale(1,1.04)" font-size="13.0" fill="#404040" stroke="#404040" text-anchor="end" class="g">GINS1_03</text>
<text transform="translate(1445.8,2076.3) rotate(-45) scale(1,1.04)" font-size="13.0" fill="#404040" stroke="#404040" text-anchor="end" class="g">GINS1_08</text>
<text transform="translate(1480.7,2076.3) rotate(-45) scale(1,1.04)" font-size="13.0" fill="#404040" stroke="#404040" text-anchor="end" class="g">GINS1_00</text>
<text transform="translate(1515.6,2076.3) rotate(-45) scale(1,1.04)" font-size="13.0" fill="#404040" stroke="#404040" text-anchor="end" class="g">GINS1_06</text>
<svg x="1541.3" y="1962.9" width="180" height="95.9" viewBox="1541.3 1962.9 180 95.9">
<path d="M1541.3 2064H1721.3M1541.3 2031.9H1721.3M1541.3 1999.8H1721.3M1541.3 1967.7H1721.3" stroke="#EBEBEB" stroke-width="1.8" fill="none"/>
<path d="M1541.3 2047.9H1721.3M1541.3 2015.8H1721.3M1541.3 1983.7H1721.3M1557.9 1962.9V2058.8M1587.3 1962.9V2058.8M1616.6 1962.9V2058.8M1646 1962.9V2058.8M1675.3 1962.9V2058.8M1704.7 1962.9V2058.8" stroke="#EBEBEB" stroke-width="3.4" fill="none"/>
<polyline points="1557.9,2048.3 1587.3,2048.3 1616.6,2045 1646,2005.7 1675.3,2000.9 1704.7,1999.4" stroke="#000" class="cl"/>
<path d="M1557.9 2048.3h0M1587.3 2048.3h0M1616.6 2045h0M1646 2005.7h0M1675.3 2000.9h0M1704.7 1999.4h0" stroke="#000" class="cp"/>
<polyline points="1557.9,2028.2 1587.3,2026.1 1616.6,2020.4 1646,1996.1 1675.3,1984.1 1704.7,1986.8" stroke="#5189CC" class="cl"/>
<path d="M1557.9 2021.7l6.5 6.5l-6.5 6.5l-6.5 -6.5zM1587.3 2019.6l6.5 6.5l-6.5 6.5l-6.5 -6.5zM1616.6 2013.9l6.5 6.5l-6.5 6.5l-6.5 -6.5zM1646 1989.6l6.5 6.5l-6.5 6.5l-6.5 -6.5zM1675.3 1977.6l6.5 6.5l-6.5 6.5l-6.5 -6.5zM1704.7 1980.3l6.5 6.5l-6.5 6.5l-6.5 -6.5z" fill="#5189CC" stroke="#5189CC" stroke-width="1.8" stroke-linejoin="round"/>
</svg>
<rect x="1541.3" y="1962.9" width="180" height="95.9" class="bd"/>
<rect x="1541.3" y="1930.9" width="180" height="30" class="st"/>
<text transform="translate(1631.6,1951.8) scale(1,1.04)" font-size="16.7" fill="#111" stroke="#111" text-anchor="middle" class="stt">BCR (#DEG=1736)</text>
<path d="M1557.9 2059.6v5.6M1587.3 2059.6v5.6M1616.6 2059.6v5.6M1646 2059.6v5.6M1675.3 2059.6v5.6M1704.7 2059.6v5.6" class="tk"/>
<text transform="translate(1564.4,2076.3) rotate(-45) scale(1,1.04)" font-size="13.0" fill="#404040" stroke="#404040" text-anchor="end" class="g">BCR_13</text>
<text transform="translate(1593.76,2076.3) rotate(-45) scale(1,1.04)" font-size="13.0" fill="#404040" stroke="#404040" text-anchor="end" class="g">BCR_15</text>
<text transform="translate(1623.12,2076.3) rotate(-45) scale(1,1.04)" font-size="13.0" fill="#404040" stroke="#404040" text-anchor="end" class="g">BCR_05</text>
<text transform="translate(1652.48,2076.3) rotate(-45) scale(1,1.04)" font-size="13.0" fill="#404040" stroke="#404040" text-anchor="end" class="g">BCR_04</text>
<text transform="translate(1681.84,2076.3) rotate(-45) scale(1,1.04)" font-size="13.0" fill="#404040" stroke="#404040" text-anchor="end" class="g">BCR_00</text>
<text transform="translate(1711.2,2076.3) rotate(-45) scale(1,1.04)" font-size="13.0" fill="#404040" stroke="#404040" text-anchor="end" class="g">BCR_07</text>
<svg x="1733.3" y="1962.9" width="180" height="95.9" viewBox="1733.3 1962.9 180 95.9">
<path d="M1733.3 2064H1913.3M1733.3 2031.9H1913.3M1733.3 1999.8H1913.3M1733.3 1967.7H1913.3" stroke="#EBEBEB" stroke-width="1.8" fill="none"/>
<path d="M1733.3 2047.9H1913.3M1733.3 2015.8H1913.3M1733.3 1983.7H1913.3M1749.9 1962.9V2058.8M1779.3 1962.9V2058.8M1808.6 1962.9V2058.8M1838 1962.9V2058.8M1867.3 1962.9V2058.8M1896.7 1962.9V2058.8" stroke="#EBEBEB" stroke-width="3.4" fill="none"/>
<polyline points="1749.9,2053.4 1779.3,2032.1 1808.6,2008.7 1838,2008.4 1867.3,2001.8 1896.7,1997.6" stroke="#000" class="cl"/>
<path d="M1749.9 2053.4h0M1779.3 2032.1h0M1808.6 2008.7h0M1838 2008.4h0M1867.3 2001.8h0M1896.7 1997.6h0" stroke="#000" class="cp"/>
<polyline points="1749.9,2041.1 1779.3,2012 1808.6,1997.6 1838,1984.4 1867.3,1982.9 1896.7,1985.9" stroke="#5189CC" class="cl"/>
<path d="M1749.9 2034.6l6.5 6.5l-6.5 6.5l-6.5 -6.5zM1779.3 2005.5l6.5 6.5l-6.5 6.5l-6.5 -6.5zM1808.6 1991.1l6.5 6.5l-6.5 6.5l-6.5 -6.5zM1838 1977.9l6.5 6.5l-6.5 6.5l-6.5 -6.5zM1867.3 1976.4l6.5 6.5l-6.5 6.5l-6.5 -6.5zM1896.7 1979.4l6.5 6.5l-6.5 6.5l-6.5 -6.5z" fill="#5189CC" stroke="#5189CC" stroke-width="1.8" stroke-linejoin="round"/>
</svg>
<rect x="1733.3" y="1962.9" width="180" height="95.9" class="bd"/>
<rect x="1733.3" y="1930.9" width="180" height="30" class="st"/>
<text transform="translate(1823.6,1951.8) scale(1,1.04)" font-size="16.7" fill="#111" stroke="#111" text-anchor="middle" class="stt">GATA1 (#DEG=1770)</text>
<path d="M1749.9 2059.6v5.6M1779.3 2059.6v5.6M1808.6 2059.6v5.6M1838 2059.6v5.6M1867.3 2059.6v5.6M1896.7 2059.6v5.6" class="tk"/>
<text transform="translate(1756.4,2076.3) rotate(-45) scale(1,1.04)" font-size="13.0" fill="#404040" stroke="#404040" text-anchor="end" class="g">GATA1_12</text>
<text transform="translate(1785.76,2076.3) rotate(-45) scale(1,1.04)" font-size="13.0" fill="#404040" stroke="#404040" text-anchor="end" class="g">GATA1_06</text>
<text transform="translate(1815.12,2076.3) rotate(-45) scale(1,1.04)" font-size="13.0" fill="#404040" stroke="#404040" text-anchor="end" class="g">GATA1_08</text>
<text transform="translate(1844.48,2076.3) rotate(-45) scale(1,1.04)" font-size="13.0" fill="#404040" stroke="#404040" text-anchor="end" class="g">GATA1_00</text>
<text transform="translate(1873.84,2076.3) rotate(-45) scale(1,1.04)" font-size="13.0" fill="#404040" stroke="#404040" text-anchor="end" class="g">GATA1_03</text>
<text transform="translate(1903.2,2076.3) rotate(-45) scale(1,1.04)" font-size="13.0" fill="#404040" stroke="#404040" text-anchor="end" class="g">GATA1_04</text>
<svg x="1925.3" y="1962.9" width="180" height="95.9" viewBox="1925.3 1962.9 180 95.9">
<path d="M1925.3 2064H2105.3M1925.3 2031.9H2105.3M1925.3 1999.8H2105.3M1925.3 1967.7H2105.3" stroke="#EBEBEB" stroke-width="1.8" fill="none"/>
<path d="M1925.3 2047.9H2105.3M1925.3 2015.8H2105.3M1925.3 1983.7H2105.3M1945.5 1962.9V2058.8M1980.4 1962.9V2058.8M2015.3 1962.9V2058.8M2050.2 1962.9V2058.8M2085.1 1962.9V2058.8" stroke="#EBEBEB" stroke-width="3.4" fill="none"/>
<polyline points="1945.5,2050.4 1980.4,2018 2015.3,2012.9 2050.2,2009.6 2085.1,2006" stroke="#000" class="cl"/>
<path d="M1945.5 2050.4h0M1980.4 2018h0M2015.3 2012.9h0M2050.2 2009.6h0M2085.1 2006h0" stroke="#000" class="cp"/>
<polyline points="1945.5,2033.6 1980.4,1984.1 2015.3,1984.7 2050.2,1991.9 2085.1,1981.4" stroke="#5189CC" class="cl"/>
<path d="M1945.5 2027.1l6.5 6.5l-6.5 6.5l-6.5 -6.5zM1980.4 1977.6l6.5 6.5l-6.5 6.5l-6.5 -6.5zM2015.3 1978.2l6.5 6.5l-6.5 6.5l-6.5 -6.5zM2050.2 1985.4l6.5 6.5l-6.5 6.5l-6.5 -6.5zM2085.1 1974.9l6.5 6.5l-6.5 6.5l-6.5 -6.5z" fill="#5189CC" stroke="#5189CC" stroke-width="1.8" stroke-linejoin="round"/>
</svg>
<rect x="1925.3" y="1962.9" width="180" height="95.9" class="bd"/>
<rect x="1925.3" y="1930.9" width="180" height="30" class="st"/>
<text transform="translate(2015.6,1951.8) scale(1,1.04)" font-size="16.7" fill="#111" stroke="#111" text-anchor="middle" class="stt">HSPA5 (#DEG=2310)</text>
<path d="M1945.5 2059.6v5.6M1980.4 2059.6v5.6M2015.3 2059.6v5.6M2050.2 2059.6v5.6M2085.1 2059.6v5.6" class="tk"/>
<text transform="translate(1952,2076.3) rotate(-45) scale(1,1.04)" font-size="13.0" fill="#404040" stroke="#404040" text-anchor="end" class="g">HSPA5_06</text>
<text transform="translate(1986.9,2076.3) rotate(-45) scale(1,1.04)" font-size="13.0" fill="#404040" stroke="#404040" text-anchor="end" class="g">HSPA5_00</text>
<text transform="translate(2021.8,2076.3) rotate(-45) scale(1,1.04)" font-size="13.0" fill="#404040" stroke="#404040" text-anchor="end" class="g">HSPA5_04</text>
<text transform="translate(2056.7,2076.3) rotate(-45) scale(1,1.04)" font-size="13.0" fill="#404040" stroke="#404040" text-anchor="end" class="g">HSPA5_01</text>
<text transform="translate(2091.6,2076.3) rotate(-45) scale(1,1.04)" font-size="13.0" fill="#404040" stroke="#404040" text-anchor="end" class="g">HSPA5_08</text>
<path d="M2106.1 1983.7h5.6M2106.1 2015.8h5.6M2106.1 2047.9h5.6" class="tk"/>
<text transform="translate(2115.1,1989.3) scale(1,1.04)" font-size="13.4" fill="#4F7DBE" stroke="#4F7DBE">1</text>
<text transform="translate(2115.1,2021.4) scale(1,1.04)" font-size="13.4" fill="#4F7DBE" stroke="#4F7DBE">0.5</text>
<text transform="translate(2115.1,2053.5) scale(1,1.04)" font-size="13.4" fill="#4F7DBE" stroke="#4F7DBE">0</text>
<text transform="translate(1128.7,1595.6) rotate(-90) scale(1,1.03)" font-size="25.7" stroke="#000" text-anchor="middle" class="ws">Perturbation score</text>
<text transform="translate(2143.8,1597.7) rotate(90) scale(1,1.03)" font-size="25.6" fill="#4F7DBE" stroke="#4F7DBE" text-anchor="middle" class="ws">Relative activity of gRNA</text>
<text transform="translate(1630.4,2146.4) scale(1,1.03)" font-size="25.7" stroke="#000" text-anchor="middle" class="ws">gRNA identity (ordered by growth phenotype)</text>
</g>
<text transform="translate(-0.2,30.3) scale(0.8,0.98)" font-size="43.5" stroke="#000" style="stroke:#fff;stroke-width:0.6px">a.</text>
<text transform="translate(-0.2,780.6) scale(1.03,0.98)" font-size="43.5" stroke="#000" style="stroke:#fff;stroke-width:0.6px">b.</text>
<text transform="translate(1062.3,29.7) scale(0.89,0.98)" font-size="43.5" stroke="#000" style="stroke:#fff;stroke-width:0.6px">c.</text>
<text transform="translate(1063,1126.6) scale(1.03,0.98)" font-size="43.5" stroke="#000" style="stroke:#fff;stroke-width:0.6px">d.</text>
</svg></body></html>
